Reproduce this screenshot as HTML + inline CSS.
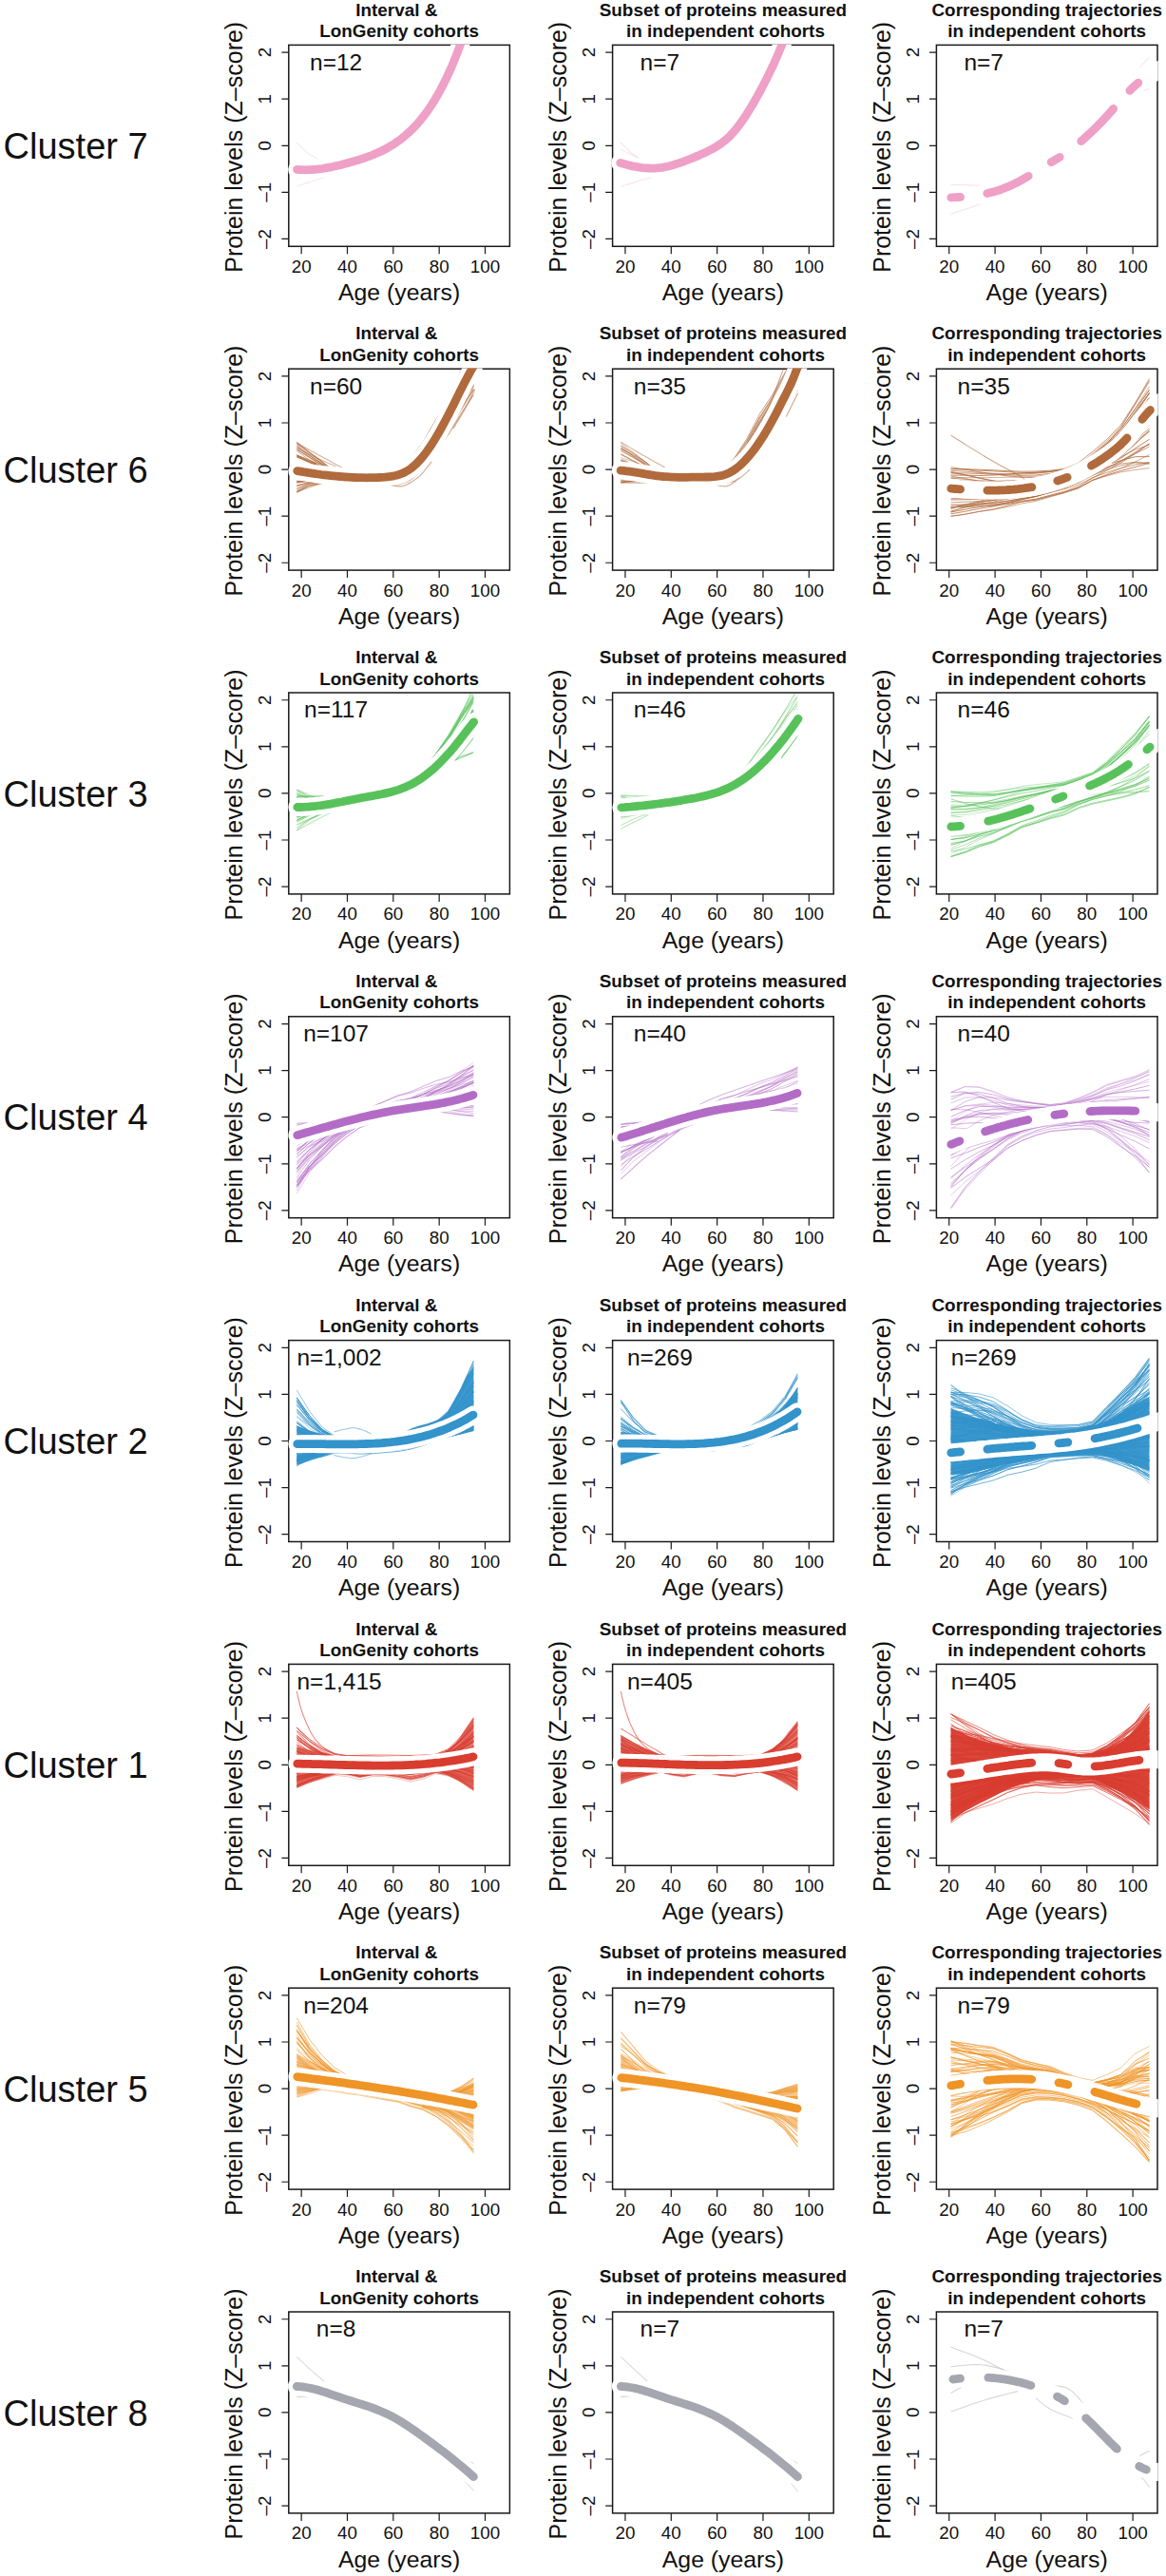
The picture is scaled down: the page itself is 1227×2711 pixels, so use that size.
<!DOCTYPE html><html><head><meta charset="utf-8"><style>html,body{margin:0;padding:0;background:#fff;}svg{display:block;} text{font-family:"Liberation Sans",sans-serif;fill:#111}.a{font-size:18.8px;text-anchor:middle}.b{font-size:24.8px;text-anchor:middle}.c{font-size:18.9px;font-weight:bold;text-anchor:middle}.n{font-size:24.5px;text-anchor:middle}.k{stroke:#1a1a1a;stroke-width:1.2;fill:none}.x{fill:none;stroke:#1a1a1a;stroke-width:1.5}.l{fill:none;stroke-linejoin:round}.m{fill:none;stroke-linecap:round;stroke-linejoin:round}</style></head><body>
<svg width="1227" height="2711" viewBox="0 0 1227 2711">
<rect width="1227" height="2711" fill="#fff"/>
<defs>
<clipPath id="k00"><rect x="303.10" y="46.70" width="234.00" height="213.30"/></clipPath>
<clipPath id="k01"><rect x="643.90" y="46.70" width="234.00" height="213.30"/></clipPath>
<clipPath id="k02"><rect x="984.70" y="46.70" width="234.00" height="213.30"/></clipPath>
<clipPath id="k10"><rect x="303.10" y="387.50" width="234.00" height="213.30"/></clipPath>
<clipPath id="k11"><rect x="643.90" y="387.50" width="234.00" height="213.30"/></clipPath>
<clipPath id="k12"><rect x="984.70" y="387.50" width="234.00" height="213.30"/></clipPath>
<clipPath id="k20"><rect x="303.10" y="728.30" width="234.00" height="213.30"/></clipPath>
<clipPath id="k21"><rect x="643.90" y="728.30" width="234.00" height="213.30"/></clipPath>
<clipPath id="k22"><rect x="984.70" y="728.30" width="234.00" height="213.30"/></clipPath>
<clipPath id="k30"><rect x="303.10" y="1069.10" width="234.00" height="213.30"/></clipPath>
<clipPath id="k31"><rect x="643.90" y="1069.10" width="234.00" height="213.30"/></clipPath>
<clipPath id="k32"><rect x="984.70" y="1069.10" width="234.00" height="213.30"/></clipPath>
<clipPath id="k40"><rect x="303.10" y="1409.90" width="234.00" height="213.30"/></clipPath>
<clipPath id="k41"><rect x="643.90" y="1409.90" width="234.00" height="213.30"/></clipPath>
<clipPath id="k42"><rect x="984.70" y="1409.90" width="234.00" height="213.30"/></clipPath>
<clipPath id="k50"><rect x="303.10" y="1750.70" width="234.00" height="213.30"/></clipPath>
<clipPath id="k51"><rect x="643.90" y="1750.70" width="234.00" height="213.30"/></clipPath>
<clipPath id="k52"><rect x="984.70" y="1750.70" width="234.00" height="213.30"/></clipPath>
<clipPath id="k60"><rect x="303.10" y="2091.50" width="234.00" height="213.30"/></clipPath>
<clipPath id="k61"><rect x="643.90" y="2091.50" width="234.00" height="213.30"/></clipPath>
<clipPath id="k62"><rect x="984.70" y="2091.50" width="234.00" height="213.30"/></clipPath>
<clipPath id="k70"><rect x="303.10" y="2432.30" width="234.00" height="213.30"/></clipPath>
<clipPath id="k71"><rect x="643.90" y="2432.30" width="234.00" height="213.30"/></clipPath>
<clipPath id="k72"><rect x="984.70" y="2432.30" width="234.00" height="213.30"/></clipPath>
</defs>
<text x="3.6" y="166.9" font-size="38">Cluster 7</text>
<text class="c" x="417.3" y="16.5">Interval &amp;</text>
<text class="c" x="420.1" y="38.9">LonGenity cohorts</text>
<rect class="x" x="303.80" y="47.40" width="232.60" height="211.90"/>
<text class="a" transform="translate(285.3 251.46) rotate(-90)">–2</text>
<text class="a" transform="translate(285.3 202.38) rotate(-90)">–1</text>
<text class="a" transform="translate(285.3 153.30) rotate(-90)">0</text>
<text class="a" transform="translate(285.3 104.22) rotate(-90)">1</text>
<text class="a" transform="translate(285.3 55.14) rotate(-90)">2</text>
<text class="a" x="317.15" y="286.7">20</text>
<text class="a" x="365.49" y="286.7">40</text>
<text class="a" x="413.83" y="286.7">60</text>
<text class="a" x="462.17" y="286.7">80</text>
<text class="a" x="510.51" y="286.7">100</text>
<path class="k" d="M296.4 251.46h7.4M296.4 202.38h7.4M296.4 153.30h7.4M296.4 104.22h7.4M296.4 55.14h7.4M317.15 259.3v8M365.49 259.3v8M413.83 259.3v8M462.17 259.3v8M510.51 259.3v8"/>
<text class="b" x="420.1" y="315.9">Age (years)</text>
<text class="b" style="font-size:25px" transform="translate(255.4 154.8) rotate(-90)">Protein levels (Z–score)</text>
<g clip-path="url(#k00)">
<g class="l" stroke="#EFA0C6">
<path stroke-width="1.2" stroke-opacity="0.25" d="M312.3 150.0l1.1 1.2 1.5 1.6 1.8 1.9 2 2 2 1.9 1.9 1.7 2.1 1.5 2.4 1.4 2.4 1.3 2.2 1.2 1.9 1.1 1.4 .7"/>
<path stroke-width="1.2" stroke-opacity="0.25" d="M312.3 196.3l1.6-.5 2.1-.8 2.5-.9 2.8-1 2.8-1 2.7-.9 2.8-.9 3.1-1 3.2-1 3-.9 2.5-.8 1.8-.6"/>
<path stroke-width="1.5" stroke-opacity="0.20" d="M312.3 188.1l7.3-1"/>
</g>
<path class="m" stroke="#fff" stroke-width="19.0" d="M312.6 178.4l2.8 .2 2.9 .1 2.9 .1 3.4-.1 2.9-.1 2.8-.2 2.9-.2 2.9-.4 2.8-.3 3.5-.6 2.8-.5 2.9-.5 2.9-.6 2.8-.7 2.9-.6 2.9-.8 3.4-.9 2.9-.7 2.9-.8 2.8-.9 2.9-.8 2.9-.9 3.4-1.1 2.9-.9 2.8-1 2.9-1.1 2.9-1.1 2.8-1.2 2.9-1.2 3.4-1.6 2.9-1.5 2.9-1.5 2.8-1.7 2.9-1.7 2.9-1.9 2.9-2 3.4-2.5 2.9-2.3 2.8-2.4 2.9-2.6 2.9-2.8 2.8-2.9 3.5-3.8 2.8-3.3 2.9-3.6 2.9-3.8 2.8-4 2.9-4.3 2.9-4.6 3.4-5.8 2.9-5.2 2.8-5.4 2.9-5.8 2.9-6.1 2.9-6.4 3.4-8.2 2.9-7.2 2.8-7.6 2.9-8"/>
<path class="m" stroke="#EFA0C6" stroke-width="8.8" d="M312.6 178.4l2.8 .2 2.9 .1 2.9 .1 3.4-.1 2.9-.1 2.8-.2 2.9-.2 2.9-.4 2.8-.3 3.5-.6 2.8-.5 2.9-.5 2.9-.6 2.8-.7 2.9-.6 2.9-.8 3.4-.9 2.9-.7 2.9-.8 2.8-.9 2.9-.8 2.9-.9 3.4-1.1 2.9-.9 2.8-1 2.9-1.1 2.9-1.1 2.8-1.2 2.9-1.2 3.4-1.6 2.9-1.5 2.9-1.5 2.8-1.7 2.9-1.7 2.9-1.9 2.9-2 3.4-2.5 2.9-2.3 2.8-2.4 2.9-2.6 2.9-2.8 2.8-2.9 3.5-3.8 2.8-3.3 2.9-3.6 2.9-3.8 2.8-4 2.9-4.3 2.9-4.6 3.4-5.8 2.9-5.2 2.8-5.4 2.9-5.8 2.9-6.1 2.9-6.4 3.4-8.2 2.9-7.2 2.8-7.6 2.9-8"/>
</g>
<text class="n" x="353.6" y="73.7">n=12</text>
<text class="c" x="760.9" y="16.5">Subset of proteins measured</text>
<text class="c" x="763.5" y="38.9">in independent cohorts</text>
<rect class="x" x="644.60" y="47.40" width="232.60" height="211.90"/>
<text class="a" transform="translate(626.1 251.46) rotate(-90)">–2</text>
<text class="a" transform="translate(626.1 202.38) rotate(-90)">–1</text>
<text class="a" transform="translate(626.1 153.30) rotate(-90)">0</text>
<text class="a" transform="translate(626.1 104.22) rotate(-90)">1</text>
<text class="a" transform="translate(626.1 55.14) rotate(-90)">2</text>
<text class="a" x="657.95" y="286.7">20</text>
<text class="a" x="706.29" y="286.7">40</text>
<text class="a" x="754.63" y="286.7">60</text>
<text class="a" x="802.97" y="286.7">80</text>
<text class="a" x="851.31" y="286.7">100</text>
<path class="k" d="M637.2 251.46h7.4M637.2 202.38h7.4M637.2 153.30h7.4M637.2 104.22h7.4M637.2 55.14h7.4M657.95 259.3v8M706.29 259.3v8M754.63 259.3v8M802.97 259.3v8M851.31 259.3v8"/>
<text class="b" x="760.9" y="315.9">Age (years)</text>
<text class="b" style="font-size:25px" transform="translate(596.2 154.8) rotate(-90)">Protein levels (Z–score)</text>
<g clip-path="url(#k01)">
<g class="l" stroke="#EFA0C6">
<path stroke-width="1.2" stroke-opacity="0.30" d="M653.3 150.0l1.2 1.2 1.5 1.6 1.9 1.9 1.9 2 2 1.9 1.8 1.7 1.9 1.5 2 1.4 1.9 1.3 1.9 1.2 1.5 1.1 1.1 .7"/>
<path stroke-width="1.2" stroke-opacity="0.25" d="M653.3 157.2l18.6 9.3"/>
<path stroke-width="1.2" stroke-opacity="0.30" d="M653.3 196.3l1.8-.5 2.5-.8 3-.9 3.1-1 3.2-1 2.9-.9 3-.9 3.1-1 3.2-1 2.9-.9 2.5-.8 1.8-.6"/>
</g>
<path class="m" stroke="#fff" stroke-width="19.0" d="M652.7 171.5l3 .8 2.9 .8 3 .8 2.9 .7 2.9 .6 3 .5 2.9 .5 3 .4 2.9 .3 2.9 .1 3 .1 2.9 0 3-.2 2.9-.3 2.4-.3 3-.5 2.9-.6 3-.7 2.9-.8 2.9-.9 3-.9 2.9-1 3-1.1 2.9-1.1 2.9-1.2 3-1.2 2.9-1.2 3-1.2 2.9-1.3 2.9-1.3 3-1.4 2.9-1.5 3-1.5 2.9-1.7 2.9-1.8 3-1.9 2.9-2.1 3-2.4 2.9-2.6 2.9-3.1 3-3.3 2.9-3.6 3-3.9 2.9-4.1 2.5-3.6 2.9-4.6 2.9-4.7 3-5 2.9-5.1 3-5.4 2.9-5.4 2.9-5.7 3-5.7 2.9-6 3-6.2 2.9-6.5 2.9-6.9 3-7.2 2.9-7.7"/>
<path class="m" stroke="#EFA0C6" stroke-width="8.8" d="M652.7 171.5l3 .8 2.9 .8 3 .8 2.9 .7 2.9 .6 3 .5 2.9 .5 3 .4 2.9 .3 2.9 .1 3 .1 2.9 0 3-.2 2.9-.3 2.4-.3 3-.5 2.9-.6 3-.7 2.9-.8 2.9-.9 3-.9 2.9-1 3-1.1 2.9-1.1 2.9-1.2 3-1.2 2.9-1.2 3-1.2 2.9-1.3 2.9-1.3 3-1.4 2.9-1.5 3-1.5 2.9-1.7 2.9-1.8 3-1.9 2.9-2.1 3-2.4 2.9-2.6 2.9-3.1 3-3.3 2.9-3.6 3-3.9 2.9-4.1 2.5-3.6 2.9-4.6 2.9-4.7 3-5 2.9-5.1 3-5.4 2.9-5.4 2.9-5.7 3-5.7 2.9-6 3-6.2 2.9-6.5 2.9-6.9 3-7.2 2.9-7.7"/>
</g>
<text class="n" x="694.4" y="73.7">n=7</text>
<text class="c" x="1101.7" y="16.5">Corresponding trajectories</text>
<text class="c" x="1101.7" y="38.9">in independent cohorts</text>
<rect class="x" x="985.40" y="47.40" width="232.60" height="211.90"/>
<text class="a" transform="translate(966.9 251.46) rotate(-90)">–2</text>
<text class="a" transform="translate(966.9 202.38) rotate(-90)">–1</text>
<text class="a" transform="translate(966.9 153.30) rotate(-90)">0</text>
<text class="a" transform="translate(966.9 104.22) rotate(-90)">1</text>
<text class="a" transform="translate(966.9 55.14) rotate(-90)">2</text>
<text class="a" x="998.75" y="286.7">20</text>
<text class="a" x="1047.09" y="286.7">40</text>
<text class="a" x="1095.43" y="286.7">60</text>
<text class="a" x="1143.77" y="286.7">80</text>
<text class="a" x="1192.11" y="286.7">100</text>
<path class="k" d="M978.0 251.46h7.4M978.0 202.38h7.4M978.0 153.30h7.4M978.0 104.22h7.4M978.0 55.14h7.4M998.75 259.3v8M1047.09 259.3v8M1095.43 259.3v8M1143.77 259.3v8M1192.11 259.3v8"/>
<text class="b" x="1101.7" y="315.9">Age (years)</text>
<text class="b" style="font-size:25px" transform="translate(937.0 154.8) rotate(-90)">Protein levels (Z–score)</text>
<g clip-path="url(#k02)">
<g class="l" stroke="#EFA0C6">
<path stroke-width="1.2" stroke-opacity="0.30" d="M1000.6 194.3l1.6 0 2.3 .1 2.7 0 3 .1 3 .1 2.8 .1 2.9 .1 3.1 .1 3.2 .1 3 .1 2.5 .1 1.8 .1"/>
<path stroke-width="1.2" stroke-opacity="0.30" d="M1000.6 225.1l2.1-.6 3-.9 3.5-1.1 3.7-1.2 3.8-1.2 3.4-1.1 3.4-1.3 3.5-1.3 3.6-1.4 3.3-1.3 2.7-1.2 2-.7"/>
<path stroke-width="1.2" stroke-opacity="0.25" d="M1199.2 70.8l10.3-10.3"/>
<path stroke-width="1.2" stroke-opacity="0.25" d="M1203.3 95.5l6.2-2.1"/>
</g>
<path class="m" stroke="#fff" stroke-width="19.0" d="M1001.6 207.8l3.4-.1 4.6-.3 3.5-.2 3.4-.3 3.4-.3 4.6-.5 3.5-.5 3.4-.6 3.4-.6 4.6-1 3.5-.9 3.4-.9 3.5-1 4.5-1.6 3.5-1.3 3.4-1.4 3.5-1.6 4.6-2.2 3.4-1.8 3.4-1.9 3.5-2 4.6-2.7 3.4-2.1 3.5-2.1 3.4-2.1 4.6-2.8 3.4-2.1 3.5-2.1 3.4-2 4.6-2.7 3.4-2.2 3.5-2.3 3.4-2.4 4.6-3.4 3.5-2.7 3.4-2.9 3.4-2.9 4.6-4.1 3.5-3.2 3.4-3.3 3.4-3.4 4.6-4.7 3.5-3.6 3.4-3.8 3.5-3.8 4.5-5.2 3.5-4 3.4-3.9 3.5-3.9 4.6-4.8 3.4-3.3 3.4-3.1 3.5-2.9 4.6-3.4 3.4-2.3 3.5-2.1 3.4-1.9 4.6-2.2 3.4-1.5"/>
<path class="m" stroke="#EFA0C6" stroke-width="8.8" d="M1000.8 207.8l.8 0 1.1 0 1.2-.1 1.1 0 1.2-.1 1.1 0 1.2-.1 1.1-.1 1 0M1038.8 203.5l1.8-.4 2.3-.6 2.3-.6 2.3-.6 2.3-.7 2.3-.8 2.2-.8 2.3-.9 2.3-.9 3.5-1.4 2.3-1.1 2.3-1.1 2.3-1.1 2.3-1.2 2.2-1.2 2.3-1.3 2.3-1.3 2.3-1.3 1.5-.9M1106.2 170.7l.9-.5 1.2-.7 1.1-.7 1.2-.7 1.1-.7 1.2-.6 1.1-.7 1.1-.7 .1-.1M1137.7 148.6l1.5-1.3 1.2-1 2.3-2.1 2.3-2.1 1.1-1 2.3-2.2 1.2-1.1 2.3-2.2 2.2-2.3 1.2-1.2 2.3-2.3 2.3-2.4 1.1-1.2 2.3-2.5 1.2-1.2 2.3-2.5 2.3-2.6 1.1-1.3 1.4-1.6M1188.9 95.3l.8-.8 1.2-1.2 1.1-1 1.1-1.1 1.2-1 1.1-1 1.2-1 1.1-.9 .1-.1"/>
</g>
<text class="n" x="1035.2" y="73.7">n=7</text>
<text x="3.6" y="507.8" font-size="38">Cluster 6</text>
<text class="c" x="417.3" y="357.3">Interval &amp;</text>
<text class="c" x="420.1" y="379.7">LonGenity cohorts</text>
<rect class="x" x="303.80" y="388.20" width="232.60" height="211.90"/>
<text class="a" transform="translate(285.3 592.26) rotate(-90)">–2</text>
<text class="a" transform="translate(285.3 543.18) rotate(-90)">–1</text>
<text class="a" transform="translate(285.3 494.10) rotate(-90)">0</text>
<text class="a" transform="translate(285.3 445.02) rotate(-90)">1</text>
<text class="a" transform="translate(285.3 395.94) rotate(-90)">2</text>
<text class="a" x="317.15" y="627.5">20</text>
<text class="a" x="365.49" y="627.5">40</text>
<text class="a" x="413.83" y="627.5">60</text>
<text class="a" x="462.17" y="627.5">80</text>
<text class="a" x="510.51" y="627.5">100</text>
<path class="k" d="M296.4 592.26h7.4M296.4 543.18h7.4M296.4 494.10h7.4M296.4 445.02h7.4M296.4 395.94h7.4M317.15 600.1v8M365.49 600.1v8M413.83 600.1v8M462.17 600.1v8M510.51 600.1v8"/>
<text class="b" x="420.1" y="656.7">Age (years)</text>
<text class="b" style="font-size:25px" transform="translate(255.4 495.6) rotate(-90)">Protein levels (Z–score)</text>
<g clip-path="url(#k10)">
<g class="l" stroke="#B06A3C">
<path stroke-width="1.0" stroke-opacity="0.64" d="M312.3 511.1l13.3-3.4 13.3-1.5 13.3-.9 13.3 .5 13.3 .1 13.3 0 13.3-.4 13.3 .2 13.3-5.7 13.3-13 13.2-19.7 13.3-22.7 13.3-26.7 13.3-25.2"/>
<path stroke-width="1.0" stroke-opacity="0.53" d="M312.3 507.5l13.3-1.5 13.3-.6 13.3-.5 13.3 .7 13.3 .5 13.3 .4 13.3 .4 13.3 1.8 13.3-3.9 13.3-11.4 13.2-18.5 13.3-17.2 13.3-22 13.3-19.9"/>
<path stroke-width="1.0" stroke-opacity="0.61" d="M312.3 478.8l13.3 5.4 13.3 6 13.3 7.7 13.3 .7 13.3 .8 13.3 .7 13.3-.2 13.3-4.8 13.3-12.2 13.3-17.8 13.2-22.9 13.3-20.3 13.3-23.5 13.3-22.2"/>
<path stroke-width="1.0" stroke-opacity="0.55" d="M312.3 489.8l13.3 2.1 13.3 2.8 13.3 4.4 13.3 .9 13.3 .6 13.3 .4 13.3-.5 13.3-4.5 13.3-11.5 13.3-17.6 13.2-22.9 13.3-21 13.3-23.9 13.3-22.7"/>
<path stroke-width="1.0" stroke-opacity="0.40" d="M312.3 496.7l13.3 2 13.3 1.5 13.3 1.2 13.3 1.4 13.3 .6 13.3 .1 13.3-.8 13.3-1.3 13.3-6.3 13.3-12.8 13.2-18.8 13.3-22.8 13.3-25.2 13.3-23.2"/>
<path stroke-width="1.0" stroke-opacity="0.66" d="M312.3 466.6l13.3 10.4 13.3 9.7 13.3 10.4 13.3 1.4 13.3 1.4 13.3 1 13.3-.4 13.3-4.4 13.3-10.8 13.3-16.2 13.2-21.2 13.3-21.2 13.3-24.3 13.3-23.2"/>
<path stroke-width="1.0" stroke-opacity="0.68" d="M312.3 494.8l13.3 .7 13.3 1.2 13.3 2.7 13.3 1 13.3 .7 13.3 .5 13.3-.5 13.3-4.2 13.3-11.2 13.3-17.3 13.2-22.5 13.3-21.4 13.3-24.2 13.3-22.8"/>
<path stroke-width="1.0" stroke-opacity="0.69" d="M312.3 480.8l13.3 5.8 13.3 5.3 13.3 6.4 13.3 1.2 13.3 1 13.3 .7 13.3-.4 13.3-4.6 13.3-12 13.3-18.2 13.2-23.9 13.3-21.3 13.3-24.1 13.3-22.9"/>
<path stroke-width="1.0" stroke-opacity="0.68" d="M312.3 508.2l13.3-2.5 13.3-1.1 13.3-.6 13.3 .5 13.3 .3 13.3 0 13.3-.5 13.3-.7 13.3-6.4 13.3-13.5 13.2-19.9 13.3-24.5 13.3-27.5 13.3-26.1"/>
<path stroke-width="1.0" stroke-opacity="0.41" d="M312.3 502.9l13.3-.3 13.3 .1 13.3 .3 13.3 .9 13.3 .5 13.3 0 13.3-.5 13.3-.6 13.3-5.9 13.3-12.8 13.2-19.2 13.3-22.6 13.3-25.7 13.3-23.7"/>
<path stroke-width="1.0" stroke-opacity="0.43" d="M312.3 488.2l13.3 3.4 13.3 3.4 13.3 4.4 13.3 1.1 13.3 .7 13.3 .4 13.3-.6 13.3-4.4 13.3-11.5 13.3-18.1 13.2-24 13.3-21.8 13.3-24.4 13.3-23"/>
<path stroke-width="1.0" stroke-opacity="0.66" d="M312.3 511.9l13.3-3.9 13.3-1.8 13.3-1 13.3 .3 13.3 .2 13.3 0 13.3-.3 13.3 .1 13.3-5.4 13.3-12.7 13.2-19.2 13.3-21.5 13.3-25.2 13.3-23.5"/>
<path stroke-width="1.0" stroke-opacity="0.39" d="M312.3 473.5l13.3 8.4 13.3 7.8 13.3 8.4 13.3 1.2 13.3 1 13.3 .7 13.3-.3 13.3-3.3 13.3-8.7 13.3-14 13.2-18.9 13.3-22.1 13.3-25.1 13.3-23.6"/>
<path stroke-width="1.0" stroke-opacity="0.53" d="M312.3 496.6l13.3 2.8 13.3 1.7 13.3 1.2 13.3 1.5 13.3 .8 13.3 .4 13.3-.1 13.3 .5 13.3-4.7 13.3-11.7 13.2-18.4 13.3-18.6 13.3-22.4 13.3-20.1"/>
<path stroke-width="1.0" stroke-opacity="0.39" d="M312.3 502.2l13.3-.1 13.3 .3 13.3 .4 13.3 1.1 13.3 .6 13.3 .2 13.3-.4 13.3-.4 13.3-5.6 13.3-12.6 13.2-19 13.3-21.7 13.3-24.8 13.3-22.7"/>
<path stroke-width="1.0" stroke-opacity="0.66" d="M312.3 472.8l13.3 8.4 13.3 7.9 13.3 8.6 13.3 1.1 13.3 1 13.3 .9 13.3-.2 13.3-4 13.3-10.4 13.3-16.1 13.2-21.3 13.3-21.6 13.3-24.5 13.3-23"/>
<path stroke-width="1.0" stroke-opacity="0.44" d="M312.3 497.3l13.3 2.4 13.3 1.5 13.3 1 13.3 1.3 13.3 .7 13.3 .3 13.3-.2 13.3 0 13.3-5.2 13.3-12.2 13.2-18.8 13.3-20.5 13.3-24.1 13.3-22"/>
<path stroke-width="1.0" stroke-opacity="0.50" d="M312.3 465.4l13.3 10.1 13.3 9.9 13.3 11.4 13.3 1 13.3 1.3 13.3 1.1 13.3-.2 13.3-5.1 13.3-12.1 13.3-17.4 13.2-22 13.3-20.1 13.3-23.4 13.3-22.4"/>
<path stroke-width="1.0" stroke-opacity="0.68" d="M312.3 502.8l13.3 .3 13.3 .4 13.3 .3 13.3 1.1 13.3 .7 13.3 .4 13.3 0 13.3 .6 13.3-4.9 13.3-12.2 13.2-19 13.3-19.6 13.3-23.8 13.3-22"/>
<path stroke-width="1.0" stroke-opacity="0.55" d="M312.3 518.3l13.3-7.4 13.3-3.5 13.3-2 13.3 .1 13.3 .2 13.3-.2 13.3-.7 13.3-1.1 13.3-6.8 13.3-13.9 13.2-20 13.3-24.7 13.3-27.6 13.3-25.7"/>
<path stroke-width="1.0" stroke-opacity="0.39" d="M312.3 490.9l13.3 2.5 13.3 2.6 13.3 3.7 13.3 1.2 13.3 .7 13.3 .3 13.3-.8 13.3-3.3 13.3-8.9 13.3-14.7 13.2-20.1 13.3-22.5 13.3-25.2 13.3-23.6"/>
<path stroke-width="1.0" stroke-opacity="0.56" d="M312.3 465.5l13.3 10.4 13.3 10 13.3 10.9 13.3 1.3 13.3 1.5 13.3 1.1 13.3-.1 13.3-4.2 13.3-10.4 13.3-15.4 13.2-20.1 13.3-21.1 13.3-24.3 13.3-22.9"/>
<path stroke-width="1.0" stroke-opacity="0.46" d="M312.3 466.9l13.3 9.4 13.3 9.5 13.3 10.9 13.3 1.1 13.3 1.2 13.3 1.1 13.3-.1 13.3-5.1 13.3-12.2 13.3-17.6 13.2-22.4 13.3-20 13.3-23.4 13.3-22.4"/>
<path stroke-width="1.0" stroke-opacity="0.54" d="M312.3 474.5l13.3 9.6 13.3 7.9 13.3 6.9 13.3 1.7 13.3 1.3 13.3 .6 13.3-.6 13.3-.8 13.3-5.1 13.3-11.4 13.2-17.6 13.3-19.4 13.3-21.8 13.3-19.2"/>
<path stroke-width="1.0" stroke-opacity="0.36" d="M312.3 469.1l13.3 12 13.3 9.8 13.3 8.2 13.3 1.8 13.3 1.1 13.3 .4 13.3-.2 13.3 0 13.3-4.1 13.3-10.7 13.2-17.2 13.3-17.6 13.3-20.8 13.3-18"/>
<path stroke-width="1.0" stroke-opacity="0.38" d="M312.3 467.8l13.3 11 13.3 9.6 13.3 9.4 13.3 1.4 13.3 1.3 13.3 .8 13.3-.3 13.3-3.1 13.3-8.4 13.3-14.1 13.2-19.3 13.3-22.9 13.3-25.5 13.3-23.9"/>
<path stroke-width="1.0" stroke-opacity="0.42" d="M312.3 507.2l13.3-1.2 13.3-.5 13.3-.3 13.3 .8 13.3 .5 13.3 .3 13.3 .1 13.3 1.4 13.3-4.5 13.3-12.1 13.2-19.1 13.3-19.1 13.3-24 13.3-22.3"/>
<path stroke-width="1.0" stroke-opacity="0.37" d="M312.3 516.0l13.3-4.8 13.3-2.3 13.3-1.5 13.3 .3 13.3 .3 13.3 .3 13.3 .2 13.3 2 13.3-4.3 13.3-12.3 13.2-19.5 13.3-18.6 13.3-24 13.3-22.7"/>
<path stroke-width="1.0" stroke-opacity="0.54" d="M312.3 486.5l13.3 5.1 13.3 4.1 13.3 3.9 13.3 1.4 13.3 .9 13.3 .4 13.3-.7 13.3-2.8 13.3-8.5 13.3-14.9 13.2-21 13.3-23.6 13.3-25.9 13.3-24.1"/>
<path stroke-width="1.0" stroke-opacity="0.47" d="M312.3 505.1l13.3-2.9 13.3-.8 13.3 0 13.3 .7 13.3 .1 13.3-.1 13.3-.9 13.3-3.5 13.3-10.4 13.3-17.1 13.2-23 13.3-22.5 13.3-24.9 13.3-23.2"/>
<path stroke-width="1.0" stroke-opacity="0.53" d="M312.3 507.8l13.3-3.3 13.3-1.1 13.3-.3 13.3 .7 13.3 .2 13.3-.3 13.3-1.1 13.3-1.7 13.3-6.7 13.3-13.3 13.2-19.4 13.3-24.6 13.3-26.8 13.3-24.6"/>
<path stroke-width="1.0" stroke-opacity="0.44" d="M312.3 479.6l13.3 7.4 13.3 6.4 13.3 5.8 13.3 1.6 13.3 1.1 13.3 .6 13.3-.4 13.3-.7 13.3-5 13.3-11.1 13.2-17.4 13.3-18.5 13.3-20.9 13.3-17.7"/>
<path stroke-width="1.0" stroke-opacity="0.63" d="M312.3 469.0l13.3 10.2 13.3 9.2 13.3 9.3 13.3 1.4 13.3 1.2 13.3 .9 13.3-.3 13.3-3.5 13.3-8.9 13.3-14.5 13.2-19.7 13.3-22.4 13.3-25.1 13.3-23.7"/>
<path stroke-width="1.0" stroke-opacity="0.44" d="M312.3 501.9l13.3 .8 13.3 .7 13.3 .4 13.3 1.1 13.3 .8 13.3 .4 13.3 .3 13.3 1.3 13.3-4 13.3-11.4 13.2-18.3 13.3-17.2 13.3-21.6 13.3-19.5"/>
<path stroke-width="1.0" stroke-opacity="0.46" d="M312.3 514.4l13.3-5.1 13.3-2.4 13.3-1.3 13.3 .4 13.3 .2 13.3-.1 13.3-.5 13.3-.4 13.3-6.2 13.3-13.6 13.2-20 13.3-23.8 13.3-27.5 13.3-26.3"/>
<path stroke-width="1.0" stroke-opacity="0.68" d="M312.3 470.5l13.3 8.8 13.3 8.4 13.3 9.7 13.3 1.1 13.3 1.2 13.3 .9 13.3-.2 13.3-4.9 13.3-12 13.3-17.8 13.2-22.9 13.3-20.7 13.3-23.8 13.3-22.5"/>
<path stroke-width="1.0" stroke-opacity="0.66" d="M312.3 489.8l13.3 3.3 13.3 3 13.3 3.7 13.3 1.3 13.3 .7 13.3 .2 13.3-.9 13.3-3.7 13.3-10.1 13.3-16.5 13.2-22.4 13.3-22.4 13.3-25.1 13.3-23.5"/>
<path stroke-width="1.0" stroke-opacity="0.67" d="M312.3 500.0l13.3 .7 13.3 .7 13.3 .8 13.3 1.2 13.3 .7 13.3 .2 13.3-.3 13.3-.3 13.3-5.3 13.3-12 13.2-18.5 13.3-20.2 13.3-23.2 13.3-20.8"/>
<path stroke-width="1.0" stroke-opacity="0.50" d="M312.3 501.0l13.3-.2 13.3 .4 13.3 .7 13.3 .9 13.3 .3 13.3-.2 13.3-.9 13.3-1.7 13.3-6.5 13.3-12.9 13.2-18.9 13.3-23.8 13.3-25.8 13.3-23.5"/>
<path stroke-width="1.0" stroke-opacity="0.50" d="M312.3 510.8l13.3-3.3 13.3-1.5 13.3-.9 13.3 .4 13.3 .2 13.3 .1 13.3-.4 13.3 0 13.3-5.9 13.3-13.2 13.2-20 13.3-23.2 13.3-26.9 13.3-25.5"/>
<path stroke-width="1.0" stroke-opacity="0.60" d="M312.3 478.8l13.3 7.3 13.3 6.4 13.3 6.5 13.3 1.2 13.3 .8 13.3 .4 13.3-.6 13.3-3.3 13.3-9 13.3-15.1 13.2-20.6 13.3-22.8 13.3-25.4 13.3-23.8"/>
<path stroke-width="1.0" stroke-opacity="0.54" d="M312.3 506.6l13.3-2 13.3-.7 13.3-.3 13.3 .7 13.3 .4 13.3-.1 13.3-.6 13.3-1 13.3-6.4 13.3-13.5 13.2-19.7 13.3-24.2 13.3-27.2 13.3-25.7"/>
<path stroke-width="1.0" stroke-opacity="0.56" d="M312.3 481.0l13.3 4.9 13.3 5.3 13.3 6.8 13.3 .9 13.3 .9 13.3 .8 13.3-.3 13.3-4.8 13.3-12.1 13.3-18 13.2-23.2 13.3-20.7 13.3-23.7 13.3-22.4"/>
<path stroke-width="1.0" stroke-opacity="0.57" d="M312.3 480.5l13.3 5.4 13.3 5.5 13.3 6.9 13.3 1 13.3 1 13.3 .7 13.3-.3 13.3-4.2 13.3-10.5 13.3-16 13.2-21 13.3-21.3 13.3-24.2 13.3-22.9"/>
<path stroke-width="1.0" stroke-opacity="0.68" d="M312.3 514.3l13.3-5.3 13.3-2.3 13.3-1.3 13.3 .4 13.3 .1 13.3-.1 13.3-.7 13.3-.7 13.3-6.5 13.3-13.6 13.2-20 13.3-23.9 13.3-27.3 13.3-25.9"/>
<path stroke-width="1.0" stroke-opacity="0.49" d="M312.3 499.6l13.3 1.3 13.3 1 13.3 .8 13.3 1.1 13.3 .6 13.3 .1 13.3-.3 13.3-.1 13.3-5.1 13.3-12 13.2-18.4 13.3-19.6 13.3-22.9 13.3-20.7"/>
<path stroke-width="1.0" stroke-opacity="0.55" d="M312.3 518.2l13.3-6.9 13.3-3.3 13.3-2 13.3 0 13.3-.1 13.3-.2 13.3-.6 13.3-.6 13.3-6.6 13.3-14 13.2-20.4 13.3-25.4 13.3-28.5 13.3-25.7"/>
<path stroke-width="1.0" stroke-opacity="0.63" d="M312.3 494.4l13.3 1.4 13.3 1.6 13.3 2.7 13.3 .9 13.3 .4 13.3 .2 13.3-.8 13.3-4 13.3-10.8 13.3-17.3 13.2-23 13.3-22 13.3-24.5 13.3-23"/>
<path stroke-width="1.0" stroke-opacity="0.57" d="M312.3 472.6l13.3 8.4 13.3 8 13.3 8.8 13.3 1 13.3 1 13.3 .8 13.3-.3 13.3-4.6 13.3-11.5 13.3-17.5 13.2-22.9 13.3-21.2 13.3-24.1 13.3-22.9"/>
<path stroke-width="1.0" stroke-opacity="0.43" d="M312.3 503.9l13.3-.2 13.3 .1 13.3 .1 13.3 1.2 13.3 .7 13.3 .3 13.3 0 13.3 .5 13.3-4.9 13.3-12.3 13.2-19.1 13.3-19.7 13.3-23.8 13.3-21.9"/>
<path stroke-width="1.0" stroke-opacity="0.36" d="M312.3 503.8l13.3-1 13.3-.1 13.3 .2 13.3 .9 13.3 .4 13.3 0 13.3-.6 13.3-1.1 13.3-6.3 13.3-13 13.2-19.3 13.3-23.2 13.3-25.9 13.3-24"/>
<path stroke-width="1.0" stroke-opacity="0.39" d="M312.3 497.5l13.3 1.1 13.3 1.1 13.3 1.1 13.3 1 13.3 .4 13.3 0 13.3-.9 13.3-3 13.3-9.3 13.3-16.1 13.2-22.4 13.3-23.3 13.3-25.6 13.3-23.8"/>
<path stroke-width="1.0" stroke-opacity="0.49" d="M312.3 492.1l13.3 2 13.3 2.2 13.3 3.3 13.3 1.1 13.3 .6 13.3 .3 13.3-.7 13.3-4.1 13.3-10.9 13.3-17.2 13.2-23 13.3-21.9 13.3-24.6 13.3-23.1"/>
<path stroke-width="1.0" stroke-opacity="0.49" d="M312.3 517.0l13.3-6.2 13.3-2.9 13.3-1.7 13.3 .3 13.3 .3 13.3 .1 13.3 0 13.3 1.1 13.3-4.7 13.3-12.1 13.2-18.9 13.3-18.8 13.3-22.9 13.3-20.8"/>
<path stroke-width="1.0" stroke-opacity="0.59" d="M312.3 517.0l13.3-8.1 13.3-3.5 13.3-1.7 13.3-.1 13.3-.4 13.3-.7 13.3-1.2 13.3-3.5 13.3-10.7 13.3-18.2 13.2-24.7 13.3-22.9 13.3-25 13.3-23.3"/>
<path stroke-width="1.1" stroke-opacity="0.50" d="M312.3 466.3l2.8 1.5 3.7 2 4.5 2.4 4.8 2.6 4.7 2.6 4.2 2.3 4.2 2.2 4.4 2.4 4.3 2.4 4 2.2 3.4 1.8 2.4 1.3"/>
<path stroke-width="1.1" stroke-opacity="0.50" d="M312.3 471.4l2.3 1.2 3.1 1.6 3.7 1.8 3.9 2 4 2 3.6 1.7 3.7 1.8 4 1.7 3.9 1.8 3.7 1.6 3.1 1.4 2.2 1"/>
<path stroke-width="1.6" stroke-opacity="0.70" d="M312.3 479.7l1.2 .4 1.5 .6 1.9 .8 1.9 .8 2 .8 1.8 .7 1.9 .7 2 .8 1.9 .8 1.9 .7 1.5 .7 1.1 .4"/>
<path stroke-width="1.4" stroke-opacity="0.60" d="M312.3 506.4l1.4 .1 1.8 0 2.1 .1 2.4 .1 2.4 .1 2.3 .1 2.4 .1 2.8 .1 2.8 .1 2.6 .1 2.2 .1 1.6 .1"/>
<path stroke-width="1.1" stroke-opacity="0.50" d="M312.3 517.8l1.6-.6 2.2-.8 2.6-.9 2.7-1 2.8-1 2.6-.9 2.5-.9 2.8-1 2.8-1 2.5-.9 2.2-.8 1.6-.5"/>
<path stroke-width="1.1" stroke-opacity="0.60" d="M458.5 452.9l1.6-3.6 2.2-5 2.6-5.9 2.8-6.4 2.7-6.3 2.5-5.7 2.3-5.6 2.4-6 2.4-5.9 2.1-5.5 1.8-4.5 1.3-3.4"/>
<path stroke-width="1.1" stroke-opacity="0.60" d="M477.0 450.9l1.4-2.3 1.9-3.1 2.2-3.6 2.4-4 2.4-3.9 2.1-3.7 1.9-3.7 2-3.9 2-4 1.8-3.7 1.5-3.1 1.1-2.2"/>
<path stroke-width="1.1" stroke-opacity="0.60" d="M407.0 509.5l1.8 .4 2.5 .6 2.9 .6 3.2 .6 3.2 .2 2.9-.3 2.8-.8 2.8-1.2 2.8-1.5 2.7-1.7 2.7-2 2.7-2.1 2.7-2.5 2.8-3 2.7-3.3 2.5-3.1 2.1-2.7 1.6-1.8"/>
</g>
<path class="m" stroke="#fff" stroke-width="19.0" d="M312.8 495.6l3.4 .6 2.7 .5 3.5 .5 2.7 .4 3.5 .6 3.4 .5 2.7 .3 3.5 .5 2.7 .3 3.5 .4 3.4 .4 2.8 .3 3.4 .3 3.4 .3 2.8 .2 3.4 .3 2.8 .2 3.4 .2 3.4 .1 2.8 .1 3.4 .1 2.8 0 3.4 .1 3.4-.1 2.8 0 3.4-.1 2.8-.1 3.4-.2 3.4-.2 2.8-.3 3.4-.4 3.5-.6 2.7-.6 3.4-1 2.8-1 3.4-1.7 3.5-2 2.7-2 3.4-2.8 2.8-2.7 3.4-3.7 3.5-4.1 2.7-3.6 3.4-4.9 2.8-4.2 3.4-5.5 3.5-5.9 2.7-4.9 3.4-6.3 3.5-6.6 2.7-5.4 3.5-6.9 2.7-5.6 3.5-7 3.4-6.8 2.7-5.3 3.5-6.4 2.7-4.9 3.5-5.9"/>
<path class="m" stroke="#B06A3C" stroke-width="8.8" d="M312.8 495.6l3.4 .6 2.7 .5 3.5 .5 2.7 .4 3.5 .6 3.4 .5 2.7 .3 3.5 .5 2.7 .3 3.5 .4 3.4 .4 2.8 .3 3.4 .3 3.4 .3 2.8 .2 3.4 .3 2.8 .2 3.4 .2 3.4 .1 2.8 .1 3.4 .1 2.8 0 3.4 .1 3.4-.1 2.8 0 3.4-.1 2.8-.1 3.4-.2 3.4-.2 2.8-.3 3.4-.4 3.5-.6 2.7-.6 3.4-1 2.8-1 3.4-1.7 3.5-2 2.7-2 3.4-2.8 2.8-2.7 3.4-3.7 3.5-4.1 2.7-3.6 3.4-4.9 2.8-4.2 3.4-5.5 3.5-5.9 2.7-4.9 3.4-6.3 3.5-6.6 2.7-5.4 3.5-6.9 2.7-5.6 3.5-7 3.4-6.8 2.7-5.3 3.5-6.4 2.7-4.9 3.5-5.9"/>
</g>
<text class="n" x="353.6" y="414.5">n=60</text>
<text class="c" x="760.9" y="357.3">Subset of proteins measured</text>
<text class="c" x="763.5" y="379.7">in independent cohorts</text>
<rect class="x" x="644.60" y="388.20" width="232.60" height="211.90"/>
<text class="a" transform="translate(626.1 592.26) rotate(-90)">–2</text>
<text class="a" transform="translate(626.1 543.18) rotate(-90)">–1</text>
<text class="a" transform="translate(626.1 494.10) rotate(-90)">0</text>
<text class="a" transform="translate(626.1 445.02) rotate(-90)">1</text>
<text class="a" transform="translate(626.1 395.94) rotate(-90)">2</text>
<text class="a" x="657.95" y="627.5">20</text>
<text class="a" x="706.29" y="627.5">40</text>
<text class="a" x="754.63" y="627.5">60</text>
<text class="a" x="802.97" y="627.5">80</text>
<text class="a" x="851.31" y="627.5">100</text>
<path class="k" d="M637.2 592.26h7.4M637.2 543.18h7.4M637.2 494.10h7.4M637.2 445.02h7.4M637.2 395.94h7.4M657.95 600.1v8M706.29 600.1v8M754.63 600.1v8M802.97 600.1v8M851.31 600.1v8"/>
<text class="b" x="760.9" y="656.7">Age (years)</text>
<text class="b" style="font-size:25px" transform="translate(596.2 495.6) rotate(-90)">Protein levels (Z–score)</text>
<g clip-path="url(#k11)">
<g class="l" stroke="#B06A3C">
<path stroke-width="1.0" stroke-opacity="0.45" d="M653.3 484.2l13.3 5.1 13.3 5.1 13.3 5.7 13.3 1 13.3 .5 13.3 0 13.3-.4 13.3-2.1 13.3-7.6 13.3-14.2 13.2-18.4 13.3-22.1 13.3-24.8 13.3-28"/>
<path stroke-width="1.0" stroke-opacity="0.64" d="M653.3 471.4l13.3 8.4 13.3 8.9 13.3 10.4 13.3 .6 13.3 .4 13.3 .3 13.3-.3 13.3-3.4 13.3-10.9 13.3-17.5 13.2-22.1 13.3-20.9 13.3-24.3 13.3-24.1"/>
<path stroke-width="1.0" stroke-opacity="0.65" d="M653.3 507.9l13.3-1.4 13.3-.8 13.3-.6 13.3 .6 13.3 .6 13.3 .2 13.3 0 13.3 1 13.3-3.4 13.3-11.9 13.2-18.2 13.3-19 13.3-23.4 13.3-23.5"/>
<path stroke-width="1.0" stroke-opacity="0.51" d="M653.3 466.5l13.3 10 13.3 10.3 13.3 11.8 13.3 .5 13.3 .6 13.3 .5 13.3-.1 13.3-3.6 13.3-11.4 13.3-18.1 13.2-23 13.3-20.9 13.3-24.4 13.3-23.4"/>
<path stroke-width="1.0" stroke-opacity="0.66" d="M653.3 493.5l13.3 2.8 13.3 2.5 13.3 2.2 13.3 1.2 13.3 .4 13.3-.4 13.3-.6 13.3-1.4 13.3-6.2 13.3-13.1 13.2-17.6 13.3-23.3 13.3-25.8 13.3-29.4"/>
<path stroke-width="1.0" stroke-opacity="0.47" d="M653.3 494.0l13.3 2.9 13.3 2.3 13.3 1.9 13.3 1.2 13.3 .5 13.3-.3 13.3-.5 13.3-1.2 13.3-5.8 13.3-12.7 13.2-17.1 13.3-23.3 13.3-26 13.3-30.1"/>
<path stroke-width="1.0" stroke-opacity="0.42" d="M653.3 485.2l13.3 3.3 13.3 4.6 13.3 6.7 13.3 .6 13.3 .4 13.3 0 13.3-.4 13.3-3.5 13.3-11.5 13.3-18.5 13.2-23.7 13.3-21.2 13.3-24.6 13.3-23"/>
<path stroke-width="1.0" stroke-opacity="0.51" d="M653.3 495.7l13.3 1.9 13.3 2 13.3 1.8 13.3 1.3 13.3 .7 13.3 0 13.3-.1 13.3-.1 13.3-4.4 13.3-11.6 13.2-17 13.3-19.6 13.3-22.8 13.3-23.2"/>
<path stroke-width="1.0" stroke-opacity="0.69" d="M653.3 490.9l13.3 2.4 13.3 3 13.3 4 13.3 1 13.3 .4 13.3-.2 13.3-.6 13.3-2.9 13.3-10 13.3-17.8 13.2-23.5 13.3-23 13.3-26.3 13.3-24.2"/>
<path stroke-width="1.0" stroke-opacity="0.37" d="M653.3 487.8l13.3 2.4 13.3 3.8 13.3 5.9 13.3 .6 13.3 .4 13.3 0 13.3-.5 13.3-3.6 13.3-11.9 13.3-19.3 13.2-25 13.3-21.8 13.3-25.2 13.3-22.2"/>
<path stroke-width="1.0" stroke-opacity="0.69" d="M653.3 507.5l13.3-1.5 13.3-.9 13.3-.7 13.3 .5 13.3 .6 13.3 .1 13.3-.1 13.3 .3 13.3-4.6 13.3-12.8 13.2-18.3 13.3-21.4 13.3-25 13.3-27.7"/>
<path stroke-width="1.0" stroke-opacity="0.39" d="M653.3 473.8l13.3 7.9 13.3 8.2 13.3 9.4 13.3 .8 13.3 .6 13.3 .2 13.3-.4 13.3-2.7 13.3-9.1 13.3-15.2 13.2-19.3 13.3-20.9 13.3-23.9 13.3-26.6"/>
<path stroke-width="1.0" stroke-opacity="0.64" d="M653.3 504.4l13.3-.5 13.3 0 13.3 .1 13.3 .7 13.3 .6 13.3 .2 13.3 .1 13.3 .8 13.3-3.5 13.3-11.7 13.2-17.9 13.3-18.7 13.3-22.6 13.3-22.3"/>
<path stroke-width="1.0" stroke-opacity="0.50" d="M653.3 504.9l13.3-.8 13.3-.3 13.3-.1 13.3 .6 13.3 .4 13.3 0 13.3-.1 13.3 0 13.3-4.7 13.3-12.4 13.2-17.7 13.3-20.9 13.3-24.2 13.3-26.2"/>
<path stroke-width="1.0" stroke-opacity="0.36" d="M653.3 469.3l13.3 11.4 13.3 9.9 13.3 8.9 13.3 1.3 13.3 1 13.3 .2 13.3-.3 13.3-.5 13.3-4.4 13.3-11.3 13.2-16.4 13.3-19.8 13.3-22.8 13.3-23.9"/>
<path stroke-width="1.0" stroke-opacity="0.63" d="M653.3 472.1l13.3 6.6 13.3 8.2 13.3 11.5 13.3 .4 13.3 .6 13.3 .6 13.3-.1 13.3-4.5 13.3-13.7 13.3-20.6 13.2-25.7 13.3-19.9 13.3-23.5 13.3-20.5"/>
<path stroke-width="1.0" stroke-opacity="0.45" d="M653.3 502.1l13.3-.1 13.3 .2 13.3 .3 13.3 .6 13.3 .4 13.3-.1 13.3-.4 13.3-1 13.3-6 13.3-13.3 13.2-17.6 13.3-23.7 13.3-26.1 13.3-29.9"/>
<path stroke-width="1.0" stroke-opacity="0.51" d="M653.3 474.7l13.3 6.8 13.3 7.7 13.3 9.7 13.3 .6 13.3 .6 13.3 .4 13.3-.2 13.3-3.7 13.3-11.7 13.3-18.5 13.2-23.5 13.3-20.9 13.3-24.2 13.3-23"/>
<path stroke-width="1.0" stroke-opacity="0.37" d="M653.3 491.6l13.3 2 13.3 2.7 13.3 3.8 13.3 .9 13.3 .4 13.3-.1 13.3-.4 13.3-2.8 13.3-10.2 13.3-18 13.2-23.8 13.3-23 13.3-26.3 13.3-23.9"/>
<path stroke-width="1.0" stroke-opacity="0.53" d="M653.3 484.9l13.3 4.4 13.3 4.9 13.3 5.7 13.3 .9 13.3 .5 13.3 0 13.3-.4 13.3-2.7 13.3-9.4 13.3-16.6 13.2-21.6 13.3-22.3 13.3-25.3 13.3-25.4"/>
<path stroke-width="1.0" stroke-opacity="0.36" d="M653.3 485.8l13.3 3.9 13.3 4.6 13.3 5.7 13.3 .9 13.3 .6 13.3-.1 13.3-.4 13.3-2.2 13.3-8 13.3-14.2 13.2-18 13.3-21.4 13.3-24 13.3-27.9"/>
<path stroke-width="1.0" stroke-opacity="0.37" d="M653.3 472.9l13.3 8.3 13.3 8.4 13.3 9.5 13.3 1 13.3 .8 13.3 .3 13.3-.4 13.3-3.1 13.3-9.8 13.3-16.4 13.2-20.7 13.3-21.3 13.3-24.6 13.3-25.6"/>
<path stroke-width="1.0" stroke-opacity="0.43" d="M653.3 481.6l13.3 4.2 13.3 5.6 13.3 7.9 13.3 .6 13.3 .5 13.3 .2 13.3-.4 13.3-3.9 13.3-12.5 13.3-19.8 13.2-25.2 13.3-21.3 13.3-24.7 13.3-21.6"/>
<path stroke-width="1.0" stroke-opacity="0.58" d="M653.3 507.6l13.3-1.4 13.3-.9 13.3-.7 13.3 .4 13.3 .5 13.3 .2 13.3 0 13.3 .6 13.3-4 13.3-12.4 13.2-18.2 13.3-20.2 13.3-23.9 13.3-25.3"/>
<path stroke-width="1.0" stroke-opacity="0.58" d="M653.3 469.4l13.3 8 13.3 9.2 13.3 11.7 13.3 .5 13.3 .7 13.3 .7 13.3-.1 13.3-4.2 13.3-13 13.3-19.8 13.2-24.3 13.3-20 13.3-23.5 13.3-21.7"/>
<path stroke-width="1.0" stroke-opacity="0.70" d="M653.3 505.8l13.3-.2 13.3-.1 13.3-.4 13.3 .7 13.3 .6 13.3 .5 13.3 .4 13.3 1.6 13.3-2.8 13.3-11.8 13.2-18.7 13.3-18.5 13.3-23.4 13.3-23.3"/>
<path stroke-width="1.0" stroke-opacity="0.39" d="M653.3 507.5l13.3-.7 13.3-.7 13.3-.8 13.3 .7 13.3 .8 13.3 .6 13.3 .5 13.3 1.6 13.3-3.1 13.3-12.3 13.2-19 13.3-18.8 13.3-23.6 13.3-24"/>
<path stroke-width="1.0" stroke-opacity="0.38" d="M653.3 492.8l13.3 2.5 13.3 2.6 13.3 2.7 13.3 1.1 13.3 .5 13.3-.2 13.3-.5 13.3-1.5 13.3-6.7 13.3-13.5 13.2-17.8 13.3-22.8 13.3-25.4 13.3-28.9"/>
<path stroke-width="1.0" stroke-opacity="0.38" d="M653.3 468.7l13.3 8.2 13.3 9.6 13.3 12.2 13.3 .5 13.3 .6 13.3 .4 13.3-.4 13.3-4.3 13.3-12.7 13.3-19.1 13.2-23.5 13.3-19.7 13.3-23.4 13.3-22.2"/>
<path stroke-width="1.0" stroke-opacity="0.61" d="M653.3 478.4l13.3 6.9 13.3 6.8 13.3 7.4 13.3 1.1 13.3 .7 13.3 .1 13.3-.3 13.3-2.7 13.3-9.4 13.3-16.4 13.2-21.4 13.3-22.3 13.3-25.4 13.3-25.7"/>
<path stroke-width="1.0" stroke-opacity="0.43" d="M653.3 489.0l13.3 3.4 13.3 3.5 13.3 4.1 13.3 1 13.3 .6 13.3 0 13.3-.4 13.3-2.6 13.3-9.6 13.3-17.3 13.2-23.1 13.3-23.3 13.3-26.4 13.3-24.7"/>
<path stroke-width="1.0" stroke-opacity="0.39" d="M653.3 500.6l13.3 1.1 13.3 1 13.3 .6 13.3 1 13.3 .7 13.3 .3 13.3 .3 13.3 1.2 13.3-3.2 13.3-11.4 13.2-17.9 13.3-18.4 13.3-22.8 13.3-22.4"/>
<path stroke-width="1.0" stroke-opacity="0.51" d="M653.3 471.9l13.3 7.9 13.3 8.5 13.3 10.5 13.3 .6 13.3 .7 13.3 .5 13.3-.2 13.3-3.7 13.3-11.5 13.3-18.2 13.2-22.9 13.3-20.7 13.3-24.1 13.3-23.4"/>
<path stroke-width="1.0" stroke-opacity="0.63" d="M653.3 477.6l13.3 7.3 13.3 7.2 13.3 7.6 13.3 .9 13.3 .7 13.3 .1 13.3-.4 13.3-2.2 13.3-8.1 13.3-14.7 13.2-19 13.3-22 13.3-24.9 13.3-27.5"/>
<path stroke-width="1.0" stroke-opacity="0.41" d="M653.3 501.1l13.3 .5 13.3 .8 13.3 .7 13.3 .9 13.3 .4 13.3-.2 13.3-.4 13.3-.4 13.3-5 13.3-12.7 13.2-17.7 13.3-22.3 13.3-25.7 13.3-29.9"/>
<path stroke-width="1.1" stroke-opacity="0.50" d="M653.3 465.3l2.5 1.4 3.4 2 4 2.4 4.3 2.6 4.4 2.6 4.1 2.4 4.2 2.3 4.5 2.6 4.5 2.6 4.3 2.4 3.6 2 2.6 1.4"/>
<path stroke-width="1.5" stroke-opacity="0.50" d="M653.3 483.8l7.3 2.1"/>
<path stroke-width="1.3" stroke-opacity="0.50" d="M653.3 506.4l1.6 .1 2.2 .1 2.6 .1 2.7 .1 2.8 .2 2.6 .1 2.5 0 2.8 .1 2.8 .1 2.5 .1 2.2 0 1.6 .1"/>
<path stroke-width="1.1" stroke-opacity="0.40" d="M653.3 508.5l2 0 2.8 0 3.2 0 3.6 0 3.6 0 3.4 0 3.5 0 3.9 0 4 0 3.7 0 3.2 0 2.3 0"/>
<path stroke-width="1.1" stroke-opacity="0.60" d="M750.1 509.5l1.6 .4 2.2 .5 2.6 .6 2.8 .5 2.8 .3 2.4-.2 2.2-.6 2.1-1 2-1.2 2-1.4 2-1.5 2-1.5 2.3-1.7 2.3-1.9 2.4-2 2.2-1.9 1.9-1.7 1.3-1.1"/>
<path stroke-width="1.1" stroke-opacity="0.60" d="M793.3 463.2l1.8-4 2.6-5.6 2.9-6.6 3.2-7.1 3.2-7.1 2.8-6.6 2.7-6.6 2.8-7.2 2.7-7.1 2.5-6.6 2.1-5.6 1.6-4"/>
<path stroke-width="1.1" stroke-opacity="0.60" d="M827.3 438.5l12.3-24.7"/>
</g>
<path class="m" stroke="#fff" stroke-width="19.0" d="M653.1 495.1l3.2 .3 3.1 .4 3.2 .4 3.1 .5 3.2 .5 3.1 .5 3.1 .5 4 .7 3.1 .5 3.2 .5 3.1 .5 3.1 .4 3.2 .4 3.1 .3 3.2 .2 3.1 .2 3.1 .2 3.2 .1 3.1 .1 3.2 0 3.1 0 3.2 0 3.9-.1 3.1 0 3.2-.1 3.1 0 3.2 0 3.1-.1 3.1 0 3.2-.2 3.1-.2 3.2-.4 3.1-.5 3.2-.8 3.1-1.1 3.1-1.4 4-2.3 3.1-2.2 3.2-2.5 3.1-2.9 3.1-3.2 3.2-3.5 3.1-3.8 3.2-4 3.1-4.4 3.1-4.6 3.2-4.9 3.1-5.1 3.2-5.5 3.1-5.7 3.2-5.9 3.9-7.7 3.1-6.2 3.2-6.1 3.1-6.3 3.2-6.6 3.1-7.3 3.1-8.2 3.2-6.7"/>
<path class="m" stroke="#B06A3C" stroke-width="8.8" d="M653.1 495.1l3.2 .3 3.1 .4 3.2 .4 3.1 .5 3.2 .5 3.1 .5 3.1 .5 4 .7 3.1 .5 3.2 .5 3.1 .5 3.1 .4 3.2 .4 3.1 .3 3.2 .2 3.1 .2 3.1 .2 3.2 .1 3.1 .1 3.2 0 3.1 0 3.2 0 3.9-.1 3.1 0 3.2-.1 3.1 0 3.2 0 3.1-.1 3.1 0 3.2-.2 3.1-.2 3.2-.4 3.1-.5 3.2-.8 3.1-1.1 3.1-1.4 4-2.3 3.1-2.2 3.2-2.5 3.1-2.9 3.1-3.2 3.2-3.5 3.1-3.8 3.2-4 3.1-4.4 3.1-4.6 3.2-4.9 3.1-5.1 3.2-5.5 3.1-5.7 3.2-5.9 3.9-7.7 3.1-6.2 3.2-6.1 3.1-6.3 3.2-6.6 3.1-7.3 3.1-8.2 3.2-6.7"/>
</g>
<text class="n" x="694.4" y="414.5">n=35</text>
<text class="c" x="1101.7" y="357.3">Corresponding trajectories</text>
<text class="c" x="1101.7" y="379.7">in independent cohorts</text>
<rect class="x" x="985.40" y="388.20" width="232.60" height="211.90"/>
<text class="a" transform="translate(966.9 592.26) rotate(-90)">–2</text>
<text class="a" transform="translate(966.9 543.18) rotate(-90)">–1</text>
<text class="a" transform="translate(966.9 494.10) rotate(-90)">0</text>
<text class="a" transform="translate(966.9 445.02) rotate(-90)">1</text>
<text class="a" transform="translate(966.9 395.94) rotate(-90)">2</text>
<text class="a" x="998.75" y="627.5">20</text>
<text class="a" x="1047.09" y="627.5">40</text>
<text class="a" x="1095.43" y="627.5">60</text>
<text class="a" x="1143.77" y="627.5">80</text>
<text class="a" x="1192.11" y="627.5">100</text>
<path class="k" d="M978.0 592.26h7.4M978.0 543.18h7.4M978.0 494.10h7.4M978.0 445.02h7.4M978.0 395.94h7.4M998.75 600.1v8M1047.09 600.1v8M1095.43 600.1v8M1143.77 600.1v8M1192.11 600.1v8"/>
<text class="b" x="1101.7" y="656.7">Age (years)</text>
<text class="b" style="font-size:25px" transform="translate(937.0 495.6) rotate(-90)">Protein levels (Z–score)</text>
<g clip-path="url(#k12)">
<g class="l" stroke="#B06A3C">
<path stroke-width="1.0" stroke-opacity="0.65" d="M1000.6 505.7l14.9 .2 14.9 .8 14.9 0 14.9-.6 15-.8 14.9-1.4 14.9-2.5 14.9-3.3 15-6.1 14.9-9 14.9-10.9 14.9-11.5 15-17.8 14.9-17"/>
<path stroke-width="1.0" stroke-opacity="0.81" d="M1000.6 526.0l14.9-.3 14.9-.3 14.9-.8 14.9-1.8 15-2.1 14.9-2.1 14.9-3.9 14.9-4 15-5.4 14.9-7.8 14.9-7.9 14.9-7.5 15-10.2 14.9-9.6"/>
<path stroke-width="1.0" stroke-opacity="0.82" d="M1000.6 500.1l14.9 0 14.9 .4 14.9-.5 14.9-1 15-1 14.9-.9 14.9-1 14.9-1.7 15-5.3 14.9-10.6 14.9-12.5 14.9-14.6 15-21 14.9-20.3"/>
<path stroke-width="1.0" stroke-opacity="0.77" d="M1000.6 540.8l14.9-2.5 14.9-2.9 14.9-2.4 14.9-3.3 15-3.9 14.9-3.2 14.9-4.7 14.9-4.5 15-6 14.9-8.8 14.9-9.5 14.9-10.4 15-15.2 14.9-16.7"/>
<path stroke-width="1.0" stroke-opacity="0.64" d="M1000.6 529.0l14.9-.8 14.9-.7 14.9-.9 14.9-1.8 15-2.3 14.9-2.1 14.9-3.9 14.9-4 15-5.4 14.9-7.8 14.9-7.2 14.9-6.7 15-8 14.9-7.2"/>
<path stroke-width="1.0" stroke-opacity="0.58" d="M1000.6 517.1l14.9-1.1 14.9 0 14.9-1.7 14.9-3 15-3 14.9-3.1 14.9-3.5 14.9-3.5 15-6.1 14.9-10 14.9-12.7 14.9-14.8 15-22 14.9-21.9"/>
<path stroke-width="1.0" stroke-opacity="0.84" d="M1000.6 534.6l14.9-3.4 14.9-2.8 14.9-2.1 14.9-2.7 15-2.9 14.9-3.2 14.9-4.9 14.9-5.2 15-6.9 14.9-8.5 14.9-10.6 14.9-10.8 15-17.5 14.9-17.7"/>
<path stroke-width="1.0" stroke-opacity="0.61" d="M1000.6 501.1l14.9 2.4 14.9 3 14.9 2.4 14.9 1.7 15 1.2 14.9 0 14.9-2.2 14.9-2.9 15-4.9 14.9-6.8 14.9-7.7 14.9-6.5 15-7.7 14.9-4.9"/>
<path stroke-width="1.0" stroke-opacity="0.56" d="M1000.6 531.6l14.9 .2 14.9-.5 14.9-.6 14.9-1.6 15-2.1 14.9-1.7 14.9-3.6 14.9-3.7 15-4.6 14.9-7.8 14.9-4.8 14.9-4 15-2.3 14.9-2"/>
<path stroke-width="1.0" stroke-opacity="0.67" d="M1000.6 524.7l14.9-.4 14.9-.1 14.9-.5 14.9-1.5 15-1.8 14.9-1.8 14.9-3.3 14.9-3.4 15-4.7 14.9-7 14.9-5.9 14.9-4.4 15-3 14.9 0"/>
<path stroke-width="1.0" stroke-opacity="0.54" d="M1000.6 502.8l14.9-.2 14.9 .2 14.9-.3 14.9-.3 15-.2 14.9-.8 14.9-1.6 14.9-2.6 15-5.7 14.9-9.5 14.9-11.3 14.9-12.6 15-19.1 14.9-18.3"/>
<path stroke-width="1.0" stroke-opacity="0.83" d="M1000.6 539.0l14.9-2.8 14.9-2.7 14.9-2 14.9-2.8 15-3.3 14.9-3 14.9-4.6 14.9-4.4 15-5.4 14.9-7.9 14.9-7.4 14.9-7.4 15-9.3 14.9-8.9"/>
<path stroke-width="1.0" stroke-opacity="0.56" d="M1000.6 535.9l14.9-4.8 14.9-3.7 14.9-3.2 14.9-4 15-4.3 14.9-4.6 14.9-5.9 14.9-5.4 15-7.4 14.9-11.3 14.9-14.2 14.9-17.2 15-25.2 14.9-26.5"/>
<path stroke-width="1.0" stroke-opacity="0.51" d="M1000.6 513.1l14.9-.9 14.9-.7 14.9-2 14.9-2.1 15-1.7 14.9-2 14.9-3 14.9-4.1 15-7.3 14.9-11.9 14.9-13.2 14.9-15.3 15-23 14.9-24.2"/>
<path stroke-width="1.0" stroke-opacity="0.73" d="M1000.6 503.2l14.9 1.1 14.9 1.5 14.9 .5 14.9-.2 15-.5 14.9-1.3 14.9-2.5 14.9-3.2 15-6.2 14.9-9.9 14.9-12.2 14.9-14 15-21.3 14.9-21.7"/>
<path stroke-width="1.0" stroke-opacity="0.52" d="M1000.6 509.8l14.9 .6 14.9 1.4 14.9 .5 14.9-.1 15-.5 14.9-1.4 14.9-3.2 14.9-4.1 15-6.7 14.9-8.7 14.9-11.5 14.9-11.5 15-17.9 14.9-17.5"/>
<path stroke-width="1.0" stroke-opacity="0.77" d="M1000.6 520.8l14.9-.9 14.9-.2 14.9-1 14.9-2.2 15-2.5 14.9-3.2 14.9-4.4 14.9-4.7 15-6.9 14.9-9.8 14.9-12.7 14.9-14.3 15-21.8 14.9-22.4"/>
<path stroke-width="1.0" stroke-opacity="0.75" d="M1000.6 543.4l14.9-2.2 14.9-2.9 14.9-2.5 14.9-3.7 15-4.1 14.9-2.7 14.9-4.1 14.9-3.8 15-5.3 14.9-9 14.9-8.1 14.9-8 15-9.6 14.9-10.6"/>
<path stroke-width="1.0" stroke-opacity="0.60" d="M1000.6 496.2l14.9 3.3 14.9 3.6 14.9 3.1 14.9 2.4 15 1.9 14.9 .6 14.9-1.6 14.9-2.2 15-4 14.9-6.1 14.9-5.6 14.9-3.6 15-1.7 14.9 2.2"/>
<path stroke-width="1.0" stroke-opacity="0.80" d="M1000.6 533.8l14.9-1.1 14.9-1.7 14.9-1.5 14.9-2.2 15-2.6 14.9-2.4 14.9-4.2 14.9-4.6 15-6.1 14.9-8.8 14.9-8.9 14.9-9.1 15-13.2 14.9-14.7"/>
<path stroke-width="1.0" stroke-opacity="0.52" d="M1000.6 538.4l14.9-4.9 14.9-4.3 14.9-3.3 14.9-3.5 15-3.5 14.9-3.5 14.9-5.1 14.9-5.5 15-7.6 14.9-9.2 14.9-12.5 14.9-13.1 15-20 14.9-20.1"/>
<path stroke-width="1.0" stroke-opacity="0.69" d="M1000.6 495.3l14.9 .9 14.9 1.2 14.9 .8 14.9 .6 15 .2 14.9-.8 14.9-1.7 14.9-3 15-6.4 14.9-11.8 14.9-12.9 14.9-15.3 15-22.9 14.9-23.9"/>
<path stroke-width="1.0" stroke-opacity="0.56" d="M1000.6 543.1l14.9-1.9 14.9-2.8 14.9-2 14.9-2.9 15-3.5 14.9-2.6 14.9-4.5 14.9-4.1 15-5.1 14.9-8.4 14.9-6.2 14.9-6.3 15-6.7 14.9-7.7"/>
<path stroke-width="1.0" stroke-opacity="0.57" d="M1000.6 514.2l14.9 1.9 14.9 1.9 14.9 .7 14.9-.2 15-.5 14.9-1.2 14.9-3.4 14.9-4.1 15-6.2 14.9-8.2 14.9-8.8 14.9-8.1 15-11.7 14.9-11.9"/>
<path stroke-width="1.0" stroke-opacity="0.69" d="M1000.6 491.7l14.9 2.3 14.9 2.6 14.9 2.3 14.9 1.9 15 1.5 14.9 .4 14.9-1.2 14.9-2.4 15-5.4 14.9-8.1 14.9-10.5 14.9-10.9 15-17.4 14.9-16.5"/>
<path stroke-width="1.0" stroke-opacity="0.80" d="M1000.6 533.6l14.9 0 14.9-.8 14.9-.7 14.9-1.7 15-2.4 14.9-1.8 14.9-3.9 14.9-3.9 15-4.9 14.9-8.2 14.9-5.2 14.9-4.7 15-3.9 14.9-4.4"/>
<path stroke-width="1.0" stroke-opacity="0.56" d="M1000.6 514.1l14.9 1.7 14.9 2.4 14.9 .8 14.9-.7 15-1.4 14.9-2 14.9-3.7 14.9-4.2 15-5.9 14.9-7.7 14.9-9 14.9-8.3 15-11.8 14.9-10.6"/>
<path stroke-width="1.0" stroke-opacity="0.77" d="M1000.6 493.6l14.9 0 14.9 .6 14.9 .6 14.9 .8 15 .6 14.9-.2 14.9-.8 14.9-1.7 15-5.1 14.9-9.6 14.9-10.8 14.9-12.7 15-18.9 14.9-17.8"/>
<path stroke-width="1.0" stroke-opacity="0.65" d="M1000.6 531.5l14.9-.7 14.9-.9 14.9-.9 14.9-1.9 15-2.5 14.9-2.2 14.9-3.8 14.9-3.8 15-4.7 14.9-7.5 14.9-5.4 14.9-4.5 15-3.7 14.9-2.3"/>
<path stroke-width="1.0" stroke-opacity="0.73" d="M1000.6 498.0l14.9-.1 14.9 .6 14.9 .6 14.9 .8 15 .5 14.9-.4 14.9-1.6 14.9-3 15-6.2 14.9-10.1 14.9-11.2 14.9-12.1 15-18.6 14.9-18.3"/>
<path stroke-width="1.0" stroke-opacity="0.51" d="M1000.6 510.7l14.9-.4 14.9 .1 14.9-1.1 14.9-1.7 15-1.7 14.9-2.2 14.9-3 14.9-3.6 15-6.5 14.9-10.8 14.9-12.8 14.9-15 15-22.3 14.9-22.8"/>
<path stroke-width="1.0" stroke-opacity="0.66" d="M1000.6 537.9l14.9-3.7 14.9-3.5 14.9-2.6 14.9-3 15-2.9 14.9-2.7 14.9-4.3 14.9-4.5 15-6.1 14.9-8.4 14.9-9.4 14.9-9.5 15-13.6 14.9-12.9"/>
<path stroke-width="1.0" stroke-opacity="0.74" d="M1000.6 493.5l14.9 .7 14.9 1 14.9 .6 14.9 .9 15 .7 14.9 0 14.9-.8 14.9-2 15-5.6 14.9-10.1 14.9-11.6 14.9-13.4 15-20.1 14.9-19.9"/>
<path stroke-width="1.0" stroke-opacity="0.83" d="M1000.6 497.2l14.9 2.7 14.9 3.2 14.9 2.8 14.9 2.2 15 1.6 14.9 .4 14.9-1.7 14.9-2.5 15-4.3 14.9-6.1 14.9-6.4 14.9-4.6 15-3.8 14.9-.1"/>
<path stroke-width="1.1" stroke-opacity="0.60" d="M1000.6 458.1l4.1 2.6 5.7 3.6 6.7 4.3 7.4 4.5 7.3 4.5 6.8 4.1 6.9 4 7.5 4.2 7.6 4.1 7 3.8 5.9 3.2 4.2 2.4"/>
</g>
<path class="m" stroke="#fff" stroke-width="19.0" d="M1001.6 514.2l4.2 .3 3.2 .3 4.2 .3 3.2 .2 4.2 .2 3.2 .2 4.3 .1 3.1 .1 4.3 .2 3.1 0 4.3 0 3.2 0 4.2-.1 3.2-.1 4.2-.2 3.2-.2 4.2-.3 3.2-.2 4.2-.5 4.3-.5 3.1-.4 4.3-.7 3.1-.5 4.3-.8 3.2-.7 4.2-1 3.2-.8 4.2-1.1 3.2-1 4.2-1.3 3.2-1.1 4.2-1.5 3.2-1.3 4.2-1.7 3.2-1.4 4.3-2 3.1-1.6 4.3-2.2 3.1-1.8 4.3-2.4 4.2-2.6 3.2-2.1 4.2-2.8 3.2-2.3 4.2-3.1 3.2-2.5 4.3-3.6 3.1-3 4.3-4.3 3.1-3.6 4.3-5.2 3.2-4 4.2-5.4 3.2-4 4.2-5 3.2-3.4 4.2-4 3.2-2.4 4.2-2.2"/>
<path class="m" stroke="#B06A3C" stroke-width="8.8" d="M1000.8 514.2l.8 0 1 .1 1.1 .1 1.1 .1 1 0 1.1 .1 1 .1 1.1 .1 1.1 .1 .5 0M1038.9 516.1l1.9 0 3.1 0 2.2 0 2.1 0 3.1-.1 2.2-.1 3.1-.1 2.2-.1 2.1-.2 3.2-.2 2.1-.1 2.1-.2 3.2-.3 2.1-.3 3.2-.4 2.1-.3 2.1-.3 3.2-.5 1.6-.2M1112.8 506.0l1-.3 1.1-.4 1-.3 1.1-.4 1.1-.4 1-.4 1.1-.4 1-.3 1.1-.5 .8-.3M1148.5 490.1l1.3-.8 2.1-1.2 2.2-1.3 2.1-1.4 2.1-1.4 2.1-1.4 2.1-1.4 2.1-1.5 2.2-1.5 1-.8 2.1-1.6 2.2-1.7 2.1-1.7 2.1-1.8 2.1-1.9 2.1-2 2.1-2.1 2.2-2.2 1.2-1.4M1201.9 441.3l.9-1.1 1-1.3 1.1-1.3 1-1.2 1.1-1.2 1.1-1.2 1-1.1 1.1-1.1 .2-.3"/>
</g>
<text class="n" x="1035.2" y="414.5">n=35</text>
<text x="3.6" y="848.6" font-size="38">Cluster 3</text>
<text class="c" x="417.3" y="698.1">Interval &amp;</text>
<text class="c" x="420.1" y="720.5">LonGenity cohorts</text>
<rect class="x" x="303.80" y="729.00" width="232.60" height="211.90"/>
<text class="a" transform="translate(285.3 933.06) rotate(-90)">–2</text>
<text class="a" transform="translate(285.3 883.98) rotate(-90)">–1</text>
<text class="a" transform="translate(285.3 834.90) rotate(-90)">0</text>
<text class="a" transform="translate(285.3 785.82) rotate(-90)">1</text>
<text class="a" transform="translate(285.3 736.74) rotate(-90)">2</text>
<text class="a" x="317.15" y="968.3">20</text>
<text class="a" x="365.49" y="968.3">40</text>
<text class="a" x="413.83" y="968.3">60</text>
<text class="a" x="462.17" y="968.3">80</text>
<text class="a" x="510.51" y="968.3">100</text>
<path class="k" d="M296.4 933.06h7.4M296.4 883.98h7.4M296.4 834.90h7.4M296.4 785.82h7.4M296.4 736.74h7.4M317.15 940.9v8M365.49 940.9v8M413.83 940.9v8M462.17 940.9v8M510.51 940.9v8"/>
<text class="b" x="420.1" y="997.5">Age (years)</text>
<text class="b" style="font-size:25px" transform="translate(255.4 836.5) rotate(-90)">Protein levels (Z–score)</text>
<g clip-path="url(#k20)">
<g class="l" stroke="#58C25A">
<path stroke-width="1.0" stroke-opacity="0.41" d="M312.3 847.4l13.3 0 13.3-.7 13.3-1.4 13.3-2.5 13.3-2.8 13.3-3 13.3-3 13.3-4 13.3-5.4 13.3-10.1 13.2-12.9 13.3-15.9 13.3-20.4 13.3-17.6"/>
<path stroke-width="1.0" stroke-opacity="0.48" d="M312.3 842.0l13.3 3 13.3 .9 13.3-.6 13.3-2.6 13.3-2.8 13.3-3 13.3-2.8 13.3-3.9 13.3-5.4 13.3-8.8 13.2-11 13.3-13.3 13.3-18 13.3-14.2"/>
<path stroke-width="1.0" stroke-opacity="0.43" d="M312.3 837.9l13.3 4.5 13.3 2 13.3 .7 13.3-2.6 13.3-3.2 13.3-3.2 13.3-2.6 13.3-4.3 13.3-5.1 13.3-11.5 13.2-13.7 13.3-15.8 13.3-19.3 13.3-15.8"/>
<path stroke-width="1.0" stroke-opacity="0.61" d="M312.3 871.2l13.3-9.2 13.3-6.4 13.3-6.1 13.3-2.8 13.3-3.1 13.3-3 13.3-2.6 13.3-4.9 13.3-6 13.3-8 13.2-10.7 13.3-11.5 13.3-15.7 13.3-13.8"/>
<path stroke-width="1.0" stroke-opacity="0.34" d="M312.3 844.5l13.3 1.6 13.3 .1 13.3-.9 13.3-2.4 13.3-2.9 13.3-3.1 13.3-3 13.3-4.3 13.3-5.4 13.3-11.4 13.2-15 13.3-18.3 13.3-22.7 13.3-21.1"/>
<path stroke-width="1.0" stroke-opacity="0.57" d="M312.3 873.6l13.3-10.6 13.3-7 13.3-6.3 13.3-2.8 13.3-3.3 13.3-3.3 13.3-2.9 13.3-4.8 13.3-5.8 13.3-7.9 13.2-10.4 13.3-12 13.3-16.4 13.3-13.8"/>
<path stroke-width="1.0" stroke-opacity="0.61" d="M312.3 862.3l13.3-4.7 13.3-4.1 13.3-4.6 13.3-2.1 13.3-2.7 13.3-2.9 13.3-2.7 13.3-5.1 13.3-5.8 13.3-7.5 13.2-10.3 13.3-10 13.3-12.5 13.3-11.2"/>
<path stroke-width="1.0" stroke-opacity="0.39" d="M312.3 842.8l13.3 2.6 13.3 .5 13.3-.8 13.3-2.7 13.3-2.8 13.3-2.8 13.3-2.6 13.3-3.8 13.3-5.3 13.3-9.4 13.2-11.7 13.3-14.3 13.3-18.6 13.3-15"/>
<path stroke-width="1.0" stroke-opacity="0.58" d="M312.3 839.6l13.3 3.7 13.3 1.4 13.3 .4 13.3-2.6 13.3-3.3 13.3-3.3 13.3-2.6 13.3-4.4 13.3-5 13.3-12.2 13.2-15.4 13.3-18.2 13.3-22 13.3-19.7"/>
<path stroke-width="1.0" stroke-opacity="0.45" d="M312.3 854.6l13.3-1.6 13.3-2.1 13.3-3.5 13.3-2.3 13.3-2.6 13.3-2.7 13.3-2.4 13.3-4.4 13.3-5.5 13.3-7.7 13.2-10.5 13.3-10.6 13.3-13 13.3-10.9"/>
<path stroke-width="1.0" stroke-opacity="0.50" d="M312.3 840.0l13.3 3.8 13.3 1.4 13.3 0 13.3-2.5 13.3-3 13.3-3 13.3-2.8 13.3-4.1 13.3-5.2 13.3-10.6 13.2-13.3 13.3-16.1 13.3-20.2 13.3-17.4"/>
<path stroke-width="1.0" stroke-opacity="0.47" d="M312.3 836.0l13.3 5.2 13.3 2.6 13.3 1.5 13.3-2.8 13.3-3.7 13.3-3.6 13.3-2.6 13.3-4.6 13.3-4.7 13.3-13.4 13.2-16.4 13.3-18.6 13.3-21.5 13.3-18.9"/>
<path stroke-width="1.0" stroke-opacity="0.60" d="M312.3 855.3l13.3-2 13.3-2.4 13.3-3.5 13.3-2.2 13.3-2.6 13.3-2.7 13.3-2.6 13.3-4.5 13.3-5.6 13.3-7.7 13.2-10.4 13.3-10.8 13.3-13.8 13.3-11.8"/>
<path stroke-width="1.0" stroke-opacity="0.54" d="M312.3 843.2l13.3 1.6 13.3 .5 13.3-.2 13.3-2.5 13.3-3.3 13.3-3.3 13.3-2.7 13.3-4.5 13.3-5 13.3-12.8 13.2-16.3 13.3-19 13.3-22.5 13.3-20.2"/>
<path stroke-width="1.0" stroke-opacity="0.42" d="M312.3 832.7l13.3 7.7 13.3 3.5 13.3 1.5 13.3-2.7 13.3-3.3 13.3-3.2 13.3-2.7 13.3-3.9 13.3-5 13.3-9.4 13.2-11.4 13.3-13.5 13.3-17.7 13.3-13.7"/>
<path stroke-width="1.0" stroke-opacity="0.62" d="M312.3 852.4l13.3-.5 13.3-1.5 13.3-3 13.3-1.9 13.3-2.3 13.3-2.5 13.3-2.2 13.3-4.8 13.3-5.4 13.3-7.4 13.2-10.3 13.3-7.9 13.3-6.7 13.3-4.3"/>
<path stroke-width="1.0" stroke-opacity="0.61" d="M312.3 835.0l13.3 6.1 13.3 2.8 13.3 1.4 13.3-2.7 13.3-3.6 13.3-3.5 13.3-2.6 13.3-4.5 13.3-4.9 13.3-13.3 13.2-16.7 13.3-19.8 13.3-23.2 13.3-21.4"/>
<path stroke-width="1.0" stroke-opacity="0.31" d="M312.3 840.7l13.3 2.8 13.3 1.3 13.3 .6 13.3-2.6 13.3-3.4 13.3-3.6 13.3-2.8 13.3-4.4 13.3-4.9 13.3-12.2 13.2-15.4 13.3-17.9 13.3-21.4 13.3-18.5"/>
<path stroke-width="1.0" stroke-opacity="0.55" d="M312.3 863.8l13.3-6.6 13.3-4.6 13.3-4.7 13.3-2.6 13.3-2.9 13.3-2.9 13.3-2.8 13.3-4.4 13.3-5.7 13.3-7.7 13.2-10.3 13.3-11.4 13.3-14.4 13.3-11.1"/>
<path stroke-width="1.0" stroke-opacity="0.40" d="M312.3 840.1l13.3 3.7 13.3 1.4 13.3 .1 13.3-2.6 13.3-3.3 13.3-3.3 13.3-2.8 13.3-4.3 13.3-5.1 13.3-12.1 13.2-15.7 13.3-19.1 13.3-23.2 13.3-21.6"/>
<path stroke-width="1.0" stroke-opacity="0.34" d="M312.3 863.7l13.3-6.6 13.3-4.7 13.3-4.6 13.3-2.5 13.3-2.9 13.3-3 13.3-3 13.3-4.3 13.3-5.8 13.3-7.8 13.2-10.3 13.3-11.9 13.3-15.6 13.3-12.3"/>
<path stroke-width="1.0" stroke-opacity="0.57" d="M312.3 865.2l13.3-6.8 13.3-4.9 13.3-5 13.3-2.7 13.3-3 13.3-3.1 13.3-2.8 13.3-4.5 13.3-5.7 13.3-7.8 13.2-10.3 13.3-11.9 13.3-16.2 13.3-13.6"/>
<path stroke-width="1.0" stroke-opacity="0.33" d="M312.3 859.4l13.3-2.9 13.3-3.1 13.3-4.4 13.3-2.1 13.3-2.7 13.3-2.7 13.3-2 13.3-5 13.3-5.4 13.3-7.5 13.2-10.5 13.3-7.6 13.3-6.5 13.3-4.8"/>
<path stroke-width="1.0" stroke-opacity="0.48" d="M312.3 850.8l13.3-1.5 13.3-1.8 13.3-2.4 13.3-2.4 13.3-2.5 13.3-2.9 13.3-3 13.3-4 13.3-5.6 13.3-10.3 13.2-14 13.3-17.6 13.3-22.5 13.3-20.8"/>
<path stroke-width="1.0" stroke-opacity="0.34" d="M312.3 854.0l13.3-1.6 13.3-2.2 13.3-3.4 13.3-2.3 13.3-2.4 13.3-2.5 13.3-2.4 13.3-4.2 13.3-5.6 13.3-7.7 13.2-10.5 13.3-10.7 13.3-13.1 13.3-10.5"/>
<path stroke-width="1.0" stroke-opacity="0.60" d="M312.3 863.5l13.3-7.6 13.3-4.9 13.3-4.5 13.3-3.2 13.3-3 13.3-3 13.3-3.1 13.3-4.1 13.3-5.6 13.3-11.2 13.2-15.2 13.3-19 13.3-23.4 13.3-21.7"/>
<path stroke-width="1.0" stroke-opacity="0.37" d="M312.3 846.6l13.3 .5 13.3-.5 13.3-1.4 13.3-2.6 13.3-2.7 13.3-3 13.3-2.9 13.3-3.9 13.3-5.4 13.3-10 13.2-13 13.3-15.9 13.3-20.5 13.3-17.7"/>
<path stroke-width="1.0" stroke-opacity="0.61" d="M312.3 831.6l13.3 7.6 13.3 3.8 13.3 2.3 13.3-2.7 13.3-3.7 13.3-3.6 13.3-2.5 13.3-4.6 13.3-4.8 13.3-13.1 13.2-16 13.3-18.2 13.3-21.3 13.3-18.6"/>
<path stroke-width="1.0" stroke-opacity="0.44" d="M312.3 834.8l13.3 6.1 13.3 2.9 13.3 1.6 13.3-2.8 13.3-3.6 13.3-3.5 13.3-2.7 13.3-4.6 13.3-4.8 13.3-13.2 13.2-16.5 13.3-19 13.3-22.4 13.3-20.3"/>
<path stroke-width="1.0" stroke-opacity="0.35" d="M312.3 846.9l13.3 .5 13.3-.6 13.3-1.6 13.3-2.7 13.3-2.8 13.3-2.8 13.3-2.8 13.3-3.7 13.3-5.4 13.3-9.7 13.2-12.7 13.3-15.8 13.3-20.2 13.3-17.3"/>
<path stroke-width="1.2" stroke-opacity="0.50" d="M312.3 831.0l2 .9 2.8 1.2 3.2 1.5 3.6 1.6 3.6 1.5 3.4 1.5 3.5 1.5 3.9 1.6 4 1.5 3.7 1.5 3.2 1.2 2.3 .9"/>
<path stroke-width="1.8" stroke-opacity="0.70" d="M312.3 838.2l28.9 0"/>
<path stroke-width="1.8" stroke-opacity="0.70" d="M312.3 859.8l2-.5 2.8-.6 3.2-.7 3.6-.8 3.6-.8 3.4-.7 3.5-.8 3.9-.8 4-.7 3.7-.8 3.2-.6 2.3-.4"/>
<path stroke-width="1.2" stroke-opacity="0.50" d="M312.3 868.0l2-.9 2.8-1.2 3.2-1.5 3.6-1.6 3.6-1.6 3.4-1.4 3.5-1.4 3.9-1.4 4-1.3 3.7-1.3 3.2-1 2.3-.8"/>
<path stroke-width="1.1" stroke-opacity="0.40" d="M312.3 874.2l2-1.1 2.8-1.6 3.2-1.8 3.6-2 3.6-2 3.4-1.8 3.5-1.8 3.9-2 4-2 3.7-1.8 3.2-1.6 2.3-1.1"/>
<path stroke-width="1.2" stroke-opacity="0.60" d="M448.2 806.3l3-3.8 4.2-5.1 4.9-6 5.2-6.7 5-6.8 4.5-6.6 4-7 4-7.8 3.9-8 3.5-7.5 3-6.3 2.1-4.6"/>
<path stroke-width="1.2" stroke-opacity="0.60" d="M456.4 804.2l2.5-3.3 3.6-4.5 4.1-5.4 4.4-5.9 4.3-6 3.8-5.8 3.5-6 3.6-6.6 3.6-6.8 3.1-6.3 2.7-5.4 2-3.9"/>
<path stroke-width="1.5" stroke-opacity="0.70" d="M464.7 800.1l2.3-3.2 3.3-4.4 3.9-5.3 4-5.5 3.9-5.5 3.1-4.9 2.7-4.7 2.5-4.8 2.3-4.7 2-4.3 1.7-3.6 1.2-2.6"/>
<path stroke-width="1.5" stroke-opacity="0.60" d="M479.1 800.1l1.1-1.4 1.6-1.9 1.9-2.2 2-2.4 2-2.4 1.7-2.1 1.6-1.9 1.6-2 1.5-2 1.4-1.8 1.2-1.4 .9-1.1"/>
<path stroke-width="1.1" stroke-opacity="0.50" d="M479.1 800.1l1.1-.4 1.6-.7 1.9-.7 2-.8 2-.8 1.7-.7 1.6-.8 1.6-.7 1.5-.8 1.4-.8 1.2-.6 .9-.4"/>
</g>
<path class="m" stroke="#fff" stroke-width="19.0" d="M312.8 849.5l3.1 0 3.2-.1 3.2-.2 3.1-.2 3.2-.3 3.2-.3 3.1-.4 3.2-.4 3.2-.5 3.1-.5 3.2-.5 3.2-.6 3.1-.6 3.2-.6 3.2-.6 3.2-.7 3.1-.6 3.2-.7 3.2-.6 3.1-.6 3.2-.6 3.2-.6 3.1-.6 3.2-.6 3.2-.5 3.1-.6 3.2-.6 3.2-.6 3.1-.7 2.2-.5 3.1-.7 3.2-.9 3.2-.9 3.1-1 3.2-1.2 3.2-1.2 3.1-1.4 3.2-1.5 3.2-1.7 3.1-1.8 3.2-2 3.2-2.2 3.1-2.3 3.2-2.5 3.2-2.6 3.1-2.8 3.2-3 3.2-3.1 3.1-3.3 3.2-3.4 3.2-3.5 3.2-3.7 3.1-3.9 3.2-4 3.2-4.1 3.1-4.1 3.2-4.1 3.2-4 3.1-3.9"/>
<path class="m" stroke="#58C25A" stroke-width="8.8" d="M312.8 849.5l3.1 0 3.2-.1 3.2-.2 3.1-.2 3.2-.3 3.2-.3 3.1-.4 3.2-.4 3.2-.5 3.1-.5 3.2-.5 3.2-.6 3.1-.6 3.2-.6 3.2-.6 3.2-.7 3.1-.6 3.2-.7 3.2-.6 3.1-.6 3.2-.6 3.2-.6 3.1-.6 3.2-.6 3.2-.5 3.1-.6 3.2-.6 3.2-.6 3.1-.7 2.2-.5 3.1-.7 3.2-.9 3.2-.9 3.1-1 3.2-1.2 3.2-1.2 3.1-1.4 3.2-1.5 3.2-1.7 3.1-1.8 3.2-2 3.2-2.2 3.1-2.3 3.2-2.5 3.2-2.6 3.1-2.8 3.2-3 3.2-3.1 3.1-3.3 3.2-3.4 3.2-3.5 3.2-3.7 3.1-3.9 3.2-4 3.2-4.1 3.1-4.1 3.2-4.1 3.2-4 3.1-3.9"/>
</g>
<text class="n" x="353.6" y="755.3">n=117</text>
<text class="c" x="760.9" y="698.1">Subset of proteins measured</text>
<text class="c" x="763.5" y="720.5">in independent cohorts</text>
<rect class="x" x="644.60" y="729.00" width="232.60" height="211.90"/>
<text class="a" transform="translate(626.1 933.06) rotate(-90)">–2</text>
<text class="a" transform="translate(626.1 883.98) rotate(-90)">–1</text>
<text class="a" transform="translate(626.1 834.90) rotate(-90)">0</text>
<text class="a" transform="translate(626.1 785.82) rotate(-90)">1</text>
<text class="a" transform="translate(626.1 736.74) rotate(-90)">2</text>
<text class="a" x="657.95" y="968.3">20</text>
<text class="a" x="706.29" y="968.3">40</text>
<text class="a" x="754.63" y="968.3">60</text>
<text class="a" x="802.97" y="968.3">80</text>
<text class="a" x="851.31" y="968.3">100</text>
<path class="k" d="M637.2 933.06h7.4M637.2 883.98h7.4M637.2 834.90h7.4M637.2 785.82h7.4M637.2 736.74h7.4M657.95 940.9v8M706.29 940.9v8M754.63 940.9v8M802.97 940.9v8M851.31 940.9v8"/>
<text class="b" x="760.9" y="997.5">Age (years)</text>
<text class="b" style="font-size:25px" transform="translate(596.2 836.5) rotate(-90)">Protein levels (Z–score)</text>
<g clip-path="url(#k21)">
<g class="l" stroke="#58C25A">
<path stroke-width="1.0" stroke-opacity="0.39" d="M653.3 843.0l13.3 1.7 13.3 1 13.3 .4 13.3-2.4 13.3-2.9 13.3-2.8 13.3-2.8 13.3-5.3 13.3-7 13.3-8.4 13.2-13.8 13.3-15.1 13.3-18 13.3-16.4"/>
<path stroke-width="1.0" stroke-opacity="0.42" d="M653.3 859.1l13.3-2.6 13.3-2.5 13.3-3.4 13.3-2.1 13.3-3 13.3-3 13.3-2.4 13.3-4.8 13.3-5.1 13.3-8.5 13.2-12.2 13.3-7.9 13.3-9.6 13.3-18.1"/>
<path stroke-width="1.0" stroke-opacity="0.34" d="M653.3 858.3l13.3-3.1 13.3-2.6 13.3-3.3 13.3-2.5 13.3-3.1 13.3-2.8 13.3-2.6 13.3-4.2 13.3-5.5 13.3-8.6 13.2-12.1 13.3-11.7 13.3-14.1 13.3-17.3"/>
<path stroke-width="1.0" stroke-opacity="0.45" d="M653.3 843.2l13.3 2 13.3 1 13.3-.2 13.3-2.4 13.3-2.5 13.3-2.2 13.3-2.5 13.3-3.5 13.3-5.4 13.3-8.2 13.2-11.5 13.3-9.8 13.3-10 13.3-15.5"/>
<path stroke-width="1.0" stroke-opacity="0.44" d="M653.3 848.4l13.3-.2 13.3-.6 13.3-1.5 13.3-2.3 13.3-2.6 13.3-2.8 13.3-2.9 13.3-5.4 13.3-7.6 13.3-9.3 13.2-16.7 13.3-17.8 13.3-21.4 13.3-19.3"/>
<path stroke-width="1.0" stroke-opacity="0.35" d="M653.3 850.0l13.3-.6 13.3-1 13.3-2.1 13.3-2.2 13.3-2.4 13.3-2.5 13.3-2.9 13.3-3.9 13.3-5.9 13.3-8.3 13.2-11.3 13.3-14 13.3-16.4 13.3-16.4"/>
<path stroke-width="1.0" stroke-opacity="0.32" d="M653.3 861.7l13.3-4 13.3-3.1 13.3-3.7 13.3-2.3 13.3-3 13.3-3 13.3-2.5 13.3-4.9 13.3-5.2 13.3-8.6 13.2-12.2 13.3-7.9 13.3-9.2 13.3-17.6"/>
<path stroke-width="1.0" stroke-opacity="0.43" d="M653.3 851.8l13.3-.9 13.3-1.4 13.3-2.4 13.3-2.1 13.3-2.4 13.3-2.4 13.3-2.6 13.3-4.1 13.3-5.6 13.3-8.5 13.2-11.6 13.3-11.1 13.3-12.8 13.3-16.5"/>
<path stroke-width="1.0" stroke-opacity="0.43" d="M653.3 868.7l13.3-6.8 13.3-4.9 13.3-4.9 13.3-2.7 13.3-3.6 13.3-3.4 13.3-2.9 13.3-4.9 13.3-5.7 13.3-8.9 13.2-12 13.3-12.3 13.3-16.2 13.3-18.5"/>
<path stroke-width="1.0" stroke-opacity="0.49" d="M653.3 853.6l13.3-2.1 13.3-1.9 13.3-2.5 13.3-2.2 13.3-2.5 13.3-2.6 13.3-3 13.3-4.1 13.3-5.9 13.3-8.4 13.2-11.3 13.3-12.9 13.3-15.2 13.3-16.4"/>
<path stroke-width="1.0" stroke-opacity="0.42" d="M653.3 858.7l13.3-4.4 13.3-3 13.3-3.2 13.3-2.5 13.3-3 13.3-2.9 13.3-3.2 13.3-4.3 13.3-6.1 13.3-8.4 13.2-11.2 13.3-14.4 13.3-17.1 13.3-16.3"/>
<path stroke-width="1.0" stroke-opacity="0.49" d="M653.3 846.2l13.3 .1 13.3 .1 13.3-.2 13.3-2.3 13.3-3 13.3-2.9 13.3-2.9 13.3-6.2 13.3-8 13.3-8.9 13.2-16.6 13.3-16.4 13.3-19.3 13.3-16.8"/>
<path stroke-width="1.0" stroke-opacity="0.33" d="M653.3 847.9l13.3-.3 13.3-.6 13.3-1.1 13.3-2.2 13.3-2.6 13.3-2.6 13.3-2.8 13.3-4.8 13.3-6.7 13.3-8.5 13.2-13.2 13.3-14.9 13.3-17.5 13.3-15.8"/>
<path stroke-width="1.0" stroke-opacity="0.52" d="M653.3 840.1l13.3 2.3 13.3 2 13.3 2 13.3-2.3 13.3-3.3 13.3-3.2 13.3-2.9 13.3-7.2 13.3-8.6 13.3-8.9 13.2-17.8 13.3-16.3 13.3-19.1 13.3-16.4"/>
<path stroke-width="1.0" stroke-opacity="0.32" d="M653.3 847.9l13.3 .3 13.3-.4 13.3-1.6 13.3-2.3 13.3-2.5 13.3-2.6 13.3-2.9 13.3-4.1 13.3-6 13.3-8.4 13.2-11.4 13.3-14.7 13.3-17.6 13.3-16.6"/>
<path stroke-width="1.0" stroke-opacity="0.53" d="M653.3 850.6l13.3 .3 13.3-.7 13.3-2.1 13.3-1.8 13.3-2.5 13.3-2.6 13.3-2.5 13.3-4.4 13.3-5.4 13.3-8.5 13.2-11.9 13.3-9.5 13.3-11.2 13.3-17.4"/>
<path stroke-width="1.0" stroke-opacity="0.63" d="M653.3 838.7l13.3 3.2 13.3 2.6 13.3 2 13.3-2.5 13.3-3.3 13.3-3.1 13.3-2.7 13.3-5.6 13.3-6.7 13.3-7.8 13.2-12.6 13.3-13.8 13.3-16.2 13.3-14.5"/>
<path stroke-width="1.0" stroke-opacity="0.41" d="M653.3 837.7l13.3 2.8 13.3 2.8 13.3 3.1 13.3-2.5 13.3-3.6 13.3-3.4 13.3-2.8 13.3-8.3 13.3-9.6 13.3-9.3 13.2-20.6 13.3-17.4 13.3-20.1 13.3-16.7"/>
<path stroke-width="1.0" stroke-opacity="0.55" d="M653.3 843.9l13.3 .9 13.3 .7 13.3 .5 13.3-2.3 13.3-2.9 13.3-2.9 13.3-2.7 13.3-6.2 13.3-7.8 13.3-8.8 13.2-15.9 13.3-15.8 13.3-18.3 13.3-16"/>
<path stroke-width="1.0" stroke-opacity="0.38" d="M653.3 846.7l13.3 .4 13.3-.2 13.3-.8 13.3-2.4 13.3-2.7 13.3-2.7 13.3-2.8 13.3-5.3 13.3-7.3 13.3-9 13.2-15.2 13.3-16.2 13.3-19.1 13.3-17.1"/>
<path stroke-width="1.4" stroke-opacity="0.50" d="M653.3 837.1l1.8 .1 2.5 .1 3 .1 3.1 .2 3.2 .1 2.9 .1 3 .1 3.1 0 3.2 .1 2.9 .1 2.5 0 1.8 .1"/>
<path stroke-width="1.4" stroke-opacity="0.50" d="M653.3 859.8l2-.3 2.8-.3 3.2-.5 3.6-.4 3.6-.5 3.4-.5 3.5-.4 3.9-.6 4-.5 3.7-.5 3.2-.4 2.3-.3"/>
<path stroke-width="1.1" stroke-opacity="0.40" d="M653.3 872.1l1.6-.7 2.2-1.1 2.6-1.3 2.7-1.4 2.8-1.4 2.6-1.3 2.5-1.2 2.8-1.4 2.8-1.4 2.5-1.3 2.2-1.1 1.6-.8"/>
<path stroke-width="1.1" stroke-opacity="0.50" d="M781.0 812.4l3.1-4.2 4.4-5.7 5.2-6.9 5.6-7.5 5.5-7.5 5-7.3 4.9-7.4 5.1-8.3 5.2-8.3 4.7-7.8 4-6.6 2.8-4.8"/>
<path stroke-width="1.1" stroke-opacity="0.50" d="M789.2 808.3l3-4 4.1-5.6 4.9-6.6 5.2-7.1 5-7.1 4.6-6.6 4.2-6.6 4.4-7.1 4.4-7.2 3.9-6.6 3.3-5.5 2.4-4.1"/>
<path stroke-width="1.5" stroke-opacity="0.60" d="M822.1 798.0l16.5-22.6"/>
</g>
<path class="m" stroke="#fff" stroke-width="19.0" d="M653.8 849.8l3.1-.2 3.2-.3 3.2-.2 3.2-.3 3.1-.3 3.2-.3 3.2-.3 3.2-.4 3.1-.3 3.2-.4 3.2-.4 3.2-.4 3.1-.4 3.2-.4 3.2-.5 3.2-.4 3.1-.5 3.2-.5 3.2-.5 3.2-.5 3.1-.6 3.2-.5 3.2-.6 3.2-.5 3.1-.6 3.2-.7 3.2-.7 3.2-.7 3.1-.8 2.2-.6 3.1-.9 3.2-1 3.2-1.1 3.2-1.3 3.1-1.3 3.2-1.4 3.2-1.6 3.2-1.7 3.1-1.9 3.2-2 3.2-2.2 3.2-2.3 3.1-2.4 3.2-2.6 3.2-2.8 3.2-2.9 3.1-3.1 3.2-3.2 3.2-3.3 3.2-3.5 3.1-3.6 3.2-3.8 3.2-3.8 3.2-4.1 3.1-4.1 3.2-4.3 3.2-4.4 3.2-4.5 3.1-4.6"/>
<path class="m" stroke="#58C25A" stroke-width="8.8" d="M653.8 849.8l3.1-.2 3.2-.3 3.2-.2 3.2-.3 3.1-.3 3.2-.3 3.2-.3 3.2-.4 3.1-.3 3.2-.4 3.2-.4 3.2-.4 3.1-.4 3.2-.4 3.2-.5 3.2-.4 3.1-.5 3.2-.5 3.2-.5 3.2-.5 3.1-.6 3.2-.5 3.2-.6 3.2-.5 3.1-.6 3.2-.7 3.2-.7 3.2-.7 3.1-.8 2.2-.6 3.1-.9 3.2-1 3.2-1.1 3.2-1.3 3.1-1.3 3.2-1.4 3.2-1.6 3.2-1.7 3.1-1.9 3.2-2 3.2-2.2 3.2-2.3 3.1-2.4 3.2-2.6 3.2-2.8 3.2-2.9 3.1-3.1 3.2-3.2 3.2-3.3 3.2-3.5 3.1-3.6 3.2-3.8 3.2-3.8 3.2-4.1 3.1-4.1 3.2-4.3 3.2-4.4 3.2-4.5 3.1-4.6"/>
</g>
<text class="n" x="694.4" y="755.3">n=46</text>
<text class="c" x="1101.7" y="698.1">Corresponding trajectories</text>
<text class="c" x="1101.7" y="720.5">in independent cohorts</text>
<rect class="x" x="985.40" y="729.00" width="232.60" height="211.90"/>
<text class="a" transform="translate(966.9 933.06) rotate(-90)">–2</text>
<text class="a" transform="translate(966.9 883.98) rotate(-90)">–1</text>
<text class="a" transform="translate(966.9 834.90) rotate(-90)">0</text>
<text class="a" transform="translate(966.9 785.82) rotate(-90)">1</text>
<text class="a" transform="translate(966.9 736.74) rotate(-90)">2</text>
<text class="a" x="998.75" y="968.3">20</text>
<text class="a" x="1047.09" y="968.3">40</text>
<text class="a" x="1095.43" y="968.3">60</text>
<text class="a" x="1143.77" y="968.3">80</text>
<text class="a" x="1192.11" y="968.3">100</text>
<path class="k" d="M978.0 933.06h7.4M978.0 883.98h7.4M978.0 834.90h7.4M978.0 785.82h7.4M978.0 736.74h7.4M998.75 940.9v8M1047.09 940.9v8M1095.43 940.9v8M1143.77 940.9v8M1192.11 940.9v8"/>
<text class="b" x="1101.7" y="997.5">Age (years)</text>
<text class="b" style="font-size:25px" transform="translate(937.0 836.5) rotate(-90)">Protein levels (Z–score)</text>
<g clip-path="url(#k22)">
<g class="l" stroke="#58C25A">
<path stroke-width="1.0" stroke-opacity="0.37" d="M1000.6 874.3l14.9-.5 14.9-3.6 14.9-4.2 14.9-4.7 15-4.6 14.9-4.4 14.9-5.6 14.9-3.9 15-5.4 14.9-6.1 14.9-6.2 14.9-6.1 15-6.4 14.9-9.3"/>
<path stroke-width="1.0" stroke-opacity="0.61" d="M1000.6 878.9l14.9-.4 14.9-3.4 14.9-3.2 14.9-4.4 15-5 14.9-3.5 14.9-4.2 14.9-3 15-5.6 14.9-4.8 14.9-3.8 14.9-3.3 15-3.3 14.9-4.3"/>
<path stroke-width="1.0" stroke-opacity="0.38" d="M1000.6 863.4l14.9 2.9 14.9-.1 14.9-1.8 14.9-2.7 15-3.5 14.9-3.6 14.9-4.4 14.9-2.5 15-4.5 14.9-3.7 14.9-2.5 14.9-1.7 15-1.4 14.9-1.8"/>
<path stroke-width="1.0" stroke-opacity="0.54" d="M1000.6 873.1l14.9 1.5 14.9-1.9 14.9-2.8 14.9-4.4 15-5.2 14.9-4.1 14.9-4.7 14.9-2.9 15-5 14.9-4.7 14.9-4.2 14.9-4.4 15-4.7 14.9-6.6"/>
<path stroke-width="1.0" stroke-opacity="0.45" d="M1000.6 889.2l14.9-4.2 14.9-6.2 14.9-5.9 14.9-7.5 15-7.5 14.9-7.1 14.9-8.8 14.9-6.5 15-6.6 14.9-7.3 14.9-9.9 14.9-12.7 15-15.2 14.9-20.5"/>
<path stroke-width="1.0" stroke-opacity="0.41" d="M1000.6 847.4l14.9-.3 14.9-1.4 14.9-1.7 14.9-3 15-3.2 14.9-2.7 14.9-3.4 14.9-2.8 15-5 14.9-5.8 14.9-10.3 14.9-12.5 15-13.3 14.9-16.8"/>
<path stroke-width="1.0" stroke-opacity="0.56" d="M1000.6 870.2l14.9 .4 14.9-2.9 14.9-3.6 14.9-4.1 15-4.5 14.9-4.7 14.9-6 14.9-3.9 15-4.9 14.9-5.9 14.9-6.8 14.9-8.2 15-9.5 14.9-13.7"/>
<path stroke-width="1.0" stroke-opacity="0.57" d="M1000.6 901.5l14.9-4.4 14.9-6 14.9-4.3 14.9-7.5 15-8.6 14.9-4.8 14.9-5 14.9-4 15-7 14.9-4.7 14.9-3.1 14.9-3.2 15-4.2 14.9-6.2"/>
<path stroke-width="1.0" stroke-opacity="0.39" d="M1000.6 868.1l14.9 .1 14.9-2.8 14.9-3.7 14.9-4.1 15-4.3 14.9-5.1 14.9-6.6 14.9-4.4 15-5.2 14.9-6.6 14.9-8.1 14.9-9.5 15-10.7 14.9-15.1"/>
<path stroke-width="1.0" stroke-opacity="0.61" d="M1000.6 851.1l14.9 .3 14.9-1.3 14.9-1.8 14.9-3.5 15-3.8 14.9-3.7 14.9-4.4 14.9-3.5 15-5.2 14.9-6 14.9-10.3 14.9-12.8 15-14.1 14.9-18.1"/>
<path stroke-width="1.0" stroke-opacity="0.43" d="M1000.6 833.3l14.9 .2 14.9-.1 14.9-.4 14.9-2 15-2 14.9-.8 14.9-1 14.9-1.7 15-4.8 14.9-5.7 14.9-11.4 14.9-13.8 15-13.9 14.9-17.1"/>
<path stroke-width="1.0" stroke-opacity="0.35" d="M1000.6 857.7l14.9-.2 14.9-2.4 14.9-3 14.9-4.4 15-4.8 14.9-4.6 14.9-5.3 14.9-3.9 15-5.4 14.9-6 14.9-10.2 14.9-12.8 15-14.4 14.9-18.7"/>
<path stroke-width="1.0" stroke-opacity="0.43" d="M1000.6 861.7l14.9 1.3 14.9-1.3 14.9-2.3 14.9-3.1 15-3.5 14.9-4.5 14.9-6.5 14.9-4.3 15-5 14.9-6.3 14.9-7.4 14.9-8.8 15-10.1 14.9-14.8"/>
<path stroke-width="1.0" stroke-opacity="0.64" d="M1000.6 887.7l14.9-2.7 14.9-4.7 14.9-3.8 14.9-5.6 15-6.3 14.9-4.4 14.9-5.3 14.9-3.9 15-6.3 14.9-5.6 14.9-5.3 14.9-6 15-6.8 14.9-9.8"/>
<path stroke-width="1.0" stroke-opacity="0.45" d="M1000.6 894.4l14.9-5.3 14.9-6.8 14.9-5.5 14.9-7.1 15-7.3 14.9-5.7 14.9-6.8 14.9-5.2 15-6.6 14.9-6.8 14.9-7.3 14.9-8.5 15-9.7 14.9-14.1"/>
<path stroke-width="1.0" stroke-opacity="0.43" d="M1000.6 860.1l14.9-.2 14.9-2.7 14.9-3.6 14.9-4.7 15-4.7 14.9-4.5 14.9-5.1 14.9-3.5 15-5.3 14.9-6.2 14.9-10.8 14.9-14 15-15.6 14.9-19.6"/>
<path stroke-width="1.0" stroke-opacity="0.47" d="M1000.6 834.7l14.9 1.2 14.9 .7 14.9 .1 14.9-2.5 15-3.1 14.9-2.3 14.9-2.5 14.9-2.4 15-5 14.9-5.2 14.9-11.1 14.9-14.2 15-15.4 14.9-19.2"/>
<path stroke-width="1.0" stroke-opacity="0.51" d="M1000.6 901.8l14.9-4.5 14.9-6.4 14.9-5 14.9-8.1 15-8.9 14.9-5 14.9-5.5 14.9-4.5 15-7.5 14.9-6.2 14.9-6 14.9-6.9 15-8.6 14.9-12.9"/>
<path stroke-width="1.0" stroke-opacity="0.52" d="M1000.6 873.5l14.9 1.5 14.9-2.1 14.9-3.2 14.9-4.9 15-5.5 14.9-4.1 14.9-4.4 14.9-2.3 15-4.5 14.9-4.3 14.9-4.2 14.9-4.4 15-4.4 14.9-5.6"/>
<path stroke-width="1.0" stroke-opacity="0.45" d="M1000.6 870.0l14.9-.3 14.9-3.5 14.9-4.3 14.9-4.9 15-5 14.9-5.8 14.9-6.9 14.9-4.6 15-5.5 14.9-6.5 14.9-9.2 14.9-11.9 15-13.8 14.9-18.6"/>
<path stroke-width="1.0" stroke-opacity="0.55" d="M1000.6 883.7l14.9-2.9 14.9-4.9 14.9-4.3 14.9-5.7 15-6.1 14.9-5.4 14.9-6.5 14.9-4.5 15-5.6 14.9-5.5 14.9-5.5 14.9-6.1 15-6.8 14.9-9.7"/>
<path stroke-width="1.0" stroke-opacity="0.55" d="M1000.6 895.9l14.9-2.3 14.9-4.6 14.9-3.4 14.9-6.6 15-8.2 14.9-4.4 14.9-4.7 14.9-3.8 15-7.1 14.9-4.7 14.9-3.1 14.9-3.2 15-4.4 14.9-7"/>
<path stroke-width="1.0" stroke-opacity="0.63" d="M1000.6 849.0l14.9-.4 14.9-1.5 14.9-1.8 14.9-3.2 15-3.3 14.9-2.9 14.9-3.5 14.9-2.6 15-4.5 14.9-5.3 14.9-8.9 14.9-10.5 15-11 14.9-14.6"/>
<path stroke-width="1.0" stroke-opacity="0.48" d="M1000.6 889.5l14.9-4.4 14.9-6.1 14.9-5.3 14.9-7 15-7.1 14.9-6.3 14.9-7.8 14.9-5.6 15-6.4 14.9-7.1 14.9-8.2 14.9-9.6 15-11.4 14.9-16.2"/>
<path stroke-width="1.0" stroke-opacity="0.45" d="M1000.6 855.3l14.9-.9 14.9-2.9 14.9-3.4 14.9-4.4 15-4.2 14.9-3.5 14.9-3.7 14.9-2.4 15-4.1 14.9-5 14.9-8.9 14.9-11.4 15-12.2 14.9-15.7"/>
<path stroke-width="1.0" stroke-opacity="0.62" d="M1000.6 837.3l14.9 .7 14.9 .1 14.9-.5 14.9-2.6 15-3 14.9-2.1 14.9-2.3 14.9-2.1 15-4.6 14.9-5.2 14.9-10.6 14.9-13.3 15-14.3 14.9-17.9"/>
<path stroke-width="1.0" stroke-opacity="0.36" d="M1000.6 878.5l14.9-1.1 14.9-3.7 14.9-3.4 14.9-4.3 15-4.9 14.9-4.6 14.9-6.1 14.9-4.6 15-6.3 14.9-5.8 14.9-5.2 14.9-5.4 15-6.5 14.9-10"/>
<path stroke-width="1.0" stroke-opacity="0.49" d="M1000.6 883.2l14.9-1.5 14.9-3.7 14.9-3.2 14.9-5 15-5.9 14.9-4.6 14.9-5.4 14.9-4 15-6.1 14.9-5.2 14.9-4.3 14.9-4.3 15-4.5 14.9-6.3"/>
<path stroke-width="1.0" stroke-opacity="0.38" d="M1000.6 858.0l14.9 2.9 14.9 .3 14.9-.9 14.9-2.1 15-3.1 14.9-4.2 14.9-5.1 14.9-2.5 15-3.8 14.9-3.1 14.9-1.7 14.9-.8 15-.3 14.9-.5"/>
<path stroke-width="1.0" stroke-opacity="0.38" d="M1000.6 838.1l14.9-1.4 14.9-1.5 14.9-1.3 14.9-3.1 15-3.3 14.9-1.8 14.9-1.4 14.9-1.7 15-4.9 14.9-5.1 14.9-11.7 14.9-14.7 15-15 14.9-18"/>
<path stroke-width="1.0" stroke-opacity="0.38" d="M1000.6 898.5l14.9-6.8 14.9-7.9 14.9-6.3 14.9-7.7 15-7.6 14.9-6 14.9-7.3 14.9-5.8 15-7.1 14.9-8 14.9-9.5 14.9-11.2 15-13 14.9-17.6"/>
<path stroke-width="1.0" stroke-opacity="0.56" d="M1000.6 901.0l14.9-4.7 14.9-6.7 14.9-4.7 14.9-7 15-7.9 14.9-4.5 14.9-5.6 14.9-5 15-7.9 14.9-5.8 14.9-4.1 14.9-4.4 15-6 14.9-9.7"/>
<path stroke-width="1.0" stroke-opacity="0.37" d="M1000.6 892.8l14.9-7.1 14.9-8 14.9-6.6 14.9-7.2 15-6.9 14.9-7.3 14.9-9.4 14.9-6.5 15-7.1 14.9-7.3 14.9-10.7 14.9-13.8 15-16.1 14.9-21"/>
<path stroke-width="1.0" stroke-opacity="0.35" d="M1000.6 863.8l14.9-.8 14.9-3.4 14.9-4.3 14.9-4.9 15-4.8 14.9-4.6 14.9-5.3 14.9-3.9 15-5.8 14.9-6.7 14.9-10.6 14.9-12.9 15-14.3 14.9-18.7"/>
<path stroke-width="1.0" stroke-opacity="0.57" d="M1000.6 870.3l14.9-.2 14.9-2.8 14.9-3.2 14.9-3.7 15-4.3 14.9-5.3 14.9-6.7 14.9-4.4 15-5 14.9-5.5 14.9-5.9 14.9-6.9 15-7.8 14.9-11.3"/>
<path stroke-width="1.0" stroke-opacity="0.60" d="M1000.6 843.5l14.9 .9 14.9 .4 14.9 0 14.9-2.2 15-3.3 14.9-3.3 14.9-4.2 14.9-2.8 15-3.9 14.9-4.4 14.9-7.9 14.9-10.4 15-11.5 14.9-15.2"/>
<path stroke-width="1.0" stroke-opacity="0.51" d="M1000.6 855.1l14.9-.2 14.9-2.3 14.9-2.6 14.9-3.5 15-3.5 14.9-3.7 14.9-4.7 14.9-3.9 15-5.8 14.9-6.5 14.9-10.2 14.9-12.5 15-13.9 14.9-18.4"/>
<path stroke-width="1.0" stroke-opacity="0.57" d="M1000.6 850.2l14.9-1.8 14.9-3.3 14.9-3.1 14.9-3.7 15-3.4 14.9-2.4 14.9-3.1 14.9-3.2 15-5.9 14.9-5.9 14.9-10.5 14.9-12.7 15-13.6 14.9-17.7"/>
<path stroke-width="1.0" stroke-opacity="0.56" d="M1000.6 832.5l14.9 1.6 14.9 1.1 14.9 .5 14.9-1.8 15-2.3 14.9-1.4 14.9-2 14.9-2.2 15-4.8 14.9-5.4 14.9-10.5 14.9-13.2 15-14.1 14.9-17.9"/>
<path stroke-width="1.0" stroke-opacity="0.42" d="M1000.6 883.6l14.9-1.6 14.9-4.2 14.9-3.3 14.9-4.6 15-5.4 14.9-4 14.9-5.3 14.9-4.3 15-6.8 14.9-5.4 14.9-3.9 14.9-3.3 15-3.9 14.9-6.7"/>
<path stroke-width="1.0" stroke-opacity="0.42" d="M1000.6 850.1l14.9-1.8 14.9-3 14.9-3.3 14.9-4.5 15-4.7 14.9-3.5 14.9-3.1 14.9-2.5 15-4.9 14.9-5 14.9-11.1 14.9-14.4 15-15.5 14.9-19.1"/>
<path stroke-width="1.0" stroke-opacity="0.57" d="M1000.6 840.9l14.9 4.6 14.9 3.4 14.9 2.3 14.9 0 15-1.4 14.9-2.9 14.9-5.3 14.9-3 15-3.4 14.9-3.6 14.9-3.6 14.9-4.3 15-4.9 14.9-7.1"/>
<path stroke-width="1.0" stroke-opacity="0.47" d="M1000.6 880.5l14.9-1.2 14.9-3.6 14.9-3.6 14.9-5.2 15-6 14.9-5.3 14.9-6.6 14.9-5 15-6.3 14.9-6.5 14.9-6.9 14.9-8.3 15-10.3 14.9-15.4"/>
<path stroke-width="1.0" stroke-opacity="0.63" d="M1000.6 833.7l14.9 1.4 14.9 .9 14.9 .4 14.9-2.3 15-2.9 14.9-2 14.9-2.3 14.9-2.3 15-5.1 14.9-5.4 14.9-11.4 14.9-14.3 15-15.3 14.9-19"/>
<path stroke-width="1.0" stroke-opacity="0.51" d="M1000.6 871.2l14.9-.4 14.9-3.2 14.9-4 14.9-4.8 15-5.1 14.9-5.9 14.9-7 14.9-4.3 15-4.8 14.9-6.2 14.9-8.1 14.9-10.2 15-11.4 14.9-15.7"/>
<path stroke-width="1.0" stroke-opacity="0.48" d="M1000.6 852.1l14.9-.1 14.9-2.2 14.9-3.1 14.9-4.3 15-3.9 14.9-2.8 14.9-3.3 14.9-2.9 15-5.6 14.9-6.5 14.9-10.8 14.9-12.7 15-13.4 14.9-17.6"/>
</g>
<path class="m" stroke="#fff" stroke-width="19.0" d="M1001.6 870.0l3.9-.2 3.9-.4 3-.3 3.9-.5 4-.6 3.9-.6 3.9-.7 3-.6 3.9-.8 3.9-.9 4-.9 3.9-1 3-.8 3.9-1.1 3.9-1.1 4-1.2 3.9-1.2 2.9-1 4-1.3 3.9-1.3 3.9-1.3 4-1.4 2.9-1.1 4-1.4 3.9-1.4 3.9-1.5 4-1.4 2.9-1.1 3.9-1.5 4-1.5 3.9-1.5 3-1.1 3.9-1.5 3.9-1.5 4-1.5 3.9-1.5 2.9-1.2 4-1.6 3.9-1.7 3.9-1.7 4-1.8 2.9-1.4 3.9-1.9 4-2.1 3.9-2.1 3.9-2.3 3-1.8 3.9-2.5 4-2.6 3.9-2.8 3.9-3 3-2.3 3.9-3.1 3.9-3.3 4-3.4 3.9-3.4 3-2.6 3.9-3.4 3.9-3.5"/>
<path class="m" stroke="#58C25A" stroke-width="8.8" d="M1000.8 870.0l.8 0 1 0 .9-.1 1-.1 1 0 1-.1 1-.1 1-.1 .9-.1 1-.1 .2 0M1039.8 864.2l1.1-.2 3-.8 1.9-.5 3-.7 1.9-.6 3-.8 2-.6 1.9-.5 3-.9 1.9-.6 3-.9 2-.7 1.9-.6 3-1 1.9-.6 3-1 2-.7 2.9-1 1.7-.6M1110.7 841.0l0 0 1-.4 1-.3 1-.4 1-.4 .9-.3 1-.4 1-.4 1-.4 .3-.1M1146.6 827.0l1.5-.6 1.9-.9 3-1.3 2-.9 1.9-.9 2-1 2-.9 2.9-1.5 2-1.1 1.9-1 2-1.1 3-1.7 1.9-1.2 2-1.2 2-1.2 1.9-1.3 3-1.9 1.9-1.4 2-1.4M1206.9 788.9l.2-.2 1-.8 .9-.9 1-.8 .1-.1"/>
</g>
<text class="n" x="1035.2" y="755.3">n=46</text>
<text x="3.6" y="1189.4" font-size="38">Cluster 4</text>
<text class="c" x="417.3" y="1038.9">Interval &amp;</text>
<text class="c" x="420.1" y="1061.3">LonGenity cohorts</text>
<rect class="x" x="303.80" y="1069.80" width="232.60" height="211.90"/>
<text class="a" transform="translate(285.3 1273.86) rotate(-90)">–2</text>
<text class="a" transform="translate(285.3 1224.78) rotate(-90)">–1</text>
<text class="a" transform="translate(285.3 1175.70) rotate(-90)">0</text>
<text class="a" transform="translate(285.3 1126.62) rotate(-90)">1</text>
<text class="a" transform="translate(285.3 1077.54) rotate(-90)">2</text>
<text class="a" x="317.15" y="1309.1">20</text>
<text class="a" x="365.49" y="1309.1">40</text>
<text class="a" x="413.83" y="1309.1">60</text>
<text class="a" x="462.17" y="1309.1">80</text>
<text class="a" x="510.51" y="1309.1">100</text>
<path class="k" d="M296.4 1273.86h7.4M296.4 1224.78h7.4M296.4 1175.70h7.4M296.4 1126.62h7.4M296.4 1077.54h7.4M317.15 1281.7v8M365.49 1281.7v8M413.83 1281.7v8M462.17 1281.7v8M510.51 1281.7v8"/>
<text class="b" x="420.1" y="1338.3">Age (years)</text>
<text class="b" style="font-size:25px" transform="translate(255.4 1177.3) rotate(-90)">Protein levels (Z–score)</text>
<g clip-path="url(#k30)">
<g class="l" stroke="#B36CC6">
<path stroke-width="1.0" stroke-opacity="0.56" d="M312.3 1222.2l13.3-12.4 13.3-10 13.3-9.1 13.3-7.1 13.3-6.1 13.3-4.2 13.3-3.4 13.3-3.6 13.3-3.5 13.3-4.7 13.2-5.9 13.3-6.1 13.3-8.3 13.3-8.3"/>
<path stroke-width="1.0" stroke-opacity="0.39" d="M312.3 1223.8l13.3-13.9 13.3-10.6 13.3-9 13.3-6.9 13.3-5.9 13.3-4.1 13.3-3.2 13.3-2.8 13.3-2.6 13.3-3 13.2-3.5 13.3-3.7 13.3-4.5 13.3-4.3"/>
<path stroke-width="1.0" stroke-opacity="0.53" d="M312.3 1218.2l13.3-12.3 13.3-9.3 13.3-8.1 13.3-6.4 13.3-5.5 13.3-4.1 13.3-3.5 13.3-3.3 13.3-2.9 13.3-3.8 13.2-4.5 13.3-4.8 13.3-6.3 13.3-6.1"/>
<path stroke-width="1.0" stroke-opacity="0.35" d="M312.3 1190.3l13.3-2.5 13.3-2.6 13.3-2.9 13.3-3.5 13.3-4 13.3-4.5 13.3-3.4 13.3-3.1 13.3-2.2 13.3-3.1 13.2-3.9 13.3-4 13.3-5.4 13.3-5.3"/>
<path stroke-width="1.0" stroke-opacity="0.42" d="M312.3 1247.6l13.3-18.4 13.3-14.4 13.3-14.1 13.3-10.7 13.3-8.1 13.3-4.6 13.3-4.3 13.3-2.5 13.3-1.9 13.3-2.2 13.2-2.6 13.3-2.4 13.3-2.8 13.3-3.9"/>
<path stroke-width="1.0" stroke-opacity="0.31" d="M312.3 1226.2l13.3-15.7 13.3-11.7 13.3-9.8 13.3-7.4 13.3-5.9 13.3-4.6 13.3-4.3 13.3-4.5 13.3-4.3 13.3-6.3 13.2-7.5 13.3-7.1 13.3-9.9 13.3-9"/>
<path stroke-width="1.0" stroke-opacity="0.59" d="M312.3 1244.9l13.3-19.5 13.3-14.7 13.3-13.1 13.3-9.6 13.3-7.4 13.3-4.7 13.3-4 13.3-2.6 13.3-1.9 13.3-2.2 13.2-2.6 13.3-3 13.3-3.6 13.3-4.1"/>
<path stroke-width="1.0" stroke-opacity="0.47" d="M312.3 1247.3l13.3-19.3 13.3-15 13.3-13.9 13.3-10.5 13.3-8 13.3-5 13.3-4.2 13.3-2.8 13.3-2 13.3-3 13.2-4.8 13.3-5.6 13.3-7 13.3-7.4"/>
<path stroke-width="1.0" stroke-opacity="0.33" d="M312.3 1242.6l13.3-14.5 13.3-12.1 13.3-13.1 13.3-10.7 13.3-8.5 13.3-4.9 13.3-4.9 13.3-2.3 13.3-1.2 13.3-1.4 13.2-1.9 13.3-1 13.3-.9 13.3-2"/>
<path stroke-width="1.0" stroke-opacity="0.58" d="M312.3 1249.6l13.3-19 13.3-14.8 13.3-14.2 13.3-10.8 13.3-8.4 13.3-5 13.3-4.7 13.3-2.7 13.3-2 13.3-2.2 13.2-2.8 13.3-3.2 13.3-4.8 13.3-6.1"/>
<path stroke-width="1.0" stroke-opacity="0.32" d="M312.3 1225.7l13.3-10.2 13.3-8.9 13.3-9.7 13.3-8.3 13.3-7.1 13.3-4.4 13.3-4.3 13.3-2.4 13.3-1.4 13.3-1.8 13.2-2.2 13.3-1.9 13.3-2.5 13.3-3.5"/>
<path stroke-width="1.0" stroke-opacity="0.38" d="M312.3 1217.1l13.3-10.1 13.3-8.2 13.3-7.7 13.3-6.5 13.3-5.8 13.3-3.9 13.3-3.4 13.3-2.3 13.3-1.5 13.3-1.8 13.2-2.1 13.3-1.9 13.3-1.9 13.3-2.1"/>
<path stroke-width="1.0" stroke-opacity="0.42" d="M312.3 1201.3l13.3-3.8 13.3-4.1 13.3-4.8 13.3-5.1 13.3-5.1 13.3-3.6 13.3-3.3 13.3-2.1 13.3-1.3 13.3-1.6 13.2-2 13.3-1.8 13.3-1.8 13.3-2.3"/>
<path stroke-width="1.0" stroke-opacity="0.51" d="M312.3 1203.3l13.3-3.7 13.3-4.2 13.3-5.2 13.3-5.5 13.3-5.5 13.3-3.7 13.3-3.6 13.3-2 13.3-1.1 13.3-1.2 13.2-1.4 13.3-.5 13.3 0 13.3-.4"/>
<path stroke-width="1.0" stroke-opacity="0.35" d="M312.3 1256.2l13.3-22.1 13.3-17 13.3-15.6 13.3-11.4 13.3-8.4 13.3-5.1 13.3-4.5 13.3-3 13.3-2.5 13.3-4.4 13.2-6 13.3-6.6 13.3-8.4 13.3-8.8"/>
<path stroke-width="1.0" stroke-opacity="0.48" d="M312.3 1214.3l13.3-11.5 13.3-8.7 13.3-7.1 13.3-5.7 13.3-4.9 13.3-3.8 13.3-3.4 13.3-3.5 13.3-3 13.3-3.8 13.2-4.5 13.3-4.4 13.3-5.6 13.3-5.3"/>
<path stroke-width="1.0" stroke-opacity="0.59" d="M312.3 1230.3l13.3-17.8 13.3-13 13.3-10.4 13.3-7.4 13.3-5.5 13.3-4.4 13.3-4.4 13.3-4.9 13.3-4.6 13.3-6.3 13.2-7 13.3-6.5 13.3-9 13.3-8.2"/>
<path stroke-width="1.0" stroke-opacity="0.37" d="M312.3 1246.6l13.3-14 13.3-11.9 13.3-13.6 13.3-11.3 13.3-9.1 13.3-5 13.3-5.8 13.3-2.6 13.3-1.1 13.3-1.3 13.2-1 13.3 1.4 13.3 2.4 13.3 1.2"/>
<path stroke-width="1.0" stroke-opacity="0.55" d="M312.3 1233.0l13.3-14.7 13.3-11.8 13.3-11.2 13.3-8.8 13.3-7.2 13.3-4.7 13.3-3.9 13.3-2.6 13.3-3.2 13.3-4.6 13.2-5.9 13.3-6.5 13.3-8.9 13.3-9.1"/>
<path stroke-width="1.0" stroke-opacity="0.38" d="M312.3 1253.0l13.3-24.1 13.3-17.6 13.3-14.9 13.3-10.5 13.3-7.6 13.3-5 13.3-4 13.3-4.3 13.3-4.2 13.3-5.5 13.2-6.5 13.3-6.3 13.3-8.6 13.3-8.1"/>
<path stroke-width="1.0" stroke-opacity="0.41" d="M312.3 1193.5l13.3-3.8 13.3-3.5 13.3-3.4 13.3-3.6 13.3-4 13.3-4.5 13.3-3.6 13.3-3.6 13.3-2.7 13.3-3.7 13.2-4.1 13.3-3.7 13.3-5.1 13.3-4.6"/>
<path stroke-width="1.0" stroke-opacity="0.44" d="M312.3 1229.6l13.3-13.5 13.3-10.7 13.3-10.3 13.3-8.2 13.3-6.6 13.3-4.3 13.3-3.8 13.3-2.5 13.3-1.7 13.3-2.1 13.2-2.7 13.3-3 13.3-3.9 13.3-4.7"/>
<path stroke-width="1.0" stroke-opacity="0.54" d="M312.3 1186.9l13.3-2.7 13.3-2.4 13.3-2.8 13.3-3.7 13.3-3.6 13.3-7.3 13.3-5.7 13.3-5.9 13.3-3.8 13.3-5.8 13.2-5.6 13.3-3.9 13.3-6.3 13.3-4.7"/>
<path stroke-width="1.0" stroke-opacity="0.41" d="M312.3 1210.7l13.3-4.6 13.3-5 13.3-6.6 13.3-6.6 13.3-6.3 13.3-3.9 13.3-4.2 13.3-2.2 13.3-1.1 13.3-1.2 13.2-1.4 13.3 .3 13.3 1.1 13.3 .5"/>
<path stroke-width="1.0" stroke-opacity="0.40" d="M312.3 1235.6l13.3-16.9 13.3-13 13.3-11.6 13.3-8.7 13.3-6.9 13.3-4.7 13.3-3.8 13.3-4.1 13.3-4.2 13.3-5.5 13.2-6.8 13.3-7 13.3-9.7 13.3-9.7"/>
<path stroke-width="1.0" stroke-opacity="0.51" d="M312.3 1231.1l13.3-15.8 13.3-11.9 13.3-10.5 13.3-7.9 13.3-6.3 13.3-4.2 13.3-3.4 13.3-2.4 13.3-1.8 13.3-2 13.2-2.6 13.3-3 13.3-3.7 13.3-3.7"/>
<path stroke-width="1.0" stroke-opacity="0.59" d="M312.3 1243.5l13.3-12.5 13.3-11 13.3-13.1 13.3-11.2 13.3-9.1 13.3-5 13.3-5.7 13.3-2.6 13.3-1 13.3-1.2 13.2-1.1 13.3 1.1 13.3 2 13.3 .6"/>
<path stroke-width="1.0" stroke-opacity="0.44" d="M312.3 1199.7l13.3-5.9 13.3-4.9 13.3-4.4 13.3-4.1 13.3-4.3 13.3-3.3 13.3-2.7 13.3-2.2 13.3-1.7 13.3-1.8 13.2-2.3 13.3-2.6 13.3-3 13.3-3.1"/>
<path stroke-width="1.0" stroke-opacity="0.39" d="M312.3 1211.0l13.3-10.5 13.3-8.1 13.3-6.7 13.3-5.4 13.3-4.6 13.3-3.8 13.3-3.4 13.3-3.2 13.3-2.8 13.3-3.5 13.2-4.2 13.3-4.2 13.3-5.5 13.3-5.2"/>
<path stroke-width="1.0" stroke-opacity="0.44" d="M312.3 1243.7l13.3-19.1 13.3-14.4 13.3-12.9 13.3-9.5 13.3-7.3 13.3-4.6 13.3-3.9 13.3-2.5 13.3-1.9 13.3-2.1 13.2-2.7 13.3-3.1 13.3-3.7 13.3-4.3"/>
<path stroke-width="1.0" stroke-opacity="0.45" d="M312.3 1248.3l13.3-19.9 13.3-15.1 13.3-14 13.3-10.5 13.3-8.1 13.3-5.1 13.3-4.2 13.3-2.5 13.3-1.8 13.3-2.2 13.2-4.4 13.3-5.2 13.3-6.5 13.3-6.6"/>
<path stroke-width="1.0" stroke-opacity="0.43" d="M312.3 1182.9l13.3-.8 13.3-1.1 13.3-2 13.3-3.1 13.3-3.2 13.3-6 13.3-4.4 13.3-4 13.3-2.5 13.3-3.7 13.2-3.6 13.3-2.8 13.3-4.3 13.3-3.6"/>
<path stroke-width="1.0" stroke-opacity="0.56" d="M312.3 1192.4l13.3-2.2 13.3-2.6 13.3-1.5 13.3-3.2 13.3-4.3 13.3-3.2 13.3-3.2 13.3-2 13.3-1 13.3-1.2 13.2-1.4 13.3 0 13.3 .6 13.3 0"/>
<path stroke-width="1.0" stroke-opacity="0.57" d="M312.3 1202.8l13.3-9.6 13.3-6.2 13.3-4 13.3-4.1 13.3-4.2 13.3-5 13.3-4.4 13.3-4.6 13.3-3.9 13.3-5.4 13.2-5.9 13.3-5.2 13.3-7.4 13.3-6.6"/>
<path stroke-width="1.0" stroke-opacity="0.53" d="M312.3 1194.5l13.3-3.6 13.3-3.7 13.3-3.5 13.3-3.5 13.3-3.9 13.3-3.2 13.3-2.5 13.3-2.2 13.3-1.7 13.3-2 13.2-2.5 13.3-2.5 13.3-2.9 13.3-3.3"/>
<path stroke-width="1.0" stroke-opacity="0.35" d="M312.3 1206.0l13.3-7.6 13.3-6.2 13.3-5.7 13.3-5 13.3-4.7 13.3-3.7 13.3-2.8 13.3-2.3 13.3-2 13.3-2.4 13.2-3 13.3-3.3 13.3-3.9 13.3-4.1"/>
<path stroke-width="1.0" stroke-opacity="0.50" d="M312.3 1212.1l13.3-13.2 13.3-9.7 13.3-6 13.3-4.2 13.3-4.4 13.3-5.2 13.3-4.7 13.3-5 13.3-4.2 13.3-6 13.2-6.5 13.3-5.7 13.3-8.3 13.3-7.3"/>
<path stroke-width="1.0" stroke-opacity="0.35" d="M312.3 1249.2l13.3-21.4 13.3-16.3 13.3-14.6 13.3-10.4 13.3-7.5 13.3-4.7 13.3-3.6 13.3-4 13.3-4.6 13.3-6.2 13.2-7.4 13.3-7.1 13.3-9.7 13.3-9.7"/>
<path stroke-width="1.0" stroke-opacity="0.50" d="M312.3 1209.1l13.3-8.4 13.3-6.9 13.3-6.3 13.3-5.6 13.3-5.4 13.3-4 13.3-3 13.3-2.7 13.3-2.5 13.3-3.3 13.2-4.5 13.3-4.8 13.3-6.2 13.3-6"/>
<path stroke-width="1.0" stroke-opacity="0.33" d="M312.3 1246.9l13.3-18.4 13.3-14 13.3-13.5 13.3-10.4 13.3-8.2 13.3-4.9 13.3-4.7 13.3-2.4 13.3-1.3 13.3-1.5 13.2-1.7 13.3-.9 13.3-.6 13.3-1"/>
<path stroke-width="1.0" stroke-opacity="0.56" d="M312.3 1184.7l13.3-1.1 13.3-1.5 13.3-2.3 13.3-3.3 13.3-3.5 13.3-5.7 13.3-4.3 13.3-4.2 13.3-2.8 13.3-4.2 13.2-4.4 13.3-3.9 13.3-6.1 13.3-5.6"/>
<path stroke-width="1.0" stroke-opacity="0.51" d="M312.3 1191.2l13.3-1.9 13.3-2.5 13.3-2.7 13.3-2.3 13.3-3.7 13.3-3 13.3-3.1 13.3-1.9 13.3-1.1 13.3-1.1 13.2-1 13.3 .7 13.3 2.1 13.3 2"/>
<path stroke-width="1.0" stroke-opacity="0.50" d="M312.3 1183.9l13.3-1.9 13.3-1.7 13.3-2.3 13.3-3.2 13.3-3.2 13.3-7.1 13.3-5.5 13.3-5.5 13.3-3.3 13.3-4.8 13.2-4.1 13.3-2.5 13.3-4.4 13.3-3.2"/>
<path stroke-width="1.0" stroke-opacity="0.50" d="M312.3 1241.3l13.3-14 13.3-11.6 13.3-12.5 13.3-10.4 13.3-8.6 13.3-5.1 13.3-5.1 13.3-2.4 13.3-1.1 13.3-1.4 13.2-1.8 13.3-.7 13.3-.6 13.3-1.5"/>
<path stroke-width="1.0" stroke-opacity="0.35" d="M312.3 1208.8l13.3-5.4 13.3-5.1 13.3-6.1 13.3-5.9 13.3-5.7 13.3-3.6 13.3-3.9 13.3-2.1 13.3-.9 13.3-1.1 13.2-.9 13.3 1.1 13.3 2.8 13.3 2.9"/>
<path stroke-width="1.0" stroke-opacity="0.34" d="M312.3 1228.5l13.3-13 13.3-10.4 13.3-9.8 13.3-7.9 13.3-6.6 13.3-4.2 13.3-4.1 13.3-2.6 13.3-1.6 13.3-1.7 13.2-1.8 13.3-1.1 13.3-1 13.3-1.4"/>
<path stroke-width="1.0" stroke-opacity="0.51" d="M312.3 1239.1l13.3-18.1 13.3-13.9 13.3-12.4 13.3-9.3 13.3-7.1 13.3-4.7 13.3-3.7 13.3-4.1 13.3-4.2 13.3-5.8 13.2-7.1 13.3-7.2 13.3-10 13.3-9.8"/>
<path stroke-width="1.0" stroke-opacity="0.32" d="M312.3 1192.4l13.3-2.6 13.3-2.9 13.3-3.1 13.3-3.3 13.3-3.9 13.3-3.3 13.3-2.7 13.3-2.1 13.3-1.4 13.3-1.7 13.2-2.2 13.3-2.5 13.3-3.1 13.3-3.8"/>
<path stroke-width="1.0" stroke-opacity="0.33" d="M312.3 1224.5l13.3-15 13.3-11.3 13.3-9.4 13.3-6.9 13.3-5.7 13.3-4.2 13.3-3.9 13.3-4 13.3-3.6 13.3-4.8 13.2-5.7 13.3-5.5 13.3-7.5 13.3-7"/>
<path stroke-width="1.0" stroke-opacity="0.51" d="M312.3 1215.2l13.3-12.7 13.3-9.4 13.3-7.3 13.3-5.5 13.3-4.3 13.3-4.2 13.3-3.9 13.3-4.1 13.3-3.6 13.3-4.6 13.2-5.1 13.3-4.6 13.3-6.2 13.3-5.8"/>
<path stroke-width="1.0" stroke-opacity="0.38" d="M312.3 1181.9l13.3-.4 13.3-.8 13.3-2 13.3-3.2 13.3-3.3 13.3-6.1 13.3-4 13.3-3.5 13.3-1.6 13.3-2.2 13.2-2 13.3-1.5 13.3-2.3 13.3-1.8"/>
<path stroke-width="1.0" stroke-opacity="0.40" d="M312.3 1249.5l13.3-17.3 13.3-14 13.3-14.3 13.3-11.3 13.3-8.8 13.3-5.1 13.3-5.1 13.3-2.6 13.3-1.7 13.3-1.9 13.2-2.4 13.3-2.3 13.3-3.2 13.3-4.6"/>
<path stroke-width="1.0" stroke-opacity="0.33" d="M312.3 1233.4l13.3-16.8 13.3-12.6 13.3-10.9 13.3-8.2 13.3-6.4 13.3-4.3 13.3-3.5 13.3-2.4 13.3-1.9 13.3-2.7 13.2-3.4 13.3-3.7 13.3-4.2 13.3-4.3"/>
<path stroke-width="1.0" stroke-opacity="0.56" d="M312.3 1210.8l13.3-10.7 13.3-8.3 13.3-6.7 13.3-4.9 13.3-4.5 13.3-4.6 13.3-4.1 13.3-4.3 13.3-3.7 13.3-5 13.2-5.7 13.3-5.2 13.3-7.4 13.3-6.9"/>
<path stroke-width="1.0" stroke-opacity="0.40" d="M312.3 1229.8l13.3-16 13.3-12.2 13.3-10.3 13.3-7.5 13.3-6 13.3-4.2 13.3-3.5 13.3-3.5 13.3-3.3 13.3-4 13.2-4.7 13.3-4.6 13.3-6.3 13.3-6.1"/>
</g>
<path class="m" stroke="#fff" stroke-width="19.0" d="M312.8 1194.7l3.3-1 3.3-.9 3.3-1 3.3-.9 1.6-.5 3.4-1 3.3-.9 3.3-1 3.3-.9 3.3-.9 3.3-1 3.3-.9 3.3-.9 3.3-.9 1.7-.5 3.3-.9 3.3-.9 3.3-.8 3.3-.9 3.3-.8 3.3-.9 3.3-.8 3.3-.7 3.3-.8 1.7-.4 3.3-.7 3.3-.7 3.3-.7 3.3-.7 3.3-.6 3.3-.7 3.4-.6 3.3-.5 3.3-.6 1.6-.2 3.3-.5 3.3-.5 3.4-.5 3.3-.5 3.3-.5 3.3-.5 3.3-.4 3.3-.5 3.3-.5 1.7-.3 3.3-.5 3.3-.6 3.3-.6 3.3-.6 3.3-.7 3.3-.7 3.3-.7 3.3-.8 3.3-.8 1.7-.5 3.3-.9 3.3-1 3.3-1 3.3-1.1"/>
<path class="m" stroke="#B36CC6" stroke-width="8.8" d="M312.8 1194.7l3.3-1 3.3-.9 3.3-1 3.3-.9 1.6-.5 3.4-1 3.3-.9 3.3-1 3.3-.9 3.3-.9 3.3-1 3.3-.9 3.3-.9 3.3-.9 1.7-.5 3.3-.9 3.3-.9 3.3-.8 3.3-.9 3.3-.8 3.3-.9 3.3-.8 3.3-.7 3.3-.8 1.7-.4 3.3-.7 3.3-.7 3.3-.7 3.3-.7 3.3-.6 3.3-.7 3.4-.6 3.3-.5 3.3-.6 1.6-.2 3.3-.5 3.3-.5 3.4-.5 3.3-.5 3.3-.5 3.3-.5 3.3-.4 3.3-.5 3.3-.5 1.7-.3 3.3-.5 3.3-.6 3.3-.6 3.3-.6 3.3-.7 3.3-.7 3.3-.7 3.3-.8 3.3-.8 1.7-.5 3.3-.9 3.3-1 3.3-1 3.3-1.1"/>
</g>
<text class="n" x="353.6" y="1096.1">n=107</text>
<text class="c" x="760.9" y="1038.9">Subset of proteins measured</text>
<text class="c" x="763.5" y="1061.3">in independent cohorts</text>
<rect class="x" x="644.60" y="1069.80" width="232.60" height="211.90"/>
<text class="a" transform="translate(626.1 1273.86) rotate(-90)">–2</text>
<text class="a" transform="translate(626.1 1224.78) rotate(-90)">–1</text>
<text class="a" transform="translate(626.1 1175.70) rotate(-90)">0</text>
<text class="a" transform="translate(626.1 1126.62) rotate(-90)">1</text>
<text class="a" transform="translate(626.1 1077.54) rotate(-90)">2</text>
<text class="a" x="657.95" y="1309.1">20</text>
<text class="a" x="706.29" y="1309.1">40</text>
<text class="a" x="754.63" y="1309.1">60</text>
<text class="a" x="802.97" y="1309.1">80</text>
<text class="a" x="851.31" y="1309.1">100</text>
<path class="k" d="M637.2 1273.86h7.4M637.2 1224.78h7.4M637.2 1175.70h7.4M637.2 1126.62h7.4M637.2 1077.54h7.4M657.95 1281.7v8M706.29 1281.7v8M754.63 1281.7v8M802.97 1281.7v8M851.31 1281.7v8"/>
<text class="b" x="760.9" y="1338.3">Age (years)</text>
<text class="b" style="font-size:25px" transform="translate(596.2 1177.3) rotate(-90)">Protein levels (Z–score)</text>
<g clip-path="url(#k31)">
<g class="l" stroke="#B36CC6">
<path stroke-width="1.0" stroke-opacity="0.55" d="M653.3 1221.2l13.3-7.9 13.3-6.7 13.3-7.4 13.3-7 13.3-6.2 13.3-5.2 13.3-5.8 13.3-2.8 13.3-1.3 13.3-1.4 13.2-1.1 13.3-.2 13.3-.1 13.3-.3"/>
<path stroke-width="1.0" stroke-opacity="0.35" d="M653.3 1231.5l13.3-14.4 13.3-10.9 13.3-10 13.3-8.4 13.3-7.3 13.3-5.9 13.3-4.8 13.3-3.9 13.3-3.9 13.3-5.6 13.2-7 13.3-7 13.3-9.7 13.3-9.5"/>
<path stroke-width="1.0" stroke-opacity="0.31" d="M653.3 1227.7l13.3-14.7 13.3-10.8 13.3-9.5 13.3-7.8 13.3-6.9 13.3-5.3 13.3-4.3 13.3-3.7 13.3-3.4 13.3-4.7 13.2-5.7 13.3-5.5 13.3-7.7 13.3-7.2"/>
<path stroke-width="1.0" stroke-opacity="0.36" d="M653.3 1195.5l13.3-4.1 13.3-4 13.3-3.8 13.3-4.1 13.3-4.2 13.3-5.7 13.3-3.7 13.3-3.5 13.3-2.7 13.3-3.9 13.2-4.3 13.3-3.8 13.3-5.4 13.3-5"/>
<path stroke-width="1.0" stroke-opacity="0.47" d="M653.3 1217.7l13.3-10.8 13.3-8.3 13.3-7.4 13.3-6.4 13.3-5.9 13.3-4.6 13.3-4 13.3-2.6 13.3-1.8 13.3-2 13.2-2.5 13.3-2.7 13.3-3.5 13.3-3.8"/>
<path stroke-width="1.0" stroke-opacity="0.44" d="M653.3 1232.0l13.3-13.9 13.3-10.6 13.3-9.9 13.3-8.3 13.3-7.1 13.3-5.6 13.3-5.1 13.3-3 13.3-2.1 13.3-2.3 13.2-2.9 13.3-4.5 13.3-5.8 13.3-6.4"/>
<path stroke-width="1.0" stroke-opacity="0.41" d="M653.3 1203.9l13.3-6.8 13.3-5.9 13.3-5.4 13.3-4.9 13.3-4.8 13.3-4.9 13.3-3.9 13.3-3.5 13.3-3 13.3-4.5 13.2-5.5 13.3-5.3 13.3-7.5 13.3-7.1"/>
<path stroke-width="1.0" stroke-opacity="0.43" d="M653.3 1204.9l13.3-9.6 13.3-6.6 13.3-4.4 13.3-4.4 13.3-4.4 13.3-6.3 13.3-4.4 13.3-4.7 13.3-3.9 13.3-5.9 13.2-6.2 13.3-5 13.3-7.3 13.3-6.2"/>
<path stroke-width="1.0" stroke-opacity="0.39" d="M653.3 1186.4l13.3-1.4 13.3-1.7 13.3-2.6 13.3-3.5 13.3-3.5 13.3-7.1 13.3-3.7 13.3-3.9 13.3-3.1 13.3-5.3 13.2-5.7 13.3-4.5 13.3-6.7 13.3-5.8"/>
<path stroke-width="1.0" stroke-opacity="0.47" d="M653.3 1200.7l13.3-3.7 13.3-3.8 13.3-4.2 13.3-4.5 13.3-4.7 13.3-3.9 13.3-4 13.3-2.2 13.3-1.1 13.3-1.2 13.2-1.2 13.3-.4 13.3-.1 13.3 .3"/>
<path stroke-width="1.0" stroke-opacity="0.34" d="M653.3 1212.9l13.3-11.5 13.3-8.6 13.3-7 13.3-5 13.3-5.1 13.3-6.1 13.3-4.6 13.3-4.5 13.3-3.7 13.3-5.8 13.2-6.5 13.3-5.8 13.3-8.5 13.3-7.2"/>
<path stroke-width="1.0" stroke-opacity="0.32" d="M653.3 1217.3l13.3-11.8 13.3-8.9 13.3-7.8 13.3-6.8 13.3-5.9 13.3-4.9 13.3-4.1 13.3-3.9 13.3-3.4 13.3-5.1 13.2-6.1 13.3-5.6 13.3-7.8 13.3-7"/>
<path stroke-width="1.0" stroke-opacity="0.58" d="M653.3 1213.1l13.3-7.2 13.3-6.2 13.3-6.5 13.3-6.1 13.3-5.6 13.3-4.6 13.3-4.5 13.3-2.6 13.3-1.6 13.3-1.8 13.2-2.1 13.3-1.8 13.3-2.4 13.3-2.8"/>
<path stroke-width="1.0" stroke-opacity="0.35" d="M653.3 1193.1l13.3-2.6 13.3-3 13.3-3.3 13.3-3.8 13.3-4.3 13.3-4.2 13.3-3.1 13.3-2.3 13.3-1.6 13.3-1.8 13.2-2.5 13.3-2.9 13.3-4 13.3-4.6"/>
<path stroke-width="1.0" stroke-opacity="0.40" d="M653.3 1186.4l13.3-2 13.3-1.8 13.3-2.3 13.3-3.1 13.3-3.1 13.3-8.1 13.3-4.4 13.3-4.9 13.3-3.9 13.3-6.1 13.2-6.1 13.3-4.5 13.3-7.1 13.3-5.9"/>
<path stroke-width="1.0" stroke-opacity="0.52" d="M653.3 1213.4l13.3-7.1 13.3-6.1 13.3-6.4 13.3-6 13.3-5.6 13.3-4.7 13.3-4.8 13.3-2.7 13.3-1.6 13.3-1.8 13.2-1.9 13.3-1.7 13.3-2 13.3-2.6"/>
<path stroke-width="1.0" stroke-opacity="0.46" d="M653.3 1218.0l13.3-9.5 13.3-7.8 13.3-7.6 13.3-6.9 13.3-6.4 13.3-5.2 13.3-4.5 13.3-2.9 13.3-2.2 13.3-3.3 13.2-4.4 13.3-5.1 13.3-6.9 13.3-7.3"/>
<path stroke-width="1.0" stroke-opacity="0.35" d="M653.3 1194.3l13.3-3.7 13.3-3.7 13.3-3.8 13.3-4.1 13.3-4.2 13.3-6 13.3-3.9 13.3-3.8 13.3-3.1 13.3-4.8 13.2-5.3 13.3-4.7 13.3-7.2 13.3-6.6"/>
<path stroke-width="1.0" stroke-opacity="0.57" d="M653.3 1185.9l13.3-1.5 13.3-1.8 13.3-2.3 13.3-3.2 13.3-3.2 13.3-7 13.3-3.4 13.3-3.2 13.3-1.9 13.3-2.7 13.2-2.3 13.3-1.6 13.3-2.6 13.3-2.3"/>
<path stroke-width="1.0" stroke-opacity="0.38" d="M653.3 1235.3l13.3-13.2 13.3-10.1 13.3-10.2 13.3-8.7 13.3-7.2 13.3-5.8 13.3-5.9 13.3-3 13.3-1.5 13.3-1.8 13.2-1.9 13.3-1.7 13.3-2.1 13.3-2.7"/>
<path stroke-width="1.0" stroke-opacity="0.40" d="M653.3 1221.4l13.3-12.8 13.3-9.8 13.3-8.6 13.3-7.1 13.3-6.4 13.3-4.9 13.3-4.3 13.3-4 13.3-3.6 13.3-5.3 13.2-6.1 13.3-5.8 13.3-8.2 13.3-7.6"/>
<path stroke-width="1.0" stroke-opacity="0.58" d="M653.3 1225.8l13.3-8.8 13.3-7.5 13.3-8.3 13.3-7.6 13.3-6.4 13.3-5.3 13.3-6.1 13.3-2.9 13.3-1.4 13.3-1.8 13.2-1.5 13.3-.6 13.3-.6 13.3-1"/>
<path stroke-width="1.1" stroke-opacity="0.60" d="M653.3 1240.9l3.1-2.8 4.3-3.8 5-4.6 5.5-5 5.6-4.9 5.4-4.6 5.6-4.6 6.3-4.9 6.3-5 6-4.6 5.1-3.8 3.6-2.8"/>
<path stroke-width="1.1" stroke-opacity="0.60" d="M653.3 1219.3l2.7-1.6 3.8-2.2 4.4-2.6 4.7-2.8 4.7-2.7 4.4-2.5 4.5-2.3 4.7-2.4 4.7-2.4 4.4-2.1 3.8-1.8 2.6-1.3"/>
<path stroke-width="1.1" stroke-opacity="0.60" d="M653.3 1212.1l2.7-1 3.8-1.4 4.4-1.7 4.7-1.8 4.7-1.8 4.4-1.6 4.5-1.5 4.7-1.6 4.7-1.5 4.4-1.5 3.8-1.2 2.6-.9"/>
<path stroke-width="1.1" stroke-opacity="0.50" d="M653.3 1207.0l2-.4 2.8-.4 3.2-.6 3.6-.6 3.6-.6 3.4-.5 3.5-.6 3.9-.6 4-.6 3.7-.5 3.2-.5 2.3-.3"/>
<path stroke-width="1.6" stroke-opacity="0.70" d="M653.3 1183.3l1.1-.1 1.5-.2 1.8-.2 2-.2 2-.2 1.9-.1 2.1-.2 2.4-.2 2.4-.2 2.2-.2 1.9-.2 1.4-.1"/>
<path stroke-width="1.1" stroke-opacity="0.50" d="M735.7 1162.7l2-.9 2.6-1.3 3.1-1.5 3.7-1.7 4.3-1.9 4.9-2 5.6-2.1 6.5-2.3 7.1-2.4 7.4-2.6 7.4-2.5 7.1-2.5 7.5-2.5 8.1-2.8 8.1-2.8 7.6-2.5 6.3-2.2 4.6-1.6"/>
<path stroke-width="1.1" stroke-opacity="0.50" d="M756.3 1157.6l4.4-1.4 6.2-1.8 7.3-2.2 7.9-2.4 7.9-2.4 7.4-2.2 7.5-2.2 8.1-2.4 8.1-2.3 7.6-2.2 6.3-1.9 4.6-1.3"/>
<path stroke-width="1.1" stroke-opacity="0.40" d="M785.1 1153.4l3.4-.6 4.9-.9 5.6-1.1 6.1-1.2 5.8-1.2 5.1-1.1 4.6-1.3 4.7-1.3 4.4-1.4 4.1-1.3 3.3-1.1 2.5-.8"/>
<path stroke-width="1.1" stroke-opacity="0.50" d="M805.7 1167.9l1.7 .1 2.5 .1 2.9 .2 3.2 .2 3.1 .2 3 .2 3.1 .2 3.3 .2 3.4 .2 3.2 .1 2.6 .2 1.9 .1"/>
<path stroke-width="1.3" stroke-opacity="0.50" d="M816.0 1163.7l23.6-2"/>
</g>
<path class="m" stroke="#fff" stroke-width="19.0" d="M653.8 1197.1l3.3-.9 3.3-1 3.3-1.1 3.3-1 1.6-.5 3.4-1 3.3-1.1 3.3-1.1 3.3-1 3.3-1.1 3.3-1 3.3-1.1 3.3-1 3.3-1.1 1.7-.5 3.3-1.1 3.3-1 3.3-1 3.3-1 3.3-1 3.3-.9 3.3-1 3.3-.9 3.3-.9 1.7-.4 3.3-.9 3.3-.8 3.3-.8 3.3-.8 3.3-.7 3.3-.7 3.4-.6 3.3-.6 3.3-.6 1.6-.3 3.3-.5 3.3-.5 3.4-.5 3.3-.5 3.3-.5 3.3-.5 3.3-.4 3.3-.5 3.3-.6 1.7-.2 3.3-.6 3.3-.5 3.3-.6 3.3-.7 3.3-.7 3.3-.7 3.3-.8 3.3-.9 3.3-.9 1.7-.5 3.3-1 3.3-1.1 3.3-1.2 3.3-1.3"/>
<path class="m" stroke="#B36CC6" stroke-width="8.8" d="M653.8 1197.1l3.3-.9 3.3-1 3.3-1.1 3.3-1 1.6-.5 3.4-1 3.3-1.1 3.3-1.1 3.3-1 3.3-1.1 3.3-1 3.3-1.1 3.3-1 3.3-1.1 1.7-.5 3.3-1.1 3.3-1 3.3-1 3.3-1 3.3-1 3.3-.9 3.3-1 3.3-.9 3.3-.9 1.7-.4 3.3-.9 3.3-.8 3.3-.8 3.3-.8 3.3-.7 3.3-.7 3.4-.6 3.3-.6 3.3-.6 1.6-.3 3.3-.5 3.3-.5 3.4-.5 3.3-.5 3.3-.5 3.3-.5 3.3-.4 3.3-.5 3.3-.6 1.7-.2 3.3-.6 3.3-.5 3.3-.6 3.3-.7 3.3-.7 3.3-.7 3.3-.8 3.3-.9 3.3-.9 1.7-.5 3.3-1 3.3-1.1 3.3-1.2 3.3-1.3"/>
</g>
<text class="n" x="694.4" y="1096.1">n=40</text>
<text class="c" x="1101.7" y="1038.9">Corresponding trajectories</text>
<text class="c" x="1101.7" y="1061.3">in independent cohorts</text>
<rect class="x" x="985.40" y="1069.80" width="232.60" height="211.90"/>
<text class="a" transform="translate(966.9 1273.86) rotate(-90)">–2</text>
<text class="a" transform="translate(966.9 1224.78) rotate(-90)">–1</text>
<text class="a" transform="translate(966.9 1175.70) rotate(-90)">0</text>
<text class="a" transform="translate(966.9 1126.62) rotate(-90)">1</text>
<text class="a" transform="translate(966.9 1077.54) rotate(-90)">2</text>
<text class="a" x="998.75" y="1309.1">20</text>
<text class="a" x="1047.09" y="1309.1">40</text>
<text class="a" x="1095.43" y="1309.1">60</text>
<text class="a" x="1143.77" y="1309.1">80</text>
<text class="a" x="1192.11" y="1309.1">100</text>
<path class="k" d="M978.0 1273.86h7.4M978.0 1224.78h7.4M978.0 1175.70h7.4M978.0 1126.62h7.4M978.0 1077.54h7.4M998.75 1281.7v8M1047.09 1281.7v8M1095.43 1281.7v8M1143.77 1281.7v8M1192.11 1281.7v8"/>
<text class="b" x="1101.7" y="1338.3">Age (years)</text>
<text class="b" style="font-size:25px" transform="translate(937.0 1177.3) rotate(-90)">Protein levels (Z–score)</text>
<g clip-path="url(#k32)">
<g class="l" stroke="#B36CC6">
<path stroke-width="1.0" stroke-opacity="0.41" d="M1000.6 1227.3l14.9-15.6 14.9-13.3 14.9-9.8 14.9-6.7 15-5.2 14.9-3.4 14.9-2 14.9-2.3 15-4.5 14.9-5.6 14.9-6.8 14.9-5.3 15-5.2 14.9-6.1"/>
<path stroke-width="1.0" stroke-opacity="0.41" d="M1000.6 1199.1l14.9-10 14.9-9.5 14.9-6 14.9-3.3 15-2.7 14.9-1.6 14.9-.5 14.9-2.1 15-4.2 14.9-5.4 14.9-7.6 14.9-5.6 15-6.2 14.9-7.9"/>
<path stroke-width="1.0" stroke-opacity="0.52" d="M1000.6 1230.1l14.9-9.5 14.9-8.4 14.9-7.2 14.9-8.1 15-6.4 14.9-5.4 14.9-4.2 14.9-2.3 15-2.4 14.9-1.2 14.9 2.2 14.9 2.7 15 1.4 14.9 .8"/>
<path stroke-width="1.0" stroke-opacity="0.47" d="M1000.6 1168.6l14.9-9.2 14.9-4.6 14.9 .1 14.9 2.9 15 1.9 14.9 1.6 14.9 1.5 14.9-2.2 15-4.6 14.9-5.9 14.9-7.8 14.9-4.5 15-4.2 14.9-5.5"/>
<path stroke-width="1.0" stroke-opacity="0.56" d="M1000.6 1215.9l14.9-9.6 14.9-9.2 14.9-6.9 14.9-5.5 15-4.9 14.9-3.8 14.9-2.5 14.9-1.2 15-1.9 14.9-1 14.9 1 14.9 2 15 2.8 14.9 4.6"/>
<path stroke-width="1.0" stroke-opacity="0.55" d="M1000.6 1178.5l14.9-2.6 14.9-.7 14.9 1.4 14.9 1.5 15-.5 14.9-1.5 14.9-1.5 14.9-.7 15-1.4 14.9-.3 14.9 3.3 14.9 5.3 15 6.1 14.9 8.3"/>
<path stroke-width="1.0" stroke-opacity="0.54" d="M1000.6 1154.3l14.9-4.1 14.9 1.1 14.9 4.5 14.9 5.4 15 3 14.9 1.9 14.9 1.4 14.9-.6 15-2.3 14.9-2.3 14.9-1.5 14.9 .5 15 1.3 14.9 2.2"/>
<path stroke-width="1.0" stroke-opacity="0.57" d="M1000.6 1183.8l14.9-1.6 14.9-.7 14.9 .8 14.9 .5 15-1.3 14.9-1.4 14.9-.9 14.9 .5 15-.2 14.9 1.4 14.9 7.5 14.9 12.1 15 14.4 14.9 19.3"/>
<path stroke-width="1.0" stroke-opacity="0.40" d="M1000.6 1161.0l14.9-5.9 14.9-.4 14.9 3.6 14.9 4.6 15 2 14.9 .8 14.9 .4 14.9-1.6 15-2.7 14.9-2.3 14.9-.9 14.9 1.5 15 2 14.9 2.6"/>
<path stroke-width="1.0" stroke-opacity="0.45" d="M1000.6 1210.9l14.9-2.4 14.9-4.3 14.9-4.1 14.9-5.4 15-4.4 14.9-3.4 14.9-2.2 14.9-.1 15-.3 14.9 1.4 14.9 8.2 14.9 11.9 15 12.5 14.9 15.6"/>
<path stroke-width="1.0" stroke-opacity="0.43" d="M1000.6 1240.2l14.9-13.5 14.9-11.6 14.9-9.7 14.9-9.2 15-6 14.9-4.3 14.9-3 14.9-1.3 15-2.2 14.9-1.6 14.9 2.3 14.9 4 15 4.3 14.9 6"/>
<path stroke-width="1.0" stroke-opacity="0.36" d="M1000.6 1180.8l14.9-4.6 14.9-3.5 14.9-.8 14.9 1 15 .4 14.9 .1 14.9-.6 14.9-1.8 15-3.6 14.9-3 14.9-.8 14.9 .9 15 1.1 14.9 .9"/>
<path stroke-width="1.0" stroke-opacity="0.34" d="M1000.6 1168.6l14.9-4.9 14.9-1.8 14.9 1.3 14.9 2.6 15 1.3 14.9 1 14.9 1 14.9-.3 15-2.1 14.9-2.5 14.9-2.1 14.9-1 15-.4 14.9 .5"/>
<path stroke-width="1.0" stroke-opacity="0.58" d="M1000.6 1218.8l14.9-5.2 14.9-6.1 14.9-5.4 14.9-6.6 15-5.3 14.9-4.3 14.9-3.2 14.9-1.5 15-2.1 14.9-.9 14.9 3.5 14.9 5.2 15 4.5 14.9 5.1"/>
<path stroke-width="1.0" stroke-opacity="0.34" d="M1000.6 1149.4l14.9-5.9 14.9 .8 14.9 5.2 14.9 6 15 3.2 14.9 2 14.9 1.7 14.9-1 15-2.3 14.9-2.4 14.9-2.4 14.9 0 15 .3 14.9 1.1"/>
<path stroke-width="1.0" stroke-opacity="0.49" d="M1000.6 1180.4l14.9-5.2 14.9-3.3 14.9-.7 14.9 0 15-1.1 14.9-1.1 14.9-.4 14.9-1.1 15-2.5 14.9-2.7 14.9-2.7 14.9-1.8 15-1.7 14.9-1.7"/>
<path stroke-width="1.0" stroke-opacity="0.57" d="M1000.6 1175.4l14.9-6.8 14.9-3.9 14.9-.6 14.9 1.1 15 0 14.9 .1 14.9 .4 14.9-1.4 15-3.3 14.9-4.1 14.9-4.9 14.9-3 15-3 14.9-3.7"/>
<path stroke-width="1.0" stroke-opacity="0.39" d="M1000.6 1186.8l14.9 .8 14.9 1.2 14.9 1.6 14.9-.9 15-2.9 14.9-3.4 14.9-2.4 14.9 0 15 .5 14.9 2.1 14.9 7.6 14.9 10 15 10.5 14.9 14.1"/>
<path stroke-width="1.0" stroke-opacity="0.43" d="M1000.6 1272.3l14.9-20.7 14.9-16.1 14.9-14.8 14.9-14.8 15-8.6 14.9-5.6 14.9-3.6 14.9-1.5 15-2.3 14.9-1.7 14.9 3.1 14.9 5 15 5.1 14.9 6.8"/>
<path stroke-width="1.0" stroke-opacity="0.39" d="M1000.6 1211.2l14.9-7.9 14.9-8.1 14.9-5.7 14.9-4.2 15-3.7 14.9-3 14.9-2.3 14.9-1.5 15-2.9 14.9-2.5 14.9-.6 14.9 .5 15 1.2 14.9 2.2"/>
<path stroke-width="1.0" stroke-opacity="0.31" d="M1000.6 1188.4l14.9-9.8 14.9-7.8 14.9-3.7 14.9-.9 15-.8 14.9-.2 14.9 .4 14.9-1.6 15-3.8 14.9-4.8 14.9-6 14.9-3.8 15-3.4 14.9-4"/>
<path stroke-width="1.0" stroke-opacity="0.53" d="M1000.6 1215.9l14.9-7.7 14.9-7.4 14.9-5.4 14.9-4.9 15-4.2 14.9-3.8 14.9-3.3 14.9-2.3 15-3.2 14.9-2.2 14.9 1.1 14.9 2.5 15 2.6 14.9 2.9"/>
<path stroke-width="1.0" stroke-opacity="0.32" d="M1000.6 1180.2l14.9-10.3 14.9-7.4 14.9-2.4 14.9 1.5 15 1.2 14.9 1.2 14.9 .6 14.9-3 15-5.7 14.9-6.7 14.9-8 14.9-4.2 15-4.6 14.9-6.7"/>
<path stroke-width="1.0" stroke-opacity="0.35" d="M1000.6 1257.9l14.9-14.1 14.9-11.4 14.9-11 14.9-12.8 15-8.1 14.9-5.9 14.9-4.2 14.9-1.5 15-1.6 14.9 0 14.9 6.8 14.9 9.4 15 8.7 14.9 10.2"/>
<path stroke-width="1.0" stroke-opacity="0.50" d="M1000.6 1247.9l14.9-16.1 14.9-13.4 14.9-11.6 14.9-11 15-7.4 14.9-5.3 14.9-3.7 14.9-1.9 15-2.8 14.9-2.4 14.9-1 14.9-2 15-2.4 14.9-2.5"/>
<path stroke-width="1.0" stroke-opacity="0.53" d="M1000.6 1208.1l14.9-6.5 14.9-7.1 14.9-4.9 14.9-4.2 15-4 14.9-3.3 14.9-2.3 14.9-1.1 15-1.8 14.9-.9 14.9 2 14.9 3.8 15 4.7 14.9 6.9"/>
<path stroke-width="1.0" stroke-opacity="0.50" d="M1000.6 1182.8l14.9-8.6 14.9-5.5 14.9-1.1 14.9 .5 15-.8 14.9-1.4 14.9-1.1 14.9-3 15-4.3 14.9-4.7 14.9-5.9 14.9-4.1 15-5.3 14.9-7.2"/>
<path stroke-width="1.0" stroke-opacity="0.53" d="M1000.6 1239.1l14.9-10.6 14.9-9.6 14.9-9.2 14.9-10.3 15-7.2 14.9-5.2 14.9-3.4 14.9-.9 15-1 14.9 .4 14.9 5.5 14.9 7.1 15 6.4 14.9 8"/>
<path stroke-width="1.0" stroke-opacity="0.41" d="M1000.6 1167.3l14.9 .5 14.9 2.5 14.9 3.5 14.9 3.1 15 1 14.9 .3 14.9 .3 14.9 .8 15-.5 14.9 .4 14.9 6 14.9 10.7 15 13.2 14.9 17.4"/>
<path stroke-width="1.0" stroke-opacity="0.53" d="M1000.6 1157.1l14.9-6.6 14.9-1.2 14.9 2.8 14.9 4.6 15 2.8 14.9 2.1 14.9 1.9 14.9-1 15-3 14.9-3.8 14.9-4.3 14.9-1.7 15-1.3 14.9-1.2"/>
<path stroke-width="1.0" stroke-opacity="0.59" d="M1000.6 1271.0l14.9-21.4 14.9-16.3 14.9-14.4 14.9-14.2 15-8.8 14.9-5.9 14.9-4.2 14.9-2.1 15-2.6 14.9-1.7 14.9 3.2 14.9 5.2 15 5.2 14.9 6.7"/>
<path stroke-width="1.0" stroke-opacity="0.40" d="M1000.6 1212.8l14.9-6.2 14.9-6.9 14.9-4.9 14.9-4 15-3.1 14.9-2.6 14.9-2.5 14.9-1.5 15-1.7 14.9 .5 14.9 7.5 14.9 11.9 15 12.9 14.9 16.4"/>
<path stroke-width="1.0" stroke-opacity="0.58" d="M1000.6 1149.6l14.9-.5 14.9 4.4 14.9 6.7 14.9 6.1 15 2.9 14.9 1.1 14.9 .4 14.9-.4 15-1.6 14.9-.7 14.9 1.3 14.9 2.7 15 3.7 14.9 5.4"/>
<path stroke-width="1.0" stroke-opacity="0.56" d="M1000.6 1249.6l14.9-18.2 14.9-14.5 14.9-11.8 14.9-10.7 15-7.4 14.9-5.6 14.9-3.9 14.9-2.3 15-3.2 14.9-2.6 14.9-1 14.9-.8 15-.6 14.9-.1"/>
<path stroke-width="1.0" stroke-opacity="0.32" d="M1000.6 1149.7l14.9-6 14.9 .2 14.9 4.5 14.9 6.2 15 3.9 14.9 2.9 14.9 2.2 14.9-1.5 15-4.2 14.9-5.6 14.9-7.3 14.9-4.5 15-4.1 14.9-5.1"/>
<path stroke-width="1.0" stroke-opacity="0.35" d="M1000.6 1181.7l14.9-5.2 14.9-3.7 14.9-.7 14.9 1.1 15 .6 14.9 .3 14.9-.2 14.9-1 15-2.5 14.9-1.4 14.9 2.2 14.9 5.7 15 7.8 14.9 10.7"/>
<path stroke-width="1.0" stroke-opacity="0.57" d="M1000.6 1250.4l14.9-11.3 14.9-9.6 14.9-9.5 14.9-11.8 15-7.7 14.9-5.7 14.9-4.1 14.9-1.3 15-1.3 14.9 .4 14.9 7.7 14.9 10.7 15 9.8 14.9 11.5"/>
<path stroke-width="1.0" stroke-opacity="0.59" d="M1000.6 1245.6l14.9-13.8 14.9-11.9 14.9-10.8 14.9-10.9 15-7.6 14.9-5.5 14.9-3.9 14.9-2 15-2.6 14.9-1.9 14.9 .5 14.9-.2 15-1.8 14.9-3.1"/>
<path stroke-width="1.0" stroke-opacity="0.44" d="M1000.6 1168.5l14.9-4.4 14.9-1 14.9 2 14.9 2.5 15 .5 14.9-.1 14.9-.2 14.9-1.6 15-3 14.9-3.1 14.9-2.6 14.9-.9 15-.8 14.9-1.2"/>
<path stroke-width="1.0" stroke-opacity="0.57" d="M1000.6 1196.4l14.9-3 14.9-3.3 14.9-1.8 14.9-2.5 15-3.5 14.9-3.5 14.9-2.6 14.9-1.1 15-1.5 14.9-.3 14.9 3.3 14.9 4.6 15 4.8 14.9 6.1"/>
<path stroke-width="1.0" stroke-opacity="0.54" d="M1000.6 1196.9l14.9-4.9 14.9-4.6 14.9-2.6 14.9-2.7 15-4 14.9-3.9 14.9-2.6 14.9-1.2 15-1.7 14.9-1.2 14.9-.7 14.9-1.3 15-1.6 14.9-1.1"/>
<path stroke-width="1.0" stroke-opacity="0.56" d="M1000.6 1204.5l14.9-3.1 14.9-4.9 14.9-3.7 14.9-3.9 15-3.9 14.9-3.5 14.9-2.7 14.9-1.2 15-1.8 14.9-.8 14.9 2.5 14.9 3.6 15 3.4 14.9 4.2"/>
</g>
<path class="m" stroke="#fff" stroke-width="19.0" d="M1001.6 1204.3l3.4-1.5 4.6-1.9 3.5-1.4 3.4-1.4 3.4-1.3 4.6-1.7 3.5-1.3 3.4-1.2 3.4-1.2 4.6-1.5 3.5-1.1 3.4-1.1 3.5-1 4.5-1.4 3.5-.9 3.4-1 3.5-.9 4.6-1.1 3.4-.9 3.4-.8 3.5-.7 4.6-1 3.4-.7 3.5-.7 3.4-.7 4.6-.8 3.4-.6 3.5-.5 3.4-.5 4.6-.7 3.4-.4 3.5-.5 3.4-.4 4.6-.4 3.5-.4 3.4-.3 3.4-.3 4.6-.3 3.5-.2 3.4-.2 3.4-.2 4.6-.2 3.5-.1 3.4 0 3.5-.1 4.5 0 3.5 0 3.4 0 3.5 0 4.6 .1 3.4 .2 3.4 .1 3.5 .1 4.6 .3 3.4 .2 3.5 .2 3.4 .3 4.6 .4 3.4 .3"/>
<path class="m" stroke="#B36CC6" stroke-width="8.8" d="M1000.8 1204.3l.8 0 1.1-.5 1.2-.5 1.1-.5 1.2-.5 1.1-.5 1.2-.4 1.1-.5 .3-.1M1036.6 1190.8l1.7-.5 2.3-.8 2.3-.7 2.3-.7 3.4-1.1 2.3-.7 2.3-.6 2.3-.7 2.3-.6 2.3-.7 2.3-.6 2.3-.6 2.3-.6 2.3-.5 3.4-.9 2.3-.5 2.3-.5 2.3-.5 2.1-.5M1109.9 1173.4l.7-.1 1.1-.2 1.2-.1 1.1-.2 1.1-.1 1.2-.2 1.1-.1 1.2-.2 1.1-.1M1147.0 1169.6l1.4-.1 3.5-.2 2.2-.1 2.3-.1 2.3-.1 3.5-.1 2.3 0 2.3-.1 2.3 0 3.4 0 2.3 0 2.3 0 2.3 0 3.4 0 2.3 .1 2.3 0 2.3 .1 3.4 .1 1.7 .1"/>
</g>
<text class="n" x="1035.2" y="1096.1">n=40</text>
<text x="3.6" y="1530.2" font-size="38">Cluster 2</text>
<text class="c" x="417.3" y="1379.7">Interval &amp;</text>
<text class="c" x="420.1" y="1402.1">LonGenity cohorts</text>
<rect class="x" x="303.80" y="1410.60" width="232.60" height="211.90"/>
<text class="a" transform="translate(285.3 1614.66) rotate(-90)">–2</text>
<text class="a" transform="translate(285.3 1565.58) rotate(-90)">–1</text>
<text class="a" transform="translate(285.3 1516.50) rotate(-90)">0</text>
<text class="a" transform="translate(285.3 1467.42) rotate(-90)">1</text>
<text class="a" transform="translate(285.3 1418.34) rotate(-90)">2</text>
<text class="a" x="317.15" y="1649.9">20</text>
<text class="a" x="365.49" y="1649.9">40</text>
<text class="a" x="413.83" y="1649.9">60</text>
<text class="a" x="462.17" y="1649.9">80</text>
<text class="a" x="510.51" y="1649.9">100</text>
<path class="k" d="M296.4 1614.66h7.4M296.4 1565.58h7.4M296.4 1516.50h7.4M296.4 1467.42h7.4M296.4 1418.34h7.4M317.15 1622.5v8M365.49 1622.5v8M413.83 1622.5v8M462.17 1622.5v8M510.51 1622.5v8"/>
<text class="b" x="420.1" y="1679.1">Age (years)</text>
<text class="b" style="font-size:25px" transform="translate(255.4 1518.1) rotate(-90)">Protein levels (Z–score)</text>
<g clip-path="url(#k40)">
<g class="l" stroke="#3393CB">
<path stroke="none" fill="#3393CB" fill-opacity="0.95" d="M312.3 1500.6l1.6 .6 2.2 .8 2.6 .9 2.7 1 2.8 1 2.6 .9 2.4 .8 2.6 .7 2.6 .8 2.5 .7 2.3 .6 2 .5 1.6 .3 1.4 .3 1.3 .2 1 .1 .8 0 .7 .1 0 8.8-3 .1-3 0-2.9 0-3 0-3 0-2.9 0-3 0-3 0-2.9 0-3 0-3 0-3 0z"/>
<path stroke="none" fill="#3393CB" fill-opacity="0.95" d="M418.6 1510.9l1.8-1 2.6-1.4 3-1.6 3.3-1.7 3.3-1.6 3-1.3 3-1.1 3-.9 3-.8 2.9-.7 2.8-.8 2.6-.9 2.5-.9 2.3-.9 2.2-.9 2-1 2-1 1.8-1.2 1.7-1.3 1.5-1.4 1.4-1.4 1.3-1.6 1.3-1.8 1.4-2 1.5-2.3 1.4-2.6 1.5-2.8 1.4-2.8 1.5-2.9 1.4-2.9 1.4-2.9 1.5-3 1.4-3.1 1.4-3 1.4-2.7 1.3-2.4 1.4-2 1.3-1.8 1.4-1.5 1.2-1.4 1-1.1 .7-.8 0 49.6-6.6 3.7-6.7 3.6-6.6 2.9-6.7 2.6-6.7 2.5-6.6 2.4-6.7 2.4-6.6 2.2-6.7 2-6.6 2-6.7 1.3-6.6 .6z"/>
<path stroke="none" fill="#3393CB" fill-opacity="0.95" d="M312.3 1542.0l2-.7 2.6-.9 3.2-1.1 3.5-1.2 3.7-1.3 3.6-1.2 3.9-1.3 4.6-1.4 4.7-1.5 4.4-1.4 3.8-1.2 2.7-.8 0-8.3-3.6 0-3.5 0-3.6 .1-3.5 0-3.6 0-3.5 0-3.6 0-3.5 0-3.6 0-3.5 0-3.6 0-3.6 0z"/>
<path stroke="none" fill="#3393CB" fill-opacity="0.95" d="M464.7 1514.0l1.7-.4 2.5-.7 2.9-.7 3.2-.8 3.1-.8 3-.7 3.1-.7 3.3-.8 3.3-.8 3.1-.8 2.6-.6 1.9-.4 0-16.5-2.8 1.4-2.8 1.7-2.8 1.6-2.8 1.5-2.8 1.4-2.9 1.3-2.8 1.2-2.8 1.1-2.8 1.1-2.8 1.1-2.8 1-2.8 1z"/>
<path stroke-width="1.0" stroke-opacity="0.86" d="M312.3 1524.7l13.3-1.1 13.3-1 13.3-1.2 13.3-.4 13.3-.2 13.3-.6 13.3-.7 13.3-1.1 13.3-2.2 13.3-4.4 13.2-5.1 13.3-6 13.3-8.4 13.3-11.8"/>
<path stroke-width="1.0" stroke-opacity="0.48" d="M312.3 1536.4l13.3-3.4 13.3-2.6 13.3-3.2 13.3 .1 13.3 .6 13.3-.5 13.3-1 13.3-1.1 13.3-2.5 13.3-3.8 13.2-4.8 13.3-4.4 13.3-4.6 13.3-5.9"/>
<path stroke-width="1.0" stroke-opacity="0.74" d="M312.3 1537.5l13.3-4.2 13.3-3.1 13.3-3.6 13.3-.3 13.3 .1 13.3-.7 13.3-1.2 13.3-1.2 13.3-2.5 13.3-4.1 13.2-5.1 13.3-5 13.3-5.5 13.3-7.2"/>
<path stroke-width="1.0" stroke-opacity="0.72" d="M312.3 1534.6l13.3-2.9 13.3-2.4 13.3-3 13.3-.2 13.3 .4 13.3-.4 13.3-.8 13.3-1 13.3-2.2 13.3-3.8 13.2-4.9 13.3-4.8 13.3-5.2 13.3-6.7"/>
<path stroke-width="1.0" stroke-opacity="0.68" d="M312.3 1504.6l13.3 4.8 13.3 4.4 13.3 2.8 13.3-.1 13.3-.4 13.3-.5 13.3-.7 13.3-.9 13.3-3.2 13.3-4.1 13.2-4.7 13.3-8.1 13.3-13.3 13.3-15.2"/>
<path stroke-width="1.0" stroke-opacity="0.56" d="M312.3 1535.8l13.3-3.3 13.3-2.5 13.3-3.1 13.3 .1 13.3 .6 13.3-.3 13.3-.8 13.3-.9 13.3-2 13.3-3.4 13.2-4.2 13.3-3.8 13.3-3.8 13.3-4.5"/>
<path stroke-width="1.0" stroke-opacity="0.68" d="M312.3 1496.7l13.3 9.6 13.3 6.8 13.3 3.5 13.3 .3 13.3-.1 13.3-.1 13.3-.4 13.3-.6 13.3-2.4 13.3-3.8 13.2-4.5 13.3-6.1 13.3-8.5 13.3-10.4"/>
<path stroke-width="1.0" stroke-opacity="0.70" d="M312.3 1525.0l13.3-2.6 13.3-1.6 13.3-1.1 13.3-.9 13.3-.9 13.3-1 13.3-1.1 13.3-1.2 13.3-3.5 13.3-4.4 13.2-5.1 13.3-8.9 13.3-15.5 13.3-18"/>
<path stroke-width="1.0" stroke-opacity="0.60" d="M312.3 1501.9l13.3 9.6 13.3 5.5 13.3 2.2 13.3 .7 13.3 .7 13.3 .7 13.3 .2 13.3 0 13.3-1.2 13.3-2.9 13.2-3.7 13.3-3.5 13.3-3.3 13.3-4.1"/>
<path stroke-width="1.0" stroke-opacity="0.74" d="M312.3 1478.7l13.3 15.6 13.3 12.1 13.3 6.7 13.3 .6 13.3-.1 13.3-.2 13.3-.5 13.3-.7 13.3-3.8 13.3-4 13.2-4.7 13.3-9.3 13.3-16.6 13.3-18.9"/>
<path stroke-width="1.0" stroke-opacity="0.51" d="M312.3 1524.2l13.3-2.6 13.3-1.7 13.3-1 13.3-.9 13.3-1.1 13.3-1 13.3-1.2 13.3-1.4 13.3-4.1 13.3-4.8 13.2-5.4 13.3-11.1 13.3-20.8 13.3-24.3"/>
<path stroke-width="1.0" stroke-opacity="0.52" d="M312.3 1534.1l13.3-4.1 13.3-2.9 13.3-2.9 13.3-.8 13.3-.6 13.3-1.1 13.3-1.5 13.3-1.7 13.3-2.8 13.3-4.9 13.2-5.5 13.3-7.5 13.3-12.5 13.3-17.2"/>
<path stroke-width="1.0" stroke-opacity="0.77" d="M312.3 1536.2l13.3-4 13.3-3 13.3-3.4 13.3-.5 13.3 0 13.3-.8 13.3-1.2 13.3-1.4 13.3-2.5 13.3-4.4 13.2-5.1 13.3-5.3 13.3-5.9 13.3-7.7"/>
<path stroke-width="1.0" stroke-opacity="0.69" d="M312.3 1522.2l13.3 .3 13.3 .1 13.3-.5 13.3 .1 13.3 .2 13.3-.2 13.3-.5 13.3-.8 13.3-1.9 13.3-3.7 13.2-4.5 13.3-4.7 13.3-5.2 13.3-6.9"/>
<path stroke-width="1.0" stroke-opacity="0.78" d="M312.3 1538.4l13.3-6.4 13.3-4.5 13.3-3.9 13.3-1.5 13.3-1.4 13.3-1.8 13.3-1.6 13.3-1.8 13.3-4.1 13.3-5.3 13.2-6.1 13.3-11.5 13.3-22.3 13.3-27.7"/>
<path stroke-width="1.0" stroke-opacity="0.81" d="M312.3 1474.0l13.3 17.8 13.3 13.5 13.3 7.3 13.3 1 13.3 .6 13.3 .4 13.3 0 13.3-.4 13.3-2.5 13.3-3.1 13.2-3.6 13.3-4.2 13.3-3.8 13.3-5.8"/>
<path stroke-width="1.0" stroke-opacity="0.50" d="M312.3 1522.2l13.3-.6 13.3-.4 13.3-.4 13.3-.3 13.3-.3 13.3-.5 13.3-.7 13.3-.9 13.3-2 13.3-3.9 13.2-4.5 13.3-5 13.3-5.6 13.3-7.3"/>
<path stroke-width="1.0" stroke-opacity="0.87" d="M312.3 1532.2l13.3-1.4 13.3-1.5 13.3-2.6 13.3 .2 13.3 .8 13.3-.2 13.3-.8 13.3-.7 13.3-2 13.3-3.3 13.2-4.4 13.3-4.1 13.3-4.4 13.3-5.6"/>
<path stroke-width="1.0" stroke-opacity="0.90" d="M312.3 1533.9l13.3-3.1 13.3-2.3 13.3-2.8 13.3-.3 13.3 .4 13.3-.4 13.3-.6 13.3-.6 13.3-1.7 13.3-2.9 13.2-3.9 13.3-3.4 13.3-3.4 13.3-4"/>
<path stroke-width="1.0" stroke-opacity="0.74" d="M312.3 1539.9l13.3-3.8 13.3-3 13.3-3.9 13.3 .1 13.3 .8 13.3-.4 13.3-1.1 13.3-1.1 13.3-2.4 13.3-3.7 13.2-4.8 13.3-4.4 13.3-4.6 13.3-5.7"/>
<path stroke-width="1.0" stroke-opacity="0.60" d="M312.3 1527.8l13.3-2.4 13.3-1.7 13.3-1.6 13.3-.4 13.3-.4 13.3-.8 13.3-.9 13.3-1.2 13.3-2.4 13.3-4.2 13.2-4.8 13.3-5.3 13.3-6.2 13.3-8.3"/>
<path stroke-width="1.0" stroke-opacity="0.75" d="M312.3 1471.2l13.3 21 13.3 14.5 13.3 7.2 13.3 .7 13.3 .2 13.3 .1 13.3 0 13.3-.1 13.3-1.8 13.3-3 13.2-3.8 13.3-4.7 13.3-5.1 13.3-6.6"/>
<path stroke-width="1.0" stroke-opacity="0.63" d="M312.3 1519.6l13.3 .4 13.3 0 13.3-.2 13.3-.3 13.3-.3 13.3-.3 13.3-.6 13.3-1.1 13.3-2.5 13.3-4.4 13.2-5.1 13.3-6.8 13.3-10.4 13.3-14.1"/>
<path stroke-width="1.0" stroke-opacity="0.66" d="M312.3 1516.4l13.3-1.2 13.3 1 13.3 1.2 13.3-.6 13.3-.9 13.3-1 13.3-1 13.3-1 13.3-3.7 13.3-4.1 13.2-4.9 13.3-9.8 13.3-17.4 13.3-19.6"/>
<path stroke-width="1.0" stroke-opacity="0.48" d="M312.3 1473.1l13.3 21.9 13.3 14 13.3 6.6 13.3 1.4 13.3 1.1 13.3 1 13.3 .9 13.3 .5 13.3-.8 13.3-2.3 13.2-3.2 13.3-2.7 13.3-2.5 13.3-3"/>
<path stroke-width="1.0" stroke-opacity="0.88" d="M312.3 1486.6l13.3 13.5 13.3 10.1 13.3 5.2 13.3 .4 13.3-.1 13.3-.1 13.3-.2 13.3-.2 13.3-1.8 13.3-3.1 13.2-3.9 13.3-4.8 13.3-4.8 13.3-6.5"/>
<path stroke-width="1.0" stroke-opacity="0.71" d="M312.3 1514.0l13.3 1.4 13.3 1.7 13.3 1 13.3-.6 13.3-.8 13.3-1 13.3-1.2 13.3-1.3 13.3-4 13.3-4.7 13.2-5.4 13.3-11.1 13.3-21.8 13.3-27"/>
<path stroke-width="1.0" stroke-opacity="0.56" d="M312.3 1513.1l13.3 4.8 13.3 2.1 13.3 .4 13.3 .3 13.3 .7 13.3 .6 13.3 .3 13.3 .3 13.3-1.1 13.3-2.7 13.2-3.8 13.3-3.4 13.3-3.1 13.3-3.5"/>
<path stroke-width="1.0" stroke-opacity="0.74" d="M312.3 1515.7l13.3 .4 13.3 1.2 13.3 1 13.3-.2 13.3-.3 13.3-.5 13.3-.6 13.3-.9 13.3-2.8 13.3-4.1 13.2-4.8 13.3-6.9 13.3-9.9 13.3-11.5"/>
<path stroke-width="1.0" stroke-opacity="0.79" d="M312.3 1484.7l13.3 13.8 13.3 10.5 13.3 5.6 13.3 .5 13.3 .1 13.3 .1 13.3-.1 13.3-.4 13.3-2.2 13.3-3.3 13.2-4 13.3-4.9 13.3-4.9 13.3-5.7"/>
<path stroke-width="1.0" stroke-opacity="0.83" d="M312.3 1497.1l13.3 9.4 13.3 6.8 13.3 3.5 13.3 .2 13.3-.2 13.3-.2 13.3-.3 13.3-.5 13.3-2 13.3-3.5 13.2-4.1 13.3-5.1 13.3-5.8 13.3-6.7"/>
<path stroke-width="1.0" stroke-opacity="0.62" d="M312.3 1523.3l13.3-.7 13.3-.5 13.3-.7 13.3-.1 13.3-.1 13.3-.4 13.3-.7 13.3-1 13.3-2 13.3-3.9 13.2-4.6 13.3-4.9 13.3-5.4 13.3-7.2"/>
<path stroke-width="1.0" stroke-opacity="0.82" d="M312.3 1504.9l13.3 5.8 13.3 4.5 13.3 2.4 13.3 .1 13.3 0 13.3 0 13.3-.3 13.3-.5 13.3-1.7 13.3-3.5 13.2-4 13.3-4.2 13.3-4.6 13.3-5.9"/>
<path stroke-width="1.0" stroke-opacity="0.69" d="M312.3 1526.6l13.3-2.1 13.3-1.5 13.3-1.4 13.3-.3 13.3 0 13.3-.3 13.3-.6 13.3-1 13.3-2.1 13.3-3.7 13.2-4.3 13.3-4.2 13.3-4.5 13.3-5.9"/>
<path stroke-width="1.0" stroke-opacity="0.46" d="M312.3 1491.1l13.3 9 13.3 8.3 13.3 5.3 13.3 .1 13.3-.4 13.3-.5 13.3-1 13.3-1.1 13.3-4.8 13.3-4.5 13.2-5.1 13.3-11.7 13.3-22.2 13.3-25.1"/>
<path stroke-width="1.0" stroke-opacity="0.79" d="M312.3 1482.8l13.3 13.6 13.3 10.7 13.3 6 13.3 .5 13.3 .2 13.3 .2 13.3 .1 13.3-.3 13.3-2.8 13.3-3.6 13.2-4.3 13.3-6.4 13.3-7.9 13.3-7.1"/>
<path stroke-width="1.0" stroke-opacity="0.47" d="M312.3 1502.4l13.3 3.6 13.3 5 13.3 3.5 13.3-.3 13.3-.8 13.3-.7 13.3-.9 13.3-1 13.3-4.6 13.3-4.3 13.2-5 13.3-11.5 13.3-21.5 13.3-23.4"/>
<path stroke-width="1.0" stroke-opacity="0.50" d="M312.3 1542.5l13.3-6.6 13.3-4.7 13.3-4.6 13.3-1.1 13.3-.8 13.3-1.5 13.3-1.8 13.3-2 13.3-3.1 13.3-5.1 13.2-5.9 13.3-7.9 13.3-13.7 13.3-18.9"/>
<path stroke-width="1.0" stroke-opacity="0.86" d="M312.3 1530.0l13.3-1.9 13.3-1.4 13.3-1.9 13.3 .1 13.3 .4 13.3-.2 13.3-.6 13.3-.7 13.3-1.9 13.3-3.3 13.2-4.3 13.3-4 13.3-4.1 13.3-5.1"/>
<path stroke-width="1.0" stroke-opacity="0.53" d="M312.3 1524.0l13.3-.1 13.3-.3 13.3-.9 13.3 .2 13.3 .3 13.3-.1 13.3-.5 13.3-.7 13.3-1.8 13.3-3.6 13.2-4.4 13.3-4.4 13.3-4.8 13.3-6.1"/>
<path stroke-width="1.0" stroke-opacity="0.51" d="M312.3 1542.6l13.3-7.2 13.3-5 13.3-4.7 13.3-1.2 13.3-.9 13.3-1.5 13.3-1.7 13.3-1.8 13.3-2.8 13.3-4.8 13.2-5.5 13.3-7.4 13.3-11.9 13.3-15.5"/>
<path stroke-width="1.0" stroke-opacity="0.61" d="M312.3 1520.6l13.3 .9 13.3 .3 13.3-.4 13.3 .2 13.3 .6 13.3 .3 13.3-.2 13.3-.6 13.3-2.1 13.3-3.9 13.2-4.7 13.3-4.6 13.3-4.9 13.3-6.4"/>
<path stroke-width="1.0" stroke-opacity="0.66" d="M312.3 1524.8l13.3-1.1 13.3-.9 13.3-1.2 13.3 0 13.3 .2 13.3-.1 13.3-.6 13.3-.9 13.3-2.2 13.3-4.2 13.2-4.9 13.3-4.9 13.3-5.3 13.3-6.9"/>
<path stroke-width="1.0" stroke-opacity="0.51" d="M312.3 1536.8l13.3-4.1 13.3-3 13.3-3.2 13.3 .1 13.3 .6 13.3-.5 13.3-1.1 13.3-1.3 13.3-2.5 13.3-3.7 13.2-4.5 13.3-4 13.3-4.2 13.3-5.6"/>
<path stroke-width="1.0" stroke-opacity="0.65" d="M312.3 1516.5l13.3 3.7 13.3 1 13.3 .1 13.3 .3 13.3 .4 13.3 .2 13.3-.3 13.3-.4 13.3-1.6 13.3-3.2 13.2-4 13.3-4 13.3-4.4 13.3-5.6"/>
<path stroke-width="1.0" stroke-opacity="0.62" d="M312.3 1526.1l13.3-3.2 13.3-2 13.3-1.3 13.3-1.2 13.3-1.2 13.3-1.3 13.3-1.5 13.3-1.7 13.3-4.6 13.3-5 13.2-5.7 13.3-12.3 13.3-23.9 13.3-28.3"/>
<path stroke-width="1.0" stroke-opacity="0.66" d="M312.3 1506.0l13.3 6 13.3 4.2 13.3 2.1 13.3 .2 13.3-.3 13.3-.4 13.3-.7 13.3-.9 13.3-2.1 13.3-3.7 13.2-4.4 13.3-5.9 13.3-8.2 13.3-10.6"/>
<path stroke-width="1.0" stroke-opacity="0.83" d="M312.3 1474.7l13.3 17.5 13.3 13.4 13.3 7.3 13.3 .7 13.3 .2 13.3 .3 13.3 .2 13.3 .1 13.3-1.9 13.3-2.8 13.2-3.5 13.3-3.8 13.3-4 13.3-4.9"/>
<path stroke-width="1.0" stroke-opacity="0.60" d="M312.3 1470.6l13.3 18.9 13.3 14.6 13.3 7.9 13.3 .6 13.3 .1 13.3 .1 13.3-.1 13.3-.3 13.3-2.9 13.3-3.3 13.2-4 13.3-6.9 13.3-9.7 13.3-9.5"/>
<path stroke-width="1.0" stroke-opacity="0.54" d="M312.3 1462.9l13.3 22.1 13.3 16.9 13.3 9.2 13.3 .7 13.3 0 13.3 .1 13.3-.1 13.3-.2 13.3-3 13.3-3.2 13.2-3.7 13.3-6.6 13.3-9.3 13.3-8.6"/>
<path stroke-width="1.0" stroke-opacity="0.80" d="M312.3 1514.3l13.3 .8 13.3 1.4 13.3 1.1 13.3-.2 13.3-.2 13.3-.3 13.3-.4 13.3-.7 13.3-2.4 13.3-3.8 13.2-4.5 13.3-6.2 13.3-8.3 13.3-9.1"/>
<path stroke-width="1.0" stroke-opacity="0.86" d="M312.3 1535.4l13.3-4.5 13.3-3.1 13.3-2.8 13.3-.6 13.3-.5 13.3-1 13.3-1.4 13.3-1.3 13.3-2.1 13.3-3.8 13.2-4.5 13.3-4.7 13.3-5.3 13.3-6.7"/>
<path stroke-width="1.0" stroke-opacity="0.72" d="M312.3 1519.1l13.3-.8 13.3 .2 13.3 .6 13.3-.4 13.3-.6 13.3-1 13.3-1.1 13.3-1.2 13.3-3.1 13.3-4.1 13.2-4.8 13.3-8.2 13.3-14.3 13.3-17.4"/>
<path stroke-width="1.0" stroke-opacity="0.88" d="M312.3 1471.2l13.3 18.6 13.3 14.5 13.3 8 13.3 .6 13.3-.2 13.3-.3 13.3-.4 13.3-.4 13.3-3.3 13.3-3.4 13.2-4 13.3-8.3 13.3-13.6 13.3-14.4"/>
<path stroke-width="1.0" stroke-opacity="0.49" d="M312.3 1506.1l13.3 6.8 13.3 4.2 13.3 1.7 13.3 0 13.3-.3 13.3-.3 13.3-.3 13.3-.6 13.3-1.7 13.3-3.7 13.2-4.5 13.3-5.3 13.3-6.4 13.3-9.1"/>
<path stroke-width="1.0" stroke-opacity="0.58" d="M312.3 1521.8l13.3-1.4 13.3-.9 13.3-.4 13.3-.5 13.3-.7 13.3-.8 13.3-.9 13.3-1 13.3-3 13.3-4.2 13.2-4.8 13.3-7.4 13.3-11.8 13.3-13.5"/>
<path stroke-width="1.0" stroke-opacity="0.67" d="M312.3 1515.3l13.3 1.2 13.3 1.4 13.3 1 13.3-.3 13.3-.5 13.3-.5 13.3-.8 13.3-1 13.3-2.6 13.3-4.1 13.2-4.6 13.3-6.2 13.3-8.6 13.3-10.4"/>
<path stroke-width="1.0" stroke-opacity="0.89" d="M312.3 1537.8l13.3-4.3 13.3-3.1 13.3-3.5 13.3-.4 13.3 .2 13.3-.7 13.3-1.1 13.3-1.1 13.3-2.2 13.3-3.7 13.2-4.5 13.3-4.4 13.3-4.6 13.3-5.8"/>
<path stroke-width="1.0" stroke-opacity="0.84" d="M312.3 1520.2l13.3 .4 13.3 .4 13.3 .3 13.3 .6 13.3 .5 13.3 .1 13.3-.4 13.3-.3 13.3-1.2 13.3-2.4 13.2-3.3 13.3-3.2 13.3-3.1 13.3-3.6"/>
<path stroke-width="1.0" stroke-opacity="0.63" d="M312.3 1478.6l13.3 15.6 13.3 12.1 13.3 6.5 13.3 .3 13.3 0 13.3 .1 13.3 0 13.3-.1 13.3-2.7 13.3-3.4 13.2-4.2 13.3-7 13.3-9.7 13.3-9.4"/>
<path stroke-width="1.0" stroke-opacity="0.83" d="M312.3 1529.6l13.3-3.2 13.3-2.4 13.3-2.1 13.3-1.1 13.3-1.2 13.3-1.3 13.3-1.5 13.3-1.7 13.3-4 13.3-5.2 13.2-6 13.3-11.7 13.3-23 13.3-29.6"/>
<path stroke-width="1.0" stroke-opacity="0.47" d="M312.3 1520.7l13.3-.1 13.3 .1 13.3-.1 13.3 .2 13.3 .2 13.3-.1 13.3-.2 13.3-.4 13.3-1.4 13.3-2.9 13.2-3.7 13.3-3.5 13.3-3.6 13.3-4.3"/>
<path stroke-width="1.0" stroke-opacity="0.55" d="M312.3 1483.3l13.3 14.7 13.3 10.6 13.3 5.5 13.3 .3 13.3-.1 13.3-.1 13.3-.3 13.3-.5 13.3-3.2 13.3-4.1 13.2-4.9 13.3-9.3 13.3-16.2 13.3-19.1"/>
<path stroke-width="1.0" stroke-opacity="0.73" d="M312.3 1500.4l13.3 7.3 13.3 5.8 13.3 3.1 13.3-.1 13.3-.4 13.3-.3 13.3-.6 13.3-.7 13.3-3 13.3-4 13.2-5 13.3-8.1 13.3-13.4 13.3-16"/>
<path stroke-width="1.0" stroke-opacity="0.72" d="M312.3 1520.0l13.3-1.8 13.3-.3 13.3 .4 13.3-.6 13.3-.9 13.3-.8 13.3-1 13.3-1.1 13.3-3.5 13.3-4.4 13.2-5 13.3-9.4 13.3-16.8 13.3-19.5"/>
<path stroke-width="1.0" stroke-opacity="0.89" d="M312.3 1537.6l13.3-4.2 13.3-3.2 13.3-3.6 13.3-.2 13.3 .3 13.3-.6 13.3-1 13.3-1 13.3-2.2 13.3-3.7 13.2-4.7 13.3-4.5 13.3-4.6 13.3-5.8"/>
<path stroke-width="1.0" stroke-opacity="0.71" d="M312.3 1476.6l13.3 15.4 13.3 12.7 13.3 7.3 13.3 .4 13.3-.2 13.3-.3 13.3-.4 13.3-.5 13.3-3.8 13.3-3.7 13.2-4.3 13.3-9.2 13.3-15.7 13.3-16.3"/>
<path stroke-width="1.0" stroke-opacity="0.46" d="M312.3 1518.0l13.3 0 13.3 .6 13.3 .6 13.3-.3 13.3-.5 13.3-.7 13.3-.9 13.3-1.1 13.3-2.9 13.3-4.2 13.2-4.9 13.3-6.9 13.3-10.4 13.3-12.6"/>
<path stroke-width="1.0" stroke-opacity="0.80" d="M312.3 1514.6l13.3-.9 13.3 1.4 13.3 1.7 13.3-.8 13.3-1 13.3-1 13.3-1.2 13.3-1.2 13.3-4.2 13.3-4.3 13.2-5 13.3-10.7 13.3-19.8 13.3-22.2"/>
<path stroke-width="1.0" stroke-opacity="0.82" d="M312.3 1528.3l13.3-2.2 13.3-1.5 13.3-1.7 13.3-.4 13.3-.3 13.3-.7 13.3-1 13.3-1.1 13.3-2.3 13.3-4.1 13.2-4.9 13.3-5.2 13.3-5.9 13.3-7.7"/>
<path stroke-width="1.0" stroke-opacity="0.71" d="M312.3 1529.9l13.3-3.4 13.3-2.3 13.3-2 13.3-.7 13.3-.6 13.3-.9 13.3-1 13.3-1.2 13.3-2.3 13.3-4.2 13.2-4.8 13.3-5.7 13.3-7.2 13.3-9.1"/>
<path stroke-width="1.0" stroke-opacity="0.82" d="M312.3 1536.6l13.3-4.6 13.3-3.3 13.3-3.4 13.3-.7 13.3-.4 13.3-1 13.3-1.3 13.3-1.5 13.3-2.6 13.3-4.4 13.2-5.2 13.3-5.4 13.3-6.1 13.3-9.7"/>
<path stroke-width="1.0" stroke-opacity="0.48" d="M312.3 1495.1l13.3 11 13.3 7.4 13.3 3.7 13.3 .9 13.3 .6 13.3 .3 13.3 0 13.3-.4 13.3-1.5 13.3-3.2 13.2-3.7 13.3-3.5 13.3-3.6 13.3-4.8"/>
<path stroke-width="1.0" stroke-opacity="0.63" d="M312.3 1524.2l13.3-.7 13.3-.5 13.3-.7 13.3 0 13.3-.1 13.3-.5 13.3-.6 13.3-.7 13.3-1.6 13.3-3.2 13.2-4.1 13.3-4.3 13.3-4.7 13.3-5.8"/>
<path stroke-width="1.0" stroke-opacity="0.74" d="M312.3 1509.9l13.3 5.8 13.3 3.2 13.3 1.2 13.3 .4 13.3 .5 13.3 .2 13.3 .1 13.3-.2 13.3-1.2 13.3-2.7 13.2-3.5 13.3-3.3 13.3-3.3 13.3-4"/>
<path stroke-width="1.0" stroke-opacity="0.84" d="M312.3 1537.7l13.3-4.4 13.3-3.2 13.3-3.5 13.3-.6 13.3-.1 13.3-.9 13.3-1.3 13.3-1.2 13.3-2.3 13.3-3.7 13.2-4.6 13.3-4.2 13.3-4.6 13.3-5.9"/>
<path stroke-width="1.0" stroke-opacity="0.81" d="M312.3 1528.5l13.3-3.5 13.3-2.5 13.3-1.9 13.3-1.1 13.3-1.2 13.3-1.2 13.3-1.4 13.3-1.7 13.3-4.4 13.3-5.3 13.2-5.9 13.3-12.2 13.3-24.1 13.3-29.8"/>
<path stroke-width="1.0" stroke-opacity="0.48" d="M312.3 1490.1l13.3 12.8 13.3 8.7 13.3 4.2 13.3 .3 13.3 0 13.3 .1 13.3 0 13.3-.4 13.3-2.2 13.3-3.7 13.2-4.7 13.3-6.3 13.3-8.5 13.3-10.4"/>
<path stroke-width="1.0" stroke-opacity="0.71" d="M312.3 1511.4l13.3 2 13.3 2.3 13.3 1.7 13.3 .1 13.3-.2 13.3-.3 13.3-.6 13.3-1.1 13.3-3 13.3-4.2 13.2-4.7 13.3-6.7 13.3-9.8 13.3-11.2"/>
<path stroke-width="1.0" stroke-opacity="0.82" d="M312.3 1497.6l13.3 10 13.3 6.7 13.3 3.1 13.3 .2 13.3 0 13.3-.2 13.3-.3 13.3-.6 13.3-2 13.3-3.8 13.2-4.6 13.3-5.9 13.3-7.9 13.3-10.4"/>
<path stroke-width="1.1" stroke-opacity="0.50" d="M351.5 1506.8l1.1-.3 1.5-.4 1.9-.4 1.9-.5 2-.5 1.8-.4 1.8-.3 1.7-.4 1.7-.4 1.7-.3 1.7-.2 1.7 0 1.8 .1 1.7 .4 1.8 .4 1.8 .5 1.6 .5 1.6 .6 1.6 .5 1.6 .7 1.6 .8 1.4 .7 1.2 .5 .9 .5"/>
<path stroke-width="1.1" stroke-opacity="0.50" d="M351.5 1531.5l1.1 .2 1.5 .4 1.9 .4 1.9 .4 2 .4 1.8 .3 1.8 .2 1.7 .3 1.7 .2 1.7 .2 1.7 .1 1.7 0 1.8-.2 1.7-.2 1.8-.4 1.8-.4 1.6-.4 1.6-.5 1.6-.5 1.6-.5 1.6-.6 1.4-.6 1.2-.5 .9-.4"/>
</g>
<path class="m" stroke="#fff" stroke-width="19.0" d="M312.8 1519.7l3.3 0 3.3-.1 3.3 0 3.3 0 1.6 0 3.4 0 3.3 .1 3.3 0 3.3 0 3.3 .1 3.3 0 3.3 0 3.3 0 3.3 .1 1.7 0 3.3 0 3.3 0 3.3 0 3.3-.1 3.3 0 3.3-.1 3.3 0 3.3-.2 3.3-.1 1.7-.1 3.3-.1 3.3-.2 3.3-.2 3.3-.3 3.3-.3 3.3-.3 3.4-.4 3.3-.4 3.3-.5 1.6-.2 3.3-.5 3.3-.6 3.4-.6 3.3-.7 3.3-.7 3.3-.8 3.3-.8 3.3-.9 3.3-.9 1.7-.5 3.3-1.1 3.3-1.1 3.3-1.2 3.3-1.2 3.3-1.3 3.3-1.4 3.3-1.5 3.3-1.5 3.3-1.6 1.7-.9 3.3-1.7 3.3-1.8 3.3-2 3.3-2"/>
<path class="m" stroke="#3393CB" stroke-width="8.8" d="M312.8 1519.7l3.3 0 3.3-.1 3.3 0 3.3 0 1.6 0 3.4 0 3.3 .1 3.3 0 3.3 0 3.3 .1 3.3 0 3.3 0 3.3 0 3.3 .1 1.7 0 3.3 0 3.3 0 3.3 0 3.3-.1 3.3 0 3.3-.1 3.3 0 3.3-.2 3.3-.1 1.7-.1 3.3-.1 3.3-.2 3.3-.2 3.3-.3 3.3-.3 3.3-.3 3.4-.4 3.3-.4 3.3-.5 1.6-.2 3.3-.5 3.3-.6 3.4-.6 3.3-.7 3.3-.7 3.3-.8 3.3-.8 3.3-.9 3.3-.9 1.7-.5 3.3-1.1 3.3-1.1 3.3-1.2 3.3-1.2 3.3-1.3 3.3-1.4 3.3-1.5 3.3-1.5 3.3-1.6 1.7-.9 3.3-1.7 3.3-1.8 3.3-2 3.3-2"/>
</g>
<text class="n" x="357.1" y="1436.9">n=1,002</text>
<text class="c" x="760.9" y="1379.7">Subset of proteins measured</text>
<text class="c" x="763.5" y="1402.1">in independent cohorts</text>
<rect class="x" x="644.60" y="1410.60" width="232.60" height="211.90"/>
<text class="a" transform="translate(626.1 1614.66) rotate(-90)">–2</text>
<text class="a" transform="translate(626.1 1565.58) rotate(-90)">–1</text>
<text class="a" transform="translate(626.1 1516.50) rotate(-90)">0</text>
<text class="a" transform="translate(626.1 1467.42) rotate(-90)">1</text>
<text class="a" transform="translate(626.1 1418.34) rotate(-90)">2</text>
<text class="a" x="657.95" y="1649.9">20</text>
<text class="a" x="706.29" y="1649.9">40</text>
<text class="a" x="754.63" y="1649.9">60</text>
<text class="a" x="802.97" y="1649.9">80</text>
<text class="a" x="851.31" y="1649.9">100</text>
<path class="k" d="M637.2 1614.66h7.4M637.2 1565.58h7.4M637.2 1516.50h7.4M637.2 1467.42h7.4M637.2 1418.34h7.4M657.95 1622.5v8M706.29 1622.5v8M754.63 1622.5v8M802.97 1622.5v8M851.31 1622.5v8"/>
<text class="b" x="760.9" y="1679.1">Age (years)</text>
<text class="b" style="font-size:25px" transform="translate(596.2 1518.1) rotate(-90)">Protein levels (Z–score)</text>
<g clip-path="url(#k41)">
<g class="l" stroke="#3393CB">
<path stroke="none" fill="#3393CB" fill-opacity="0.95" d="M653.3 1506.8l1.6 .2 2.2 .3 2.6 .4 2.7 .4 2.8 .4 2.6 .4 2.5 .3 2.8 .4 2.8 .4 2.5 .4 2.2 .3 1.6 .2 0 8.7-2.4 0-2.4-.1-2.4 0-2.4 0-2.4-.1-2.4 0-2.4 0-2.4-.1-2.4 0-2.4-.1-2.4 0-2.5-.1z"/>
<path stroke="none" fill="#3393CB" fill-opacity="0.95" d="M760.4 1510.9l2.7-.9 3.8-1.2 4.5-1.5 4.8-1.6 4.7-1.5 4.2-1.5 3.7-1.4 3.7-1.3 3.5-1.3 3.4-1.4 3.2-1.4 3.1-1.5 2.7-1.5 2.6-1.6 2.4-1.6 2.3-1.7 2.2-1.9 2.2-1.9 2.2-2.3 2.2-2.4 2.2-2.5 2.1-2.6 1.9-2.4 1.7-2.3 1.6-2 1.4-2.1 1.3-1.9 1.1-1.7 .9-1.5 .7-1 0 26.3-6.6 4.4-6.6 4.2-6.5 3.4-6.6 2.8-6.6 2.8-6.6 2.8-6.6 2.8-6.6 2.4-6.6 2.1-6.5 1.9-6.6 1.4-6.6 .6z"/>
<path stroke="none" fill="#3393CB" fill-opacity="0.95" d="M653.3 1541.8l1.9-.7 2.5-.8 3-1.1 3.4-1.1 3.8-1.3 4-1.2 4.8-1.3 5.7-1.6 6.1-1.6 5.8-1.5 4.9-1.3 3.5-.9 0-8-4.1 .1-4.1 0-4.1 0-4.1 .1-4.1 0-4.2-.1-4.1 0-4.1-.1-4.1 0-4.1-.1-4.1-.1-4.2-.1z"/>
<path stroke="none" fill="#3393CB" fill-opacity="0.95" d="M805.7 1514.0l1.7-.6 2.5-.8 2.9-.9 3.2-1 3.1-1 3-.8 3.1-.8 3.3-.8 3.3-.8 3.1-.7 2.6-.6 1.9-.5 0-18.9-2.8 1.7-2.8 2-2.8 2-2.8 1.8-2.8 1.6-2.9 1.5-2.8 1.3-2.8 1.3-2.8 1.2-2.8 1.2-2.8 1.1-2.8 1.2z"/>
<path stroke-width="1.0" stroke-opacity="0.68" d="M653.3 1502.8l13.3 8.1 13.3 4.8 13.3 1.8 13.3 .5 13.3 .4 13.3 .2 13.3-.4 13.3-.9 13.3-2 13.3-4 13.2-5.1 13.3-5.3 13.3-6.1 13.3-9"/>
<path stroke-width="1.0" stroke-opacity="0.77" d="M653.3 1540.4l13.3-5.2 13.3-3.6 13.3-4.1 13.3-2.2 13.3-.1 13.3 .1 13.3-.3 13.3-1.8 13.3-2.6 13.3-3.6 13.2-6.1 13.3-5.3 13.3-5.6 13.3-7.2"/>
<path stroke-width="1.0" stroke-opacity="0.82" d="M653.3 1540.5l13.3-5.7 13.3-3.9 13.3-4 13.3-2.2 13.3-.7 13.3-.8 13.3-1.4 13.3-2.3 13.3-3.1 13.3-5.2 13.2-6.9 13.3-8.9 13.3-13.3 13.3-21.4"/>
<path stroke-width="1.0" stroke-opacity="0.61" d="M653.3 1491.0l13.3 11 13.3 8.3 13.3 3.6 13.3 .7 13.3 .2 13.3 .2 13.3-.2 13.3-.7 13.3-2.6 13.3-3.8 13.2-5.6 13.3-5.9 13.3-6.7 13.3-8.4"/>
<path stroke-width="1.0" stroke-opacity="0.79" d="M653.3 1528.1l13.3-.6 13.3-.5 13.3-1.6 13.3-.8 13.3 .7 13.3 .8 13.3 .4 13.3-1.3 13.3-1.9 13.3-1.9 13.2-5.6 13.3-4.1 13.3-4.3 13.3-4"/>
<path stroke-width="1.0" stroke-opacity="0.82" d="M653.3 1513.1l13.3 2.7 13.3 2 13.3 .8 13.3 .2 13.3 .1 13.3 0 13.3-.2 13.3-.5 13.3-1.6 13.3-3.3 13.2-4.7 13.3-4.5 13.3-4.6 13.3-5.6"/>
<path stroke-width="1.0" stroke-opacity="0.68" d="M653.3 1521.5l13.3-2 13.3-1.3 13.3-.3 13.3-.7 13.3-.9 13.3-1 13.3-1.1 13.3-1.4 13.3-3.5 13.3-4.6 13.2-7.7 13.3-10.1 13.3-15.6 13.3-22.5"/>
<path stroke-width="1.0" stroke-opacity="0.55" d="M653.3 1473.4l13.3 18.4 13.3 13.6 13.3 5.7 13.3 .6 13.3-.2 13.3-.2 13.3-.1 13.3-.5 13.3-2.8 13.3-3.3 13.2-6.6 13.3-8.2 13.3-11.8 13.3-15.6"/>
<path stroke-width="1.0" stroke-opacity="0.54" d="M653.3 1539.3l13.3-4.8 13.3-3.2 13.3-3.8 13.3-1.9 13.3 0 13.3-.1 13.3-.5 13.3-1.9 13.3-2.6 13.3-3.3 13.2-6 13.3-5.6 13.3-6.2 13.3-8.1"/>
<path stroke-width="1.0" stroke-opacity="0.62" d="M653.3 1493.1l13.3 11.8 13.3 7.9 13.3 3.2 13.3 .6 13.3 0 13.3-.2 13.3-.3 13.3-.7 13.3-2.1 13.3-3.6 13.2-5.3 13.3-5.9 13.3-7.2 13.3-10.1"/>
<path stroke-width="1.0" stroke-opacity="0.70" d="M653.3 1498.1l13.3 8.2 13.3 6.4 13.3 2.8 13.3 .3 13.3-.1 13.3-.3 13.3-.4 13.3-.9 13.3-2.6 13.3-3.9 13.2-6.2 13.3-7.3 13.3-9.4 13.3-12.8"/>
<path stroke-width="1.0" stroke-opacity="0.84" d="M653.3 1537.6l13.3-3.5 13.3-2.4 13.3-3.3 13.3-1.8 13.3 .4 13.3 .5 13.3 .1 13.3-1.9 13.3-2.3 13.3-2 13.2-5.7 13.3-4.2 13.3-4.4 13.3-4.6"/>
<path stroke-width="1.0" stroke-opacity="0.77" d="M653.3 1538.1l13.3-3.9 13.3-2.6 13.3-3.3 13.3-1.7 13.3 .3 13.3 .3 13.3-.2 13.3-2 13.3-2.5 13.3-2.6 13.2-5.9 13.3-4.6 13.3-4.9 13.3-5.3"/>
<path stroke-width="1.0" stroke-opacity="0.51" d="M653.3 1519.1l13.3 1.5 13.3 .9 13.3 .2 13.3 .3 13.3 .9 13.3 .7 13.3 .3 13.3-1 13.3-1.8 13.3-2 13.2-4.8 13.3-3.4 13.3-3.7 13.3-3.4"/>
<path stroke-width="1.0" stroke-opacity="0.78" d="M653.3 1520.2l13.3-.7 13.3-.2 13.3 0 13.3-.1 13.3-.3 13.3-.6 13.3-.7 13.3-1 13.3-2 13.3-3.7 13.2-4.8 13.3-5.1 13.3-5.8 13.3-7.8"/>
<path stroke-width="1.0" stroke-opacity="0.59" d="M653.3 1527.2l13.3-.5 13.3-.5 13.3-1.5 13.3-.8 13.3 .4 13.3 .5 13.3 .1 13.3-1.4 13.3-2.1 13.3-2.3 13.2-5.5 13.3-4.5 13.3-4.8 13.3-5.5"/>
<path stroke-width="1.0" stroke-opacity="0.81" d="M653.3 1513.3l13.3 2.9 13.3 1.8 13.3 .5 13.3-.2 13.3-.3 13.3-.3 13.3-.5 13.3-.9 13.3-2.4 13.3-4.2 13.2-6.3 13.3-7.6 13.3-10.3 13.3-15.3"/>
<path stroke-width="1.0" stroke-opacity="0.76" d="M653.3 1531.3l13.3-2.2 13.3-1.6 13.3-2.2 13.3-1.1 13.3 .4 13.3 .4 13.3 0 13.3-1.5 13.3-2.3 13.3-2.8 13.2-5.7 13.3-4.6 13.3-5 13.3-5.7"/>
<path stroke-width="1.0" stroke-opacity="0.54" d="M653.3 1515.1l13.3 2.3 13.3 1.4 13.3 .4 13.3 0 13.3-.1 13.3-.2 13.3-.5 13.3-.9 13.3-1.9 13.3-4 13.2-5.3 13.3-5.6 13.3-6.4 13.3-9"/>
<path stroke-width="1.0" stroke-opacity="0.69" d="M653.3 1500.1l13.3 7.2 13.3 5.7 13.3 2.4 13.3 .3 13.3-.1 13.3-.1 13.3-.4 13.3-.8 13.3-2.7 13.3-3.9 13.2-6.5 13.3-7.9 13.3-10.6 13.3-14.6"/>
<path stroke-width="1.0" stroke-opacity="0.71" d="M653.3 1492.5l13.3 10.1 13.3 7.9 13.3 3.4 13.3 .3 13.3-.3 13.3-.4 13.3-.4 13.3-1.1 13.3-3.3 13.3-4.2 13.2-7.6 13.3-9.8 13.3-15 13.3-21.5"/>
<path stroke-width="1.0" stroke-opacity="0.79" d="M653.3 1474.8l13.3 20.9 13.3 13.4 13.3 5.2 13.3 1.2 13.3 .6 13.3 .6 13.3 .4 13.3 0 13.3-.8 13.3-2.5 13.2-4.1 13.3-3.7 13.3-3.8 13.3-4.2"/>
<path stroke-width="1.0" stroke-opacity="0.79" d="M653.3 1514.8l13.3 1.3 13.3 1.4 13.3 .6 13.3-.2 13.3-.4 13.3-.4 13.3-.6 13.3-.8 13.3-2.2 13.3-3.8 13.2-5.6 13.3-6.4 13.3-7.7 13.3-10.4"/>
<path stroke-width="1.0" stroke-opacity="0.85" d="M653.3 1525.8l13.3-1.1 13.3-.9 13.3-1.3 13.3-.7 13.3 .1 13.3-.1 13.3-.3 13.3-1.2 13.3-2.1 13.3-3.5 13.2-5.5 13.3-5.5 13.3-6 13.3-8.2"/>
<path stroke-width="1.0" stroke-opacity="0.73" d="M653.3 1496.3l13.3 9.2 13.3 6.8 13.3 3 13.3 .6 13.3 .1 13.3 0 13.3-.2 13.3-.8 13.3-2.2 13.3-3.7 13.2-5.1 13.3-5.4 13.3-5.8 13.3-7.1"/>
<path stroke-width="1.0" stroke-opacity="0.59" d="M653.3 1505.3l13.3 6.7 13.3 4.2 13.3 1.5 13.3 .4 13.3 .1 13.3 0 13.3-.2 13.3-.8 13.3-1.9 13.3-4 13.2-5.2 13.3-5.7 13.3-6.3 13.3-8.9"/>
<path stroke-width="1.0" stroke-opacity="0.84" d="M653.3 1493.5l13.3 9.6 13.3 7.8 13.3 3.3 13.3 .1 13.3-.4 13.3-.5 13.3-.6 13.3-.9 13.3-2.9 13.3-3.7 13.2-6.5 13.3-7.7 13.3-10.8 13.3-14.4"/>
<path stroke-width="1.0" stroke-opacity="0.56" d="M653.3 1511.9l13.3 3.5 13.3 2.4 13.3 .8 13.3 .1 13.3-.1 13.3-.1 13.3-.5 13.3-.8 13.3-1.9 13.3-4 13.2-5.1 13.3-5.6 13.3-6.2 13.3-8.7"/>
<path stroke-width="1.0" stroke-opacity="0.58" d="M653.3 1498.5l13.3 9.4 13.3 6.2 13.3 2.4 13.3 .4 13.3 0 13.3 0 13.3-.3 13.3-.6 13.3-2.1 13.3-3.9 13.2-5.6 13.3-6.3 13.3-7.6 13.3-10.9"/>
<path stroke-width="1.0" stroke-opacity="0.66" d="M653.3 1519.1l13.3 1.7 13.3 1 13.3 .3 13.3 0 13.3 .6 13.3 .6 13.3 .2 13.3-1 13.3-1.7 13.3-2.1 13.2-5.1 13.3-3.9 13.3-4.2 13.3-4.4"/>
<path stroke-width="1.0" stroke-opacity="0.87" d="M653.3 1518.6l13.3 .5 13.3 .3 13.3-.1 13.3-.1 13.3-.1 13.3-.2 13.3-.4 13.3-.8 13.3-1.9 13.3-4.1 13.2-5.3 13.3-5.8 13.3-6.6 13.3-9.1"/>
<path stroke-width="1.0" stroke-opacity="0.51" d="M653.3 1514.4l13.3 3.2 13.3 1.7 13.3 .4 13.3-.2 13.3-.4 13.3-.3 13.3-.4 13.3-.7 13.3-1.7 13.3-4.2 13.2-5.7 13.3-6.7 13.3-8 13.3-12"/>
<path stroke-width="1.0" stroke-opacity="0.68" d="M653.3 1525.8l13.3-1.5 13.3-.9 13.3-1.2 13.3-.7 13.3-.3 13.3-.2 13.3-.5 13.3-1 13.3-1.9 13.3-3.2 13.2-5.1 13.3-5.1 13.3-5.4 13.3-6.8"/>
<path stroke-width="1.0" stroke-opacity="0.70" d="M653.3 1519.8l13.3 .5 13.3 .3 13.3-.3 13.3-.1 13.3 .2 13.3 .2 13.3-.1 13.3-.9 13.3-2 13.3-3.5 13.2-5.3 13.3-5 13.3-5.4 13.3-7"/>
<path stroke-width="1.0" stroke-opacity="0.78" d="M653.3 1509.6l13.3 7.2 13.3 3 13.3 1.1 13.3 .5 13.3 1 13.3 .9 13.3 .7 13.3-.7 13.3-1.6 13.3-1.9 13.2-5 13.3-3.7 13.3-3.8 13.3-3.3"/>
<path stroke-width="1.0" stroke-opacity="0.61" d="M653.3 1514.0l13.3 4.1 13.3 1.7 13.3 .5 13.3 .3 13.3 .5 13.3 .5 13.3 .3 13.3-.7 13.3-1.6 13.3-2.6 13.2-5 13.3-4.2 13.3-4.4 13.3-4.8"/>
<path stroke-width="1.0" stroke-opacity="0.77" d="M653.3 1517.2l13.3-.4 13.3 .8 13.3 .5 13.3-.5 13.3-.7 13.3-.8 13.3-.9 13.3-1.1 13.3-2.8 13.3-4 13.2-6.3 13.3-7.8 13.3-10.9 13.3-15.5"/>
<path stroke-width="1.0" stroke-opacity="0.75" d="M653.3 1539.2l13.3-4.4 13.3-3 13.3-3.8 13.3-1.9 13.3 0 13.3 0 13.3-.5 13.3-2.1 13.3-2.8 13.3-3.5 13.2-6.3 13.3-5.9 13.3-6.7 13.3-9"/>
<path stroke-width="1.0" stroke-opacity="0.50" d="M653.3 1498.3l13.3 7.8 13.3 6.5 13.3 2.9 13.3 .3 13.3-.4 13.3-.6 13.3-.7 13.3-1 13.3-2.5 13.3-3.5 13.2-6 13.3-7.5 13.3-10.3 13.3-13.9"/>
<path stroke-width="1.0" stroke-opacity="0.47" d="M653.3 1500.4l13.3 6.8 13.3 5.7 13.3 2.6 13.3 .2 13.3-.4 13.3-.5 13.3-.4 13.3-.8 13.3-2.4 13.3-3.5 13.2-5.8 13.3-6.6 13.3-8.3 13.3-10.5"/>
<path stroke-width="1.0" stroke-opacity="0.65" d="M653.3 1541.8l13.3-7.6 13.3-5 13.3-4.5 13.3-2.6 13.3-1.4 13.3-1.7 13.3-1.8 13.3-1.9 13.3-3.6 13.3-5 13.2-8 13.3-10.6 13.3-17 13.3-25.8"/>
<path stroke-width="1.0" stroke-opacity="0.45" d="M653.3 1538.7l13.3-5.7 13.3-3.8 13.3-3.7 13.3-1.9 13.3-.2 13.3-.3 13.3-.8 13.3-1.7 13.3-2.7 13.3-4.2 13.2-6.1 13.3-6.1 13.3-6.5 13.3-9"/>
<path stroke-width="1.0" stroke-opacity="0.81" d="M653.3 1534.1l13.3-4.2 13.3-2.7 13.3-2.8 13.3-1.5 13.3-.1 13.3-.2 13.3-.4 13.3-1.4 13.3-2.3 13.3-3.6 13.2-5.6 13.3-5.4 13.3-5.7 13.3-7.2"/>
<path stroke-width="1.0" stroke-opacity="0.52" d="M653.3 1520.2l13.3 .5 13.3 .3 13.3-.2 13.3 0 13.3 .4 13.3 .4 13.3 .1 13.3-.8 13.3-1.8 13.3-2.9 13.2-5.2 13.3-4.6 13.3-4.9 13.3-5.5"/>
<path stroke-width="1.0" stroke-opacity="0.68" d="M653.3 1535.1l13.3-3.9 13.3-2.5 13.3-2.9 13.3-1.6 13.3 .1 13.3 .2 13.3-.1 13.3-1.4 13.3-2.1 13.3-2.7 13.2-5.5 13.3-4.5 13.3-4.8 13.3-5"/>
<path stroke-width="1.0" stroke-opacity="0.61" d="M653.3 1504.7l13.3 7.8 13.3 4.4 13.3 1.6 13.3 .5 13.3 .3 13.3 .4 13.3 .1 13.3-.5 13.3-1.6 13.3-2.9 13.2-4.9 13.3-4.6 13.3-4.9 13.3-5.9"/>
<path stroke-width="1.0" stroke-opacity="0.51" d="M653.3 1500.6l13.3 7.8 13.3 5.5 13.3 2.1 13.3 .1 13.3-.2 13.3-.2 13.3-.3 13.3-.7 13.3-2.3 13.3-3.9 13.2-6.2 13.3-7.5 13.3-9.9 13.3-13.9"/>
<path stroke-width="1.0" stroke-opacity="0.71" d="M653.3 1539.8l13.3-4.7 13.3-3.3 13.3-4 13.3-2.3 13.3-.3 13.3-.1 13.3-.6 13.3-1.8 13.3-2.6 13.3-3.7 13.2-6.4 13.3-6.4 13.3-7.2 13.3-9.8"/>
<path stroke-width="1.0" stroke-opacity="0.60" d="M653.3 1515.2l13.3 1.6 13.3 1.2 13.3 .3 13.3-.1 13.3-.2 13.3-.3 13.3-.6 13.3-1.1 13.3-2.7 13.3-4.3 13.2-6.1 13.3-7.3 13.3-9.9 13.3-14.7"/>
<path stroke-width="1.0" stroke-opacity="0.47" d="M653.3 1529.8l13.3-2.5 13.3-1.7 13.3-1.9 13.3-1.2 13.3-.5 13.3-.6 13.3-.9 13.3-1.6 13.3-2.3 13.3-4.1 13.2-5.8 13.3-6.6 13.3-8.5 13.3-13.2"/>
<path stroke-width="1.0" stroke-opacity="0.81" d="M653.3 1526.7l13.3-.5 13.3-.3 13.3-1 13.3-.5 13.3 .6 13.3 .5 13.3 .1 13.3-1.4 13.3-1.8 13.3-1.8 13.2-5.1 13.3-4 13.3-4.4 13.3-4"/>
<path stroke-width="1.0" stroke-opacity="0.65" d="M653.3 1513.4l13.3 2.4 13.3 1.8 13.3 .7 13.3 .1 13.3 .1 13.3 .1 13.3-.1 13.3-.5 13.3-1.6 13.3-3.3 13.2-4.9 13.3-4.6 13.3-4.8 13.3-5.7"/>
<path stroke-width="1.0" stroke-opacity="0.46" d="M653.3 1517.7l13.3 .3 13.3 .5 13.3 .2 13.3-.3 13.3-.6 13.3-.7 13.3-1.1 13.3-1.5 13.3-3.3 13.3-4.7 13.2-7.6 13.3-9.9 13.3-15.5 13.3-23.7"/>
<path stroke-width="1.0" stroke-opacity="0.88" d="M653.3 1533.4l13.3-3.5 13.3-2.2 13.3-2.6 13.3-1.4 13.3-.2 13.3-.2 13.3-.8 13.3-1.7 13.3-2.5 13.3-3.8 13.2-5.8 13.3-5.8 13.3-6.6 13.3-9"/>
<path stroke-width="1.0" stroke-opacity="0.68" d="M653.3 1533.8l13.3-3.5 13.3-2.2 13.3-2.6 13.3-1.6 13.3-.2 13.3-.2 13.3-.4 13.3-1.4 13.3-2.1 13.3-3.2 13.2-5.8 13.3-5.4 13.3-5.6 13.3-7"/>
<path stroke-width="1.0" stroke-opacity="0.53" d="M653.3 1497.5l13.3 10 13.3 6.5 13.3 2.5 13.3 .6 13.3 .3 13.3 .2 13.3-.1 13.3-.4 13.3-1.6 13.3-3.5 13.2-4.7 13.3-4.8 13.3-5 13.3-6.7"/>
<path stroke-width="1.0" stroke-opacity="0.50" d="M653.3 1526.3l13.3-1.7 13.3-.9 13.3-1.2 13.3-.6 13.3 0 13.3-.1 13.3-.4 13.3-1.3 13.3-2 13.3-3.2 13.2-5.1 13.3-4.7 13.3-5.1 13.3-6.3"/>
<path stroke-width="1.0" stroke-opacity="0.77" d="M653.3 1523.9l13.3-1.3 13.3-.8 13.3-.8 13.3-.6 13.3-.4 13.3-.6 13.3-.9 13.3-1.4 13.3-2.6 13.3-4.7 13.2-6.6 13.3-8.1 13.3-11.3 13.3-17.1"/>
<path stroke-width="1.0" stroke-opacity="0.75" d="M653.3 1522.6l13.3-.1 13.3-.1 13.3-.4 13.3-.2 13.3 .3 13.3 .2 13.3-.3 13.3-1.1 13.3-2 13.3-2.7 13.2-5 13.3-4.5 13.3-5 13.3-5.9"/>
<path stroke-width="1.0" stroke-opacity="0.54" d="M653.3 1512.2l13.3 1.8 13.3 2.1 13.3 .8 13.3-.1 13.3-.4 13.3-.3 13.3-.4 13.3-.8 13.3-2.3 13.3-3.8 13.2-5.9 13.3-6.9 13.3-9 13.3-12.2"/>
<path stroke-width="1.0" stroke-opacity="0.70" d="M653.3 1519.9l13.3 1.8 13.3 1.3 13.3 .3 13.3-.1 13.3 .5 13.3 .5 13.3 .5 13.3-.7 13.3-1.4 13.3-1.5 13.2-5.3 13.3-4.1 13.3-4.1 13.3-3.4"/>
<path stroke-width="1.0" stroke-opacity="0.48" d="M653.3 1527.6l13.3-1.2 13.3-.9 13.3-1.5 13.3-.8 13.3 .4 13.3 .4 13.3 .1 13.3-1.3 13.3-2.1 13.3-2.9 13.2-5.6 13.3-4.8 13.3-5.3 13.3-6.1"/>
<path stroke-width="1.0" stroke-opacity="0.75" d="M653.3 1473.5l13.3 18.9 13.3 13.5 13.3 5.7 13.3 .9 13.3 0 13.3 0 13.3-.1 13.3-.5 13.3-2.7 13.3-3.5 13.2-6.4 13.3-7.5 13.3-10.4 13.3-13.8"/>
<path stroke-width="1.0" stroke-opacity="0.56" d="M653.3 1527.6l13.3-.8 13.3-.6 13.3-1.5 13.3-.8 13.3 .5 13.3 .4 13.3-.1 13.3-1.4 13.3-2.2 13.3-2.8 13.2-5.7 13.3-4.8 13.3-5.3 13.3-6.4"/>
<path stroke-width="1.0" stroke-opacity="0.60" d="M653.3 1475.8l13.3 18.6 13.3 13.1 13.3 5.4 13.3 .9 13.3 .1 13.3 0 13.3 .1 13.3-.3 13.3-1.7 13.3-3 13.2-4.8 13.3-5.2 13.3-5.2 13.3-7"/>
<path stroke-width="1.0" stroke-opacity="0.81" d="M653.3 1503.5l13.3 6.7 13.3 4.9 13.3 1.9 13.3 .3 13.3-.1 13.3-.1 13.3-.3 13.3-.7 13.3-1.9 13.3-3.7 13.2-5.1 13.3-5.3 13.3-5.6 13.3-8"/>
<path stroke-width="1.0" stroke-opacity="0.89" d="M653.3 1501.4l13.3 7.2 13.3 5.4 13.3 2.1 13.3 .2 13.3-.1 13.3-.1 13.3-.1 13.3-.6 13.3-2 13.3-3.7 13.2-5.4 13.3-5.8 13.3-6.2 13.3-7.8"/>
<path stroke-width="1.0" stroke-opacity="0.72" d="M653.3 1482.6l13.3 13.9 13.3 10.8 13.3 4.5 13.3 .4 13.3-.4 13.3-.4 13.3-.4 13.3-.9 13.3-3.4 13.3-3.8 13.2-7.7 13.3-10 13.3-15.8 13.3-22.3"/>
<path stroke-width="1.0" stroke-opacity="0.52" d="M653.3 1510.9l13.3 4.6 13.3 2.5 13.3 .8 13.3 .1 13.3 0 13.3 0 13.3-.4 13.3-.7 13.3-1.9 13.3-4 13.2-5.4 13.3-5.9 13.3-7.1 13.3-10.4"/>
<path stroke-width="1.0" stroke-opacity="0.49" d="M653.3 1528.1l13.3-2.9 13.3-1.8 13.3-1.7 13.3-1 13.3-.4 13.3-.6 13.3-1 13.3-1.2 13.3-2.4 13.3-4.3 13.2-5.8 13.3-6.6 13.3-8.1 13.3-11.5"/>
</g>
<path class="m" stroke="#fff" stroke-width="19.0" d="M653.8 1519.2l3.3-.1 3.3 0 3.3 0 3.3 0 1.6 0 3.4 .1 3.3 0 3.3 .1 3.3 0 3.3 .1 3.3 .1 3.3 0 3.3 .1 3.3 .1 1.7 0 3.3 0 3.3 .1 3.3 0 3.3 0 3.3 0 3.3 0 3.3-.1 3.3 0 3.3-.1 1.7-.1 3.3-.1 3.3-.2 3.3-.2 3.3-.3 3.3-.3 3.3-.3 3.4-.4 3.3-.4 3.3-.5 1.6-.2 3.3-.6 3.3-.6 3.4-.6 3.3-.7 3.3-.8 3.3-.9 3.3-.9 3.3-1 3.3-1 1.7-.6 3.3-1.2 3.3-1.2 3.3-1.3 3.3-1.5 3.3-1.5 3.3-1.5 3.3-1.7 3.3-1.8 3.3-1.8 1.7-1 3.3-2 3.3-2.1 3.3-2.2 3.3-2.3"/>
<path class="m" stroke="#3393CB" stroke-width="8.8" d="M653.8 1519.2l3.3-.1 3.3 0 3.3 0 3.3 0 1.6 0 3.4 .1 3.3 0 3.3 .1 3.3 0 3.3 .1 3.3 .1 3.3 0 3.3 .1 3.3 .1 1.7 0 3.3 0 3.3 .1 3.3 0 3.3 0 3.3 0 3.3 0 3.3-.1 3.3 0 3.3-.1 1.7-.1 3.3-.1 3.3-.2 3.3-.2 3.3-.3 3.3-.3 3.3-.3 3.4-.4 3.3-.4 3.3-.5 1.6-.2 3.3-.6 3.3-.6 3.4-.6 3.3-.7 3.3-.8 3.3-.9 3.3-.9 3.3-1 3.3-1 1.7-.6 3.3-1.2 3.3-1.2 3.3-1.3 3.3-1.5 3.3-1.5 3.3-1.5 3.3-1.7 3.3-1.8 3.3-1.8 1.7-1 3.3-2 3.3-2.1 3.3-2.2 3.3-2.3"/>
</g>
<text class="n" x="694.4" y="1436.9">n=269</text>
<text class="c" x="1101.7" y="1379.7">Corresponding trajectories</text>
<text class="c" x="1101.7" y="1402.1">in independent cohorts</text>
<rect class="x" x="985.40" y="1410.60" width="232.60" height="211.90"/>
<text class="a" transform="translate(966.9 1614.66) rotate(-90)">–2</text>
<text class="a" transform="translate(966.9 1565.58) rotate(-90)">–1</text>
<text class="a" transform="translate(966.9 1516.50) rotate(-90)">0</text>
<text class="a" transform="translate(966.9 1467.42) rotate(-90)">1</text>
<text class="a" transform="translate(966.9 1418.34) rotate(-90)">2</text>
<text class="a" x="998.75" y="1649.9">20</text>
<text class="a" x="1047.09" y="1649.9">40</text>
<text class="a" x="1095.43" y="1649.9">60</text>
<text class="a" x="1143.77" y="1649.9">80</text>
<text class="a" x="1192.11" y="1649.9">100</text>
<path class="k" d="M978.0 1614.66h7.4M978.0 1565.58h7.4M978.0 1516.50h7.4M978.0 1467.42h7.4M978.0 1418.34h7.4M998.75 1622.5v8M1047.09 1622.5v8M1095.43 1622.5v8M1143.77 1622.5v8M1192.11 1622.5v8"/>
<text class="b" x="1101.7" y="1679.1">Age (years)</text>
<text class="b" style="font-size:25px" transform="translate(937.0 1518.1) rotate(-90)">Protein levels (Z–score)</text>
<g clip-path="url(#k42)">
<g class="l" stroke="#3393CB">
<path stroke="none" fill="#3393CB" fill-opacity="0.95" d="M1000.6 1482.1l2.3 .9 3.3 1.3 3.9 1.5 4.1 1.6 4.2 1.6 3.8 1.3 3.5 1.2 3.4 1.1 3.4 1 3.4 1 3.4 1 3.4 .9 3.5 .9 3.4 1 3.4 .9 3.5 .8 3.4 .8 3.4 .8 3.5 .6 3.4 .6 3.4 .6 3.5 .4 3.4 .5 3.4 .3 3.4 .4 3.5 .2 3.4 .2 3.4 .2 3.5 0 3.4 .1 3.4-.1 3.5 0 3.4-.2 3.4-.2 3.5-.2 3.4-.4 3.4-.3 3.4-.4 3.5-.4 3.4-.5 3.4-.7 3.5-.7 3.4-.9 3.4-1.1 3.5-1.1 3.4-1.2 3.4-1.4 3.4-1.6 3.5-1.7 3.3-2 3.4-2.1 3.4-2.2 3.5-2.2 3.5-2.1 3.9-2.2 4.4-2.4 4.3-2.3 4.1-2.2 3.5-1.9 2.5-1.4 0 29.4-17.4 4.8-17.4 4.5-17.5 4.1-17.4 4.1-17.4 2.3-17.4 .2-17.4 1-17.4 2.3-17.4 1.9-17.4 1.6-17.4 1.7-17.4 .8z"/>
<path stroke="none" fill="#3393CB" fill-opacity="0.95" d="M1000.6 1552.1l2.3-.2 3.3-.2 3.9-.3 4.1-.4 4.2-.4 3.8-.6 3.5-.7 3.4-.8 3.4-.9 3.4-.9 3.4-.9 3.4-.9 3.5-.9 3.4-.9 3.4-.9 3.5-.9 3.4-.8 3.4-.8 3.5-.6 3.4-.5 3.4-.5 3.5-.5 3.4-.5 3.4-.5 3.4-.5 3.5-.6 3.4-.5 3.4-.6 3.5-.4 3.4-.4 3.4-.3 3.5-.2 3.4-.2 3.4-.1 3.5-.1 3.4-.2 3.4-.2 3.4-.2 3.5-.3 3.4-.2 3.4-.1 3.5 0 3.4 .1 3.4 .2 3.5 .3 3.4 .4 3.4 .4 3.4 .7 3.5 .7 3.3 .9 3.4 1.1 3.4 1.1 3.5 1.1 3.5 1.2 3.9 1.4 4.4 1.5 4.3 1.6 4.1 1.6 3.5 1.2 2.5 1 0-48.9-17.4 4.8-17.4 4.5-17.5 4.1-17.4 4.1-17.4 2.3-17.4 .2-17.4 1-17.4 2.3-17.4 1.9-17.4 1.6-17.4 1.7-17.4 .8z"/>
<path stroke-width="1.0" stroke-opacity="0.68" d="M1000.6 1515.2l14.9 2.7 14.9 2.2 14.9 1.9 14.9 1.3 15-.2 14.9 .2 14.9 .5 14.9 1.7 15 .8 14.9 .4 14.9 3.8 14.9 6.2 15 8.4 14.9 12.2"/>
<path stroke-width="1.0" stroke-opacity="0.63" d="M1000.6 1561.0l14.9-6 14.9-4.8 14.9-4.6 14.9-5.7 15-4.3 14.9-4.5 14.9-4.2 14.9-1.5 15-1.7 14.9-2.3 14.9-1.2 14.9-1.9 15-2.6 14.9-2.8"/>
<path stroke-width="1.0" stroke-opacity="0.82" d="M1000.6 1477.0l14.9 4.2 14.9 4.4 14.9 5.2 14.9 7.4 15 6.9 14.9 4.2 14.9 2 14.9 1.2 15 .1 14.9-2.4 14.9-5.4 14.9-4.5 15-3.4 14.9-2.5"/>
<path stroke-width="1.0" stroke-opacity="0.41" d="M1000.6 1503.4l14.9 2.7 14.9 2.3 14.9 2.3 14.9 2.9 15 2.1 14.9 .7 14.9 .6 14.9 .6 15-.8 14.9-2.9 14.9-3.5 14.9-3.3 15-3.3 14.9-3.2"/>
<path stroke-width="1.0" stroke-opacity="0.60" d="M1000.6 1481.6l14.9 .8 14.9 1.7 14.9 3.1 14.9 6.2 15 6.8 14.9 4.5 14.9 1.1 14.9-.4 15-1 14.9-3.8 14.9-12.9 14.9-12.7 15-12.3 14.9-14"/>
<path stroke-width="1.0" stroke-opacity="0.52" d="M1000.6 1560.0l14.9-5.3 14.9-4.7 14.9-4.7 14.9-5.3 15-3.3 14.9-3.6 14.9-3.9 14.9-1.8 15-2.7 14.9-4 14.9-3.6 14.9-4.3 15-5.4 14.9-7"/>
<path stroke-width="1.0" stroke-opacity="0.82" d="M1000.6 1512.3l14.9-2.9 14.9-2.7 14.9-1.4 14.9 1.2 15 2.3 14.9 1.5 14.9-.4 14.9-1.6 15-2.5 14.9-5 14.9-14.1 14.9-15 15-16 14.9-19.9"/>
<path stroke-width="1.0" stroke-opacity="0.74" d="M1000.6 1566.2l14.9-4.8 14.9-4.1 14.9-4.4 14.9-6.1 15-3.8 14.9-4.2 14.9-5.3 14.9-2.1 15-2.5 14.9-2.7 14.9-.9 14.9-1.6 15-3 14.9-4.4"/>
<path stroke-width="1.0" stroke-opacity="0.50" d="M1000.6 1507.9l14.9-1.8 14.9-1.7 14.9-.8 14.9 1.5 15 2.4 14.9 1.5 14.9 .2 14.9-.5 15-1.3 14.9-3.9 14.9-11.6 14.9-12.5 15-12.9 14.9-15.3"/>
<path stroke-width="1.0" stroke-opacity="0.57" d="M1000.6 1496.7l14.9 1.9 14.9 2.1 14.9 2.7 14.9 3.6 15 2.8 14.9 1.1 14.9-.1 14.9 0 15-.7 14.9-2.9 14.9-8.8 14.9-10.1 15-10.7 14.9-12.3"/>
<path stroke-width="1.0" stroke-opacity="0.53" d="M1000.6 1492.7l14.9 .2 14.9 .8 14.9 2 14.9 4.5 15 4.9 14.9 3.3 14.9 1.3 14.9 .7 15-.2 14.9-2.7 14.9-7.4 14.9-6.3 15-4.8 14.9-3.8"/>
<path stroke-width="1.0" stroke-opacity="0.60" d="M1000.6 1539.2l14.9-2.2 14.9-2.3 14.9-2.2 14.9-2.6 15-2.4 14.9-2.4 14.9-1.9 14.9-.7 15-1.6 14.9-2.9 14.9-2.1 14.9-1.9 15-2 14.9-2"/>
<path stroke-width="1.0" stroke-opacity="0.65" d="M1000.6 1490.8l14.9 4.1 14.9 4.1 14.9 4.5 14.9 5.5 15 4.2 14.9 2.2 14.9 1.1 14.9 1.1 15-.2 14.9-1.9 14.9-1 14.9 .4 15 1.7 14.9 3.5"/>
<path stroke-width="1.0" stroke-opacity="0.51" d="M1000.6 1568.5l14.9-7.8 14.9-6.6 14.9-6.4 14.9-7.1 15-5 14.9-5 14.9-4.6 14.9-2.3 15-3.3 14.9-4.9 14.9-5.8 14.9-7.8 15-10.2 14.9-13.2"/>
<path stroke-width="1.0" stroke-opacity="0.40" d="M1000.6 1570.7l14.9-8.2 14.9-7.1 14.9-6.9 14.9-7.7 15-5.6 14.9-5.7 14.9-5 14.9-3.1 15-4.1 14.9-5.7 14.9-9.4 14.9-13 15-16.4 14.9-21.6"/>
<path stroke-width="1.0" stroke-opacity="0.41" d="M1000.6 1547.3l14.9-4.5 14.9-4.3 14.9-4.1 14.9-4.2 15-3.7 14.9-3.8 14.9-2.6 14.9-1.6 15-3.1 14.9-5.2 14.9-9.9 14.9-12.5 15-14.9 14.9-18.9"/>
<path stroke-width="1.0" stroke-opacity="0.41" d="M1000.6 1483.0l14.9 5.2 14.9 5.2 14.9 5.7 14.9 7 15 5.5 14.9 2.7 14.9 .9 14.9 .4 15-.8 14.9-2.5 14.9-2.3 14.9-1.1 15-.7 14.9-.2"/>
<path stroke-width="1.0" stroke-opacity="0.59" d="M1000.6 1491.2l14.9 6.1 14.9 5.5 14.9 5.4 14.9 5.7 15 4 14.9 1.9 14.9 1.8 14.9 1.7 15 .4 14.9-.1 14.9 3.5 14.9 6.6 15 9 14.9 12.3"/>
<path stroke-width="1.0" stroke-opacity="0.62" d="M1000.6 1570.5l14.9-7.2 14.9-6.4 14.9-6.1 14.9-6.7 15-4.2 14.9-4.5 14.9-5.4 14.9-2.9 15-3.5 14.9-4.3 14.9-3.7 14.9-5.2 15-7.7 14.9-10.9"/>
<path stroke-width="1.0" stroke-opacity="0.66" d="M1000.6 1522.2l14.9 2.1 14.9 1.1 14.9 .3 14.9-.4 15-1.3 14.9-1.6 14.9-1.2 14.9-.6 15-1.7 14.9-3.1 14.9-2.9 14.9-3.2 15-4.1 14.9-5.3"/>
<path stroke-width="1.0" stroke-opacity="0.40" d="M1000.6 1564.6l14.9-5.7 14.9-5.1 14.9-5.3 14.9-6.3 15-4.3 14.9-4.4 14.9-4.6 14.9-2.1 15-2.9 14.9-4.4 14.9-4.6 14.9-6.4 15-8.7 14.9-11.9"/>
<path stroke-width="1.0" stroke-opacity="0.84" d="M1000.6 1555.0l14.9-3.9 14.9-3.6 14.9-3.8 14.9-4.8 15-3.4 14.9-3.5 14.9-3.7 14.9-1.3 15-2 14.9-2.5 14.9-.9 14.9-.9 15-1.3 14.9-1.6"/>
<path stroke-width="1.0" stroke-opacity="0.62" d="M1000.6 1556.7l14.9-2.7 14.9-2.7 14.9-3.2 14.9-4.8 15-3 14.9-3.3 14.9-4.4 14.9-1.3 15-1.7 14.9-1.8 14.9 .6 14.9 .3 15-.7 14.9-1.2"/>
<path stroke-width="1.0" stroke-opacity="0.80" d="M1000.6 1555.0l14.9-4.1 14.9-3.5 14.9-3.7 14.9-4.8 15-3.5 14.9-3.7 14.9-3.8 14.9-1.3 15-1.9 14.9-2.6 14.9-1.4 14.9-2 15-2.9 14.9-3.7"/>
<path stroke-width="1.0" stroke-opacity="0.80" d="M1000.6 1559.6l14.9-5 14.9-4.2 14.9-4.1 14.9-5.2 15-3.4 14.9-3.5 14.9-3.9 14.9-1.2 15-1.6 14.9-1.6 14.9 1.3 14.9 2.3 15 2.9 14.9 3.9"/>
<path stroke-width="1.0" stroke-opacity="0.83" d="M1000.6 1475.9l14.9 5.6 14.9 6.1 14.9 6.8 14.9 8.1 15 6.6 14.9 3.7 14.9 2 14.9 1.7 15 .5 14.9-.8 14.9 .7 14.9 2.8 15 5.1 14.9 8.2"/>
<path stroke-width="1.0" stroke-opacity="0.74" d="M1000.6 1477.4l14.9 1.3 14.9 1.9 14.9 3.2 14.9 6.5 15 7.3 14.9 4.9 14.9 1.3 14.9-.5 15-1.1 14.9-4.1 14.9-15.6 14.9-16.4 15-16.9 14.9-20.1"/>
<path stroke-width="1.0" stroke-opacity="0.81" d="M1000.6 1501.0l14.9 .1 14.9 .8 14.9 1.6 14.9 2.9 15 2.8 14.9 1.5 14.9 .9 14.9 .9 15 .1 14.9-2.5 14.9-6.1 14.9-5.4 15-3.9 14.9-2.4"/>
<path stroke-width="1.0" stroke-opacity="0.82" d="M1000.6 1545.5l14.9-1.2 14.9-1.1 14.9-.9 14.9-2.3 15-1.6 14.9-2.5 14.9-3.8 14.9-.6 15-.3 14.9 .3 14.9 4.1 14.9 4.6 15 4.9 14.9 6.7"/>
<path stroke-width="1.0" stroke-opacity="0.57" d="M1000.6 1549.2l14.9-2 14.9-2.1 14.9-2.6 14.9-3.7 15-2.6 14.9-2.8 14.9-3.5 14.9-1 15-1.7 14.9-2.2 14.9-.3 14.9-.2 15-.9 14.9-1.3"/>
<path stroke-width="1.0" stroke-opacity="0.44" d="M1000.6 1490.7l14.9 1.4 14.9 1.3 14.9 2 14.9 4.1 15 4.6 14.9 2.9 14.9 .4 14.9-.7 15-1.6 14.9-4.4 14.9-14.4 14.9-16 15-17.2 14.9-21.3"/>
<path stroke-width="1.0" stroke-opacity="0.62" d="M1000.6 1556.2l14.9-3.1 14.9-3 14.9-3.3 14.9-4.5 15-2.5 14.9-2.7 14.9-3.6 14.9-.5 15-.8 14.9-.6 14.9 2.9 14.9 3.5 15 3.6 14.9 4.8"/>
<path stroke-width="1.0" stroke-opacity="0.69" d="M1000.6 1557.1l14.9-5.3 14.9-4.8 14.9-4.6 14.9-5.3 15-3.9 14.9-3.8 14.9-3.6 14.9-1.5 15-2.2 14.9-3.5 14.9-3 14.9-3.5 15-4.3 14.9-5.2"/>
<path stroke-width="1.0" stroke-opacity="0.56" d="M1000.6 1570.7l14.9-8.4 14.9-6.9 14.9-6.5 14.9-7.2 15-4.9 14.9-4.6 14.9-4.4 14.9-1.7 15-2.2 14.9-3.1 14.9-2.1 14.9-2.5 15-3 14.9-3.2"/>
<path stroke-width="1.0" stroke-opacity="0.66" d="M1000.6 1504.6l14.9-1.8 14.9-1.8 14.9-.7 14.9 1.9 15 3.1 14.9 2.4 14.9 .9 14.9 .1 15-.7 14.9-3.4 14.9-11.3 14.9-11.7 15-11.6 14.9-12.7"/>
<path stroke-width="1.0" stroke-opacity="0.81" d="M1000.6 1551.9l14.9-6.8 14.9-6.3 14.9-5.6 14.9-5.1 15-4.5 14.9-3.9 14.9-2.2 14.9-2.1 15-3.3 14.9-5.9 14.9-13.2 14.9-16 15-18.2 14.9-22.9"/>
<path stroke-width="1.0" stroke-opacity="0.41" d="M1000.6 1561.5l14.9-7.2 14.9-6.2 14.9-6 14.9-6.3 15-5 14.9-4.8 14.9-3.8 14.9-2.3 15-3.3 14.9-5 14.9-7.7 14.9-9.9 15-12 14.9-15.1"/>
<path stroke-width="1.0" stroke-opacity="0.43" d="M1000.6 1519.8l14.9 .2 14.9-.3 14.9-.4 14.9-.4 15-1 14.9-1.4 14.9-1.2 14.9-1 15-1.9 14.9-3.8 14.9-7.9 14.9-9.3 15-11 14.9-13.9"/>
<path stroke-width="1.0" stroke-opacity="0.48" d="M1000.6 1543.4l14.9-2.5 14.9-2.9 14.9-3.1 14.9-3.6 15-2.8 14.9-2.8 14.9-2.4 14.9-.7 15-1.6 14.9-2.9 14.9-2.6 14.9-3.3 15-4.2 14.9-5.3"/>
<path stroke-width="1.0" stroke-opacity="0.62" d="M1000.6 1556.6l14.9-7.2 14.9-6.3 14.9-5.8 14.9-5.7 15-4.6 14.9-4.1 14.9-2.7 14.9-1.5 15-2.6 14.9-4.4 14.9-7 14.9-8.2 15-9.2 14.9-10.9"/>
<path stroke-width="1.0" stroke-opacity="0.80" d="M1000.6 1536.5l14.9-.5 14.9-1 14.9-1.4 14.9-1.9 15-1.3 14.9-1.2 14.9-1.4 14.9 .2 15-.6 14.9-1 14.9 2.3 14.9 4 15 5.2 14.9 7"/>
<path stroke-width="1.0" stroke-opacity="0.78" d="M1000.6 1514.8l14.9 1.3 14.9 .5 14.9 .6 14.9 1.1 15 .4 14.9-.4 14.9-.5 14.9-.8 15-2.1 14.9-4.2 14.9-6.3 14.9-6.7 15-7.7 14.9-9.8"/>
<path stroke-width="1.0" stroke-opacity="0.69" d="M1000.6 1557.5l14.9-3 14.9-2.7 14.9-2.7 14.9-3.9 15-1.8 14.9-2.3 14.9-4.1 14.9-.9 15-1.3 14.9-.9 14.9 3.4 14.9 4.8 15 5.4 14.9 6.8"/>
<path stroke-width="1.0" stroke-opacity="0.45" d="M1000.6 1457.6l14.9 10 14.9 10.5 14.9 10.8 14.9 11.7 15 9 14.9 4.9 14.9 2.8 14.9 2.8 15 1.6 14.9 1 14.9 4.3 14.9 7.8 15 11 14.9 15.5"/>
<path stroke-width="1.0" stroke-opacity="0.40" d="M1000.6 1533.5l14.9-1.1 14.9-1.5 14.9-1.7 14.9-2.4 15-3.1 14.9-3.1 14.9-1.8 14.9-.7 15-1.7 14.9-3.8 14.9-6.6 14.9-8.7 15-10.5 14.9-12.9"/>
<path stroke-width="1.0" stroke-opacity="0.75" d="M1000.6 1487.4l14.9 1.1 14.9 1.8 14.9 3.2 14.9 5.8 15 5.9 14.9 3.9 14.9 1.8 14.9 1.1 15 .1 14.9-2.3 14.9-5.4 14.9-3.8 15-2.1 14.9-.1"/>
<path stroke-width="1.0" stroke-opacity="0.54" d="M1000.6 1553.3l14.9-5.4 14.9-4.9 14.9-4.8 14.9-5.2 15-3.9 14.9-3.5 14.9-2.5 14.9-.8 15-1.7 14.9-3.4 14.9-3.6 14.9-4.1 15-4.4 14.9-4.5"/>
<path stroke-width="1.0" stroke-opacity="0.62" d="M1000.6 1460.7l14.9 6 14.9 6.6 14.9 7.7 14.9 10.3 15 9.8 14.9 6.1 14.9 2.9 14.9 1.6 15 .5 14.9-2.1 14.9-3.8 14.9-1.2 15 1.2 14.9 3.3"/>
<path stroke-width="1.0" stroke-opacity="0.71" d="M1000.6 1457.7l14.9 11.5 14.9 11 14.9 10.7 14.9 11.2 15 8.5 14.9 4.8 14.9 3 14.9 2.7 15 1.1 14.9 .1 14.9 3 14.9 6.1 15 8.8 14.9 12.3"/>
<path stroke-width="1.0" stroke-opacity="0.54" d="M1000.6 1534.7l14.9-3.6 14.9-3.6 14.9-3.7 14.9-3.4 15-2.5 14.9-1.7 14.9-1 14.9-1 15-2 14.9-4.1 14.9-9 14.9-10 15-10.8 14.9-12.6"/>
<path stroke-width="1.0" stroke-opacity="0.59" d="M1000.6 1541.7l14.9-6.5 14.9-5.8 14.9-5 14.9-5.1 15-3.2 14.9-2 14.9-1.9 14.9-2.3 15-3.1 14.9-5.5 14.9-14.7 14.9-16.4 15-17.9 14.9-22.1"/>
<path stroke-width="1.0" stroke-opacity="0.45" d="M1000.6 1513.1l14.9-1.9 14.9-1.7 14.9-.6 14.9 .9 15 1.1 14.9 .2 14.9-1 14.9-1.4 15-1.8 14.9-3.9 14.9-12 14.9-13.9 15-15.5 14.9-19.1"/>
<path stroke-width="1.0" stroke-opacity="0.74" d="M1000.6 1478.7l14.9 4.5 14.9 4.3 14.9 4.9 14.9 6.8 15 6.5 14.9 4.1 14.9 2.1 14.9 1.3 15 0 14.9-2.7 14.9-5.4 14.9-4.4 15-3 14.9-1.7"/>
<path stroke-width="1.0" stroke-opacity="0.68" d="M1000.6 1532.4l14.9-1.7 14.9-1.9 14.9-1.8 14.9-1.7 15-1.7 14.9-1.4 14.9-.6 14.9 .3 15-.8 14.9-1.9 14.9-.4 14.9 .8 15 2 14.9 3.7"/>
<path stroke-width="1.0" stroke-opacity="0.70" d="M1000.6 1537.0l14.9-.9 14.9-1 14.9-1.1 14.9-1.8 15-1.3 14.9-1.6 14.9-1.8 14.9 .2 15-.4 14.9-.4 14.9 3 14.9 4.6 15 5.8 14.9 8.1"/>
<path stroke-width="1.0" stroke-opacity="0.60" d="M1000.6 1547.4l14.9-3.2 14.9-3.1 14.9-3.3 14.9-4.2 15-3.6 14.9-3.5 14.9-2.8 14.9-.9 15-1.6 14.9-3.1 14.9-3.1 14.9-4.1 15-5.2 14.9-6"/>
<path stroke-width="1.0" stroke-opacity="0.45" d="M1000.6 1571.4l14.9-7.1 14.9-5.8 14.9-5.4 14.9-6.6 15-3.9 14.9-3.8 14.9-4.8 14.9-1.3 15-1.6 14.9-1.3 14.9 2.1 14.9 3.1 15 3.6 14.9 4.9"/>
<path stroke-width="1.0" stroke-opacity="0.65" d="M1000.6 1521.8l14.9 1.5 14.9 .9 14.9 .8 14.9-.2 15-.6 14.9-.7 14.9-.2 14.9 .7 15-.2 14.9-.9 14.9 1.7 14.9 3.4 15 4.8 14.9 7.1"/>
<path stroke-width="1.0" stroke-opacity="0.85" d="M1000.6 1513.0l14.9-3.5 14.9-2.8 14.9-1.3 14.9 1.2 15 2.2 14.9 1.3 14.9 0 14.9-.7 15-1.3 14.9-3.5 14.9-9.7 14.9-9.5 15-9 14.9-9.8"/>
<path stroke-width="1.0" stroke-opacity="0.76" d="M1000.6 1524.5l14.9 3.5 14.9 1.4 14.9 1 14.9-.2 15-.9 14.9-1.5 14.9-1.7 14.9 .2 15-.1 14.9-.3 14.9 2 14.9 2.4 15 2.5 14.9 3.7"/>
<path stroke-width="1.0" stroke-opacity="0.74" d="M1000.6 1517.1l14.9 2.4 14.9 2 14.9 1.5 14.9 .6 15-1.1 14.9-.9 14.9 .1 14.9 1.3 15 .4 14.9-.5 14.9 1.4 14.9 2.6 15 4 14.9 6.6"/>
<path stroke-width="1.0" stroke-opacity="0.84" d="M1000.6 1514.5l14.9 .5 14.9 .1 14.9 0 14.9 .3 15-.1 14.9-.7 14.9-.6 14.9-.4 15-1.1 14.9-3.1 14.9-7.1 14.9-8.2 15-9.4 14.9-11.1"/>
<path stroke-width="1.0" stroke-opacity="0.50" d="M1000.6 1531.4l14.9-2.8 14.9-4.1 14.9-4 14.9-3 15-2.1 14.9-1.6 14.9-1.5 14.9-1.5 15-2.3 14.9-4.4 14.9-11.6 14.9-13.2 15-14.8 14.9-18.4"/>
<path stroke-width="1.0" stroke-opacity="0.70" d="M1000.6 1495.2l14.9 .9 14.9 .6 14.9 1.3 14.9 3.3 15 3.8 14.9 2.3 14.9 .3 14.9-.7 15-1.4 14.9-4.2 14.9-13.7 14.9-15.2 15-16.5 14.9-20.4"/>
<path stroke-width="1.0" stroke-opacity="0.55" d="M1000.6 1551.2l14.9-3.6 14.9-3.4 14.9-3.8 14.9-4.7 15-3.6 14.9-3.7 14.9-3.5 14.9-1.4 15-2.3 14.9-3.5 14.9-3 14.9-3.7 15-4.9 14.9-6.2"/>
<path stroke-width="1.0" stroke-opacity="0.65" d="M1000.6 1535.5l14.9-2.7 14.9-3.1 14.9-3.1 14.9-2.8 15-2.8 14.9-2.3 14.9-.8 14.9-.1 15-1.3 14.9-3.1 14.9-4.4 14.9-4.9 15-5.3 14.9-5.6"/>
<path stroke-width="1.0" stroke-opacity="0.43" d="M1000.6 1555.4l14.9-6.6 14.9-5.7 14.9-5.6 14.9-6.2 15-5.5 14.9-5.2 14.9-3.1 14.9-1.8 15-2.9 14.9-5.2 14.9-12.3 14.9-15.8 15-18.5 14.9-23.3"/>
<path stroke-width="1.0" stroke-opacity="0.78" d="M1000.6 1565.3l14.9-6.8 14.9-6.4 14.9-6.7 14.9-7.6 15-5.6 14.9-5.1 14.9-4.2 14.9-2.1 15-3.2 14.9-5.3 14.9-9.6 14.9-13.5 15-16.8 14.9-21.8"/>
<path stroke-width="1.0" stroke-opacity="0.40" d="M1000.6 1511.3l14.9 1.5 14.9 .9 14.9 1 14.9 1.6 15 1 14.9 .2 14.9 .5 14.9 .6 15-.8 14.9-3 14.9-3.3 14.9-3.4 15-3.2 14.9-3"/>
<path stroke-width="1.0" stroke-opacity="0.44" d="M1000.6 1526.1l14.9-1.8 14.9-2.3 14.9-2.2 14.9-1.7 15-1.4 14.9-1.1 14.9-.6 14.9-.5 15-1.6 14.9-4.1 14.9-8.7 14.9-9.9 15-10.7 14.9-12.7"/>
<path stroke-width="1.0" stroke-opacity="0.54" d="M1000.6 1527.0l14.9-2.4 14.9-2.6 14.9-2.2 14.9-1.2 15-.9 14.9-.9 14.9-.5 14.9-.3 15-1.5 14.9-3.5 14.9-5.8 14.9-5.8 15-5.7 14.9-6.2"/>
<path stroke-width="1.0" stroke-opacity="0.72" d="M1000.6 1523.5l14.9 0 14.9-1.1 14.9-1.2 14.9-1 15-1.2 14.9-1.3 14.9-.7 14.9-.6 15-2 14.9-4.2 14.9-7.7 14.9-9.1 15-10.4 14.9-12.9"/>
<path stroke-width="1.0" stroke-opacity="0.65" d="M1000.6 1514.0l14.9 2.8 14.9 1.9 14.9 1.2 14.9 .9 15-.4 14.9-1 14.9-.4 14.9 0 15-1.4 14.9-3.3 14.9-3.6 14.9-4.1 15-5 14.9-6"/>
<path stroke-width="1.0" stroke-opacity="0.52" d="M1000.6 1528.6l14.9-3.7 14.9-4.2 14.9-3.6 14.9-2.1 15-1 14.9-.8 14.9-.9 14.9-1.2 15-2.1 14.9-4.6 14.9-12.1 14.9-13.7 15-15 14.9-18.4"/>
<path stroke-width="1.0" stroke-opacity="0.45" d="M1000.6 1543.6l14.9-1.7 14.9-1.6 14.9-1.6 14.9-2.6 15-1.8 14.9-2.1 14.9-2.7 14.9-.3 15-.6 14.9-.4 14.9 3.1 14.9 4.4 15 5.1 14.9 6.9"/>
<path stroke-width="1.0" stroke-opacity="0.50" d="M1000.6 1509.9l14.9-2.6 14.9-2.1 14.9-.8 14.9 1.5 15 2.5 14.9 1.6 14.9 .3 14.9-.4 15-1.2 14.9-3.6 14.9-9.7 14.9-9.7 15-9.2 14.9-10"/>
<path stroke-width="1.0" stroke-opacity="0.79" d="M1000.6 1474.8l14.9 7.3 14.9 7.5 14.9 7.7 14.9 8.1 15 6.2 14.9 3.2 14.9 2.1 14.9 2.3 15 1.2 14.9 0 14.9 2.2 14.9 4.7 15 7.2 14.9 10.9"/>
<path stroke-width="1.0" stroke-opacity="0.58" d="M1000.6 1467.4l14.9 3.2 14.9 3.8 14.9 5 14.9 8.4 15 8.8 14.9 5.8 14.9 1.8 14.9 .1 15-.6 14.9-3.7 14.9-13.9 14.9-14.2 15-14.2 14.9-16.5"/>
<path stroke-width="1.0" stroke-opacity="0.75" d="M1000.6 1496.0l14.9 2 14.9 2.2 14.9 2.7 14.9 4 15 3.5 14.9 1.9 14.9 .7 14.9 .4 15-.5 14.9-2.6 14.9-5.1 14.9-4.6 15-4 14.9-3.4"/>
<path stroke-width="1.0" stroke-opacity="0.50" d="M1000.6 1487.9l14.9 4 14.9 4.3 14.9 5.2 14.9 6.3 15 4.9 14.9 2.5 14.9 1.3 14.9 1.4 15 .3 14.9-.7 14.9 1.2 14.9 3.3 15 5.5 14.9 8.5"/>
<path stroke-width="1.0" stroke-opacity="0.40" d="M1000.6 1505.6l14.9-2.8 14.9-2.5 14.9-1.4 14.9 1.7 15 3.1 14.9 2.4 14.9 .3 14.9-.7 15-1.5 14.9-4.4 14.9-15.4 14.9-16.7 15-17.5 14.9-20.9"/>
<path stroke-width="1.0" stroke-opacity="0.45" d="M1000.6 1538.2l14.9 0 14.9-.8 14.9-1.4 14.9-2.4 15-1.9 14.9-2 14.9-2.2 14.9-.3 15-1.1 14.9-1.9 14.9-.3 14.9-.3 15-.7 14.9-.7"/>
<path stroke-width="1.0" stroke-opacity="0.48" d="M1000.6 1516.3l14.9-2.2 14.9-2.1 14.9-1.1 14.9 .7 15 1.2 14.9 .7 14.9 .3 14.9 .1 15-1 14.9-3.2 14.9-6.5 14.9-6.2 15-5.5 14.9-5.2"/>
<path stroke-width="1.0" stroke-opacity="0.71" d="M1000.6 1572.2l14.9-9.4 14.9-7.7 14.9-7.2 14.9-7.6 15-5.3 14.9-5.1 14.9-4.5 14.9-2.2 15-3 14.9-4.5 14.9-5.1 14.9-6.5 15-8 14.9-9.6"/>
<path stroke-width="1.0" stroke-opacity="0.71" d="M1000.6 1531.2l14.9-2.3 14.9-3 14.9-3.5 14.9-2.7 15-2.1 14.9-1.6 14.9-1.1 14.9-1.1 15-2.2 14.9-4.4 14.9-10.2 14.9-11.8 15-13.3 14.9-16.3"/>
<path stroke-width="1.0" stroke-opacity="0.46" d="M1000.6 1511.6l14.9-1.1 14.9-1.5 14.9-.9 14.9 .9 15 1.6 14.9 .9 14.9-.1 14.9-.8 15-1.9 14.9-4.5 14.9-12 14.9-13.1 15-14 14.9-17.2"/>
<path stroke-width="1.0" stroke-opacity="0.55" d="M1000.6 1559.8l14.9-3.6 14.9-3.5 14.9-4 14.9-5.5 15-3.7 14.9-4 14.9-4.6 14.9-1.8 15-2.2 14.9-2.7 14.9-1.3 14.9-2 15-3.6 14.9-5.2"/>
<path stroke-width="1.0" stroke-opacity="0.80" d="M1000.6 1476.4l14.9 7.3 14.9 7.3 14.9 7 14.9 7.2 15 5.2 14.9 2.4 14.9 1.3 14.9 1.3 15 .5 14.9-1.5 14.9-1.3 14.9-1 15-.5 14.9 .6"/>
<path stroke-width="1.0" stroke-opacity="0.50" d="M1000.6 1563.0l14.9-4.6 14.9-4.2 14.9-4.5 14.9-5.9 15-3.9 14.9-4.2 14.9-4.8 14.9-2.1 15-2.7 14.9-3.6 14.9-3 14.9-4.3 15-6.3 14.9-8.6"/>
<path stroke-width="1.0" stroke-opacity="0.67" d="M1000.6 1545.8l14.9-1.8 14.9-1.7 14.9-2 14.9-3.2 15-2.1 14.9-2.3 14.9-2.9 14.9-.3 15-.6 14.9-.2 14.9 3.7 14.9 5.4 15 6.7 14.9 8.6"/>
<path stroke-width="1.0" stroke-opacity="0.81" d="M1000.6 1469.9l14.9 8.3 14.9 8.2 14.9 8.2 14.9 8.9 15 6.8 14.9 3.7 14.9 2.1 14.9 2.2 15 .9 14.9-.3 14.9 1.4 14.9 3.4 15 5.2 14.9 7.9"/>
<path stroke-width="1.0" stroke-opacity="0.79" d="M1000.6 1538.6l14.9-.1 14.9-.8 14.9-1.3 14.9-2.3 15-1.8 14.9-2 14.9-2.4 14.9-.6 15-1.3 14.9-2.1 14.9-.3 14.9-.2 15-.8 14.9-1.1"/>
<path stroke-width="1.0" stroke-opacity="0.80" d="M1000.6 1501.0l14.9 .5 14.9 .3 14.9 .7 14.9 2.5 15 2.7 14.9 1.6 14.9-.1 14.9-.9 15-1.8 14.9-4.3 14.9-12.9 14.9-14.2 15-15.4 14.9-19"/>
<path stroke-width="1.0" stroke-opacity="0.67" d="M1000.6 1486.8l14.9-1.8 14.9-.8 14.9 1 14.9 5 15 6.8 14.9 5.2 14.9 1.8 14.9 .4 15-.4 14.9-3.6 14.9-13.3 14.9-12.6 15-11.1 14.9-11.3"/>
<path stroke-width="1.0" stroke-opacity="0.58" d="M1000.6 1562.2l14.9-9.8 14.9-8.3 14.9-7.6 14.9-7 15-5.8 14.9-5 14.9-2.8 14.9-2.3 15-3.3 14.9-5.5 14.9-13.4 14.9-15.9 15-17.9 14.9-22"/>
<path stroke-width="1.0" stroke-opacity="0.56" d="M1000.6 1564.6l14.9-9 14.9-7.4 14.9-6.8 14.9-7 15-5.8 14.9-5.4 14.9-3.7 14.9-1.9 15-2.6 14.9-4.7 14.9-9.2 14.9-11.5 15-13.2 14.9-15.8"/>
<path stroke-width="1.0" stroke-opacity="0.78" d="M1000.6 1529.6l14.9 1.8 14.9 .4 14.9 0 14.9-.7 15-.3 14.9-.4 14.9-1.2 14.9 .3 15-.8 14.9-1.2 14.9 1.8 14.9 3.2 15 4.1 14.9 5.2"/>
<path stroke-width="1.0" stroke-opacity="0.56" d="M1000.6 1560.0l14.9-8.8 14.9-7.8 14.9-7.1 14.9-6.6 15-5.1 14.9-4.4 14.9-2.2 14.9-1.4 15-2.8 14.9-5 14.9-9.9 14.9-11.3 15-12.1 14.9-14.2"/>
<path stroke-width="1.0" stroke-opacity="0.79" d="M1000.6 1538.9l14.9-5.1 14.9-5 14.9-4.4 14.9-3.8 15-2.4 14.9-1.2 14.9-.7 14.9-.9 15-2.3 14.9-4.4 14.9-8.1 14.9-7.8 15-7.5 14.9-8.1"/>
<path stroke-width="1.0" stroke-opacity="0.45" d="M1000.6 1526.6l14.9 0 14.9-.9 14.9-1 14.9-1.2 15-1.8 14.9-1.7 14.9-.7 14.9-.2 15-1.5 14.9-3.4 14.9-3.8 14.9-4.2 15-4.7 14.9-5.4"/>
<path stroke-width="1.0" stroke-opacity="0.42" d="M1000.6 1519.9l14.9 5.1 14.9 2.9 14.9 1.5 14.9 .4 15 .1 14.9-.4 14.9-1.1 14.9 .6 15 0 14.9 .2 14.9 4 14.9 5.5 15 6.5 14.9 8.4"/>
<path stroke-width="1.0" stroke-opacity="0.56" d="M1000.6 1546.3l14.9-3.2 14.9-3.2 14.9-3.2 14.9-3.5 15-2.6 14.9-2.6 14.9-2.4 14.9-.8 15-2 14.9-3.6 14.9-3.4 14.9-4.2 15-5.1 14.9-5.9"/>
<path stroke-width="1.0" stroke-opacity="0.58" d="M1000.6 1526.5l14.9-2.1 14.9-2.5 14.9-2 14.9-1.3 15-1 14.9-1 14.9-.6 14.9-.4 15-1.5 14.9-3.6 14.9-6.4 14.9-6.7 15-7 14.9-7.8"/>
<path stroke-width="1.0" stroke-opacity="0.64" d="M1000.6 1474.8l14.9-1.1 14.9 .6 14.9 3 14.9 7.5 15 8.9 14.9 5.9 14.9 1.3 14.9-.6 15-.8 14.9-3.6 14.9-15.5 14.9-15.3 15-14.8 14.9-16.7"/>
<path stroke-width="1.0" stroke-opacity="0.71" d="M1000.6 1569.8l14.9-4.5 14.9-3.7 14.9-3.7 14.9-5.6 15-3.1 14.9-4.1 14.9-6.5 14.9-2.4 15-2.1 14.9-1.1 14.9 2.6 14.9 2.1 15 .6 14.9-.3"/>
<path stroke-width="1.0" stroke-opacity="0.55" d="M1000.6 1465.6l14.9-.2 14.9 1.5 14.9 3.9 14.9 8.8 15 10.3 14.9 7.2 14.9 2.2 14.9 .2 15-.2 14.9-3.1 14.9-15 14.9-14 15-12.6 14.9-13.4"/>
<path stroke-width="1.0" stroke-opacity="0.59" d="M1000.6 1489.6l14.9 4.2 14.9 3.8 14.9 3.8 14.9 4.7 15 3.9 14.9 2 14.9 .7 14.9 .3 15-.9 14.9-3.1 14.9-7.3 14.9-7.7 15-8.2 14.9-9.8"/>
<path stroke-width="1.0" stroke-opacity="0.58" d="M1000.6 1569.0l14.9-8.1 14.9-6.8 14.9-6.4 14.9-7.1 15-4.9 14.9-4.8 14.9-4.5 14.9-2 15-2.7 14.9-3.9 14.9-3.8 14.9-4.7 15-5.8 14.9-7.3"/>
<path stroke-width="1.0" stroke-opacity="0.52" d="M1000.6 1496.5l14.9 1.1 14.9 1.1 14.9 1.8 14.9 3.4 15 3.6 14.9 2 14.9-.1 14.9-1.1 15-2 14.9-4.8 14.9-13.6 14.9-14.9 15-16.1 14.9-19.9"/>
<path stroke-width="1.0" stroke-opacity="0.50" d="M1000.6 1514.1l14.9 3.5 14.9 2.2 14.9 1.6 14.9 .9 15-.6 14.9-.9 14.9-.2 14.9 .2 15-1.1 14.9-2.8 14.9-2.9 14.9-3.5 15-4.1 14.9-5"/>
<path stroke-width="1.0" stroke-opacity="0.80" d="M1000.6 1546.5l14.9-4.7 14.9-4.1 14.9-3.7 14.9-3.9 15-3.3 14.9-3 14.9-2 14.9-.6 15-1.4 14.9-3 14.9-2.5 14.9-2.5 15-2.3 14.9-1.6"/>
<path stroke-width="1.0" stroke-opacity="0.61" d="M1000.6 1525.6l14.9-2.9 14.9-2.7 14.9-2 14.9-.7 15-.4 14.9-.6 14.9-.2 14.9-.1 15-1.1 14.9-3.1 14.9-4.3 14.9-3.5 15-2.7 14.9-1.7"/>
<path stroke-width="1.0" stroke-opacity="0.45" d="M1000.6 1574.3l14.9-9.3 14.9-7.7 14.9-7.1 14.9-7.5 15-4.8 14.9-4.7 14.9-4.6 14.9-2.1 15-2.8 14.9-4.1 14.9-3.6 14.9-4.2 15-4.9 14.9-5.7"/>
<path stroke-width="1.0" stroke-opacity="0.68" d="M1000.6 1523.6l14.9-4.6 14.9-4.3 14.9-2.9 14.9-.5 15 .8 14.9 .7 14.9 .2 14.9-.2 15-1.3 14.9-3.7 14.9-8.6 14.9-8.4 15-7.6 14.9-7.5"/>
<path stroke-width="1.0" stroke-opacity="0.54" d="M1000.6 1515.8l14.9-5.9 14.9-5.3 14.9-3.3 14.9 .2 15 2.4 14.9 2.1 14.9 .2 14.9-.8 15-1.3 14.9-4.1 14.9-14.7 14.9-15.5 15-15.6 14.9-17.9"/>
<path stroke-width="1.0" stroke-opacity="0.68" d="M1000.6 1572.8l14.9-10.6 14.9-9.1 14.9-8.9 14.9-8.8 15-6.6 14.9-5.8 14.9-3.8 14.9-2 15-3.1 14.9-5.3 14.9-11.9 14.9-15.2 15-17.7 14.9-21.8"/>
<path stroke-width="1.0" stroke-opacity="0.65" d="M1000.6 1462.9l14.9 4.9 14.9 5.7 14.9 6.9 14.9 9.6 15 9.1 14.9 5.7 14.9 2.1 14.9 .9 15 .2 14.9-2.3 14.9-6.9 14.9-5 15-3.5 14.9-2.3"/>
<path stroke-width="1.0" stroke-opacity="0.71" d="M1000.6 1464.9l14.9 4.1 14.9 4.9 14.9 6.6 14.9 9.9 15 9.7 14.9 6.3 14.9 2.4 14.9 1 15 0 14.9-2 14.9-4.7 14.9-1.9 15 .3 14.9 2.2"/>
<path stroke-width="1.0" stroke-opacity="0.75" d="M1000.6 1526.4l14.9-.4 14.9-1 14.9-.8 14.9-.9 15-1.6 14.9-1.7 14.9-.8 14.9-.4 15-1.6 14.9-3.4 14.9-3.2 14.9-3.1 15-3 14.9-3.2"/>
<path stroke-width="1.0" stroke-opacity="0.42" d="M1000.6 1490.8l14.9 2.1 14.9 2.2 14.9 2.8 14.9 4.7 15 4.7 14.9 2.9 14.9 1.2 14.9 .2 15-.9 14.9-3.3 14.9-7.8 14.9-7.1 15-6.7 14.9-7.2"/>
<path stroke-width="1.0" stroke-opacity="0.56" d="M1000.6 1543.6l14.9-2.6 14.9-2.7 14.9-3 14.9-3.6 15-3.3 14.9-3.4 14.9-2.7 14.9-1.3 15-2.3 14.9-4.3 14.9-5.3 14.9-7.4 15-9.4 14.9-12.1"/>
<path stroke-width="1.0" stroke-opacity="0.61" d="M1000.6 1499.1l14.9-3.4 14.9-2.1 14.9-.2 14.9 3 15 4.5 14.9 3.1 14.9 .4 14.9-.5 15-.8 14.9-3.5 14.9-13.8 14.9-14.4 15-14.1 14.9-15.6"/>
<path stroke-width="1.0" stroke-opacity="0.77" d="M1000.6 1467.1l14.9 .7 14.9 2.4 14.9 4.9 14.9 9.4 15 10.1 14.9 6.5 14.9 1.8 14.9 0 15-.3 14.9-2.7 14.9-11.2 14.9-9.7 15-8.3 14.9-8"/>
<path stroke-width="1.0" stroke-opacity="0.84" d="M1000.6 1550.7l14.9-2.8 14.9-2.6 14.9-2.8 14.9-3.7 15-2.5 14.9-2.6 14.9-3.2 14.9-.7 15-1.3 14.9-1.4 14.9 1.4 14.9 2.3 15 2.6 14.9 3.5"/>
<path stroke-width="1.0" stroke-opacity="0.79" d="M1000.6 1465.1l14.9 5.3 14.9 6 14.9 7.2 14.9 9.6 15 8.8 14.9 5.4 14.9 2.4 14.9 1.5 15 .6 14.9-1.7 14.9-3.6 14.9-1.4 15 .5 14.9 2.3"/>
<path stroke-width="1.0" stroke-opacity="0.79" d="M1000.6 1490.1l14.9 3.3 14.9 2.9 14.9 3 14.9 4.4 15 4 14.9 2.4 14.9 .8 14.9 .3 15-.7 14.9-3.3 14.9-9 14.9-9.9 15-10.4 14.9-12.3"/>
<path stroke-width="1.0" stroke-opacity="0.47" d="M1000.6 1537.7l14.9-4.3 14.9-4.5 14.9-4.3 14.9-4.6 15-3.3 14.9-2.1 14.9-1.5 14.9-1.7 15-2.6 14.9-5 14.9-13.3 14.9-15.6 15-17.6 14.9-21.9"/>
<path stroke-width="1.0" stroke-opacity="0.54" d="M1000.6 1478.1l14.9 2.2 14.9 2.3 14.9 3.4 14.9 6.6 15 7.3 14.9 4.9 14.9 1.4 14.9-.3 15-1.5 14.9-4.7 14.9-15.4 14.9-16.2 15-16.7 14.9-20.1"/>
<path stroke-width="1.0" stroke-opacity="0.64" d="M1000.6 1476.8l14.9-1 14.9 .4 14.9 2.7 14.9 7 15 8.4 14.9 5.8 14.9 1.5 14.9-.2 15-.7 14.9-3.5 14.9-15.1 14.9-14.8 15-13.9 14.9-15.5"/>
<path stroke-width="1.0" stroke-opacity="0.79" d="M1000.6 1524.7l14.9-.5 14.9-1.4 14.9-1.7 14.9-1.5 15-1.6 14.9-1.4 14.9-.8 14.9-.7 15-1.7 14.9-3.9 14.9-8 14.9-9.6 15-11 14.9-13.8"/>
<path stroke-width="1.0" stroke-opacity="0.43" d="M1000.6 1499.4l14.9-.3 14.9 .2 14.9 1.6 14.9 3.8 15 4 14.9 2.5 14.9 .6 14.9-.1 15-1.3 14.9-3.6 14.9-8.5 14.9-7.8 15-7 14.9-6.9"/>
<path stroke-width="1.0" stroke-opacity="0.66" d="M1000.6 1479.1l14.9 4.8 14.9 5.1 14.9 5.8 14.9 7.5 15 6.4 14.9 3.6 14.9 1.5 14.9 .8 15-.6 14.9-2.8 14.9-4.2 14.9-2.6 15-1.3 14.9-.6"/>
<path stroke-width="1.0" stroke-opacity="0.74" d="M1000.6 1498.6l14.9-1.9 14.9-1.1 14.9 .4 14.9 3.5 15 4.5 14.9 3.1 14.9 .9 14.9 0 15-.8 14.9-3.3 14.9-10.5 14.9-10.1 15-9.3 14.9-9.6"/>
<path stroke-width="1.0" stroke-opacity="0.45" d="M1000.6 1530.4l14.9-1.5 14.9-1.8 14.9-1.3 14.9-1.1 15-1.4 14.9-1.4 14.9-.7 14.9-.1 15-1 14.9-2.1 14.9-.5 14.9 .8 15 1.7 14.9 3"/>
<path stroke-width="1.0" stroke-opacity="0.76" d="M1000.6 1503.3l14.9 1.9 14.9 1.6 14.9 1.9 14.9 2.7 15 2.2 14.9 1 14.9 .6 14.9 .5 15-.8 14.9-2.8 14.9-4.4 14.9-3.8 15-3.2 14.9-2.8"/>
<path stroke-width="1.0" stroke-opacity="0.70" d="M1000.6 1470.3l14.9 11.5 14.9 10.3 14.9 9.1 14.9 8.6 15 6.2 14.9 3.2 14.9 2.7 14.9 2.1 15 .2 14.9-.6 14.9 3 14.9 6 15 7.7 14.9 9.6"/>
<path stroke-width="1.0" stroke-opacity="0.44" d="M1000.6 1494.6l14.9 .3 14.9 .8 14.9 2.2 14.9 4.5 15 4.6 14.9 2.7 14.9 .7 14.9-.2 15-1 14.9-3.3 14.9-8.2 14.9-7.5 15-6.8 14.9-7.2"/>
<path stroke-width="1.0" stroke-opacity="0.65" d="M1000.6 1467.3l14.9 5.9 14.9 6 14.9 6.9 14.9 9 15 8.2 14.9 4.7 14.9 1.6 14.9 .4 15-.6 14.9-2.7 14.9-7.3 14.9-6.7 15-6.5 14.9-7"/>
<path stroke-width="1.0" stroke-opacity="0.81" d="M1000.6 1556.1l14.9-5.7 14.9-5 14.9-4.9 14.9-5.4 15-4.1 14.9-3.8 14.9-3.3 14.9-1.3 15-2 14.9-3.3 14.9-2.7 14.9-3 15-3.5 14.9-4.1"/>
<path stroke-width="1.0" stroke-opacity="0.73" d="M1000.6 1469.2l14.9 10.4 14.9 10.4 14.9 9.9 14.9 9.3 15 5.8 14.9 2.5 14.9 2 14.9 2.6 15 1.7 14.9 .8 14.9 3.8 14.9 6.1 15 8.4 14.9 11.9"/>
<path stroke-width="1.0" stroke-opacity="0.52" d="M1000.6 1563.5l14.9-7.2 14.9-6 14.9-5.7 14.9-6.2 15-4.3 14.9-4 14.9-3.6 14.9-1.3 15-2 14.9-3 14.9-2.2 14.9-2.4 15-2.6 14.9-2.3"/>
<path stroke-width="1.0" stroke-opacity="0.69" d="M1000.6 1525.2l14.9-1.2 14.9-1.2 14.9-.7 14.9-.2 15-1 14.9-1.5 14.9-1.2 14.9-.9 15-1.7 14.9-3.1 14.9-3.4 14.9-3.3 15-3.9 14.9-4.5"/>
<path stroke-width="1.0" stroke-opacity="0.55" d="M1000.6 1495.6l14.9 1.9 14.9 1.9 14.9 2.6 14.9 4.2 15 3.8 14.9 2 14.9 .3 14.9-.7 15-1.7 14.9-4 14.9-9.3 14.9-9.6 15-10.1 14.9-12.4"/>
<path stroke-width="1.0" stroke-opacity="0.54" d="M1000.6 1466.8l14.9 7.3 14.9 7.7 14.9 8.4 14.9 9.8 15 8.2 14.9 4.7 14.9 2.6 14.9 2 15 .6 14.9-.9 14.9 1 14.9 3.4 15 6 14.9 9.2"/>
<path stroke-width="1.0" stroke-opacity="0.69" d="M1000.6 1469.3l14.9 5.5 14.9 5.9 14.9 7.1 14.9 9.2 15 8.2 14.9 5 14.9 2.1 14.9 1.2 15-.1 14.9-2.2 14.9-3 14.9-.6 15 1.1 14.9 2.9"/>
<path stroke-width="1.0" stroke-opacity="0.48" d="M1000.6 1524.8l14.9 4.3 14.9 1.5 14.9 .8 14.9-.1 15 .1 14.9-.1 14.9-1 14.9 1.1 15 .3 14.9 .3 14.9 4.3 14.9 5.7 15 6.9 14.9 9"/>
<path stroke-width="1.0" stroke-opacity="0.77" d="M1000.6 1510.7l14.9 5.5 14.9 4.2 14.9 2.9 14.9 .8 15-1.1 14.9-.9 14.9-.2 14.9 .9 15-.3 14.9-1.9 14.9-1.5 14.9-1.7 15-1.6 14.9-1.5"/>
<path stroke-width="1.0" stroke-opacity="0.75" d="M1000.6 1549.5l14.9-1.7 14.9-2 14.9-2.5 14.9-4.1 15-3.1 14.9-3.4 14.9-3.9 14.9-1.4 15-2.1 14.9-2.6 14.9-1.1 14.9-1.5 15-2.9 14.9-4.2"/>
<path stroke-width="1.0" stroke-opacity="0.47" d="M1000.6 1509.3l14.9 2.1 14.9 1.7 14.9 1.9 14.9 2.1 15 1.2 14.9 .1 14.9 .5 14.9 .9 15-.3 14.9-1.7 14.9-.6 14.9 .5 15 1.6 14.9 3.3"/>
<path stroke-width="1.0" stroke-opacity="0.54" d="M1000.6 1502.5l14.9 2.4 14.9 2.2 14.9 2.4 14.9 3.1 15 2.3 14.9 .9 14.9 .5 14.9 .4 15-.7 14.9-2.8 14.9-3.1 14.9-2.5 15-2 14.9-1.5"/>
</g>
<path class="m" stroke="#fff" stroke-width="19.0" d="M1001.6 1528.8l3.4-.4 4.6-.4 3.5-.4 3.4-.3 3.4-.4 4.6-.4 3.5-.3 3.4-.4 3.4-.3 4.6-.4 3.5-.4 3.4-.3 3.5-.3 4.5-.4 3.5-.3 3.4-.2 3.5-.3 4.6-.4 3.4-.2 3.4-.3 3.5-.2 4.6-.4 3.4-.2 3.5-.3 3.4-.3 4.6-.3 3.4-.3 3.5-.3 3.4-.3 4.6-.5 3.4-.3 3.5-.4 3.4-.4 4.6-.5 3.5-.4 3.4-.5 3.4-.5 4.6-.7 3.5-.6 3.4-.6 3.4-.6 4.6-.9 3.5-.7 3.4-.8 3.5-.7 4.5-1.1 3.5-.8 3.4-.9 3.5-.9 4.6-1.2 3.4-1 3.4-1 3.5-1 4.6-1.4 3.4-1 3.5-1.1 3.4-1.1 4.6-1.5 3.4-1.1"/>
<path class="m" stroke="#3393CB" stroke-width="8.8" d="M1000.8 1528.8l.8 0 1.1-.1 1.2-.2 1.1-.1 1.2-.1 1.1-.1 1.2-.1 1.1-.1 1-.1M1038.9 1525.1l1.7-.1 2.3-.3 3.4-.3 2.3-.2 2.3-.2 2.3-.2 2.3-.2 3.4-.3 2.3-.1 2.3-.2 2.3-.2 3.5-.3 2.3-.1 2.2-.2 2.3-.2 2.3-.2 3.5-.2 2.3-.2 1.5-.1M1114.0 1518.9l1.1-.1 1.2-.1 1.1-.1 1.2-.1 1.1-.1 1.2-.2 1.1-.1 1.2-.1 .6-.1M1152.1 1513.8l2-.4 2.3-.4 2.3-.5 2.3-.5 3.5-.7 2.3-.5 2.3-.5 2.3-.6 2.2-.5 2.3-.6 2.3-.5 2.3-.6 2.3-.6 2.3-.6 3.5-.9 2.3-.7 2.2-.6 2.3-.7 1.6-.4"/>
</g>
<text class="n" x="1035.2" y="1436.9">n=269</text>
<text x="3.6" y="1871.0" font-size="38">Cluster 1</text>
<text class="c" x="417.3" y="1720.5">Interval &amp;</text>
<text class="c" x="420.1" y="1742.9">LonGenity cohorts</text>
<rect class="x" x="303.80" y="1751.40" width="232.60" height="211.90"/>
<text class="a" transform="translate(285.3 1955.46) rotate(-90)">–2</text>
<text class="a" transform="translate(285.3 1906.38) rotate(-90)">–1</text>
<text class="a" transform="translate(285.3 1857.30) rotate(-90)">0</text>
<text class="a" transform="translate(285.3 1808.22) rotate(-90)">1</text>
<text class="a" transform="translate(285.3 1759.14) rotate(-90)">2</text>
<text class="a" x="317.15" y="1990.7">20</text>
<text class="a" x="365.49" y="1990.7">40</text>
<text class="a" x="413.83" y="1990.7">60</text>
<text class="a" x="462.17" y="1990.7">80</text>
<text class="a" x="510.51" y="1990.7">100</text>
<path class="k" d="M296.4 1955.46h7.4M296.4 1906.38h7.4M296.4 1857.30h7.4M296.4 1808.22h7.4M296.4 1759.14h7.4M317.15 1963.3v8M365.49 1963.3v8M413.83 1963.3v8M462.17 1963.3v8M510.51 1963.3v8"/>
<text class="b" x="420.1" y="2019.9">Age (years)</text>
<text class="b" style="font-size:25px" transform="translate(255.4 1858.9) rotate(-90)">Protein levels (Z–score)</text>
<g clip-path="url(#k50)">
<g class="l" stroke="#D93D30">
<path stroke="none" fill="#D93D30" fill-opacity="0.70" d="M312.3 1838.6l2 .4 2.8 .6 3.2 .8 3.6 .8 3.6 .7 3.4 .8 3.5 .7 3.9 .8 4 .8 3.7 .7 3.2 .7 2.3 .4 0 10.5-3.3-.1-3.3 0-3.2-.1-3.3-.1-3.2-.1-3.3-.1-3.3-.1-3.2-.1-3.3-.2-3.2-.1-3.3-.1-3.3-.1z"/>
<path stroke="none" fill="#D93D30" fill-opacity="0.70" d="M464.7 1846.4l1.6-1.3 2.3-1.7 2.6-2.1 2.8-2.2 2.7-2.4 2.4-2.3 1.9-2.2 1.9-2.4 1.7-2.5 1.6-2.4 1.6-2.5 1.6-2.4 1.7-2.4 1.7-2.6 1.7-2.5 1.6-2.4 1.4-2 .9-1.4 0 42.2-2.8 .4-2.8 .5-2.8 .5-2.8 .5-2.8 .5-2.9 .6-2.8 .4-2.8 .5-2.8 .5-2.8 .5-2.8 .5-2.8 .4z"/>
<path stroke="none" fill="#D93D30" fill-opacity="0.70" d="M312.3 1881.8l2-.8 2.5-1 3.1-1.3 3.5-1.4 3.7-1.4 3.8-1.3 4.3-1.4 5-1.6 5.2-1.6 5-1.5 4.2-1.2 3-.9 0-9-3.7 0-3.8-.1-3.8-.1-3.8-.1-3.7-.1-3.8-.1-3.8-.1-3.8-.2-3.7-.1-3.8-.2-3.8-.1-3.8-.1z"/>
<path stroke="none" fill="#D93D30" fill-opacity="0.70" d="M462.6 1864.3l2 1 2.9 1.3 3.3 1.6 3.6 1.8 3.5 1.8 3.2 1.8 3.2 1.9 3.3 2.1 3.3 2.2 3.1 2.1 2.6 1.7 1.8 1.3 0-36-3 .4-2.9 .6-3 .5-3 .6-3 .5-3 .5-3 .5-3 .5-2.9 .5-3 .6-3 .5-3 .5z"/>
<path stroke-width="1.0" stroke-opacity="0.53" d="M312.3 1862.8l13.3-2.4 13.3-1.5 13.3-1.2 13.3-.7 13.3-.6 13.3-.4 13.3-.3 13.3-.2 13.3-.5 13.3-1.2 13.2-1.6 13.3-3.9 13.3-6.8 13.3-8.9"/>
<path stroke-width="1.0" stroke-opacity="0.47" d="M312.3 1880.2l13.3-6.6 13.3-4.3 13.3-4.1 13.3 .5 13.3 1.5 13.3-2.7 13.3-.9 13.3-.3 13.3-.5 13.3-2.8 13.2-2.9 13.3-2.2 13.3-3 13.3-4.9"/>
<path stroke-width="1.0" stroke-opacity="0.79" d="M312.3 1821.1l13.3 11.4 13.3 8.4 13.3 5.3 13.3 1.7 13.3 0 13.3 .3 13.3 .7 13.3 .6 13.3 .3 13.3-.7 13.2-.9 13.3-4 13.3-7.7 13.3-8.7"/>
<path stroke-width="1.0" stroke-opacity="0.64" d="M312.3 1866.0l13.3-2.6 13.3-1.4 13.3-1.4 13.3 .1 13.3 .2 13.3-1.2 13.3-.6 13.3-.2 13.3-.2 13.3-1.2 13.2-1.4 13.3-1.8 13.3-1.9 13.3-2"/>
<path stroke-width="1.0" stroke-opacity="0.44" d="M312.3 1842.8l13.3 6 13.3 3.9 13.3 2.1 13.3 .9 13.3 .4 13.3 .7 13.3 .8 13.3 1.2 13.3 1.5 13.3 0 13.2-1.2 13.3 .2 13.3 2.3 13.3 5"/>
<path stroke-width="1.0" stroke-opacity="0.33" d="M312.3 1857.0l13.3 1.1 13.3 .9 13.3 .3 13.3 1.4 13.3 1.9 13.3-.4 13.3 .7 13.3 1.6 13.3 2.5 13.3-1.1 13.2-2.7 13.3 2.9 13.3 6.7 13.3 10.4"/>
<path stroke-width="1.0" stroke-opacity="0.78" d="M312.3 1842.0l13.3 7 13.3 4.2 13.3 2.2 13.3 .9 13.3 .8 13.3 .8 13.3 .9 13.3 1.1 13.3 1.1 13.3-.7 13.2-1.8 13.3-.2 13.3 1.7 13.3 3.3"/>
<path stroke-width="1.0" stroke-opacity="0.42" d="M312.3 1857.3l13.3 .3 13.3 .2 13.3 .1 13.3 0 13.3-.2 13.3-.5 13.3-.5 13.3-.4 13.3-.6 13.3-1.2 13.2-1.6 13.3-4.2 13.3-8.2 13.3-12.4"/>
<path stroke-width="1.0" stroke-opacity="0.73" d="M312.3 1828.5l13.3 10 13.3 7.2 13.3 4.3 13.3 1.3 13.3-.1 13.3 0 13.3 .6 13.3 .7 13.3 .5 13.3-.4 13.2-.9 13.3-3.3 13.3-5.3 13.3-5.6"/>
<path stroke-width="1.0" stroke-opacity="0.43" d="M312.3 1879.0l13.3-5.5 13.3-3.3 13.3-3.5 13.3 1.3 13.3 2.6 13.3-3.2 13.3-.2 13.3 1.6 13.3 2.6 13.3-2.5 13.2-4.1 13.3 2.5 13.3 5.8 13.3 8.6"/>
<path stroke-width="1.0" stroke-opacity="0.84" d="M312.3 1837.3l13.3 7.8 13.3 4.9 13.3 2.8 13.3 1.1 13.3 .4 13.3 .3 13.3 .2 13.3-.1 13.3-.4 13.3-1.1 13.2-1.4 13.3-3.5 13.3-7 13.3-10.2"/>
<path stroke-width="1.0" stroke-opacity="0.43" d="M312.3 1881.3l13.3-6.5 13.3-4.3 13.3-4.6 13.3 .4 13.3 2 13.3-2.7 13.3-.1 13.3 .8 13.3 .9 13.3-3 13.2-3.8 13.3 0 13.3 1.7 13.3 2.3"/>
<path stroke-width="1.0" stroke-opacity="0.57" d="M312.3 1826.8l13.3 9.9 13.3 7.3 13.3 4.8 13.3 1.6 13.3-.3 13.3-.1 13.3 .2 13.3 .2 13.3 .2 13.3-.5 13.2-.7 13.3-4.1 13.3-8.3 13.3-10.3"/>
<path stroke-width="1.0" stroke-opacity="0.61" d="M312.3 1879.4l13.3-6.6 13.3-4.4 13.3-4 13.3 .2 13.3 .8 13.3-2.8 13.3-1.5 13.3-1.3 13.3-1.9 13.3-2.4 13.2-2.2 13.3-4.5 13.3-9.6 13.3-16"/>
<path stroke-width="1.0" stroke-opacity="0.44" d="M312.3 1863.8l13.3 0 13.3 0 13.3-.9 13.3 1.7 13.3 2.8 13.3-1.6 13.3 .3 13.3 1.6 13.3 2.3 13.3-2.4 13.2-4 13.3 2.1 13.3 4.7 13.3 6.3"/>
<path stroke-width="1.0" stroke-opacity="0.62" d="M312.3 1852.5l13.3 .7 13.3 1.4 13.3 1.1 13.3 .1 13.3-.6 13.3-.6 13.3-.4 13.3 0 13.3 .1 13.3-.3 13.2-.7 13.3-3 13.3-5.2 13.3-6.1"/>
<path stroke-width="1.0" stroke-opacity="0.75" d="M312.3 1818.4l13.3 11.8 13.3 9.1 13.3 6.2 13.3 2.1 13.3-.3 13.3-.3 13.3 .1 13.3 .2 13.3 .2 13.3-.5 13.2-.6 13.3-4.7 13.3-10.6 13.3-13.2"/>
<path stroke-width="1.0" stroke-opacity="0.84" d="M312.3 1847.3l13.3 3.8 13.3 2.5 13.3 1.5 13.3 .7 13.3 .1 13.3 0 13.3 .1 13.3 .1 13.3-.1 13.3-.8 13.2-1.2 13.3-3 13.3-4.9 13.3-6.4"/>
<path stroke-width="1.0" stroke-opacity="0.58" d="M312.3 1854.9l13.3 2.8 13.3 1.6 13.3 .7 13.3 1.5 13.3 2.1 13.3-.6 13.3 .5 13.3 1.6 13.3 2.2 13.3-1.7 13.2-3.2 13.3 1.9 13.3 4.7 13.3 6.8"/>
<path stroke-width="1.0" stroke-opacity="0.40" d="M312.3 1861.1l13.3-1.5 13.3-1 13.3-1 13.3 .1 13.3 .3 13.3 .2 13.3 0 13.3-.4 13.3-.7 13.3-1.2 13.2-1 13.3-1.7 13.3-1.9 13.3-1.8"/>
<path stroke-width="1.0" stroke-opacity="0.81" d="M312.3 1858.0l13.3-.3 13.3 0 13.3-.1 13.3 0 13.3 0 13.3-.3 13.3-.2 13.3-.2 13.3-.5 13.3-1 13.2-1.5 13.3-3.1 13.3-5.3 13.3-7.2"/>
<path stroke-width="1.0" stroke-opacity="0.31" d="M312.3 1879.0l13.3-5.6 13.3-3.8 13.3-4.2 13.3 .3 13.3 1.8 13.3-2.5 13.3-.1 13.3 .8 13.3 .6 13.3-3 13.2-3.8 13.3-.9 13.3 0 13.3-.1"/>
<path stroke-width="1.0" stroke-opacity="0.56" d="M312.3 1873.2l13.3-4.7 13.3-2.8 13.3-2.6 13.3 0 13.3 .3 13.3-2.2 13.3-.9 13.3-.2 13.3-.2 13.3-1.6 13.2-1.7 13.3-1.8 13.3-2 13.3-2.4"/>
<path stroke-width="1.0" stroke-opacity="0.84" d="M312.3 1864.1l13.3-2.5 13.3-1.6 13.3-1.2 13.3-.2 13.3-.2 13.3-.7 13.3-.6 13.3-.5 13.3-.7 13.3-1.3 13.2-1.8 13.3-4.2 13.3-8.3 13.3-12.1"/>
<path stroke-width="1.0" stroke-opacity="0.47" d="M312.3 1855.5l13.3 .2 13.3 .3 13.3 .1 13.3 0 13.3 .1 13.3 .1 13.3 .2 13.3-.1 13.3-.5 13.3-1.2 13.2-1.6 13.3-3 13.3-4.9 13.3-6.3"/>
<path stroke-width="1.0" stroke-opacity="0.62" d="M312.3 1872.7l13.3-4 13.3-2.5 13.3-2.4 13.3 .9 13.3 1.8 13.3-2.1 13.3-.4 13.3 .4 13.3 .6 13.3-2.5 13.2-3.2 13.3-.4 13.3 .7 13.3 1.2"/>
<path stroke-width="1.0" stroke-opacity="0.85" d="M312.3 1870.7l13.3-2.1 13.3-1.6 13.3-2.2 13.3 1.6 13.3 3.2 13.3-2.2 13.3 .2 13.3 1.8 13.3 2.4 13.3-2.9 13.2-4.6 13.3 2.3 13.3 5.3 13.3 6.9"/>
<path stroke-width="1.0" stroke-opacity="0.70" d="M312.3 1851.2l13.3-.7 13.3 .9 13.3 1.3 13.3 .3 13.3-.9 13.3-1.1 13.3-.8 13.3-.7 13.3-.7 13.3-1.2 13.2-1.3 13.3-5.7 13.3-13.2 13.3-18.2"/>
<path stroke-width="1.0" stroke-opacity="0.62" d="M312.3 1858.3l13.3-.6 13.3-.1 13.3 0 13.3 .1 13.3-.1 13.3-.1 13.3-.1 13.3-.1 13.3-.3 13.3-.7 13.2-1.1 13.3-2.2 13.3-2.2 13.3-1.9"/>
<path stroke-width="1.0" stroke-opacity="0.75" d="M312.3 1869.8l13.3-3.2 13.3-1.9 13.3-2.2 13.3 .8 13.3 1.7 13.3-1.6 13.3 0 13.3 1.1 13.3 1.6 13.3-1.8 13.2-3 13.3 .8 13.3 2.9 13.3 4.8"/>
<path stroke-width="1.0" stroke-opacity="0.80" d="M312.3 1873.4l13.3-3.8 13.3-2.4 13.3-2.7 13.3 .9 13.3 1.8 13.3-2.4 13.3-.2 13.3 1 13.3 1.6 13.3-2.2 13.2-3.3 13.3 .8 13.3 2.6 13.3 3.9"/>
<path stroke-width="1.0" stroke-opacity="0.54" d="M312.3 1848.7l13.3 5.1 13.3 3 13.3 1.4 13.3 1.1 13.3 1.2 13.3-.2 13.3 .5 13.3 1.5 13.3 2.1 13.3-.8 13.2-2.4 13.3 .8 13.3 3.1 13.3 5.3"/>
<path stroke-width="1.0" stroke-opacity="0.67" d="M312.3 1828.8l13.3 11.7 13.3 7.7 13.3 4.5 13.3 1.9 13.3 1 13.3 .9 13.3 1 13.3 1.2 13.3 1.6 13.3 .2 13.2-1.2 13.3 1.4 13.3 4.4 13.3 7.7"/>
<path stroke-width="1.0" stroke-opacity="0.73" d="M312.3 1868.9l13.3-1.3 13.3-.9 13.3-1.9 13.3 1.7 13.3 3.1 13.3-2.3 13.3 .2 13.3 2 13.3 2.9 13.3-2.6 13.2-4.5 13.3 2.6 13.3 5.7 13.3 7.8"/>
<path stroke-width="1.0" stroke-opacity="0.47" d="M312.3 1871.2l13.3-4.3 13.3-2.5 13.3-2.3 13.3 .2 13.3 .5 13.3-1.7 13.3-.6 13.3-.2 13.3-.2 13.3-1.7 13.2-1.9 13.3-1.8 13.3-1.9 13.3-2.2"/>
<path stroke-width="1.0" stroke-opacity="0.67" d="M312.3 1844.6l13.3 3.1 13.3 2.7 13.3 1.9 13.3 .7 13.3-.2 13.3-.2 13.3 0 13.3 0 13.3-.2 13.3-1.1 13.2-1.4 13.3-4.5 13.3-9.1 13.3-11.9"/>
<path stroke-width="1.0" stroke-opacity="0.49" d="M312.3 1871.1l13.3-5 13.3-3 13.3-2.6 13.3-.5 13.3-.5 13.3-1.4 13.3-.9 13.3-.9 13.3-1.1 13.3-1.7 13.2-2 13.3-4.8 13.3-9.9 13.3-14.6"/>
<path stroke-width="1.0" stroke-opacity="0.47" d="M312.3 1843.3l13.3 7.2 13.3 4.2 13.3 1.8 13.3 .6 13.3 .7 13.3 .6 13.3 1 13.3 1.3 13.3 1.3 13.3-1 13.2-2.3 13.3-.8 13.3 .7 13.3 1.7"/>
<path stroke-width="1.0" stroke-opacity="0.48" d="M312.3 1875.1l13.3-4.3 13.3-2.8 13.3-3.2 13.3 .8 13.3 1.7 13.3-2.7 13.3-.7 13.3 .2 13.3 0 13.3-2.8 13.2-3.3 13.3-2.3 13.3-3.1 13.3-5.2"/>
<path stroke-width="1.0" stroke-opacity="0.72" d="M312.3 1830.7l13.3 8.9 13.3 6.5 13.3 4 13.3 1.5 13.3 .2 13.3 .3 13.3 .7 13.3 .7 13.3 .7 13.3 0 13.2-.3 13.3-2 13.3-2.3 13.3-.8"/>
<path stroke-width="1.0" stroke-opacity="0.84" d="M312.3 1843.1l13.3 4 13.3 3.2 13.3 2.2 13.3 .7 13.3-.5 13.3-.6 13.3-.4 13.3-.4 13.3-.5 13.3-1.1 13.2-1.5 13.3-5.5 13.3-12.4 13.3-17.9"/>
<path stroke-width="1.0" stroke-opacity="0.83" d="M312.3 1826.0l13.3 11.4 13.3 8 13.3 4.9 13.3 1.7 13.3-.1 13.3-.1 13.3 .2 13.3 .1 13.3 .1 13.3-.6 13.2-.9 13.3-3.3 13.3-6.3 13.3-7.9"/>
<path stroke-width="1.0" stroke-opacity="0.31" d="M312.3 1869.4l13.3-2.1 13.3-1.3 13.3-1.9 13.3 1.7 13.3 2.9 13.3-2.2 13.3 0 13.3 1.3 13.3 1.9 13.3-2.6 13.2-4 13.3 2 13.3 4.4 13.3 5.8"/>
<path stroke-width="1.0" stroke-opacity="0.61" d="M312.3 1859.5l13.3-.7 13.3-.2 13.3-.2 13.3-.1 13.3-.4 13.3-.6 13.3-.4 13.3-.2 13.3-.1 13.3-.7 13.2-1.3 13.3-3.2 13.3-4.9 13.3-6.2"/>
<path stroke-width="1.0" stroke-opacity="0.58" d="M312.3 1852.0l13.3 .6 13.3 1.2 13.3 1.1 13.3 .2 13.3-.5 13.3-.7 13.3-.5 13.3-.5 13.3-.6 13.3-1.2 13.2-1.3 13.3-4.5 13.3-9.4 13.3-13.1"/>
<path stroke-width="1.0" stroke-opacity="0.84" d="M312.3 1866.2l13.3-2.4 13.3-1.4 13.3-1.6 13.3 .2 13.3 .5 13.3-1.4 13.3-.5 13.3-.3 13.3-.5 13.3-1.6 13.2-1.7 13.3-2.8 13.3-4 13.3-6"/>
<path stroke-width="1.0" stroke-opacity="0.50" d="M312.3 1847.1l13.3 1.1 13.3 1.9 13.3 1.7 13.3 .3 13.3-.7 13.3-.7 13.3-.4 13.3-.2 13.3-.2 13.3-.9 13.2-1.1 13.3-5.3 13.3-11.6 13.3-15.3"/>
<path stroke-width="1.0" stroke-opacity="0.49" d="M312.3 1856.1l13.3 1.9 13.3 1.2 13.3 .4 13.3 1.2 13.3 1.8 13.3-.5 13.3 .5 13.3 1.3 13.3 1.8 13.3-1.5 13.2-2.9 13.3 1.1 13.3 3.2 13.3 4.9"/>
<path stroke-width="1.0" stroke-opacity="0.75" d="M312.3 1858.3l13.3 1 13.3 .7 13.3 0 13.3 1.1 13.3 1.9 13.3-.6 13.3 .5 13.3 1.5 13.3 1.9 13.3-1.5 13.2-3 13.3 1.5 13.3 4 13.3 6.2"/>
<path stroke-width="1.0" stroke-opacity="0.58" d="M312.3 1836.5l13.3 6.2 13.3 4.9 13.3 3.4 13.3 1.4 13.3 0 13.3-.1 13.3 0 13.3 .2 13.3 0 13.3-.3 13.2-.6 13.3-2.9 13.3-5.1 13.3-5.5"/>
<path stroke-width="1.0" stroke-opacity="0.61" d="M312.3 1831.5l13.3 8.2 13.3 6.4 13.3 4.2 13.3 1.3 13.3-.4 13.3-.6 13.3-.2 13.3-.1 13.3 0 13.3-.4 13.2-.7 13.3-3.9 13.3-8.6 13.3-11.1"/>
<path stroke-width="1.0" stroke-opacity="0.33" d="M312.3 1877.1l13.3-6.3 13.3-4 13.3-3.6 13.3-.3 13.3-.2 13.3-2.4 13.3-1.4 13.3-1.4 13.3-1.4 13.3-2 13.2-2.3 13.3-5.2 13.3-10.8 13.3-17"/>
<path stroke-width="1.0" stroke-opacity="0.59" d="M312.3 1848.8l13.3 3.2 13.3 2.1 13.3 1.3 13.3 .4 13.3 0 13.3-.2 13.3-.2 13.3-.3 13.3-.5 13.3-1.1 13.2-1.6 13.3-4.2 13.3-8.3 13.3-12.2"/>
<path stroke-width="1.0" stroke-opacity="0.50" d="M312.3 1840.5l13.3 6.6 13.3 4.4 13.3 2.6 13.3 1 13.3 .1 13.3 0 13.3 .1 13.3 .2 13.3 .1 13.3-.5 13.2-.8 13.3-2.1 13.3-2.7 13.3-2.8"/>
<path stroke-width="1.0" stroke-opacity="0.75" d="M312.3 1839.7l13.3 5.7 13.3 4.1 13.3 2.9 13.3 1.4 13.3 .2 13.3-.2 13.3-.2 13.3-.4 13.3-.2 13.3-.6 13.2-.6 13.3-3.3 13.3-6.9 13.3-8.9"/>
<path stroke-width="1.0" stroke-opacity="0.54" d="M312.3 1867.4l13.3-.6 13.3-.4 13.3-1.5 13.3 2 13.3 3.3 13.3-2.2 13.3 .3 13.3 2.1 13.3 2.9 13.3-3 13.2-4.8 13.3 2.9 13.3 6.5 13.3 8.8"/>
<path stroke-width="1.0" stroke-opacity="0.77" d="M312.3 1866.0l13.3-2.8 13.3-1.5 13.3-1.4 13.3 .2 13.3 .4 13.3-1.1 13.3-.4 13.3-.2 13.3-.2 13.3-1.2 13.2-1.5 13.3-1.7 13.3-1.8 13.3-1.7"/>
<path stroke-width="1.0" stroke-opacity="0.61" d="M312.3 1847.1l13.3 5.1 13.3 3 13.3 1.4 13.3 .4 13.3 .1 13.3 .3 13.3 .4 13.3 .7 13.3 .4 13.3-.7 13.2-1.5 13.3-2.3 13.3-2.3 13.3-2.3"/>
<path stroke-width="1.0" stroke-opacity="0.67" d="M312.3 1854.6l13.3 1.2 13.3 1 13.3 .6 13.3 .5 13.3 .4 13.3 0 13.3 .1 13.3 .4 13.3 .6 13.3-.5 13.2-1.3 13.3-.7 13.3 .2 13.3 1.5"/>
<path stroke-width="1.0" stroke-opacity="0.55" d="M312.3 1853.4l13.3 2.5 13.3 1.4 13.3 .6 13.3 .8 13.3 1 13.3 0 13.3 .5 13.3 .9 13.3 1.2 13.3-.9 13.2-2 13.3 .2 13.3 2 13.3 3.7"/>
<path stroke-width="1.0" stroke-opacity="0.42" d="M312.3 1874.8l13.3-5 13.3-3 13.3-3 13.3 .2 13.3 .8 13.3-2.4 13.3-.8 13.3-.2 13.3-.2 13.3-2.1 13.2-2.4 13.3-2 13.3-2.4 13.3-3.2"/>
<path stroke-width="1.0" stroke-opacity="0.78" d="M312.3 1858.7l13.3 .4 13.3 .4 13.3 0 13.3 .6 13.3 .7 13.3-.8 13.3-.2 13.3 .4 13.3 .6 13.3-1.1 13.2-1.9 13.3-1.4 13.3-1.4 13.3-1.4"/>
<path stroke-width="1.0" stroke-opacity="0.30" d="M312.3 1879.5l13.3-4.2 13.3-2.9 13.3-4.1 13.3 1.4 13.3 3.3 13.3-3.6 13.3 .2 13.3 2.3 13.3 3.3 13.3-3.1 13.2-5.4 13.3 2.4 13.3 5.4 13.3 7.2"/>
<path stroke-width="1.0" stroke-opacity="0.51" d="M312.3 1864.2l13.3-.6 13.3-.3 13.3-1 13.3 1.3 13.3 2 13.3-1.6 13.3-.2 13.3 1 13.3 1.3 13.3-2.2 13.2-3.1 13.3 .2 13.3 1.3 13.3 1.5"/>
<path stroke-width="1.0" stroke-opacity="0.57" d="M312.3 1875.6l13.3-5.6 13.3-3.6 13.3-3.2 13.3-.2 13.3-.1 13.3-2.5 13.3-1.4 13.3-1.5 13.3-1.6 13.3-2 13.2-2.3 13.3-5.2 13.3-11.4 13.3-18.4"/>
<path stroke-width="1.0" stroke-opacity="0.55" d="M312.3 1821.9l13.3 14.1 13.3 9.1 13.3 5.3 13.3 2 13.3 .8 13.3 .9 13.3 1.2 13.3 1.2 13.3 1.1 13.3 .7 13.2-.3 13.3 .4 13.3 2.4 13.3 5.2"/>
<path stroke-width="1.0" stroke-opacity="0.47" d="M312.3 1855.3l13.3 .3 13.3 .5 13.3 .4 13.3 0 13.3-.3 13.3-.2 13.3-.2 13.3 .1 13.3-.1 13.3-.5 13.2-.8 13.3-2.1 13.3-2.6 13.3-2.5"/>
<path stroke-width="1.0" stroke-opacity="0.80" d="M312.3 1869.9l13.3-2.6 13.3-1.7 13.3-2.3 13.3 .6 13.3 1.5 13.3-2.1 13.3-.2 13.3 .6 13.3 .7 13.3-2.2 13.2-3 13.3-1.4 13.3-1.4 13.3-2.1"/>
<path stroke-width="1.0" stroke-opacity="0.34" d="M312.3 1817.4l13.3 13.8 13.3 9.6 13.3 5.9 13.3 2.1 13.3 .1 13.3 .3 13.3 .8 13.3 .8 13.3 .5 13.3-.4 13.2-.8 13.3-3.8 13.3-7.1 13.3-8"/>
<path stroke-width="1.0" stroke-opacity="0.63" d="M312.3 1872.6l13.3-3 13.3-1.9 13.3-2.6 13.3 1.2 13.3 2.6 13.3-2.4 13.3 0 13.3 1.7 13.3 2.4 13.3-2.6 13.2-4.1 13.3 1.8 13.3 4.5 13.3 6.3"/>
<path stroke-width="1.0" stroke-opacity="0.53" d="M312.3 1835.4l13.3 8.3 13.3 5.4 13.3 3.3 13.3 1.3 13.3 .3 13.3 .2 13.3 .2 13.3 0 13.3-.2 13.3-.9 13.2-1.3 13.3-3.5 13.3-6.6 13.3-9.3"/>
<path stroke-width="1.0" stroke-opacity="0.51" d="M312.3 1829.4l13.3 10.3 13.3 7 13.3 4.2 13.3 1.6 13.3 .6 13.3 .6 13.3 .8 13.3 .7 13.3 .3 13.3-.3 13.2-.5 13.3-1.4 13.3-.6 13.3 .8"/>
<path stroke-width="1.0" stroke-opacity="0.56" d="M312.3 1871.6l13.3-3.5 13.3-2.3 13.3-2.6 13.3 .6 13.3 1.5 13.3-2 13.3-.3 13.3 .5 13.3 .5 13.3-2.3 13.2-2.9 13.3-1.5 13.3-1.7 13.3-2.5"/>
<path stroke-width="1.0" stroke-opacity="0.68" d="M312.3 1851.8l13.3 3.2 13.3 1.8 13.3 .8 13.3 .7 13.3 .9 13.3 .1 13.3 .3 13.3 .7 13.3 .8 13.3-1 13.2-1.8 13.3-.6 13.3 .4 13.3 1.3"/>
<path stroke-width="1.0" stroke-opacity="0.66" d="M312.3 1873.5l13.3-4.4 13.3-2.6 13.3-2.6 13.3 .3 13.3 .8 13.3-2.4 13.3-.3 13.3 .7 13.3 1.1 13.3-1.8 13.2-2.9 13.3-1 13.3 .1 13.3 .9"/>
<path stroke-width="1.0" stroke-opacity="0.38" d="M312.3 1847.8l13.3 2.7 13.3 2.2 13.3 1.6 13.3 .5 13.3-.2 13.3-.2 13.3 0 13.3 0 13.3 0 13.3-.6 13.2-1 13.3-2.9 13.3-4.9 13.3-5.7"/>
<path stroke-width="1.0" stroke-opacity="0.32" d="M312.3 1823.3l13.3 12.6 13.3 8.4 13.3 5.2 13.3 1.9 13.3 .2 13.3 .1 13.3 .3 13.3 .2 13.3 0 13.3-.7 13.2-1 13.3-4 13.3-8.1 13.3-10.9"/>
<path stroke-width="1.0" stroke-opacity="0.79" d="M312.3 1878.2l13.3-5.3 13.3-3.5 13.3-3.9 13.3 .6 13.3 1.6 13.3-3 13.3-.7 13.3 .3 13.3 .3 13.3-2.7 13.2-3.2 13.3-1.6 13.3-2.1 13.3-3.4"/>
<path stroke-width="1.0" stroke-opacity="0.31" d="M312.3 1860.4l13.3-2.2 13.3-1.3 13.3-.8 13.3-.5 13.3-.9 13.3-1.1 13.3-.8 13.3-.8 13.3-.8 13.3-1.5 13.2-1.7 13.3-5.9 13.3-13.2 13.3-19.3"/>
<path stroke-width="1.0" stroke-opacity="0.44" d="M312.3 1863.2l13.3-1.2 13.3-.8 13.3-1.3 13.3 .2 13.3 1.1 13.3-.4 13.3 .6 13.3 1 13.3 1 13.3-1.6 13.2-2.7 13.3 .3 13.3 2.5 13.3 4.4"/>
<path stroke-width="1.0" stroke-opacity="0.67" d="M312.3 1827.0l13.3 10.3 13.3 7.5 13.3 4.9 13.3 1.5 13.3-.5 13.3-.6 13.3-.4 13.3-.1 13.3 0 13.3-.6 13.2-.8 13.3-5 13.3-11.7 13.3-16.4"/>
<path stroke-width="1.0" stroke-opacity="0.54" d="M312.3 1833.4l13.3 9.7 13.3 6.3 13.3 3.7 13.3 1.6 13.3 .6 13.3 .5 13.3 .5 13.3 .4 13.3 0 13.3-.6 13.2-1.1 13.3-2.2 13.3-2.6 13.3-2.6"/>
<path stroke-width="1.0" stroke-opacity="0.49" d="M312.3 1879.6l13.3-5.9 13.3-3.7 13.3-3.9 13.3 .9 13.3 2.2 13.3-2.9 13.3-.2 13.3 1.2 13.3 1.9 13.3-2.6 13.2-3.7 13.3 1.5 13.3 4.1 13.3 6.1"/>
<path stroke-width="1.0" stroke-opacity="0.85" d="M312.3 1864.5l13.3-1.6 13.3-.9 13.3-1 13.3 .7 13.3 1.1 13.3-1.1 13.3-.2 13.3 .4 13.3 .6 13.3-1.7 13.2-2.4 13.3-.6 13.3 .4 13.3 1.4"/>
<path stroke-width="1.0" stroke-opacity="0.50" d="M312.3 1859.5l13.3 .7 13.3 .5 13.3-.3 13.3 1.2 13.3 1.8 13.3-.9 13.3 .2 13.3 1 13.3 1.1 13.3-1.9 13.2-3 13.3-.1 13.3 1 13.3 1.4"/>
<path stroke-width="1.0" stroke-opacity="0.53" d="M312.3 1880.8l13.3-6.3 13.3-4.1 13.3-4.1 13.3 .8 13.3 2.1 13.3-3 13.3-.5 13.3 .8 13.3 1.3 13.3-2.6 13.2-3.7 13.3 .5 13.3 2 13.3 3.1"/>
<path stroke-width="1.0" stroke-opacity="0.37" d="M312.3 1872.1l13.3-3.3 13.3-1.8 13.3-2.5 13.3 .8 13.3 1.8 13.3-2.2 13.3 .3 13.3 1.9 13.3 2.6 13.3-2.1 13.2-3.9 13.3 1.8 13.3 5.3 13.3 8.3"/>
<path stroke-width="1.0" stroke-opacity="0.74" d="M312.3 1865.9l13.3-4.1 13.3-2.5 13.3-1.6 13.3-.7 13.3-.8 13.3-.9 13.3-1 13.3-1.1 13.3-1.1 13.3-1.6 13.2-1.7 13.3-5.2 13.3-11.6 13.3-16.8"/>
<path stroke-width="1.0" stroke-opacity="0.34" d="M312.3 1860.9l13.3-.3 13.3 0 13.3-.3 13.3 1.1 13.3 1.6 13.3-.7 13.3 .4 13.3 1.7 13.3 2.5 13.3-1 13.2-2.8 13.3 2.7 13.3 6.4 13.3 10.3"/>
<path stroke-width="1.0" stroke-opacity="0.63" d="M312.3 1818.1l13.3 14.6 13.3 9.9 13.3 5.9 13.3 2 13.3 0 13.3-.1 13.3 .3 13.3 .3 13.3 .1 13.3-.5 13.2-.8 13.3-3.7 13.3-7.8 13.3-10.2"/>
<path stroke-width="1.1" stroke-opacity="0.60" d="M312.3 1779.9l.5 1.9 .5 2.7 .7 3.1 .8 3.4 .8 3.3 .9 3.1 .9 2.8 .9 2.8 1 2.8 1.1 2.7 1.1 2.7 1.1 2.7 1.3 2.7 1.3 2.7 1.3 2.7 1.4 2.6 1.5 2.4 1.5 2.3 1.5 2.1 1.7 1.8 1.7 1.8 1.7 1.6 1.8 1.5 1.9 1.5 2 1.4 2.4 1.4 2.4 1.2 2.2 1.2 1.9 .9 1.4 .7"/>
</g>
<path class="m" stroke="#fff" stroke-width="19.0" d="M312.8 1856.2l3.8 0 2 .1 3.8 0 3.9 .1 1.9 .1 3.9 .1 1.9 0 3.8 .1 3.9 .2 1.9 0 3.9 .1 3.9 .1 1.9 .1 3.8 .1 2 .1 3.8 .1 3.9 .1 1.9 0 3.9 .1 3.8 .1 2 .1 3.8 0 2 .1 3.8 0 3.9 .1 1.9 0 3.9 0 3.8 0 2 0 3.8 0 1.9 0 3.9-.1 3.9-.1 1.9 0 3.9-.1 3.8-.2 1.9 0 3.9-.2 1.9-.1 3.9-.3 3.8-.2 2-.1 3.8-.3 3.9-.4 1.9-.2 3.9-.4 1.9-.2 3.9-.4 3.8-.5 2-.3 3.8-.5 3.9-.6 1.9-.3 3.9-.7 1.9-.3 3.9-.7 3.8-.8 2-.4 3.8-.9"/>
<path class="m" stroke="#D93D30" stroke-width="8.8" d="M312.8 1856.2l3.8 0 2 .1 3.8 0 3.9 .1 1.9 .1 3.9 .1 1.9 0 3.8 .1 3.9 .2 1.9 0 3.9 .1 3.9 .1 1.9 .1 3.8 .1 2 .1 3.8 .1 3.9 .1 1.9 0 3.9 .1 3.8 .1 2 .1 3.8 0 2 .1 3.8 0 3.9 .1 1.9 0 3.9 0 3.8 0 2 0 3.8 0 1.9 0 3.9-.1 3.9-.1 1.9 0 3.9-.1 3.8-.2 1.9 0 3.9-.2 1.9-.1 3.9-.3 3.8-.2 2-.1 3.8-.3 3.9-.4 1.9-.2 3.9-.4 1.9-.2 3.9-.4 3.8-.5 2-.3 3.8-.5 3.9-.6 1.9-.3 3.9-.7 1.9-.3 3.9-.7 3.8-.8 2-.4 3.8-.9"/>
</g>
<text class="n" x="357.1" y="1777.7">n=1,415</text>
<text class="c" x="760.9" y="1720.5">Subset of proteins measured</text>
<text class="c" x="763.5" y="1742.9">in independent cohorts</text>
<rect class="x" x="644.60" y="1751.40" width="232.60" height="211.90"/>
<text class="a" transform="translate(626.1 1955.46) rotate(-90)">–2</text>
<text class="a" transform="translate(626.1 1906.38) rotate(-90)">–1</text>
<text class="a" transform="translate(626.1 1857.30) rotate(-90)">0</text>
<text class="a" transform="translate(626.1 1808.22) rotate(-90)">1</text>
<text class="a" transform="translate(626.1 1759.14) rotate(-90)">2</text>
<text class="a" x="657.95" y="1990.7">20</text>
<text class="a" x="706.29" y="1990.7">40</text>
<text class="a" x="754.63" y="1990.7">60</text>
<text class="a" x="802.97" y="1990.7">80</text>
<text class="a" x="851.31" y="1990.7">100</text>
<path class="k" d="M637.2 1955.46h7.4M637.2 1906.38h7.4M637.2 1857.30h7.4M637.2 1808.22h7.4M637.2 1759.14h7.4M657.95 1963.3v8M706.29 1963.3v8M754.63 1963.3v8M802.97 1963.3v8M851.31 1963.3v8"/>
<text class="b" x="760.9" y="2019.9">Age (years)</text>
<text class="b" style="font-size:25px" transform="translate(596.2 1858.9) rotate(-90)">Protein levels (Z–score)</text>
<g clip-path="url(#k51)">
<g class="l" stroke="#D93D30">
<path stroke="none" fill="#D93D30" fill-opacity="0.70" d="M653.3 1826.2l2.1 1.2 2.9 1.6 3.4 1.9 3.6 2 3.5 2 3.1 1.6 2.6 1.4 2.5 1.3 2.3 1.2 2.3 1.2 2.3 1.1 2.4 1 2.6 1 2.7 1.1 2.8 .9 2.6 .9 2.1 .7 1.6 .6 0 7.7-4-.1-3.9-.1-3.9-.1-4-.2-3.9-.1-4-.1-3.9-.1-4-.2-3.9-.1-4-.2-3.9-.1-4-.2z"/>
<path stroke="none" fill="#D93D30" fill-opacity="0.70" d="M803.6 1846.4l1.9-1.3 2.6-1.8 3.1-2.1 3.2-2.3 3.1-2.3 2.6-2.2 2.1-2 1.8-2.1 1.7-2.1 1.6-2 1.5-2.1 1.6-2 1.7-2.1 1.7-2.2 1.7-2.1 1.6-2 1.4-1.7 .9-1.2 0 38.1-3 .4-2.9 .6-3 .5-3 .6-3 .5-3 .5-3 .5-3 .5-2.9 .6-3 .5-3 .5-3 .5z"/>
<path stroke="none" fill="#D93D30" fill-opacity="0.70" d="M653.3 1877.7l2-.7 2.8-1 3.2-1.1 3.6-1.2 3.6-1.2 3.4-1 3.5-1 3.9-1 4-1 3.7-.9 3.2-.7 2.3-.5 0-10-3.3-.1-3.3-.1-3.2-.1-3.3-.1-3.2-.1-3.3-.1-3.3-.2-3.2-.1-3.3-.1-3.2-.1-3.3-.2-3.3-.1z"/>
<path stroke="none" fill="#D93D30" fill-opacity="0.70" d="M803.6 1865.3l2 1 2.9 1.4 3.3 1.6 3.6 1.8 3.5 1.8 3.2 1.7 3.2 1.8 3.3 1.9 3.3 2 3.1 1.9 2.6 1.5 1.8 1.2 0-36-3 .4-2.9 .6-3 .5-3 .6-3 .5-3 .5-3 .5-3 .5-2.9 .6-3 .5-3 .5-3 .5z"/>
<path stroke-width="1.0" stroke-opacity="0.54" d="M653.3 1854.4l13.3 .4 13.3 .4 13.3 .3 13.3 0 13.3-.3 13.3-.2 13.3 .1 13.3 .2 13.3-.2 13.3-.8 13.2-1.5 13.3-4.3 13.3-6.6 13.3-8.6"/>
<path stroke-width="1.0" stroke-opacity="0.45" d="M653.3 1836.6l13.3 5.6 13.3 4.6 13.3 3.7 13.3 1.7 13.3-.3 13.3-.1 13.3 .2 13.3 .2 13.3 .1 13.3-.3 13.2-.7 13.3-3.9 13.3-6.2 13.3-7.4"/>
<path stroke-width="1.0" stroke-opacity="0.58" d="M653.3 1852.6l13.3-.3 13.3 .4 13.3 .9 13.3 .6 13.3-.5 13.3-.5 13.3-.3 13.3-.2 13.3-.2 13.3-.7 13.2-.9 13.3-4.4 13.3-7.1 13.3-8.5"/>
<path stroke-width="1.0" stroke-opacity="0.40" d="M653.3 1872.5l13.3-3.7 13.3-2.4 13.3-2.2 13.3 3.1 13.3 1.9 13.3-2.9 13.3-.4 13.3 2.3 13.3 .7 13.3-2.7 13.2-1.4 13.3 4.6 13.3 4.9 13.3 8.9"/>
<path stroke-width="1.0" stroke-opacity="0.56" d="M653.3 1857.8l13.3-.6 13.3-.1 13.3 0 13.3 .3 13.3 0 13.3 0 13.3-.1 13.3-.1 13.3-.3 13.3-.7 13.2-1.1 13.3-2.1 13.3-2.1 13.3-1.8"/>
<path stroke-width="1.0" stroke-opacity="0.42" d="M653.3 1877.2l13.3-5.5 13.3-3.9 13.3-3.4 13.3 2.6 13.3 1.3 13.3-2.9 13.3-.5 13.3 1.2 13.3-.4 13.3-3.1 13.2-2.2 13.3 .3 13.3-.1 13.3 .8"/>
<path stroke-width="1.0" stroke-opacity="0.71" d="M653.3 1856.2l13.3 .9 13.3 .9 13.3 .6 13.3 1.8 13.3 1.6 13.3-.5 13.3 .3 13.3 1.6 13.3 .9 13.3-1.5 13.2-.9 13.3 3.5 13.3 4.3 13.3 8"/>
<path stroke-width="1.0" stroke-opacity="0.62" d="M653.3 1863.1l13.3-.2 13.3-.3 13.3-1 13.3 2.6 13.3 2.1 13.3-1.7 13.3 .5 13.3 2.7 13.3 1.2 13.3-2.5 13.2-1.8 13.3 3.4 13.3 3.5 13.3 6.8"/>
<path stroke-width="1.0" stroke-opacity="0.39" d="M653.3 1831.3l13.3 8.4 13.3 6.5 13.3 4.8 13.3 2.3 13.3 .6 13.3 .8 13.3 1.2 13.3 1.3 13.3 1.8 13.3 .6 13.2 .4 13.3 3.4 13.3 5.3 13.3 10.6"/>
<path stroke-width="1.0" stroke-opacity="0.65" d="M653.3 1839.1l13.3 5 13.3 4.1 13.3 3.2 13.3 1.7 13.3-.1 13.3 0 13.3 .2 13.3 .1 13.3-.1 13.3-.6 13.2-.8 13.3-3.8 13.3-6 13.3-7.5"/>
<path stroke-width="1.0" stroke-opacity="0.41" d="M653.3 1870.7l13.3-4 13.3-2.8 13.3-2.5 13.3 .9 13.3 0 13.3-1.9 13.3-.4 13.3 0 13.3-1 13.3-2.1 13.2-2.2 13.3-3.6 13.3-5.2 13.3-7.8"/>
<path stroke-width="1.0" stroke-opacity="0.82" d="M653.3 1859.3l13.3-.6 13.3-.4 13.3-.3 13.3 1.1 13.3 .8 13.3-.5 13.3 .1 13.3 .7 13.3 .1 13.3-1.2 13.2-1.2 13.3-1 13.3-1.4 13.3-1"/>
<path stroke-width="1.0" stroke-opacity="0.49" d="M653.3 1861.8l13.3-1.5 13.3-1 13.3-.7 13.3 1.2 13.3 .9 13.3-.6 13.3 .1 13.3 .9 13.3 .2 13.3-1.3 13.2-1.1 13.3 .6 13.3 1.1 13.3 3.3"/>
<path stroke-width="1.0" stroke-opacity="0.48" d="M653.3 1855.5l13.3 1.2 13.3 .6 13.3 .2 13.3 1 13.3 1 13.3-.3 13.3 .4 13.3 1 13.3 .4 13.3-1.2 13.2-1.2 13.3-.8 13.3-1.3 13.3-1.2"/>
<path stroke-width="1.0" stroke-opacity="0.71" d="M653.3 1860.7l13.3-.5 13.3-.3 13.3-.4 13.3 1.9 13.3 1.7 13.3-.8 13.3 .6 13.3 2.2 13.3 1.4 13.3-1.6 13.2-.9 13.3 4.4 13.3 5.4 13.3 10.3"/>
<path stroke-width="1.0" stroke-opacity="0.31" d="M653.3 1849.5l13.3 2.7 13.3 2 13.3 1.3 13.3 .7 13.3 .3 13.3 .4 13.3 .4 13.3 .5 13.3 .4 13.3-.4 13.2-.8 13.3-.8 13.3-.7 13.3 .1"/>
<path stroke-width="1.0" stroke-opacity="0.53" d="M653.3 1839.6l13.3 4.7 13.3 4 13.3 3.3 13.3 1.6 13.3 0 13.3 .1 13.3 .4 13.3 .6 13.3 .6 13.3 .1 13.2-.2 13.3-1.4 13.3-.6 13.3 1.3"/>
<path stroke-width="1.0" stroke-opacity="0.77" d="M653.3 1863.4l13.3-1.8 13.3-.9 13.3-.9 13.3 .9 13.3 .2 13.3-1.2 13.3 0 13.3 1 13.3 .3 13.3-1.3 13.2-1.6 13.3-1.2 13.3-.9 13.3 .1"/>
<path stroke-width="1.0" stroke-opacity="0.84" d="M653.3 1852.1l13.3 1 13.3 .8 13.3 .8 13.3 .4 13.3-.3 13.3-.3 13.3-.2 13.3-.2 13.3-.3 13.3-.9 13.2-1.1 13.3-4.5 13.3-7.8 13.3-11"/>
<path stroke-width="1.0" stroke-opacity="0.57" d="M653.3 1854.1l13.3 .3 13.3 .3 13.3 .2 13.3 .3 13.3 .2 13.3 .4 13.3 .3 13.3 0 13.3-.6 13.3-1.1 13.2-1.1 13.3-2.7 13.3-3.9 13.3-4.7"/>
<path stroke-width="1.0" stroke-opacity="0.81" d="M653.3 1853.6l13.3 1.9 13.3 .9 13.3 .3 13.3 .8 13.3 .9 13.3 .2 13.3 .5 13.3 .7 13.3-.1 13.3-1.3 13.2-1.7 13.3-2 13.3-2.5 13.3-2.9"/>
<path stroke-width="1.0" stroke-opacity="0.47" d="M653.3 1857.4l13.3-.2 13.3-.3 13.3-.2 13.3 .4 13.3 .5 13.3 .1 13.3 .4 13.3 .6 13.3 0 13.3-.9 13.2-1.3 13.3-2 13.3-2 13.3-1.5"/>
<path stroke-width="1.0" stroke-opacity="0.71" d="M653.3 1830.9l13.3 9 13.3 6.8 13.3 4.8 13.3 2.5 13.3 .8 13.3 .9 13.3 .9 13.3 .8 13.3 1 13.3 0 13.2-.3 13.3 1.3 13.3 2.1 13.3 4.6"/>
<path stroke-width="1.0" stroke-opacity="0.37" d="M653.3 1858.5l13.3-1.3 13.3-.7 13.3-.3 13.3-.1 13.3-.2 13.3-.4 13.3-.3 13.3-.3 13.3-.6 13.3-.9 13.2-1.3 13.3-4.4 13.3-7.5 13.3-10.2"/>
<path stroke-width="1.0" stroke-opacity="0.38" d="M653.3 1839.7l13.3 4.2 13.3 3.6 13.3 3 13.3 1.5 13.3-.3 13.3-.4 13.3 .1 13.3 0 13.3-.2 13.3-.7 13.2-1 13.3-5.4 13.3-9.5 13.3-12.6"/>
<path stroke-width="1.0" stroke-opacity="0.85" d="M653.3 1834.8l13.3 6.6 13.3 5.2 13.3 3.9 13.3 1.8 13.3-.2 13.3-.1 13.3 .3 13.3 .1 13.3 0 13.3-.5 13.2-.8 13.3-4.4 13.3-7.4 13.3-9.8"/>
<path stroke-width="1.0" stroke-opacity="0.38" d="M653.3 1870.7l13.3-4.6 13.3-3.1 13.3-2.4 13.3 .6 13.3-.6 13.3-2 13.3-1.2 13.3-1.2 13.3-1.4 13.3-1.9 13.2-2.2 13.3-6.4 13.3-12.3 13.3-18.8"/>
<path stroke-width="1.0" stroke-opacity="0.47" d="M653.3 1869.3l13.3-2.7 13.3-1.8 13.3-1.8 13.3 2.6 13.3 1.3 13.3-2.6 13.3-.6 13.3 1.4 13.3 .1 13.3-2.5 13.2-1.9 13.3 0 13.3-.9 13.3-.5"/>
<path stroke-width="1.0" stroke-opacity="0.84" d="M653.3 1855.5l13.3 1.4 13.3 .8 13.3 .2 13.3 1.2 13.3 1 13.3-.3 13.3 .3 13.3 1.2 13.3 .3 13.3-1.3 13.2-1.5 13.3-.8 13.3-1.4 13.3-1"/>
<path stroke-width="1.0" stroke-opacity="0.34" d="M653.3 1869.6l13.3-3.6 13.3-2.4 13.3-2 13.3 1.6 13.3 .5 13.3-1.9 13.3-.3 13.3 .9 13.3 0 13.3-1.8 13.2-1.6 13.3-.6 13.3-.7 13.3 .5"/>
<path stroke-width="1.0" stroke-opacity="0.61" d="M653.3 1848.8l13.3 3.1 13.3 2.1 13.3 1.4 13.3 .9 13.3 1 13.3 .9 13.3 1 13.3 1.4 13.3 .8 13.3-.9 13.2-.9 13.3 1.2 13.3 2 13.3 4.9"/>
<path stroke-width="1.0" stroke-opacity="0.79" d="M653.3 1849.7l13.3 1.8 13.3 1.5 13.3 1.2 13.3 .7 13.3-.1 13.3-.1 13.3 .1 13.3 .1 13.3-.2 13.3-.6 13.2-1.1 13.3-3.7 13.3-5.8 13.3-7.5"/>
<path stroke-width="1.0" stroke-opacity="0.56" d="M653.3 1848.2l13.3 3 13.3 2.1 13.3 1.8 13.3 1.3 13.3 .6 13.3 .2 13.3-.1 13.3-.3 13.3-.2 13.3-.4 13.2-.7 13.3-2.5 13.3-3.6 13.3-5"/>
<path stroke-width="1.0" stroke-opacity="0.84" d="M653.3 1868.4l13.3-5 13.3-3.1 13.3-2.1 13.3-.3 13.3-1 13.3-.9 13.3-.9 13.3-1 13.3-1.3 13.3-1.7 13.2-1.8 13.3-6.3 13.3-11.5 13.3-16.2"/>
<path stroke-width="1.0" stroke-opacity="0.60" d="M653.3 1840.3l13.3 6.1 13.3 4.2 13.3 2.6 13.3 1.1 13.3 .4 13.3 .7 13.3 1.1 13.3 .8 13.3 .3 13.3-.7 13.2-1.3 13.3-2.2 13.3-1.9 13.3-1.8"/>
<path stroke-width="1.0" stroke-opacity="0.34" d="M653.3 1852.0l13.3 0 13.3 .6 13.3 .9 13.3 .6 13.3-.3 13.3-.4 13.3-.1 13.3-.3 13.3-.4 13.3-.8 13.2-1 13.3-4.4 13.3-7.1 13.3-8.9"/>
<path stroke-width="1.0" stroke-opacity="0.66" d="M653.3 1843.6l13.3 4.1 13.3 3.2 13.3 2.5 13.3 1.3 13.3 .1 13.3 .2 13.3 .4 13.3 .3 13.3 .2 13.3-.3 13.2-.7 13.3-2.3 13.3-2.5 13.3-2.4"/>
<path stroke-width="1.0" stroke-opacity="0.34" d="M653.3 1875.0l13.3-5 13.3-3.3 13.3-3 13.3 1.8 13.3 .3 13.3-3.1 13.3-.9 13.3 .4 13.3-.6 13.3-2.1 13.2-1.9 13.3-2.9 13.3-4.1 13.3-5.8"/>
<path stroke-width="1.0" stroke-opacity="0.80" d="M653.3 1847.3l13.3 3.3 13.3 2.5 13.3 1.9 13.3 1.2 13.3 1.3 13.3 1.2 13.3 1.1 13.3 1.9 13.3 1.4 13.3-.8 13.2-.5 13.3 3.7 13.3 5.4 13.3 10.6"/>
<path stroke-width="1.0" stroke-opacity="0.69" d="M653.3 1826.4l13.3 7.9 13.3 6.6 13.3 5.6 13.3 2.5 13.3-.5 13.3-.4 13.3 .3 13.3 .3 13.3 .4 13.3 0 13.2-.1 13.3-4.3 13.3-7.1 13.3-7.7"/>
<path stroke-width="1.0" stroke-opacity="0.32" d="M653.3 1835.0l13.3 5.2 13.3 4.4 13.3 3.8 13.3 1.8 13.3-.4 13.3-.2 13.3 .3 13.3 0 13.3-.2 13.3-.7 13.2-.8 13.3-5.1 13.3-8.7 13.3-10.8"/>
<path stroke-width="1.0" stroke-opacity="0.78" d="M653.3 1840.3l13.3 5.5 13.3 4 13.3 2.8 13.3 1.4 13.3 .5 13.3 .6 13.3 .7 13.3 .6 13.3 .2 13.3-.4 13.2-1 13.3-2.6 13.3-3 13.3-3.4"/>
<path stroke-width="1.0" stroke-opacity="0.45" d="M653.3 1874.6l13.3-4.3 13.3-3.2 13.3-2.9 13.3 3 13.3 1.8 13.3-2.8 13.3-.2 13.3 2.5 13.3 .9 13.3-2.7 13.2-1.7 13.3 3.6 13.3 3.7 13.3 7.3"/>
<path stroke-width="1.0" stroke-opacity="0.81" d="M653.3 1862.1l13.3-1.8 13.3-1 13.3-.7 13.3 .6 13.3 .1 13.3-.9 13.3-.3 13.3-.4 13.3-.6 13.3-1 13.2-1.2 13.3-2.8 13.3-4 13.3-5.2"/>
<path stroke-width="1.0" stroke-opacity="0.32" d="M653.3 1864.8l13.3-1.9 13.3-1.1 13.3-.9 13.3 2 13.3 1.4 13.3-1.5 13.3 0 13.3 1.4 13.3 .6 13.3-1.9 13.2-1.2 13.3 3.1 13.3 3.7 13.3 7.4"/>
<path stroke-width="1.0" stroke-opacity="0.45" d="M653.3 1859.3l13.3 .1 13.3 .1 13.3-.2 13.3 1.9 13.3 1.6 13.3-.7 13.3 .3 13.3 2 13.3 1 13.3-1.7 13.2-1.1 13.3 3 13.3 3.4 13.3 6.8"/>
<path stroke-width="1.0" stroke-opacity="0.45" d="M653.3 1867.1l13.3-2.6 13.3-1.6 13.3-1.4 13.3 2.3 13.3 1.5 13.3-1.8 13.3-.1 13.3 1.7 13.3 .4 13.3-2.1 13.2-1.3 13.3 2.5 13.3 2.8 13.3 5.8"/>
<path stroke-width="1.0" stroke-opacity="0.64" d="M653.3 1874.0l13.3-4.3 13.3-3 13.3-2.5 13.3 2.8 13.3 1.2 13.3-3.3 13.3-1 13.3 .7 13.3-.6 13.3-2.8 13.2-2.1 13.3-1.5 13.3-3.1 13.3-4.3"/>
<path stroke-width="1.0" stroke-opacity="0.60" d="M653.3 1862.1l13.3-1.6 13.3-.9 13.3-.7 13.3 1.2 13.3 .7 13.3-.7 13.3 .1 13.3 .9 13.3 .3 13.3-1.2 13.2-1 13.3 .9 13.3 1.4 13.3 3.7"/>
<path stroke-width="1.0" stroke-opacity="0.42" d="M653.3 1871.4l13.3-4.1 13.3-2.7 13.3-2.2 13.3 2.4 13.3 1.2 13.3-2.4 13.3-.8 13.3 .3 13.3-.8 13.3-2.5 13.2-2 13.3-1.3 13.3-2.1 13.3-2.7"/>
<path stroke-width="1.0" stroke-opacity="0.84" d="M653.3 1842.0l13.3 4.7 13.3 3.6 13.3 2.9 13.3 1.5 13.3 .7 13.3 .8 13.3 .9 13.3 .9 13.3 1.1 13.3-.1 13.2-.3 13.3 1.5 13.3 3 13.3 6.6"/>
<path stroke-width="1.0" stroke-opacity="0.42" d="M653.3 1868.9l13.3-3.3 13.3-2.1 13.3-1.8 13.3 2.5 13.3 1.7 13.3-1.8 13.3-.1 13.3 1.8 13.3 .4 13.3-2.3 13.2-1.6 13.3 2.2 13.3 2.4 13.3 5.4"/>
<path stroke-width="1.0" stroke-opacity="0.68" d="M653.3 1860.4l13.3 .3 13.3 .1 13.3-.4 13.3 2 13.3 1.6 13.3-1.3 13.3 .1 13.3 2 13.3 .9 13.3-1.9 13.2-1.1 13.3 2.6 13.3 2.4 13.3 4.9"/>
<path stroke-width="1.0" stroke-opacity="0.60" d="M653.3 1853.9l13.3 1.6 13.3 1.1 13.3 .8 13.3 1.1 13.3 1.1 13.3-.1 13.3 .4 13.3 1.1 13.3 .6 13.3-1.1 13.2-.9 13.3 1.6 13.3 2.1 13.3 4.8"/>
<path stroke-width="1.0" stroke-opacity="0.49" d="M653.3 1845.8l13.3 2.1 13.3 2.1 13.3 2 13.3 1.1 13.3-.3 13.3-.4 13.3-.2 13.3-.4 13.3-.4 13.3-.9 13.2-.9 13.3-5 13.3-8.9 13.3-11.8"/>
<path stroke-width="1.0" stroke-opacity="0.75" d="M653.3 1830.0l13.3 6.7 13.3 5.7 13.3 4.9 13.3 2.4 13.3-.5 13.3-.5 13.3-.1 13.3-.1 13.3-.1 13.3-.3 13.2-.3 13.3-5.3 13.3-9.6 13.3-12.1"/>
<path stroke-width="1.0" stroke-opacity="0.51" d="M653.3 1859.3l13.3-1.1 13.3-.6 13.3-.3 13.3 .4 13.3 .1 13.3-.2 13.3-.1 13.3-.1 13.3-.2 13.3-.7 13.2-1 13.3-2.1 13.3-2.3 13.3-2.2"/>
<path stroke-width="1.0" stroke-opacity="0.57" d="M653.3 1846.5l13.3 3 13.3 2.6 13.3 2.2 13.3 1.3 13.3 .4 13.3 .4 13.3 .4 13.3 .3 13.3 .3 13.3-.2 13.2-.4 13.3 .2 13.3 1.1 13.3 3.4"/>
<path stroke-width="1.0" stroke-opacity="0.41" d="M653.3 1836.4l13.3 4.3 13.3 4.1 13.3 3.8 13.3 1.8 13.3-.9 13.3-.8 13.3-.1 13.3 0 13.3-.1 13.3-.5 13.2-.6 13.3-5.9 13.3-10.4 13.3-13.3"/>
<path stroke-width="1.0" stroke-opacity="0.60" d="M653.3 1871.5l13.3-3 13.3-2.2 13.3-2.2 13.3 3.1 13.3 2 13.3-2.7 13.3-.1 13.3 2.4 13.3 .7 13.3-3 13.2-2.1 13.3 3.1 13.3 3.1 13.3 6"/>
<path stroke-width="1.0" stroke-opacity="0.41" d="M653.3 1869.1l13.3-3.1 13.3-2.2 13.3-1.9 13.3 2 13.3 .8 13.3-2.2 13.3-.7 13.3 .5 13.3-.6 13.3-2.2 13.2-1.9 13.3-1.7 13.3-2.9 13.3-3.8"/>
<path stroke-width="1.0" stroke-opacity="0.79" d="M653.3 1861.1l13.3-1.1 13.3-.5 13.3-.5 13.3 1.4 13.3 1.1 13.3-.6 13.3 .2 13.3 1.4 13.3 .7 13.3-1.4 13.2-1 13.3 2 13.3 2.8 13.3 6"/>
<path stroke-width="1.0" stroke-opacity="0.69" d="M653.3 1837.4l13.3 4.5 13.3 4 13.3 3.6 13.3 1.6 13.3-.9 13.3-.7 13.3-.3 13.3-.2 13.3-.2 13.3-.7 13.2-.8 13.3-6.1 13.3-11.4 13.3-15.2"/>
<path stroke-width="1.0" stroke-opacity="0.60" d="M653.3 1872.3l13.3-3.6 13.3-2.4 13.3-1.9 13.3 3.6 13.3 2 13.3-3.3 13.3-.8 13.3 1.8 13.3 .5 13.3-2.6 13.2-1.7 13.3 2.4 13.3 1.8 13.3 3.9"/>
<path stroke-width="1.0" stroke-opacity="0.51" d="M653.3 1861.4l13.3-.7 13.3-.4 13.3-.5 13.3 1.7 13.3 1 13.3-1.2 13.3-.3 13.3 .5 13.3-.5 13.3-1.9 13.2-1.8 13.3-1.6 13.3-2.5 13.3-3.3"/>
<path stroke-width="1.0" stroke-opacity="0.39" d="M653.3 1835.9l13.3 7.3 13.3 5.5 13.3 4 13.3 2 13.3 .6 13.3 .7 13.3 .7 13.3 .8 13.3 .8 13.3-.1 13.2-.3 13.3 1 13.3 1.8 13.3 4.3"/>
<path stroke-width="1.0" stroke-opacity="0.36" d="M653.3 1857.6l13.3-.1 13.3-.1 13.3-.2 13.3 .2 13.3 .3 13.3 .2 13.3 .5 13.3 .7 13.3 0 13.3-1.1 13.2-1.3 13.3-1.1 13.3-.6 13.3 .5"/>
<path stroke-width="1.0" stroke-opacity="0.71" d="M653.3 1826.7l13.3 7.8 13.3 6.5 13.3 5.5 13.3 2.4 13.3-.9 13.3-.7 13.3 0 13.3 .1 13.3 .2 13.3-.3 13.2-.5 13.3-6 13.3-10.9 13.3-13.9"/>
<path stroke-width="1.0" stroke-opacity="0.81" d="M653.3 1856.6l13.3-.1 13.3 .1 13.3 .2 13.3 .5 13.3 .5 13.3 .1 13.3 .2 13.3 .4 13.3 .1 13.3-.7 13.2-.9 13.3-.9 13.3-.7 13.3 .5"/>
<path stroke-width="1.0" stroke-opacity="0.75" d="M653.3 1828.7l13.3 8 13.3 6.3 13.3 5 13.3 2.5 13.3 .1 13.3 .3 13.3 1 13.3 .9 13.3 .6 13.3 .2 13.2-.4 13.3-2.7 13.3-3 13.3-1.6"/>
<path stroke-width="1.0" stroke-opacity="0.49" d="M653.3 1832.3l13.3 7.3 13.3 5.6 13.3 4.4 13.3 2 13.3-.2 13.3-.2 13.3 .3 13.3 .2 13.3 .1 13.3-.5 13.2-.7 13.3-4.5 13.3-7.6 13.3-9.9"/>
<path stroke-width="1.0" stroke-opacity="0.32" d="M653.3 1829.6l13.3 7.2 13.3 5.9 13.3 4.9 13.3 2.2 13.3-.6 13.3-.5 13.3 .1 13.3 .1 13.3 .1 13.3-.4 13.2-.5 13.3-5.3 13.3-9.4 13.3-11.9"/>
<path stroke-width="1.0" stroke-opacity="0.41" d="M653.3 1844.1l13.3 2.3 13.3 2.4 13.3 2.6 13.3 1.3 13.3-.5 13.3-.5 13.3-.2 13.3-.3 13.3-.3 13.3-.8 13.2-1 13.3-5.1 13.3-8.8 13.3-11"/>
<path stroke-width="1.0" stroke-opacity="0.55" d="M653.3 1842.9l13.3 3.8 13.3 3 13.3 2.4 13.3 1.1 13.3 0 13.3-.1 13.3 .3 13.3 .1 13.3 0 13.3-.6 13.2-1 13.3-4.5 13.3-7.7 13.3-10.6"/>
<path stroke-width="1.0" stroke-opacity="0.47" d="M653.3 1860.1l13.3-2.5 13.3-1.3 13.3-.7 13.3-.2 13.3-.8 13.3-1 13.3-.8 13.3-.8 13.3-.9 13.3-1.2 13.2-1.4 13.3-6.4 13.3-11.9 13.3-16.7"/>
<path stroke-width="1.0" stroke-opacity="0.57" d="M653.3 1833.7l13.3 5.1 13.3 4.8 13.3 4.3 13.3 2.1 13.3-.9 13.3-.8 13.3-.2 13.3 0 13.3 .1 13.3-.2 13.2-.3 13.3-5.4 13.3-9.5 13.3-11.5"/>
<path stroke-width="1.0" stroke-opacity="0.62" d="M653.3 1855.3l13.3 1.3 13.3 .9 13.3 .7 13.3 1.5 13.3 1.3 13.3-.2 13.3 .3 13.3 1.3 13.3 .5 13.3-1.6 13.2-1.2 13.3 1.5 13.3 1.9 13.3 4.2"/>
<path stroke-width="1.0" stroke-opacity="0.62" d="M653.3 1835.7l13.3 8 13.3 5.5 13.3 3.8 13.3 2.1 13.3 1.2 13.3 1.3 13.3 1.4 13.3 1.6 13.3 1.1 13.3-.8 13.2-.9 13.3 1.7 13.3 2.3 13.3 5.1"/>
<path stroke-width="1.0" stroke-opacity="0.70" d="M653.3 1854.5l13.3-.2 13.3 .2 13.3 .5 13.3 .6 13.3 .1 13.3 0 13.3 0 13.3-.1 13.3-.4 13.3-.8 13.2-1 13.3-3 13.3-4 13.3-4.5"/>
<path stroke-width="1.0" stroke-opacity="0.49" d="M653.3 1859.0l13.3-.9 13.3-.5 13.3-.2 13.3 .5 13.3 .3 13.3-.2 13.3 .1 13.3 .1 13.3-.2 13.3-.9 13.2-1.1 13.3-1.8 13.3-1.8 13.3-1.4"/>
<path stroke-width="1.1" stroke-opacity="0.60" d="M653.3 1779.9l.5 1.9 .5 2.6 .7 3.2 .8 3.3 .8 3.4 .9 3.1 .9 2.9 .9 3 1 3 1.1 2.9 1.1 2.9 1.1 2.8 1.3 2.7 1.3 2.8 1.3 2.7 1.4 2.5 1.5 2.5 1.5 2.2 1.5 2.1 1.7 1.9 1.7 1.8 1.7 1.6 1.8 1.5 1.9 1.4 2 1.4 2.4 1.2 2.4 1.2 2.2 1 1.9 .8 1.4 .6"/>
<path stroke-width="1.1" stroke-opacity="0.60" d="M653.3 1819.0l2.7 1.7 3.8 2.4 4.4 2.7 4.7 3 4.7 3 4.4 2.6 4.5 2.7 4.7 2.8 4.7 2.7 4.4 2.6 3.8 2.1 2.6 1.6"/>
</g>
<path class="m" stroke="#fff" stroke-width="19.0" d="M653.8 1855.1l3.8 .1 2 0 3.8 .1 3.9 .1 1.9 0 3.9 .2 1.9 0 3.8 .1 3.9 .2 1.9 0 3.9 .2 3.9 .1 1.9 .1 3.8 .1 2 .1 3.8 .2 3.9 .1 1.9 .1 3.9 .1 3.8 .1 2 .1 3.8 .1 2 0 3.8 .1 3.9 .1 1.9 .1 3.9 0 3.8 .1 2 0 3.8 0 1.9 0 3.9 0 3.9-.1 1.9 0 3.9-.1 3.8-.1 1.9 0 3.9-.2 1.9-.1 3.9-.2 3.8-.2 2-.1 3.8-.3 3.9-.3 1.9-.2 3.9-.3 1.9-.2 3.9-.5 3.8-.5 2-.2 3.8-.6 3.9-.5 1.9-.4 3.9-.6 1.9-.4 3.9-.7 3.8-.8 2-.4 3.8-.9"/>
<path class="m" stroke="#D93D30" stroke-width="8.8" d="M653.8 1855.1l3.8 .1 2 0 3.8 .1 3.9 .1 1.9 0 3.9 .2 1.9 0 3.8 .1 3.9 .2 1.9 0 3.9 .2 3.9 .1 1.9 .1 3.8 .1 2 .1 3.8 .2 3.9 .1 1.9 .1 3.9 .1 3.8 .1 2 .1 3.8 .1 2 0 3.8 .1 3.9 .1 1.9 .1 3.9 0 3.8 .1 2 0 3.8 0 1.9 0 3.9 0 3.9-.1 1.9 0 3.9-.1 3.8-.1 1.9 0 3.9-.2 1.9-.1 3.9-.2 3.8-.2 2-.1 3.8-.3 3.9-.3 1.9-.2 3.9-.3 1.9-.2 3.9-.5 3.8-.5 2-.2 3.8-.6 3.9-.5 1.9-.4 3.9-.6 1.9-.4 3.9-.7 3.8-.8 2-.4 3.8-.9"/>
</g>
<text class="n" x="694.4" y="1777.7">n=405</text>
<text class="c" x="1101.7" y="1720.5">Corresponding trajectories</text>
<text class="c" x="1101.7" y="1742.9">in independent cohorts</text>
<rect class="x" x="985.40" y="1751.40" width="232.60" height="211.90"/>
<text class="a" transform="translate(966.9 1955.46) rotate(-90)">–2</text>
<text class="a" transform="translate(966.9 1906.38) rotate(-90)">–1</text>
<text class="a" transform="translate(966.9 1857.30) rotate(-90)">0</text>
<text class="a" transform="translate(966.9 1808.22) rotate(-90)">1</text>
<text class="a" transform="translate(966.9 1759.14) rotate(-90)">2</text>
<text class="a" x="998.75" y="1990.7">20</text>
<text class="a" x="1047.09" y="1990.7">40</text>
<text class="a" x="1095.43" y="1990.7">60</text>
<text class="a" x="1143.77" y="1990.7">80</text>
<text class="a" x="1192.11" y="1990.7">100</text>
<path class="k" d="M978.0 1955.46h7.4M978.0 1906.38h7.4M978.0 1857.30h7.4M978.0 1808.22h7.4M978.0 1759.14h7.4M998.75 1963.3v8M1047.09 1963.3v8M1095.43 1963.3v8M1143.77 1963.3v8M1192.11 1963.3v8"/>
<text class="b" x="1101.7" y="2019.9">Age (years)</text>
<text class="b" style="font-size:25px" transform="translate(937.0 1858.9) rotate(-90)">Protein levels (Z–score)</text>
<g clip-path="url(#k52)">
<g class="l" stroke="#D93D30">
<path stroke="none" fill="#D93D30" fill-opacity="0.95" d="M1000.6 1818.0l2.3 1.2 3.3 1.6 3.9 1.9 4.1 2.1 4.2 1.9 3.8 1.6 3.5 1.3 3.4 1.1 3.4 1 3.4 .9 3.4 .9 3.4 .9 3.5 1 3.4 .9 3.4 .9 3.5 .8 3.4 .8 3.4 .8 3.5 .8 3.4 .8 3.4 .7 3.5 .7 3.4 .6 3.4 .5 3.4 .4 3.5 .2 3.4 .2 3.4 .1 3.5 .1 3.4 0 3.5 .1 3.5-.1 3.5 0 3.5-.1 3.4 0 3.2 .1 3 .3 2.9 .5 2.7 .5 2.7 .5 2.6 .3 2.5 0 2.5-.3 2.3-.5 2.2-.7 2.3-.9 2.4-.8 2.8-.9 3-.8 3.4-.6 3.5-.7 3.6-.9 3.5-1.3 3.5-1.9 3.6-2.6 3.6-3.3 3.6-3.7 3.6-3.9 3.3-3.7 2.9-3.4 2.7-3.1 2.5-3.3 2.3-3.1 2-2.8 1.6-2.4 1.3-1.7 0 52.9-17.4 1.2-17.4 1.5-17.5 2.7-17.4 2.3-17.4-3.5-17.4-2.4-17.4 1.2-17.4 1.9-17.4 2-17.4 2.2-17.4 3.3-17.4 2.2z"/>
<path stroke="none" fill="#D93D30" fill-opacity="0.95" d="M1000.6 1914.7l2.3-1.3 3.3-2 3.9-2.2 4.1-2.4 4.2-2.3 3.8-2.1 3.5-1.9 3.4-1.7 3.4-1.7 3.4-1.7 3.4-1.6 3.4-1.7 3.5-1.8 3.4-1.8 3.4-1.8 3.5-1.8 3.4-1.6 3.4-1.5 3.5-1.3 3.4-1.1 3.4-1.1 3.5-.9 3.4-.9 3.4-.9 3.4-.8 3.5-.8 3.4-.8 3.4-.6 3.5-.6 3.4-.5 3.4-.4 3.5-.2 3.4-.2 3.4-.2 3.5 0 3.4 0 3.4-.1 3.4 0 3.5 0 3.4 .1 3.4 .4 3.5 .6 3.4 .9 3.4 1.2 3.5 1.4 3.4 1.6 3.4 1.6 3.4 1.5 3.5 1.6 3.3 1.6 3.4 1.6 3.4 1.7 3.5 1.8 3.5 2 3.9 2.4 4.4 2.7 4.3 2.8 4.1 2.6 3.5 2.3 2.5 1.6 0-52-17.4 1.2-17.4 1.5-17.5 2.7-17.4 2.3-17.4-3.5-17.4-2.4-17.4 1.2-17.4 1.9-17.4 2-17.4 2.2-17.4 3.3-17.4 2.2z"/>
<path stroke-width="1.0" stroke-opacity="0.80" d="M1000.6 1915.0l14.9-9.6 14.9-8 14.9-7.5 14.9-7.6 15-5.6 14.9-3.8 14.9-1.8 14.9-1.3 15-1 14.9-3.3 14.9-2.5 14.9-4 15-5.2 14.9-6.4"/>
<path stroke-width="1.0" stroke-opacity="0.59" d="M1000.6 1879.0l14.9-6.6 14.9-6.5 14.9-5.3 14.9-4.1 15-3.1 14.9-2.4 14.9-1.2 14.9 1.5 15 2.5 14.9-1.6 14.9-5.1 14.9-6.6 15-7.2 14.9-8.5"/>
<path stroke-width="1.0" stroke-opacity="0.48" d="M1000.6 1872.3l14.9-3.3 14.9-4 14.9-3.3 14.9-2.4 15-1.9 14.9-1.8 14.9-1 14.9 1.6 15 3.5 14.9-1.3 14.9-2.4 14.9-1.8 15-1 14.9-.7"/>
<path stroke-width="1.0" stroke-opacity="0.55" d="M1000.6 1901.9l14.9-7.9 14.9-6.7 14.9-6.4 14.9-6.7 15-5.4 14.9-3.9 14.9-2 14.9-.1 15 1.1 14.9-2.9 14.9-4.4 14.9-5 15-5.7 14.9-7.5"/>
<path stroke-width="1.0" stroke-opacity="0.58" d="M1000.6 1825.1l14.9 4.2 14.9 4.1 14.9 4.6 14.9 3 15 2.1 14.9 1.2 14.9 1 14.9 2.8 15 3 14.9-.6 14.9-3.9 14.9-4.7 15-4.2 14.9-4.6"/>
<path stroke-width="1.0" stroke-opacity="0.85" d="M1000.6 1827.8l14.9 4 14.9 3.7 14.9 4.1 14.9 2.5 15 1.7 14.9 1 14.9 .8 14.9 2.7 15 3.2 14.9-.4 14.9-3.4 14.9-3.8 15-2.9 14.9-2.9"/>
<path stroke-width="1.0" stroke-opacity="0.46" d="M1000.6 1841.9l14.9 1.7 14.9 1.7 14.9 2.2 14.9 1.2 15 .7 14.9 .3 14.9 .8 14.9 3.5 15 5.2 14.9 .6 14.9 .3 14.9 2.3 15 5.2 14.9 9"/>
<path stroke-width="1.0" stroke-opacity="0.54" d="M1000.6 1820.4l14.9 2.8 14.9 3.7 14.9 4.9 14.9 3.6 15 3.1 14.9 2.3 14.9 1.9 14.9 3.4 15 3.2 14.9-.1 14.9-3.8 14.9-4.1 15-2.4 14.9-1.1"/>
<path stroke-width="1.0" stroke-opacity="0.67" d="M1000.6 1893.4l14.9-6.9 14.9-5.8 14.9-5 14.9-4.5 15-3.7 14.9-2.9 14.9-1.3 14.9 .2 15 1.4 14.9-1.8 14.9-.8 14.9-.3 15 .4 14.9 .7"/>
<path stroke-width="1.0" stroke-opacity="0.70" d="M1000.6 1895.8l14.9-5.5 14.9-4.9 14.9-4.4 14.9-4.6 15-3.3 14.9-2 14.9 .3 14.9 1 15 .4 14.9-1.3 14.9 3.4 14.9 4 15 5.2 14.9 7"/>
<path stroke-width="1.0" stroke-opacity="0.43" d="M1000.6 1873.1l14.9-2.7 14.9-2.7 14.9-1.8 14.9-1.8 15-1.8 14.9-1.7 14.9-.1 14.9 2.3 15 3.4 14.9 .3 14.9 3.2 14.9 4.4 15 6.2 14.9 9.3"/>
<path stroke-width="1.0" stroke-opacity="0.45" d="M1000.6 1881.8l14.9-3.1 14.9-3.1 14.9-2.7 14.9-2.6 15-2 14.9-1.4 14.9 .4 14.9 1.4 15 1.3 14.9-1.4 14.9 1.9 14.9 2.8 15 4.2 14.9 6"/>
<path stroke-width="1.0" stroke-opacity="0.56" d="M1000.6 1901.1l14.9-9.5 14.9-8.1 14.9-7 14.9-6.3 15-4.8 14.9-4 14.9-2.9 14.9-.8 15 1.7 14.9-2.5 14.9-4.4 14.9-5.4 15-6.4 14.9-8.4"/>
<path stroke-width="1.0" stroke-opacity="0.80" d="M1000.6 1844.9l14.9 5.7 14.9 3.8 14.9 2.6 14.9 1.2 15 .2 14.9 0 14.9 1.2 14.9 3.3 15 3.6 14.9 .1 14.9 2.8 14.9 3.8 15 4.9 14.9 6.4"/>
<path stroke-width="1.0" stroke-opacity="0.73" d="M1000.6 1872.0l14.9-4.3 14.9-4.6 14.9-3.9 14.9-3.2 15-3.1 14.9-2.9 14.9-1.8 14.9 1 15 1.5 14.9-2.4 14.9-8 14.9-12.2 15-15.2 14.9-20.4"/>
<path stroke-width="1.0" stroke-opacity="0.62" d="M1000.6 1875.4l14.9-2.1 14.9-2.2 14.9-1.6 14.9-1.7 15-1.4 14.9-.7 14.9 1.5 14.9 2.9 15 2.5 14.9 .6 14.9 6.7 14.9 8.8 15 11.8 14.9 16.5"/>
<path stroke-width="1.0" stroke-opacity="0.53" d="M1000.6 1803.9l14.9 10.4 14.9 10 14.9 9.5 14.9 6.4 15 4.4 14.9 2.6 14.9 1.9 14.9 3.7 15 5.2 14.9 1.4 14.9 2.5 14.9 5.5 15 8.8 14.9 12.7"/>
<path stroke-width="1.0" stroke-opacity="0.50" d="M1000.6 1887.6l14.9-5.9 14.9-5.3 14.9-4.5 14.9-3.9 15-3.1 14.9-2.2 14.9-.7 14.9 1.3 15 2.2 14.9-1.1 14.9 .7 14.9 1.9 15 3.5 14.9 5.8"/>
<path stroke-width="1.0" stroke-opacity="0.52" d="M1000.6 1841.3l14.9-.3 14.9 .5 14.9 1.7 14.9 .8 15 .1 14.9-.1 14.9 .5 14.9 3 15 3.4 14.9-.3 14.9-4.9 14.9-6.6 15-5.9 14.9-5.8"/>
<path stroke-width="1.0" stroke-opacity="0.70" d="M1000.6 1832.0l14.9 2.5 14.9 2.2 14.9 2.8 14.9 1.7 15 1.2 14.9 .7 14.9 .6 14.9 2.5 15 2.4 14.9-1.1 14.9-5.7 14.9-7.9 15-8.6 14.9-11.1"/>
<path stroke-width="1.0" stroke-opacity="0.54" d="M1000.6 1906.0l14.9-10.5 14.9-8.7 14.9-7.8 14.9-7.1 15-5.6 14.9-4.5 14.9-3.2 14.9-1 15 1.5 14.9-2.6 14.9-4.8 14.9-6.1 15-7.1 14.9-9.2"/>
<path stroke-width="1.0" stroke-opacity="0.46" d="M1000.6 1909.9l14.9-9.5 14.9-8.3 14.9-7.9 14.9-7.8 15-6.2 14.9-4.9 14.9-3.3 14.9-1.7 15 .3 14.9-3.3 14.9-4.9 14.9-6.8 15-8.9 14.9-12.9"/>
<path stroke-width="1.0" stroke-opacity="0.71" d="M1000.6 1803.9l14.9 8.8 14.9 8.1 14.9 8 14.9 5.6 15 4.3 14.9 3.1 14.9 2.3 14.9 3.6 15 3.4 14.9-.4 14.9-4.5 14.9-5.8 15-5.5 14.9-6.2"/>
<path stroke-width="1.0" stroke-opacity="0.84" d="M1000.6 1917.5l14.9-13.6 14.9-10.9 14.9-9.7 14.9-8.6 15-6.6 14.9-5.1 14.9-3.7 14.9-1.5 15 1.4 14.9-2.8 14.9-5.5 14.9-7.3 15-8.7 14.9-11.2"/>
<path stroke-width="1.0" stroke-opacity="0.60" d="M1000.6 1846.2l14.9 3.6 14.9 1.8 14.9 1.3 14.9 .4 15-.2 14.9-.6 14.9 0 14.9 2.6 15 4.2 14.9-.6 14.9-2.4 14.9-2.7 15-2.7 14.9-3.3"/>
<path stroke-width="1.0" stroke-opacity="0.84" d="M1000.6 1909.7l14.9-8.9 14.9-7.5 14.9-7 14.9-6.7 15-4.5 14.9-2.6 14.9 .1 14.9 .7 15 .3 14.9-1.5 14.9 2.6 14.9 3 15 4.1 14.9 6.2"/>
<path stroke-width="1.0" stroke-opacity="0.71" d="M1000.6 1862.3l14.9-.2 14.9-1.5 14.9-1.4 14.9-1.3 15-1.3 14.9-1.1 14.9 0 14.9 2.7 15 4.1 14.9-.4 14.9-.7 14.9-.1 15 .9 14.9 2"/>
<path stroke-width="1.0" stroke-opacity="0.80" d="M1000.6 1839.4l14.9 4.6 14.9 3.2 14.9 2.7 14.9 1.6 15 .8 14.9 0 14.9 .3 14.9 2.8 15 4.7 14.9 0 14.9-.4 14.9 .3 15 1.5 14.9 2.5"/>
<path stroke-width="1.0" stroke-opacity="0.61" d="M1000.6 1902.2l14.9-7.4 14.9-6 14.9-5.2 14.9-5.2 15-3.8 14.9-2.2 14.9 .1 14.9 .7 15 .1 14.9-1.4 14.9 3.9 14.9 5 15 6.6 14.9 9.2"/>
<path stroke-width="1.0" stroke-opacity="0.66" d="M1000.6 1905.6l14.9-6.8 14.9-5.9 14.9-5.9 14.9-6.3 15-4.8 14.9-3.3 14.9-1.1 14.9-.7 15-.7 14.9-2.9 14.9-1.2 14.9-2.6 15-3.8 14.9-5.5"/>
<path stroke-width="1.0" stroke-opacity="0.45" d="M1000.6 1910.4l14.9-10.2 14.9-8.6 14.9-8.3 14.9-8 15-6.1 14.9-4.2 14.9-2 14.9-.3 15 1.3 14.9-2.8 14.9-4.4 14.9-4.9 15-5.3 14.9-6.4"/>
<path stroke-width="1.0" stroke-opacity="0.57" d="M1000.6 1840.9l14.9-1.1 14.9-.2 14.9 1.4 14.9 .4 15 0 14.9-.1 14.9 .3 14.9 2.8 15 2.6 14.9-.8 14.9-6.8 14.9-9.9 15-10.6 14.9-12.2"/>
<path stroke-width="1.0" stroke-opacity="0.74" d="M1000.6 1885.8l14.9-2.7 14.9-2.8 14.9-2.2 14.9-2.4 15-1.7 14.9-.7 14.9 1.6 14.9 1.6 15 .1 14.9-.7 14.9 6.8 14.9 8.6 15 10.6 14.9 13.9"/>
<path stroke-width="1.0" stroke-opacity="0.60" d="M1000.6 1875.5l14.9-3.8 14.9-4.1 14.9-3.5 14.9-3.2 15-3 14.9-2.6 14.9-1.5 14.9 1.9 15 3.8 14.9-1.2 14.9-3 14.9-3.4 15-3.1 14.9-3.1"/>
<path stroke-width="1.0" stroke-opacity="0.66" d="M1000.6 1879.5l14.9-3.9 14.9-4.2 14.9-3.9 14.9-3.4 15-2.6 14.9-1.8 14.9 .1 14.9 2.3 15 3.4 14.9-.4 14.9 1 14.9 1.6 15 3.1 14.9 5.3"/>
<path stroke-width="1.0" stroke-opacity="0.53" d="M1000.6 1889.8l14.9-6.9 14.9-6.3 14.9-5.5 14.9-4.8 15-3.5 14.9-2.5 14.9-.9 14.9 1.2 15 2.6 14.9-1.5 14.9-1.4 14.9-.5 15 .9 14.9 2.2"/>
<path stroke-width="1.0" stroke-opacity="0.43" d="M1000.6 1817.7l14.9 3.6 14.9 4 14.9 5.1 14.9 3.5 15 3 14.9 2.2 14.9 1.8 14.9 3.2 15 2.4 14.9-.7 14.9-6 14.9-7.9 15-7.8 14.9-8.9"/>
<path stroke-width="1.0" stroke-opacity="0.63" d="M1000.6 1906.1l14.9-7.1 14.9-6.1 14.9-6 14.9-6.2 15-4.8 14.9-3.2 14.9-1.1 14.9-.8 15-.7 14.9-2.9 14.9-.9 14.9-2.1 15-3.1 14.9-4.7"/>
<path stroke-width="1.0" stroke-opacity="0.70" d="M1000.6 1822.3l14.9 10.6 14.9 8.3 14.9 6.8 14.9 4.3 15 2.6 14.9 1.5 14.9 2.9 14.9 5 15 4.6 14.9 1 14.9 5.4 14.9 7.5 15 10 14.9 13.4"/>
<path stroke-width="1.0" stroke-opacity="0.85" d="M1000.6 1819.7l14.9 4.6 14.9 4.7 14.9 5.2 14.9 3.3 15 2.4 14.9 1.6 14.9 1.3 14.9 3.1 15 3.2 14.9-.3 14.9-4.5 14.9-6.1 15-6 14.9-6.7"/>
<path stroke-width="1.0" stroke-opacity="0.51" d="M1000.6 1819.1l14.9 5.9 14.9 5.4 14.9 5.4 14.9 3.3 15 2.2 14.9 1.3 14.9 1 14.9 2.7 15 2.9 14.9-.6 14.9-4.6 14.9-6.1 15-6.5 14.9-8.2"/>
<path stroke-width="1.0" stroke-opacity="0.58" d="M1000.6 1833.6l14.9-.4 14.9 .4 14.9 2 14.9 1.5 15 1.4 14.9 1 14.9 1 14.9 2.6 15 1.8 14.9-1 14.9-6.8 14.9-9.5 15-10 14.9-12"/>
<path stroke-width="1.0" stroke-opacity="0.65" d="M1000.6 1831.1l14.9 3.2 14.9 2.8 14.9 3.2 14.9 2.1 15 1.5 14.9 .8 14.9 .6 14.9 2.5 15 2.4 14.9-1.3 14.9-5.6 14.9-7.7 15-8.5 14.9-10.7"/>
<path stroke-width="1.0" stroke-opacity="0.46" d="M1000.6 1911.4l14.9-10.9 14.9-8.9 14.9-8.2 14.9-7.7 15-6.1 14.9-4.7 14.9-3 14.9-1.1 15 .8 14.9-2.8 14.9-3.7 14.9-4 15-4.5 14.9-6"/>
<path stroke-width="1.0" stroke-opacity="0.59" d="M1000.6 1876.3l14.9-2.4 14.9-3.2 14.9-3.2 14.9-2.9 15-2.3 14.9-1.4 14.9 .2 14.9 2.2 15 2.8 14.9-.9 14.9 0 14.9 .2 15 1.1 14.9 2.3"/>
<path stroke-width="1.0" stroke-opacity="0.74" d="M1000.6 1819.2l14.9 7.2 14.9 6.4 14.9 6.2 14.9 4.3 15 2.9 14.9 1.7 14.9 1.3 14.9 3.1 15 3.8 14.9-.6 14.9-2.8 14.9-2.8 15-1.6 14.9-1.1"/>
<path stroke-width="1.0" stroke-opacity="0.58" d="M1000.6 1827.9l14.9 5.5 14.9 4.7 14.9 4.6 14.9 3.2 15 2.1 14.9 1.1 14.9 1 14.9 2.9 15 4 14.9-.4 14.9-2.5 14.9-2.3 15-1.3 14.9-.6"/>
<path stroke-width="1.0" stroke-opacity="0.84" d="M1000.6 1856.7l14.9 .7 14.9-.4 14.9-.4 14.9-.7 15-1.2 14.9-1.5 14.9-.8 14.9 1.8 15 3.5 14.9-.9 14.9-2.7 14.9-2.9 15-2.8 14.9-3.7"/>
<path stroke-width="1.0" stroke-opacity="0.59" d="M1000.6 1871.8l14.9 .8 14.9-.4 14.9-.4 14.9-.9 15-.7 14.9 .1 14.9 2.3 14.9 2.8 15 1.2 14.9-.1 14.9 7.4 14.9 9.1 15 11.1 14.9 14.8"/>
<path stroke-width="1.0" stroke-opacity="0.45" d="M1000.6 1906.2l14.9-9.2 14.9-7.3 14.9-6.3 14.9-5.9 15-4.1 14.9-2.7 14.9-.6 14.9 .2 15 .3 14.9-1.8 14.9 1.8 14.9 2.7 15 4.2 14.9 6.2"/>
<path stroke-width="1.0" stroke-opacity="0.83" d="M1000.6 1891.0l14.9-5.2 14.9-4.5 14.9-3.2 14.9-3 15-2.4 14.9-1.8 14.9 .1 14.9 1 15 1 14.9 .1 14.9 6 14.9 7 15 8.3 14.9 11.8"/>
<path stroke-width="1.0" stroke-opacity="0.60" d="M1000.6 1872.1l14.9-3.8 14.9-4.2 14.9-3.2 14.9-2.5 15-2.3 14.9-2 14.9-1 14.9 1.7 15 3.5 14.9-1 14.9-2.5 14.9-2.1 15-1.2 14.9-.6"/>
<path stroke-width="1.0" stroke-opacity="0.41" d="M1000.6 1846.7l14.9-.6 14.9-.5 14.9 .8 14.9 .6 15 .6 14.9 .3 14.9 .5 14.9 2.7 15 3.6 14.9-.5 14.9-2.8 14.9-2.4 15-.8 14.9 .7"/>
<path stroke-width="1.0" stroke-opacity="0.59" d="M1000.6 1807.5l14.9 6.3 14.9 6.8 14.9 7.5 14.9 5.6 15 4.6 14.9 3.5 14.9 2.8 14.9 4.3 15 4.7 14.9 .9 14.9-1.2 14.9 0 15 3.7 14.9 7.9"/>
<path stroke-width="1.0" stroke-opacity="0.59" d="M1000.6 1905.1l14.9-10.5 14.9-8.8 14.9-7.8 14.9-7.2 15-5.6 14.9-4.6 14.9-3.4 14.9-1 15 2.1 14.9-2.8 14.9-5.4 14.9-7.4 15-8.8 14.9-11.7"/>
<path stroke-width="1.0" stroke-opacity="0.62" d="M1000.6 1853.7l14.9 4 14.9 2.1 14.9 1.2 14.9 .2 15-.4 14.9-.1 14.9 1.6 14.9 3.6 15 3.5 14.9 .6 14.9 4.5 14.9 5.6 15 7.3 14.9 10.2"/>
<path stroke-width="1.0" stroke-opacity="0.77" d="M1000.6 1878.8l14.9-2.2 14.9-2.5 14.9-2 14.9-2.1 15-1.5 14.9-.6 14.9 1.6 14.9 2.6 15 1.9 14.9 .1 14.9 6.5 14.9 8.7 15 11.3 14.9 15.6"/>
<path stroke-width="1.0" stroke-opacity="0.44" d="M1000.6 1909.2l14.9-9 14.9-7.4 14.9-6.9 14.9-7 15-5.7 14.9-4.4 14.9-2.9 14.9-1.6 15-.3 14.9-3.2 14.9-4.3 14.9-5.4 15-7.3 14.9-10.8"/>
<path stroke-width="1.0" stroke-opacity="0.45" d="M1000.6 1854.7l14.9 2 14.9 .6 14.9 .3 14.9-.1 15-.5 14.9-.4 14.9 .7 14.9 3.1 15 4 14.9-.1 14.9 1.3 14.9 2.3 15 3.8 14.9 5.6"/>
<path stroke-width="1.0" stroke-opacity="0.72" d="M1000.6 1842.7l14.9-1.3 14.9-1 14.9 .3 14.9 .4 15 .5 14.9 .4 14.9 .6 14.9 2.4 15 1.9 14.9-1.4 14.9-7.1 14.9-10.2 15-11.3 14.9-14.4"/>
<path stroke-width="1.0" stroke-opacity="0.64" d="M1000.6 1897.5l14.9-10.3 14.9-9 14.9-7.8 14.9-6.5 15-5.1 14.9-4.3 14.9-2.4 14.9 .4 15 1 14.9-3.3 14.9-8.3 14.9-11.9 15-14.4 14.9-19.2"/>
<path stroke-width="1.0" stroke-opacity="0.56" d="M1000.6 1852.0l14.9 .1 14.9-.6 14.9 .3 14.9 .3 15 .2 14.9-.4 14.9-.1 14.9 1.9 15 3.2 14.9-1.1 14.9-3 14.9-2.5 15-1.8 14.9-1.7"/>
<path stroke-width="1.0" stroke-opacity="0.71" d="M1000.6 1832.5l14.9 2.2 14.9 1.7 14.9 2.1 14.9 1.3 15 1.5 14.9 1.4 14.9 1.5 14.9 3.1 15 2.1 14.9-1.8 14.9-6.9 14.9-8.7 15-8.7 14.9-10.8"/>
<path stroke-width="1.0" stroke-opacity="0.56" d="M1000.6 1824.2l14.9 .5 14.9 1.6 14.9 3.4 14.9 2.7 15 2.6 14.9 2 14.9 1.6 14.9 2.9 15 1.5 14.9-1.1 14.9-7.4 14.9-10.2 15-10.4 14.9-12.3"/>
<path stroke-width="1.0" stroke-opacity="0.67" d="M1000.6 1915.5l14.9-7.9 14.9-6.8 14.9-6.8 14.9-7.3 15-5.1 14.9-3.1 14.9-.6 14.9-1.2 15-2.2 14.9-3.4 14.9-.1 14.9-1.3 15-2.5 14.9-4.2"/>
<path stroke-width="1.0" stroke-opacity="0.68" d="M1000.6 1862.2l14.9-3.5 14.9-3.4 14.9-2.1 14.9-1.3 15-1.1 14.9-.9 14.9-.2 14.9 2.3 15 3.6 14.9-.7 14.9-2.7 14.9-2.5 15-1.4 14.9-.2"/>
<path stroke-width="1.0" stroke-opacity="0.59" d="M1000.6 1877.1l14.9-3.7 14.9-3.6 14.9-3.1 14.9-3.2 15-3.1 14.9-2.6 14.9-1.2 14.9 1.8 15 3.7 14.9-.6 14.9-1.2 14.9-1.3 15-.6 14.9 .4"/>
<path stroke-width="1.0" stroke-opacity="0.78" d="M1000.6 1898.2l14.9-6.7 14.9-6 14.9-5.8 14.9-6 15-4.9 14.9-4 14.9-2.2 14.9-.6 15 1 14.9-2.3 14.9-3.1 14.9-4.1 15-5 14.9-7.3"/>
<path stroke-width="1.0" stroke-opacity="0.75" d="M1000.6 1826.9l14.9 1.1 14.9 2 14.9 3.7 14.9 3 15 2.7 14.9 1.9 14.9 1.4 14.9 2.8 15 2.2 14.9-1.1 14.9-5.6 14.9-6.8 15-6 14.9-6.1"/>
<path stroke-width="1.0" stroke-opacity="0.40" d="M1000.6 1910.9l14.9-12.8 14.9-10.7 14.9-9.5 14.9-8.5 15-6.8 14.9-6 14.9-4 14.9-.3 15 .8 14.9-3.6 14.9-8.2 14.9-12.2 15-15.1 14.9-20.6"/>
<path stroke-width="1.0" stroke-opacity="0.45" d="M1000.6 1858.8l14.9 2.6 14.9 .8 14.9 .3 14.9-.2 15-.8 14.9-1 14.9 .1 14.9 2 15 2.8 14.9-.6 14.9 1 14.9 1.2 15 1.3 14.9 1.5"/>
<path stroke-width="1.0" stroke-opacity="0.60" d="M1000.6 1803.9l14.9 7 14.9 7 14.9 7.6 14.9 5.9 15 4.9 14.9 3.7 14.9 2.7 14.9 3.6 15 2.9 14.9-.7 14.9-4.9 14.9-5.4 15-4 14.9-3.7"/>
<path stroke-width="1.0" stroke-opacity="0.64" d="M1000.6 1827.4l14.9 6.1 14.9 5 14.9 4.7 14.9 3.1 15 2 14.9 1.1 14.9 .9 14.9 2.9 15 4 14.9-.6 14.9-2.8 14.9-2.9 15-2.4 14.9-2.4"/>
<path stroke-width="1.0" stroke-opacity="0.40" d="M1000.6 1826.3l14.9 3.1 14.9 3.3 14.9 4.1 14.9 3.1 15 2.3 14.9 1.4 14.9 1.1 14.9 2.7 15 3 14.9-.5 14.9-4.2 14.9-5.1 15-4.7 14.9-5"/>
<path stroke-width="1.0" stroke-opacity="0.75" d="M1000.6 1896.3l14.9-6 14.9-5.5 14.9-5.1 14.9-5.2 15-4 14.9-2.9 14.9-1.1 14.9 0 15 .6 14.9-2.2 14.9-1.3 14.9-2 15-2.4 14.9-3.2"/>
<path stroke-width="1.0" stroke-opacity="0.58" d="M1000.6 1809.8l14.9 8.9 14.9 8.4 14.9 8.3 14.9 6 15 4.3 14.9 2.5 14.9 1.7 14.9 3.4 15 5.2 14.9 1.3 14.9 2.3 14.9 4.8 15 7.7 14.9 11.2"/>
<path stroke-width="1.0" stroke-opacity="0.84" d="M1000.6 1916.8l14.9-14 14.9-11.2 14.9-10 14.9-9.1 15-7.3 14.9-6.2 14.9-5.1 14.9-.4 15 1.2 14.9-3.1 14.9-6.8 14.9-9.8 15-12.1 14.9-16.4"/>
<path stroke-width="1.0" stroke-opacity="0.66" d="M1000.6 1899.9l14.9-5.9 14.9-5.3 14.9-5 14.9-5.5 15-4.1 14.9-2.8 14.9-.7 14.9-.1 15-.1 14.9-2.2 14.9 .3 14.9-.4 15-.8 14.9-1.5"/>
<path stroke-width="1.0" stroke-opacity="0.83" d="M1000.6 1815.9l14.9 5.9 14.9 6.1 14.9 6.6 14.9 4.4 15 3.2 14.9 1.8 14.9 1.2 14.9 3.1 15 3.7 14.9 .2 14.9-2.3 14.9-2.1 15-.8 14.9 .3"/>
<path stroke-width="1.0" stroke-opacity="0.45" d="M1000.6 1918.6l14.9-10.3 14.9-7.8 14.9-6.9 14.9-7.2 15-5.4 14.9-3.6 14.9-1.1 14.9-1 15-1.4 14.9-2 14.9 3.2 14.9 3.1 15 3.3 14.9 4"/>
<path stroke-width="1.0" stroke-opacity="0.69" d="M1000.6 1905.3l14.9-8.7 14.9-7.1 14.9-6.3 14.9-6.1 15-4.6 14.9-3.3 14.9-1.4 14.9-.5 15 .2 14.9-2.5 14.9-.9 14.9-1 15-.7 14.9-.8"/>
<path stroke-width="1.0" stroke-opacity="0.67" d="M1000.6 1858.3l14.9 2.4 14.9 .7 14.9 .1 14.9 .1 15 0 14.9 .5 14.9 2.4 14.9 3.9 15 3.3 14.9 .4 14.9 5.7 14.9 7.9 15 10.9 14.9 15.2"/>
<path stroke-width="1.0" stroke-opacity="0.56" d="M1000.6 1847.1l14.9 4.4 14.9 2.8 14.9 2.4 14.9 1.4 15 .6 14.9 .5 14.9 1.6 14.9 3.6 15 3.7 14.9 .5 14.9 4.4 14.9 6.4 15 8.6 14.9 11.8"/>
<path stroke-width="1.0" stroke-opacity="0.64" d="M1000.6 1847.5l14.9 3.5 14.9 1.9 14.9 1.4 14.9 .7 15-.2 14.9-.7 14.9-.2 14.9 2.2 15 4.1 14.9-.9 14.9-2.2 14.9-2.1 15-1.8 14.9-2.1"/>
<path stroke-width="1.0" stroke-opacity="0.72" d="M1000.6 1899.4l14.9-4 14.9-3.7 14.9-3.9 14.9-4.5 15-3.1 14.9-1.3 14.9 1.8 14.9 1 15-1.1 14.9-1.1 14.9 7 14.9 7.4 15 8.3 14.9 10.4"/>
<path stroke-width="1.0" stroke-opacity="0.85" d="M1000.6 1873.3l14.9-4.5 14.9-4.8 14.9-3.6 14.9-2.4 15-1.8 14.9-1.6 14.9-.9 14.9 1.7 15 3.4 14.9-1.2 14.9-2.2 14.9-1.4 15 .2 14.9 1.4"/>
<path stroke-width="1.0" stroke-opacity="0.57" d="M1000.6 1868.2l14.9-1.5 14.9-2.7 14.9-2.4 14.9-1.9 15-1.7 14.9-1.6 14.9-.5 14.9 1.9 15 3.4 14.9-1.3 14.9-2.9 14.9-3.1 15-3 14.9-3.4"/>
<path stroke-width="1.0" stroke-opacity="0.42" d="M1000.6 1828.7l14.9 6.1 14.9 5.1 14.9 5.1 14.9 3.5 15 2.5 14.9 1.3 14.9 1.3 14.9 4 15 5.7 14.9 1 14.9 3 14.9 5.7 15 8.9 14.9 12.9"/>
<path stroke-width="1.0" stroke-opacity="0.63" d="M1000.6 1803.8l14.9 12 14.9 10.6 14.9 9.4 14.9 6.6 15 4.7 14.9 3.1 14.9 2.4 14.9 4.4 15 6.6 14.9 1.5 14.9 3.9 14.9 6.9 15 10.2 14.9 14.6"/>
<path stroke-width="1.0" stroke-opacity="0.59" d="M1000.6 1913.4l14.9-11.5 14.9-9.3 14.9-8.2 14.9-7.7 15-5.9 14.9-4.5 14.9-2.8 14.9-1.3 15 .5 14.9-2.9 14.9-3.9 14.9-4.2 15-4.8 14.9-6.5"/>
<path stroke-width="1.0" stroke-opacity="0.64" d="M1000.6 1862.0l14.9-1.2 14.9-2 14.9-1.6 14.9-1.7 15-1.9 14.9-2.1 14.9-1.2 14.9 1.4 15 2.7 14.9-1.6 14.9-5.1 14.9-7.6 15-9.2 14.9-12.4"/>
<path stroke-width="1.0" stroke-opacity="0.72" d="M1000.6 1881.9l14.9-4 14.9-3.8 14.9-3.4 14.9-3 15-2.4 14.9-1.4 14.9 .5 14.9 2.2 15 2.4 14.9-.1 14.9 3.7 14.9 5.4 15 7.6 14.9 10.8"/>
<path stroke-width="1.0" stroke-opacity="0.79" d="M1000.6 1884.2l14.9-8.1 14.9-7.6 14.9-6.3 14.9-4.8 15-3.5 14.9-2.7 14.9-1.3 14.9 1.3 15 1.9 14.9-2.2 14.9-6.6 14.9-9.4 15-10.8 14.9-13.9"/>
<path stroke-width="1.0" stroke-opacity="0.57" d="M1000.6 1852.6l14.9 2.7 14.9 1.4 14.9 1.2 14.9 .7 15 .2 14.9 .4 14.9 2 14.9 4.2 15 4.2 14.9 1 14.9 6 14.9 8.5 15 11.7 14.9 16.7"/>
<path stroke-width="1.0" stroke-opacity="0.83" d="M1000.6 1847.4l14.9-1.2 14.9-1.2 14.9 0 14.9-.1 15-.1 14.9-.3 14.9-.2 14.9 1.7 15 1.3 14.9-2.2 14.9-7.7 14.9-11 15-12.7 14.9-16.5"/>
<path stroke-width="1.0" stroke-opacity="0.83" d="M1000.6 1899.1l14.9-5 14.9-4.3 14.9-4.4 14.9-4.9 15-3.4 14.9-1.5 14.9 1.7 14.9 1.6 15 0 14.9-.7 14.9 6.6 14.9 7.7 15 9.7 14.9 13.3"/>
<path stroke-width="1.0" stroke-opacity="0.50" d="M1000.6 1859.4l14.9 .8 14.9-1 14.9-1.2 14.9-1 15-1 14.9-1 14.9-.3 14.9 2.1 15 3.6 14.9-1.7 14.9-3.5 14.9-3.9 15-3.7 14.9-4.6"/>
<path stroke-width="1.0" stroke-opacity="0.43" d="M1000.6 1913.4l14.9-5.9 14.9-4.5 14.9-4.5 14.9-5.9 15-4.4 14.9-2.2 14.9 1.1 14.9-.2 15-2.8 14.9-1.4 14.9 8.5 14.9 8.7 15 8.9 14.9 10.8"/>
<path stroke-width="1.0" stroke-opacity="0.48" d="M1000.6 1876.0l14.9 .3 14.9-.8 14.9-.9 14.9-1.5 15-1.2 14.9-.3 14.9 2 14.9 2.1 15 .6 14.9-.8 14.9 5.8 14.9 6.8 15 8.1 14.9 10.3"/>
<path stroke-width="1.0" stroke-opacity="0.79" d="M1000.6 1863.5l14.9-3.8 14.9-3.8 14.9-2.2 14.9-1 15-.7 14.9-.7 14.9-.4 14.9 1.9 15 3 14.9-.9 14.9-2.8 14.9-2.2 15-1 14.9-.1"/>
<path stroke-width="1.0" stroke-opacity="0.74" d="M1000.6 1888.9l14.9-6.7 14.9-6 14.9-5.1 14.9-4.3 15-3.3 14.9-2.6 14.9-1.3 14.9 .8 15 2.3 14.9-1.8 14.9-2.6 14.9-2.5 15-1.9 14.9-1.5"/>
<path stroke-width="1.0" stroke-opacity="0.65" d="M1000.6 1885.2l14.9-9.6 14.9-8.5 14.9-7.1 14.9-5.5 15-4 14.9-2.9 14.9-1.4 14.9 1.2 15 1.1 14.9-2.5 14.9-8.4 14.9-11.7 15-13.1 14.9-16.5"/>
<path stroke-width="1.0" stroke-opacity="0.57" d="M1000.6 1849.4l14.9 1.7 14.9 .8 14.9 .8 14.9 .2 15-.4 14.9-.9 14.9-.4 14.9 2.2 15 3.9 14.9-.5 14.9-1.9 14.9-1.5 15-.8 14.9-.4"/>
<path stroke-width="1.0" stroke-opacity="0.73" d="M1000.6 1866.8l14.9 2.1 14.9 .6 14.9 .4 14.9-.1 15-.4 14.9 .2 14.9 2 14.9 2.4 15 1.1 14.9-.6 14.9 5.9 14.9 7.4 15 9.1 14.9 11.8"/>
<path stroke-width="1.0" stroke-opacity="0.63" d="M1000.6 1877.5l14.9-3.5 14.9-3.5 14.9-3 14.9-2.8 15-2.7 14.9-2.2 14.9-.7 14.9 1.6 15 3 14.9-.8 14.9-.4 14.9-.3 15 .5 14.9 1.6"/>
<path stroke-width="1.0" stroke-opacity="0.70" d="M1000.6 1835.9l14.9 1.9 14.9 1.5 14.9 2 14.9 1.3 15 1 14.9 .7 14.9 .7 14.9 2.3 15 2.1 14.9-1.6 14.9-6.6 14.9-9 15-9.9 14.9-12.8"/>
<path stroke-width="1.0" stroke-opacity="0.76" d="M1000.6 1891.1l14.9-5.1 14.9-4.4 14.9-3.9 14.9-4.4 15-4.1 14.9-3.5 14.9-1.7 14.9 .2 15 1.6 14.9-1.4 14.9-1.1 14.9-2.5 15-3.3 14.9-4"/>
<path stroke-width="1.0" stroke-opacity="0.47" d="M1000.6 1892.3l14.9-4.5 14.9-4.5 14.9-4.5 14.9-5 15-4.2 14.9-3.1 14.9-1.1 14.9 .3 15 1 14.9-1.7 14.9-.6 14.9-1.6 15-2.4 14.9-3.6"/>
<path stroke-width="1.0" stroke-opacity="0.47" d="M1000.6 1828.7l14.9 2.9 14.9 2.7 14.9 3.4 14.9 2.3 15 1.7 14.9 .9 14.9 .6 14.9 2.2 15 1.5 14.9-1.8 14.9-7.2 14.9-10.1 15-11.6 14.9-15.1"/>
<path stroke-width="1.0" stroke-opacity="0.64" d="M1000.6 1869.3l14.9 1.8 14.9 .3 14.9 .1 14.9-.6 15-.5 14.9 .2 14.9 2.4 14.9 2.6 15 1.1 14.9-.3 14.9 6.8 14.9 8.2 15 9.9 14.9 12.8"/>
<path stroke-width="1.0" stroke-opacity="0.64" d="M1000.6 1850.8l14.9 1.7 14.9 .7 14.9 .9 14.9 .5 15 .1 14.9-.5 14.9 .1 14.9 3 15 4.6 14.9-.2 14.9 .2 14.9 1.6 15 3.2 14.9 5.3"/>
<path stroke-width="1.0" stroke-opacity="0.62" d="M1000.6 1862.1l14.9 1.9 14.9-.2 14.9-.7 14.9-1.1 15-1.3 14.9-1 14.9 .5 14.9 2.4 15 2.9 14.9-1.2 14.9-.5 14.9-.3 15 .2 14.9 .4"/>
<path stroke-width="1.0" stroke-opacity="0.84" d="M1000.6 1866.5l14.9-3.2 14.9-3.9 14.9-3 14.9-2.3 15-2.1 14.9-1.8 14.9-1 14.9 1.4 15 2.1 14.9-2 14.9-6.1 14.9-8.6 15-10.2 14.9-13.7"/>
<path stroke-width="1.0" stroke-opacity="0.72" d="M1000.6 1867.8l14.9-2 14.9-2.8 14.9-2.3 14.9-2 15-2.2 14.9-2.3 14.9-1.5 14.9 1.1 15 2.6 14.9-1.8 14.9-4.2 14.9-4.8 15-5.4 14.9-7.2"/>
<path stroke-width="1.0" stroke-opacity="0.62" d="M1000.6 1881.4l14.9-3.6 14.9-3.9 14.9-3.6 14.9-3.5 15-2.9 14.9-2.3 14.9-.6 14.9 1.2 15 2.3 14.9-1.2 14.9-.5 14.9-.6 15-.3 14.9-.1"/>
<path stroke-width="1.0" stroke-opacity="0.44" d="M1000.6 1859.0l14.9 1.3 14.9 0 14.9-.1 14.9 0 15-.1 14.9 .1 14.9 1.6 14.9 3.4 15 3.5 14.9 .2 14.9 4.3 14.9 6.5 15 9.1 14.9 12.9"/>
<path stroke-width="1.0" stroke-opacity="0.69" d="M1000.6 1908.3l14.9-9.8 14.9-8.1 14.9-7.1 14.9-6.6 15-4.8 14.9-3.2 14.9-1 14.9 .2 15 .7 14.9-1.8 14.9 .5 14.9 .6 15 1.4 14.9 2.6"/>
<path stroke-width="1.0" stroke-opacity="0.60" d="M1000.6 1814.0l14.9 11.7 14.9 9.7 14.9 8.1 14.9 5.2 15 3.4 14.9 1.7 14.9 2.4 14.9 5.3 15 5.3 14.9 1.2 14.9 4.7 14.9 6.8 15 9.4 14.9 12.7"/>
<path stroke-width="1.0" stroke-opacity="0.53" d="M1000.6 1899.2l14.9-4.1 14.9-3.8 14.9-4 14.9-5 15-3.9 14.9-2.4 14.9 .3 14.9 .3 15-.8 14.9-1.6 14.9 3.8 14.9 3.3 15 3 14.9 3.2"/>
<path stroke-width="1.0" stroke-opacity="0.46" d="M1000.6 1883.5l14.9-5.7 14.9-5.2 14.9-4.5 14.9-4.2 15-4 14.9-3.6 14.9-2.5 14.9 1 15 3.4 14.9-1.1 14.9-3.1 14.9-4.2 15-4.6 14.9-5.6"/>
<path stroke-width="1.0" stroke-opacity="0.79" d="M1000.6 1843.4l14.9-1.2 14.9-.9 14.9 .7 14.9 .9 15 .9 14.9 .5 14.9 .6 14.9 2.2 15 2.1 14.9-1.4 14.9-5.7 14.9-7.3 15-7.1 14.9-8.5"/>
<path stroke-width="1.0" stroke-opacity="0.61" d="M1000.6 1868.4l14.9-1.4 14.9-2.2 14.9-1.5 14.9-.9 15-.6 14.9-.2 14.9 1.4 14.9 3.2 15 3.1 14.9 0 14.9 4.2 14.9 6.6 15 9.5 14.9 13.8"/>
<path stroke-width="1.0" stroke-opacity="0.50" d="M1000.6 1852.7l14.9-.9 14.9-1.1 14.9 0 14.9 .2 15 .1 14.9-.1 14.9 .2 14.9 2.6 15 3.7 14.9-.8 14.9-2.7 14.9-2.5 15-1.2 14.9-.1"/>
<path stroke-width="1.0" stroke-opacity="0.65" d="M1000.6 1821.1l14.9 5.2 14.9 4.9 14.9 5.1 14.9 3.1 15 2 14.9 1.1 14.9 1 14.9 2.8 15 2.9 14.9-.5 14.9-5 14.9-7.1 15-7.8 14.9-9.6"/>
<path stroke-width="1.0" stroke-opacity="0.50" d="M1000.6 1880.7l14.9-4.4 14.9-4.6 14.9-4.1 14.9-3.8 15-3.6 14.9-3.3 14.9-2.4 14.9 .6 15 2.8 14.9-1.8 14.9-4 14.9-5.3 15-6.4 14.9-8.7"/>
<path stroke-width="1.0" stroke-opacity="0.81" d="M1000.6 1888.5l14.9-7.6 14.9-7 14.9-6 14.9-5.1 15-4.5 14.9-3.8 14.9-2.3 14.9 .3 15 1.1 14.9-3.4 14.9-7.9 14.9-11.3 15-13.7 14.9-18.6"/>
<path stroke-width="1.0" stroke-opacity="0.42" d="M1000.6 1862.8l14.9-3 14.9-3.2 14.9-2.5 14.9-2.3 15-1.7 14.9-1 14.9 .3 14.9 2.7 15 3.4 14.9-1.4 14.9-4.8 14.9-5.4 15-4.4 14.9-4.4"/>
<path stroke-width="1.0" stroke-opacity="0.53" d="M1000.6 1873.0l14.9-1.6 14.9-2.3 14.9-1.7 14.9-1.6 15-1.1 14.9-.3 14.9 1.5 14.9 2.9 15 2.6 14.9 0 14.9 5.4 14.9 7.6 15 10.4 14.9 14.5"/>
<path stroke-width="1.0" stroke-opacity="0.60" d="M1000.6 1878.7l14.9-2.1 14.9-2.8 14.9-2.7 14.9-2.5 15-1.5 14.9-.4 14.9 1.8 14.9 2.7 15 1.7 14.9-.7 14.9 4.7 14.9 6.6 15 9.2 14.9 12.8"/>
<path stroke-width="1.0" stroke-opacity="0.83" d="M1000.6 1899.0l14.9-8.5 14.9-7.3 14.9-6.3 14.9-5.6 15-4.3 14.9-3.3 14.9-1.8 14.9-.1 15 1.5 14.9-2.5 14.9-3.4 14.9-3.6 15-3.4 14.9-3.9"/>
<path stroke-width="1.0" stroke-opacity="0.76" d="M1000.6 1906.8l14.9-9.9 14.9-7.9 14.9-6.9 14.9-6.3 15-4.9 14.9-3.6 14.9-1.8 14.9-.5 15 .6 14.9-2.3 14.9-1.2 14.9-.8 15-.3 14.9 .1"/>
<path stroke-width="1.0" stroke-opacity="0.71" d="M1000.6 1878.4l14.9-1 14.9-1.7 14.9-1.5 14.9-2 15-1.7 14.9-1.2 14.9 .4 14.9 1 15 .4 14.9-1.9 14.9 1.8 14.9 2.1 15 2.3 14.9 2.6"/>
<path stroke-width="1.0" stroke-opacity="0.75" d="M1000.6 1826.6l14.9 2.9 14.9 3.1 14.9 4.2 14.9 3.3 15 2.7 14.9 1.9 14.9 1.8 14.9 3.5 15 4.1 14.9 .1 14.9-2.2 14.9-1.5 15 .8 14.9 3.8"/>
<path stroke-width="1.0" stroke-opacity="0.46" d="M1000.6 1836.4l14.9-.7 14.9-.2 14.9 1.4 14.9 1 15 1.2 14.9 1.1 14.9 1.1 14.9 2.8 15 2.4 14.9-.7 14.9-6.1 14.9-8.3 15-8.6 14.9-9.9"/>
<path stroke-width="1.0" stroke-opacity="0.58" d="M1000.6 1891.6l14.9-6 14.9-5.5 14.9-5.1 14.9-4.9 15-3.6 14.9-2.3 14.9-.3 14.9 1.5 15 2.1 14.9-1.2 14.9 .5 14.9 .9 15 2.1 14.9 3.7"/>
<path stroke-width="1.0" stroke-opacity="0.80" d="M1000.6 1862.1l14.9-3.3 14.9-3.5 14.9-1.9 14.9-1.1 15-.9 14.9-1.2 14.9-1 14.9 1.1 15 1.8 14.9-1.9 14.9-5.3 14.9-7 15-8.2 14.9-10.8"/>
<path stroke-width="1.0" stroke-opacity="0.65" d="M1000.6 1847.7l14.9-.5 14.9-.8 14.9 .3 14.9 .4 15 .5 14.9 .2 14.9 .4 14.9 2.3 15 2.7 14.9-1.4 14.9-4.5 14.9-5.1 15-4.7 14.9-5.3"/>
<path stroke-width="1.0" stroke-opacity="0.68" d="M1000.6 1892.2l14.9-5.4 14.9-4.8 14.9-4.4 14.9-4.3 15-3.3 14.9-2.2 14.9 0 14.9 1 15 1.1 14.9-1.2 14.9 2.4 14.9 3.4 15 4.6 14.9 6.5"/>
<path stroke-width="1.0" stroke-opacity="0.74" d="M1000.6 1828.1l14.9 4.3 14.9 3.6 14.9 3.9 14.9 2.6 15 1.8 14.9 1 14.9 .8 14.9 2.6 15 2.8 14.9-1.1 14.9-5.2 14.9-7 15-7.5 14.9-9.4"/>
<path stroke-width="1.0" stroke-opacity="0.56" d="M1000.6 1838.5l14.9 1 14.9 .7 14.9 1.5 14.9 1.1 15 .9 14.9 .6 14.9 .7 14.9 2.6 15 2.5 14.9-1.3 14.9-6.1 14.9-8.6 15-9.3 14.9-11.7"/>
<path stroke-width="1.0" stroke-opacity="0.46" d="M1000.6 1873.1l14.9-3.9 14.9-4.2 14.9-3.5 14.9-2.7 15-2.3 14.9-1.8 14.9-.7 14.9 2.3 15 4.3 14.9-.6 14.9-1.3 14.9-.3 15 1.6 14.9 3.7"/>
<path stroke-width="1.0" stroke-opacity="0.67" d="M1000.6 1884.6l14.9-3.4 14.9-3.2 14.9-2.7 14.9-2.7 15-2 14.9-.7 14.9 1.6 14.9 2.4 15 1.3 14.9 0 14.9 7.1 14.9 9.3 15 12.2 14.9 16.7"/>
<path stroke-width="1.0" stroke-opacity="0.63" d="M1000.6 1901.9l14.9-4.7 14.9-4.2 14.9-4.3 14.9-5 15-3.7 14.9-2 14.9 .8 14.9 .2 15-1.4 14.9-1.9 14.9 4.2 14.9 4.2 15 4.3 14.9 4.9"/>
<path stroke-width="1.0" stroke-opacity="0.49" d="M1000.6 1869.1l14.9-1.1 14.9-1.9 14.9-1.9 14.9-2 15-1.7 14.9-1.1 14.9 .7 14.9 2.9 15 3.4 14.9-.6 14.9 1.2 14.9 2.4 15 4.3 14.9 6.8"/>
<path stroke-width="1.0" stroke-opacity="0.44" d="M1000.6 1826.4l14.9 3.6 14.9 3.8 14.9 4.7 14.9 3.4 15 2.6 14.9 1.7 14.9 1.4 14.9 3.1 15 3.6 14.9-.2 14.9-2.7 14.9-2 15 .1 14.9 2.2"/>
<path stroke-width="1.0" stroke-opacity="0.80" d="M1000.6 1858.7l14.9-2.6 14.9-2.8 14.9-1.7 14.9-1.1 15-.8 14.9-.7 14.9 0 14.9 2.4 15 3.5 14.9-.7 14.9-3.4 14.9-4.1 15-3.6 14.9-3.6"/>
<path stroke-width="1.0" stroke-opacity="0.51" d="M1000.6 1903.7l14.9-8.5 14.9-7.3 14.9-6.7 14.9-6.2 15-4.7 14.9-3.1 14.9-1.2 14.9 .2 15 1 14.9-1.9 14.9-.6 14.9-.8 15-.5 14.9-.2"/>
<path stroke-width="1.0" stroke-opacity="0.49" d="M1000.6 1887.7l14.9-2.9 14.9-3.2 14.9-3.2 14.9-3.5 15-2.7 14.9-1.6 14.9 .4 14.9 .8 15 .3 14.9-1.8 14.9 1.6 14.9 1.1 15 .9 14.9 .7"/>
<path stroke-width="1.0" stroke-opacity="0.60" d="M1000.6 1903.5l14.9-6.9 14.9-5.8 14.9-5.3 14.9-5.4 15-3.9 14.9-2.4 14.9-.1 14.9 0 15-.6 14.9-2.2 14.9 1.9 14.9 2 15 2.5 14.9 3.2"/>
<path stroke-width="1.0" stroke-opacity="0.67" d="M1000.6 1875.1l14.9-2.3 14.9-2.7 14.9-2.4 14.9-2.1 15-1.6 14.9-1.1 14.9 .6 14.9 2.3 15 2.6 14.9-.4 14.9 2.9 14.9 4.3 15 6 14.9 8.7"/>
<path stroke-width="1.0" stroke-opacity="0.55" d="M1000.6 1856.9l14.9-.5 14.9-1.4 14.9-.8 14.9-.9 15-.9 14.9-1.1 14.9-.5 14.9 1.9 15 3 14.9-1.5 14.9-4.3 14.9-5.4 15-5.9 14.9-7.4"/>
<path stroke-width="1.0" stroke-opacity="0.47" d="M1000.6 1874.0l14.9 .6 14.9-.9 14.9-.9 14.9-.9 15-.4 14.9 .5 14.9 2.2 14.9 1.9 15 0 14.9-1.2 14.9 6 14.9 7.6 15 9 14.9 11"/>
<path stroke-width="1.0" stroke-opacity="0.45" d="M1000.6 1878.5l14.9-1.6 14.9-3 14.9-3.2 14.9-3.1 15-2.2 14.9-1.2 14.9 .2 14.9 1.1 15 1.1 14.9-2.5 14.9-1.7 14.9-1.7 15-1.7 14.9-2.9"/>
<path stroke-width="1.0" stroke-opacity="0.50" d="M1000.6 1879.1l14.9-4.4 14.9-4.5 14.9-3.5 14.9-2.8 15-2.2 14.9-1.8 14.9-.6 14.9 1.5 15 2.9 14.9-1.4 14.9-1.3 14.9-.8 15 .4 14.9 1.5"/>
<path stroke-width="1.0" stroke-opacity="0.43" d="M1000.6 1889.1l14.9-4.1 14.9-4 14.9-3.6 14.9-4 15-3.6 14.9-3.1 14.9-1.4 14.9-.3 15 .7 14.9-2.1 14.9-1.2 14.9-1.9 15-3 14.9-4.5"/>
<path stroke-width="1.0" stroke-opacity="0.75" d="M1000.6 1841.5l14.9-.2 14.9 .2 14.9 1.5 14.9 1.1 15 1.1 14.9 .6 14.9 .7 14.9 2.8 15 3.2 14.9-.5 14.9-3.6 14.9-3.8 15-2.6 14.9-1.7"/>
<path stroke-width="1.0" stroke-opacity="0.42" d="M1000.6 1908.7l14.9-9.6 14.9-7.9 14.9-7.2 14.9-6.9 15-5.1 14.9-3.6 14.9-1.4 14.9-.2 15 .6 14.9-2.1 14.9-.6 14.9-1 15-.7 14.9-.6"/>
<path stroke-width="1.0" stroke-opacity="0.75" d="M1000.6 1879.8l14.9-1.4 14.9-2.1 14.9-2.2 14.9-2.7 15-2.2 14.9-1.3 14.9 .9 14.9 1.9 15 1.4 14.9-.4 14.9 4.9 14.9 6.1 15 7.3 14.9 9.5"/>
<path stroke-width="1.0" stroke-opacity="0.85" d="M1000.6 1907.8l14.9-11.6 14.9-9.6 14.9-8.6 14.9-7.7 15-6.2 14.9-5.2 14.9-4.3 14.9-.1 15 1.4 14.9-3.3 14.9-7.1 14.9-10 15-12.3 14.9-16.6"/>
<path stroke-width="1.0" stroke-opacity="0.73" d="M1000.6 1865.4l14.9-3.7 14.9-4.4 14.9-3.2 14.9-2.3 15-1.5 14.9-1.2 14.9-.5 14.9 1.4 15 1.6 14.9-2.5 14.9-6.8 14.9-9.1 15-10.4 14.9-13.8"/>
</g>
<path class="m" stroke="#fff" stroke-width="19.0" d="M1001.6 1867.0l3.4-.4 4.6-.7 3.5-.5 3.4-.5 3.4-.6 4.6-.7 3.5-.5 3.4-.6 3.4-.5 4.6-.8 3.5-.5 3.4-.5 3.5-.6 4.5-.7 3.5-.5 3.4-.4 3.5-.5 4.6-.6 3.4-.4 3.4-.4 3.5-.4 4.6-.4 3.4-.2 3.5-.2 3.4-.1 4.6 0 3.4 0 3.5 .1 3.4 .3 4.6 .4 3.4 .4 3.5 .5 3.4 .5 4.6 .7 3.5 .5 3.4 .4 3.4 .3 4.6 .2 3.5 0 3.4-.1 3.4-.2 4.6-.4 3.5-.4 3.4-.4 3.5-.5 4.5-.8 3.5-.5 3.4-.6 3.5-.6 4.6-.8 3.4-.5 3.4-.5 3.5-.4 4.6-.5 3.4-.2 3.5-.2 3.4 0 4.6 .2 3.4 .2"/>
<path class="m" stroke="#D93D30" stroke-width="8.8" d="M1000.8 1867.0l.8 0 1.1-.1 1.2-.2 1.1-.1 1.2-.2 1.1-.2 1.2-.1 1.1-.2 1-.1M1038.9 1861.3l1.7-.2 2.3-.4 3.4-.5 2.3-.4 2.3-.3 2.3-.4 2.3-.3 3.4-.5 2.3-.3 2.3-.4 2.3-.3 3.5-.4 2.3-.3 2.2-.3 2.3-.2 2.3-.3 3.5-.3 2.3-.2 1.5-.1M1114.0 1855.6l1.1 .1 1.2 .2 1.1 .1 1.2 .2 1.1 .2 1.2 .1 1.1 .2 1.2 .2 .6 .1M1152.1 1858.9l2-.1 2.3-.2 3.5-.3 2.3-.3 2.3-.3 2.3-.3 2.3-.3 3.4-.6 2.3-.4 2.3-.3 2.3-.4 3.4-.6 2.3-.4 2.3-.4 2.3-.4 2.3-.3 3.4-.5 2.3-.3 1.2-.1"/>
</g>
<text class="n" x="1035.2" y="1777.7">n=405</text>
<text x="3.6" y="2211.8" font-size="38">Cluster 5</text>
<text class="c" x="417.3" y="2061.3">Interval &amp;</text>
<text class="c" x="420.1" y="2083.7">LonGenity cohorts</text>
<rect class="x" x="303.80" y="2092.20" width="232.60" height="211.90"/>
<text class="a" transform="translate(285.3 2296.26) rotate(-90)">–2</text>
<text class="a" transform="translate(285.3 2247.18) rotate(-90)">–1</text>
<text class="a" transform="translate(285.3 2198.10) rotate(-90)">0</text>
<text class="a" transform="translate(285.3 2149.02) rotate(-90)">1</text>
<text class="a" transform="translate(285.3 2099.94) rotate(-90)">2</text>
<text class="a" x="317.15" y="2331.5">20</text>
<text class="a" x="365.49" y="2331.5">40</text>
<text class="a" x="413.83" y="2331.5">60</text>
<text class="a" x="462.17" y="2331.5">80</text>
<text class="a" x="510.51" y="2331.5">100</text>
<path class="k" d="M296.4 2296.26h7.4M296.4 2247.18h7.4M296.4 2198.10h7.4M296.4 2149.02h7.4M296.4 2099.94h7.4M317.15 2304.1v8M365.49 2304.1v8M413.83 2304.1v8M462.17 2304.1v8M510.51 2304.1v8"/>
<text class="b" x="420.1" y="2360.7">Age (years)</text>
<text class="b" style="font-size:25px" transform="translate(255.4 2199.7) rotate(-90)">Protein levels (Z–score)</text>
<g clip-path="url(#k60)">
<g class="l" stroke="#EF9426">
<path stroke="none" fill="#EF9426" fill-opacity="0.55" d="M312.3 2161.0l2 1.2 2.8 1.5 3.2 1.8 3.6 2 3.6 2 3.4 1.8 3.5 1.9 3.9 1.9 4 2 3.7 1.9 3.2 1.5 2.3 1.1 0 9.6-3.3-.4-3.3-.4-3.2-.5-3.3-.4-3.2-.5-3.3-.5-3.3-.6-3.2-.5-3.3-.5-3.2-.6-3.3-.5-3.3-.5z"/>
<path stroke="none" fill="#EF9426" fill-opacity="0.55" d="M470.8 2201.8l1.6-.5 2.2-.7 2.6-.8 2.8-1 2.8-.9 2.4-.8 2.5-.9 2.5-1 2.5-1 2.4-.9 1.9-.8 1.4-.6 0 23.1-2.3-.3-2.3-.4-2.3-.4-2.3-.4-2.3-.3-2.3-.4-2.3-.4-2.3-.4-2.3-.3-2.3-.4-2.3-.4-2.3-.4z"/>
<path stroke="none" fill="#EF9426" fill-opacity="0.55" d="M312.3 2202.2l1.4-.2 1.9-.3 2.2-.4 2.3-.4 2.4-.4 2.2-.4 2.2-.3 2.4-.4 2.3-.4 2.2-.4 1.9-.3 1.3-.2 0-8.8-2-.4-2.1-.3-2-.3-2.1-.3-2-.4-2.1-.3-2.1-.4-2-.3-2.1-.3-2-.4-2.1-.3-2.1-.3z"/>
<path stroke="none" fill="#EF9426" fill-opacity="0.55" d="M444.1 2218.7l2.3 .4 3.2 .5 3.7 .6 4 .8 3.9 .8 3.5 1 2.9 1.1 2.8 1.3 2.7 1.3 2.6 1.5 2.7 1.5 2.7 1.5 3.1 1.7 3.3 2 3.3 2 3.1 1.9 2.6 1.6 1.9 1.1 0-26.3-4.5-.7-4.5-.7-4.6-.8-4.5-.7-4.5-.8-4.5-.7-4.6-.8-4.5-.8-4.5-.9-4.6-.9-4.5-.9-4.5-1z"/>
<path stroke-width="1.0" stroke-opacity="0.59" d="M312.3 2173.1l13.3 3.6 13.3 4.3 13.3 4.5 13.3 3.7 13.3 2 13.3 2.4 13.3 1.9 13.3 1.9 13.3 2.3 13.3 1.8 13.2 1.8 13.3 1.4 13.3-3.3 13.3-4.2"/>
<path stroke-width="1.0" stroke-opacity="0.36" d="M312.3 2155.3l13.3 10.1 13.3 8.9 13.3 7.5 13.3 5.2 13.3 2.4 13.3 2.7 13.3 2 13.3 2 13.3 2.5 13.3 1.9 13.2 2 13.3 1.5 13.3-3.8 13.3-4.5"/>
<path stroke-width="1.0" stroke-opacity="0.33" d="M312.3 2165.0l13.3 11.9 13.3 7.8 13.3 5 13.3 2.9 13.3 2.1 13.3 2.1 13.3 2.1 13.3 2.6 13.3 3.7 13.3 3.5 13.2 4.2 13.3 4.8 13.3 5.6 13.3 5.9"/>
<path stroke-width="1.0" stroke-opacity="0.69" d="M312.3 2192.1l13.3 .2 13.3 .1 13.3 1.9 13.3 1.8 13.3 1.5 13.3 1.7 13.3 1.9 13.3 2.1 13.3 3.4 13.3 3.1 13.2 3.9 13.3 4.5 13.3 5.2 13.3 5.3"/>
<path stroke-width="1.0" stroke-opacity="0.63" d="M312.3 2145.5l13.3 15.3 13.3 11.9 13.3 9.2 13.3 5.8 13.3 2.6 13.3 2.8 13.3 2 13.3 2 13.3 2.7 13.3 2.5 13.2 2.6 13.3 2.6 13.3 1 13.3 1.7"/>
<path stroke-width="1.0" stroke-opacity="0.48" d="M312.3 2204.0l13.3-3.7 13.3-3.4 13.3 1.6 13.3 1.5 13.3 .8 13.3 1.2 13.3 1.3 13.3 1.5 13.3 3 13.3 2.6 13.2 3.3 13.3 3 13.3 2.2 13.3 .6"/>
<path stroke-width="1.0" stroke-opacity="0.54" d="M312.3 2186.6l13.3 2.6 13.3 1.8 13.3 2.4 13.3 2.4 13.3 2.2 13.3 2.7 13.3 2.8 13.3 2.9 13.3 4.9 13.3 4.4 13.2 7 13.3 10.2 13.3 14.6 13.3 17.4"/>
<path stroke-width="1.0" stroke-opacity="0.59" d="M312.3 2202.8l13.3-2.1 13.3-3.1 13.3 2.2 13.3 2.4 13.3 1.7 13.3 2.6 13.3 2.7 13.3 2.4 13.3 4.9 13.3 3.9 13.2 7 13.3 9.6 13.3 12.6 13.3 13"/>
<path stroke-width="1.0" stroke-opacity="0.47" d="M312.3 2188.3l13.3 .9 13.3 1.2 13.3 1.7 13.3 1.6 13.3 1.5 13.3 1.7 13.3 1.8 13.3 2.1 13.3 2.8 13.3 2.8 13.2 2.8 13.3 2.8 13.3 2.8 13.3 2.9"/>
<path stroke-width="1.0" stroke-opacity="0.59" d="M312.3 2186.2l13.3 2.4 13.3 1.9 13.3 2 13.3 1.8 13.3 1.7 13.3 1.9 13.3 1.9 13.3 2.3 13.3 3.4 13.3 3.2 13.2 3.8 13.3 4.3 13.3 4.9 13.3 4.8"/>
<path stroke-width="1.0" stroke-opacity="0.63" d="M312.3 2193.5l13.3-1 13.3-.4 13.3 1.8 13.3 1.6 13.3 1.3 13.3 1.3 13.3 1.4 13.3 2 13.3 3.2 13.3 3.3 13.2 3.9 13.3 4.1 13.3 5.1 13.3 6.1"/>
<path stroke-width="1.0" stroke-opacity="0.64" d="M312.3 2144.1l13.3 15.9 13.3 11.9 13.3 9.1 13.3 5.8 13.3 2.7 13.3 3 13.3 2.3 13.3 2.3 13.3 2.9 13.3 2.6 13.2 2.6 13.3 2.2 13.3-.4 13.3-.2"/>
<path stroke-width="1.0" stroke-opacity="0.45" d="M312.3 2186.2l13.3 1.6 13.3 1.7 13.3 1.5 13.3 1.5 13.3 1.2 13.3 1.4 13.3 1.3 13.3 1.6 13.3 2.2 13.3 1.9 13.2 1.8 13.3 1 13.3-4.9 13.3-8"/>
<path stroke-width="1.0" stroke-opacity="0.37" d="M312.3 2194.5l13.3-1.1 13.3-.6 13.3 1.7 13.3 1.7 13.3 1.4 13.3 1.8 13.3 1.8 13.3 2.3 13.3 3.6 13.3 3.4 13.2 4.7 13.3 5.8 13.3 7.9 13.3 9.4"/>
<path stroke-width="1.0" stroke-opacity="0.52" d="M312.3 2131.3l13.3 23.4 13.3 16 13.3 11 13.3 6.5 13.3 3.2 13.3 3.2 13.3 2.6 13.3 2.8 13.3 3.9 13.3 4.6 13.2 5.8 13.3 8.3 13.3 12.4 13.3 16.4"/>
<path stroke-width="1.0" stroke-opacity="0.67" d="M312.3 2163.3l13.3 11.1 13.3 7.9 13.3 5.5 13.3 3.4 13.3 2 13.3 2 13.3 1.7 13.3 2.2 13.3 2.7 13.3 2.8 13.2 2.8 13.3 2.4 13.3 1.4 13.3 1"/>
<path stroke-width="1.0" stroke-opacity="0.53" d="M312.3 2187.4l13.3 1.4 13.3 1.3 13.3 1.9 13.3 2 13.3 1.9 13.3 2.1 13.3 2.1 13.3 2.3 13.3 3.2 13.3 3 13.2 3.9 13.3 5 13.3 6.6 13.3 7.6"/>
<path stroke-width="1.0" stroke-opacity="0.34" d="M312.3 2192.1l13.3-.4 13.3-.2 13.3 1.4 13.3 1.5 13.3 1.5 13.3 1.8 13.3 1.8 13.3 2.2 13.3 2.8 13.3 2.5 13.2 2.6 13.3 2.5 13.3 2.4 13.3 2.5"/>
<path stroke-width="1.0" stroke-opacity="0.47" d="M312.3 2207.2l13.3-3.6 13.3-4.5 13.3 2 13.3 2.3 13.3 1.7 13.3 2.6 13.3 2.4 13.3 2.1 13.3 4.8 13.3 3.4 13.2 6.6 13.3 9.1 13.3 11.4 13.3 10.9"/>
<path stroke-width="1.0" stroke-opacity="0.40" d="M312.3 2203.2l13.3-4.8 13.3-3.5 13.3 1 13.3 1 13.3 .6 13.3 .8 13.3 .6 13.3 1 13.3 2.1 13.3 1.9 13.2 1.9 13.3 1.4 13.3-2.4 13.3-4.7"/>
<path stroke-width="1.0" stroke-opacity="0.52" d="M312.3 2201.3l13.3-2.1 13.3-2.7 13.3 1.8 13.3 2 13.3 1.4 13.3 2.2 13.3 2.3 13.3 2.3 13.3 4.3 13.3 3.5 13.2 5.4 13.3 6.7 13.3 8.2 13.3 7.8"/>
<path stroke-width="1.0" stroke-opacity="0.53" d="M312.3 2144.5l13.3 15.5 13.3 11.8 13.3 9.2 13.3 5.8 13.3 2.6 13.3 2.8 13.3 2.2 13.3 2.3 13.3 2.8 13.3 2.4 13.2 2.6 13.3 2.2 13.3-1.1 13.3-.8"/>
<path stroke-width="1.0" stroke-opacity="0.55" d="M312.3 2193.6l13.3-1.2 13.3-.4 13.3 1.4 13.3 1.4 13.3 1.1 13.3 1.4 13.3 1.4 13.3 1.9 13.3 2.7 13.3 2.7 13.2 2.7 13.3 2.5 13.3 2.5 13.3 2.9"/>
<path stroke-width="1.0" stroke-opacity="0.31" d="M312.3 2203.9l13.3-3.4 13.3-3.2 13.3 1.8 13.3 1.8 13.3 1.1 13.3 2.1 13.3 2.3 13.3 2.6 13.3 4.9 13.3 4.1 13.2 6.6 13.3 9.3 13.3 13.1 13.3 15.1"/>
<path stroke-width="1.0" stroke-opacity="0.59" d="M312.3 2178.7l13.3 5.2 13.3 3.8 13.3 2.7 13.3 1.9 13.3 1.5 13.3 1.6 13.3 1.7 13.3 2.2 13.3 2.9 13.3 2.7 13.2 2.6 13.3 2 13.3 .2 13.3-1"/>
<path stroke-width="1.0" stroke-opacity="0.40" d="M312.3 2194.4l13.3-.6 13.3-.7 13.3 1.3 13.3 1.4 13.3 1.3 13.3 1.8 13.3 1.9 13.3 1.8 13.3 2.4 13.3 1.9 13.2 2 13.3 1.6 13.3 1.5 13.3 .3"/>
<path stroke-width="1.0" stroke-opacity="0.43" d="M312.3 2169.9l13.3 6.7 13.3 5.7 13.3 4.6 13.3 3.3 13.3 1.8 13.3 2 13.3 1.8 13.3 2.1 13.3 2.6 13.3 2.1 13.2 2 13.3 1.4 13.3-2.7 13.3-4.1"/>
<path stroke-width="1.0" stroke-opacity="0.31" d="M312.3 2179.7l13.3 6.6 13.3 3.7 13.3 2.5 13.3 2.5 13.3 2.3 13.3 2.5 13.3 2.7 13.3 3 13.3 4.6 13.3 4.4 13.2 6.8 13.3 9.8 13.3 14.2 13.3 17.2"/>
<path stroke-width="1.0" stroke-opacity="0.54" d="M312.3 2205.6l13.3-4.4 13.3-4.1 13.3 1.4 13.3 1.5 13.3 1 13.3 1.4 13.3 1.4 13.3 1.4 13.3 2.8 13.3 2.1 13.2 2.6 13.3 2.2 13.3 1 13.3-.9"/>
<path stroke-width="1.0" stroke-opacity="0.46" d="M312.3 2192.1l13.3 .4 13.3 .2 13.3 2.1 13.3 2 13.3 1.5 13.3 1.6 13.3 1.8 13.3 2 13.3 3.4 13.3 3.1 13.2 3.8 13.3 4 13.3 4.1 13.3 3.5"/>
<path stroke-width="1.0" stroke-opacity="0.49" d="M312.3 2157.2l13.3 11.8 13.3 8.6 13.3 6.5 13.3 4.3 13.3 2.2 13.3 2.5 13.3 2.1 13.3 2.1 13.3 2.6 13.3 2 13.2 1.8 13.3 1.1 13.3-4.6 13.3-6.6"/>
<path stroke-width="1.0" stroke-opacity="0.39" d="M312.3 2206.3l13.3-4.8 13.3-4.3 13.3 1.6 13.3 1.5 13.3 .8 13.3 1.1 13.3 1 13.3 1.1 13.3 2.5 13.3 2 13.2 2.2 13.3 .9 13.3 0 13.3-1.5"/>
<path stroke-width="1.0" stroke-opacity="0.44" d="M312.3 2189.5l13.3 1.2 13.3 1 13.3 2 13.3 1.8 13.3 1.6 13.3 1.8 13.3 1.9 13.3 2.1 13.3 3.4 13.3 3 13.2 3.9 13.3 4.3 13.3 4.8 13.3 4.6"/>
<path stroke-width="1.0" stroke-opacity="0.54" d="M312.3 2128.0l13.3 23.6 13.3 16.5 13.3 11.5 13.3 6.7 13.3 3 13.3 3.2 13.3 2.6 13.3 2.6 13.3 3.2 13.3 2.7 13.2 2.6 13.3 2.3 13.3 .9 13.3 1.7"/>
<path stroke-width="1.0" stroke-opacity="0.33" d="M312.3 2148.6l13.3 17.4 13.3 11.9 13.3 8.1 13.3 4.7 13.3 2.9 13.3 2.6 13.3 2.7 13.3 3.5 13.3 4.8 13.3 4.9 13.2 7.2 13.3 10.7 13.3 16.1 13.3 20.7"/>
<path stroke-width="1.0" stroke-opacity="0.64" d="M312.3 2190.4l13.3 2 13.3 .7 13.3 2.4 13.3 2.6 13.3 2.1 13.3 2.6 13.3 2.7 13.3 2.7 13.3 4.7 13.3 4 13.2 6.4 13.3 8.6 13.3 11.3 13.3 11.8"/>
<path stroke-width="1.0" stroke-opacity="0.48" d="M312.3 2186.1l13.3 .1 13.3 .8 13.3 1.8 13.3 2 13.3 1.4 13.3 1.8 13.3 1.6 13.3 1.7 13.3 2.1 13.3 1.5 13.2 1.4 13.3 .7 13.3-6.3 13.3-9.1"/>
<path stroke-width="1.0" stroke-opacity="0.68" d="M312.3 2148.2l13.3 16.9 13.3 11.5 13.3 7.9 13.3 4.7 13.3 2.4 13.3 2.5 13.3 2.1 13.3 2.3 13.3 3 13.3 2.7 13.2 2.6 13.3 2.1 13.3 .2 13.3-.3"/>
<path stroke-width="1.0" stroke-opacity="0.38" d="M312.3 2204.0l13.3-3.6 13.3-3.4 13.3 1.5 13.3 1.6 13.3 1.1 13.3 1.7 13.3 1.9 13.3 2.1 13.3 4.1 13.3 3.4 13.2 5.3 13.3 6.5 13.3 8.5 13.3 9.2"/>
<path stroke-width="1.0" stroke-opacity="0.36" d="M312.3 2150.0l13.3 15.7 13.3 11 13.3 7.6 13.3 4.8 13.3 2.5 13.3 2.5 13.3 2.1 13.3 2.3 13.3 2.7 13.3 2.6 13.2 2.4 13.3 2 13.3-.2 13.3-.9"/>
<path stroke-width="1.0" stroke-opacity="0.64" d="M312.3 2136.3l13.3 18.8 13.3 14 13.3 10.7 13.3 6.7 13.3 2.8 13.3 3 13.3 2.1 13.3 2.2 13.3 2.8 13.3 2.6 13.2 2.7 13.3 2.3 13.3-.6 13.3-.1"/>
<path stroke-width="1.0" stroke-opacity="0.59" d="M312.3 2190.2l13.3-1.1 13.3 0 13.3 .2 13.3 1.3 13.3 1.1 13.3 1.7 13.3 1.5 13.3 1.7 13.3 2.2 13.3 1.5 13.2 1.4 13.3 .7 13.3-6.7 13.3-8.8"/>
<path stroke-width="1.0" stroke-opacity="0.61" d="M312.3 2189.6l13.3 .6 13.3 .7 13.3 1.7 13.3 1.9 13.3 1.8 13.3 2 13.3 1.9 13.3 2.2 13.3 3.5 13.3 3.4 13.2 4.7 13.3 6 13.3 7.9 13.3 9.6"/>
<path stroke-width="1.0" stroke-opacity="0.57" d="M312.3 2180.9l13.3 .9 13.3 2.5 13.3 3.2 13.3 2.9 13.3 1.8 13.3 2.1 13.3 1.8 13.3 1.9 13.3 2.3 13.3 2.1 13.2 2 13.3 1.9 13.3-1.5 13.3-1.8"/>
<path stroke-width="1.0" stroke-opacity="0.33" d="M312.3 2194.1l13.3-1.8 13.3-.5 13.3 1.3 13.3 1 13.3 .7 13.3 1.1 13.3 1.2 13.3 1.7 13.3 2.5 13.3 2.5 13.2 2.4 13.3 2 13.3-.6 13.3-1.3"/>
<path stroke-width="1.0" stroke-opacity="0.62" d="M312.3 2150.1l13.3 13.1 13.3 10.5 13.3 8.5 13.3 5.5 13.3 2.5 13.3 2.6 13.3 2 13.3 2.2 13.3 2.9 13.3 2.7 13.2 2.6 13.3 2.2 13.3-.1 13.3 .5"/>
<path stroke-width="1.0" stroke-opacity="0.48" d="M312.3 2183.7l13.3-1.1 13.3 1.5 13.3 2.8 13.3 2.8 13.3 1.7 13.3 2.1 13.3 1.7 13.3 1.6 13.3 2.1 13.3 1.7 13.2 1.7 13.3 1.3 13.3-4.8 13.3-6.4"/>
<path stroke-width="1.0" stroke-opacity="0.47" d="M312.3 2131.3l13.3 21.7 13.3 15.3 13.3 11.1 13.3 7 13.3 3.3 13.3 3.3 13.3 2.1 13.3 2 13.3 2.5 13.3 2.4 13.2 2.8 13.3 2.5 13.3-.4 13.3-.6"/>
<path stroke-width="1.0" stroke-opacity="0.64" d="M312.3 2190.6l13.3-.1 13.3 .3 13.3 1 13.3 1 13.3 1.1 13.3 1.5 13.3 1.7 13.3 1.8 13.3 2.3 13.3 1.7 13.2 1.5 13.3 .8 13.3-4.2 13.3-6.8"/>
<path stroke-width="1.0" stroke-opacity="0.50" d="M312.3 2137.1l13.3 21.1 13.3 14.2 13.3 9.7 13.3 5.6 13.3 2.9 13.3 3.1 13.3 2.5 13.3 2.7 13.3 2.9 13.3 2.4 13.2 2.4 13.3 2.3 13.3 1.5 13.3 1.6"/>
<path stroke-width="1.0" stroke-opacity="0.50" d="M312.3 2169.3l13.3 5.5 13.3 5.7 13.3 5.1 13.3 3.6 13.3 1.7 13.3 2.1 13.3 1.7 13.3 2.1 13.3 2.8 13.3 2.4 13.2 2.3 13.3 1.6 13.3-2.7 13.3-3.3"/>
<path stroke-width="1.0" stroke-opacity="0.41" d="M312.3 2134.7l13.3 22.5 13.3 15.5 13.3 10.5 13.3 6.1 13.3 3.1 13.3 2.9 13.3 2.4 13.3 2.7 13.3 4 13.3 4.3 13.2 5.6 13.3 7.9 13.3 11.7 13.3 15.1"/>
<path stroke-width="1.0" stroke-opacity="0.52" d="M312.3 2165.3l13.3 10.8 13.3 7.4 13.3 5.1 13.3 3.2 13.3 2 13.3 1.9 13.3 1.6 13.3 2 13.3 2.5 13.3 2.4 13.2 2.4 13.3 2.2 13.3 .4 13.3-.5"/>
<path stroke-width="1.0" stroke-opacity="0.70" d="M312.3 2200.0l13.3-3.2 13.3-2.4 13.3 1.1 13.3 .8 13.3 .4 13.3 .6 13.3 .6 13.3 1.5 13.3 2.3 13.3 2 13.2 1.7 13.3 .9 13.3-4.3 13.3-7.4"/>
<path stroke-width="1.0" stroke-opacity="0.31" d="M312.3 2157.0l13.3 11.7 13.3 8.8 13.3 6.8 13.3 4.5 13.3 2.2 13.3 2.4 13.3 1.9 13.3 2 13.3 2.5 13.3 2.1 13.2 2 13.3 1.5 13.3-3.3 13.3-4.7"/>
<path stroke-width="1.0" stroke-opacity="0.56" d="M312.3 2185.8l13.3 2.5 13.3 2 13.3 2.2 13.3 2.1 13.3 2.1 13.3 2.5 13.3 2.6 13.3 2.8 13.3 4.4 13.3 4 13.2 6 13.3 8.4 13.3 11.8 13.3 14.2"/>
<path stroke-width="1.0" stroke-opacity="0.50" d="M312.3 2172.9l13.3 3.5 13.3 4.4 13.3 4.6 13.3 3.6 13.3 1.9 13.3 2.3 13.3 1.7 13.3 1.9 13.3 2.4 13.3 1.9 13.2 1.9 13.3 1.5 13.3-3.7 13.3-4.6"/>
<path stroke-width="1.0" stroke-opacity="0.61" d="M312.3 2137.5l13.3 19.2 13.3 13.9 13.3 10.3 13.3 6.4 13.3 3 13.3 3.1 13.3 2.5 13.3 2.6 13.3 3.1 13.3 3.1 13.2 3.2 13.3 4.2 13.3 6.9 13.3 9.9"/>
<path stroke-width="1.0" stroke-opacity="0.44" d="M312.3 2193.6l13.3-1.5 13.3-.5 13.3 1.2 13.3 .9 13.3 .7 13.3 1.1 13.3 1.4 13.3 1.7 13.3 2.3 13.3 1.9 13.2 1.6 13.3 1 13.3-4.2 13.3-6.5"/>
<path stroke-width="1.0" stroke-opacity="0.47" d="M312.3 2192.3l13.3 .6 13.3 .3 13.3 2 13.3 1.8 13.3 1.4 13.3 1.9 13.3 2.2 13.3 2.5 13.3 4.1 13.3 3.5 13.2 4.6 13.3 5.6 13.3 7 13.3 7.4"/>
<path stroke-width="1.0" stroke-opacity="0.44" d="M312.3 2198.7l13.3-.9 13.3-1.8 13.3 2.2 13.3 2.6 13.3 1.9 13.3 2.7 13.3 2.7 13.3 2.6 13.3 4.9 13.3 4.1 13.2 7.2 13.3 10.1 13.3 13.7 13.3 14.9"/>
<path stroke-width="1.0" stroke-opacity="0.49" d="M312.3 2185.8l13.3 2.5 13.3 2 13.3 2.4 13.3 2.3 13.3 2.2 13.3 2.1 13.3 2.2 13.3 2.5 13.3 4.1 13.3 4 13.2 5.8 13.3 7.5 13.3 10 13.3 11.6"/>
<path stroke-width="1.0" stroke-opacity="0.55" d="M312.3 2177.7l13.3 2.5 13.3 3.4 13.3 3.7 13.3 3.1 13.3 1.7 13.3 1.8 13.3 1.5 13.3 1.7 13.3 2.3 13.3 2.1 13.2 2 13.3 1.4 13.3-4.2 13.3-5.9"/>
<path stroke-width="1.0" stroke-opacity="0.32" d="M312.3 2179.0l13.3 5.1 13.3 4 13.3 2.7 13.3 1.9 13.3 1.7 13.3 2.1 13.3 2.5 13.3 3.1 13.3 4.1 13.3 3.9 13.2 5 13.3 6.5 13.3 9.3 13.3 11.8"/>
<path stroke-width="1.0" stroke-opacity="0.36" d="M312.3 2188.4l13.3 .7 13.3 1.1 13.3 1.1 13.3 .9 13.3 1.3 13.3 1.9 13.3 1.9 13.3 2.1 13.3 2.3 13.3 1.8 13.2 1.8 13.3 1.8 13.3-1.3 13.3-2.5"/>
<path stroke-width="1.0" stroke-opacity="0.30" d="M312.3 2183.0l13.3 3.4 13.3 2.8 13.3 2.3 13.3 1.8 13.3 1.5 13.3 1.4 13.3 1.3 13.3 1.9 13.3 2.7 13.3 2.8 13.2 2.6 13.3 1.9 13.3-.3 13.3-1.6"/>
<path stroke-width="1.0" stroke-opacity="0.64" d="M312.3 2137.2l13.3 18.7 13.3 13.6 13.3 10.3 13.3 6.4 13.3 2.6 13.3 2.9 13.3 2.1 13.3 2 13.3 2.5 13.3 1.8 13.2 1.8 13.3 1.1 13.3-5.7 13.3-7.5"/>
<path stroke-width="1.0" stroke-opacity="0.56" d="M312.3 2197.4l13.3-1.1 13.3-1.7 13.3 1.8 13.3 2.2 13.3 1.8 13.3 2.3 13.3 2 13.3 1.7 13.3 3.3 13.3 2.8 13.2 4.3 13.3 5.3 13.3 5.8 13.3 4.6"/>
<path stroke-width="1.0" stroke-opacity="0.59" d="M312.3 2185.6l13.3 2.7 13.3 2 13.3 2.1 13.3 1.9 13.3 1.8 13.3 1.9 13.3 1.9 13.3 2.1 13.3 3.1 13.3 2.7 13.2 3 13.3 2.9 13.3 2.3 13.3 1.5"/>
<path stroke-width="1.0" stroke-opacity="0.45" d="M312.3 2187.7l13.3 2.1 13.3 1.4 13.3 2.3 13.3 2.4 13.3 2.3 13.3 2.5 13.3 2.5 13.3 2.6 13.3 4.1 13.3 3.8 13.2 5.9 13.3 8.2 13.3 11.3 13.3 12.8"/>
<path stroke-width="1.0" stroke-opacity="0.46" d="M312.3 2187.5l13.3 .2 13.3 .2 13.3 1.2 13.3 1.9 13.3 1.3 13.3 1.7 13.3 1.4 13.3 1.6 13.3 2.1 13.3 1.5 13.2 1.4 13.3 .9 13.3-6.1 13.3-8.6"/>
<path stroke-width="1.0" stroke-opacity="0.51" d="M312.3 2141.2l13.3 20.5 13.3 13.7 13.3 9.2 13.3 5.4 13.3 2.8 13.3 2.6 13.3 2 13.3 2.3 13.3 3.3 13.3 3.6 13.2 4.4 13.3 5.2 13.3 6.5 13.3 7.5"/>
<path stroke-width="1.0" stroke-opacity="0.47" d="M312.3 2193.9l13.3-1 13.3-.6 13.3 1.3 13.3 1.1 13.3 .9 13.3 1.1 13.3 1.3 13.3 1.8 13.3 2.7 13.3 2.6 13.2 2.4 13.3 1.8 13.3 0 13.3-.9"/>
<path stroke-width="1.0" stroke-opacity="0.62" d="M312.3 2123.7l13.3 22.5 13.3 16.9 13.3 12.9 13.3 7.9 13.3 3.1 13.3 3.6 13.3 2.6 13.3 2.3 13.3 2.8 13.3 2.1 13.2 2.2 13.3 1.9 13.3-2.3 13.3-1.9"/>
<path stroke-width="1.0" stroke-opacity="0.31" d="M312.3 2206.7l13.3-4.5 13.3-4.4 13.3 1.7 13.3 2 13.3 1.4 13.3 2 13.3 2 13.3 1.8 13.3 3.8 13.3 3.1 13.2 5.3 13.3 7 13.3 9 13.3 8.9"/>
<path stroke-width="1.0" stroke-opacity="0.46" d="M312.3 2143.9l13.3 15.9 13.3 12.1 13.3 9.4 13.3 6 13.3 2.5 13.3 2.8 13.3 1.9 13.3 2.1 13.3 2.7 13.3 2.3 13.2 2.5 13.3 2 13.3-1.8 13.3-2.2"/>
<path stroke-width="1.0" stroke-opacity="0.41" d="M312.3 2148.2l13.3 18.2 13.3 11.9 13.3 7.8 13.3 4.4 13.3 2.5 13.3 2.4 13.3 2.1 13.3 2.5 13.3 3.4 13.3 3.3 13.2 3.7 13.3 4 13.3 4.7 13.3 4.9"/>
<path stroke-width="1.0" stroke-opacity="0.31" d="M312.3 2179.0l13.3 4.9 13.3 3.7 13.3 2.8 13.3 2 13.3 1.7 13.3 1.8 13.3 1.9 13.3 2.3 13.3 2.8 13.3 2.7 13.2 2.6 13.3 2.3 13.3 2.1 13.3 1.9"/>
<path stroke-width="1.0" stroke-opacity="0.36" d="M312.3 2189.2l13.3 2.3 13.3 1.2 13.3 2.6 13.3 2.6 13.3 2.3 13.3 2.7 13.3 2.8 13.3 2.8 13.3 4.9 13.3 4.3 13.2 7.1 13.3 10 13.3 13.8 13.3 15.1"/>
<path stroke-width="1.0" stroke-opacity="0.65" d="M312.3 2194.9l13.3-.8 13.3-.8 13.3 1.9 13.3 2.1 13.3 1.8 13.3 2.1 13.3 2 13.3 2 13.3 3.5 13.3 3.2 13.2 4.7 13.3 6.2 13.3 8.1 13.3 8.7"/>
</g>
<path class="m" stroke="#fff" stroke-width="19.0" d="M312.8 2185.6l3.8 .5 2 .2 3.8 .5 3.9 .5 1.9 .3 3.9 .5 1.9 .2 3.8 .5 3.9 .5 1.9 .3 3.9 .5 3.9 .5 1.9 .3 3.8 .5 2 .3 3.8 .5 3.9 .6 1.9 .3 3.9 .5 3.8 .6 2 .3 3.8 .5 2 .3 3.8 .6 3.9 .6 1.9 .3 3.9 .6 3.8 .6 2 .3 3.8 .6 1.9 .3 3.9 .6 3.9 .6 1.9 .3 3.9 .7 3.8 .6 1.9 .3 3.9 .7 1.9 .3 3.9 .7 3.8 .6 2 .4 3.8 .7 3.9 .7 1.9 .3 3.9 .7 1.9 .4 3.9 .7 3.8 .7 2 .4 3.8 .7 3.9 .7 1.9 .4 3.9 .7 1.9 .4 3.9 .8 3.8 .8 2 .4 3.8 .7"/>
<path class="m" stroke="#EF9426" stroke-width="8.8" d="M312.8 2185.6l3.8 .5 2 .2 3.8 .5 3.9 .5 1.9 .3 3.9 .5 1.9 .2 3.8 .5 3.9 .5 1.9 .3 3.9 .5 3.9 .5 1.9 .3 3.8 .5 2 .3 3.8 .5 3.9 .6 1.9 .3 3.9 .5 3.8 .6 2 .3 3.8 .5 2 .3 3.8 .6 3.9 .6 1.9 .3 3.9 .6 3.8 .6 2 .3 3.8 .6 1.9 .3 3.9 .6 3.9 .6 1.9 .3 3.9 .7 3.8 .6 1.9 .3 3.9 .7 1.9 .3 3.9 .7 3.8 .6 2 .4 3.8 .7 3.9 .7 1.9 .3 3.9 .7 1.9 .4 3.9 .7 3.8 .7 2 .4 3.8 .7 3.9 .7 1.9 .4 3.9 .7 1.9 .4 3.9 .8 3.8 .8 2 .4 3.8 .7"/>
</g>
<text class="n" x="353.6" y="2118.5">n=204</text>
<text class="c" x="760.9" y="2061.3">Subset of proteins measured</text>
<text class="c" x="763.5" y="2083.7">in independent cohorts</text>
<rect class="x" x="644.60" y="2092.20" width="232.60" height="211.90"/>
<text class="a" transform="translate(626.1 2296.26) rotate(-90)">–2</text>
<text class="a" transform="translate(626.1 2247.18) rotate(-90)">–1</text>
<text class="a" transform="translate(626.1 2198.10) rotate(-90)">0</text>
<text class="a" transform="translate(626.1 2149.02) rotate(-90)">1</text>
<text class="a" transform="translate(626.1 2099.94) rotate(-90)">2</text>
<text class="a" x="657.95" y="2331.5">20</text>
<text class="a" x="706.29" y="2331.5">40</text>
<text class="a" x="754.63" y="2331.5">60</text>
<text class="a" x="802.97" y="2331.5">80</text>
<text class="a" x="851.31" y="2331.5">100</text>
<path class="k" d="M637.2 2296.26h7.4M637.2 2247.18h7.4M637.2 2198.10h7.4M637.2 2149.02h7.4M637.2 2099.94h7.4M657.95 2304.1v8M706.29 2304.1v8M754.63 2304.1v8M802.97 2304.1v8M851.31 2304.1v8"/>
<text class="b" x="760.9" y="2360.7">Age (years)</text>
<text class="b" style="font-size:25px" transform="translate(596.2 2199.7) rotate(-90)">Protein levels (Z–score)</text>
<g clip-path="url(#k61)">
<g class="l" stroke="#EF9426">
<path stroke="none" fill="#EF9426" fill-opacity="0.55" d="M653.3 2163.1l1.6 1.1 2.2 1.6 2.6 1.9 2.7 2 2.8 1.9 2.6 1.8 2.5 1.7 2.8 1.8 2.8 1.8 2.5 1.6 2.2 1.4 1.6 1 0 8.2-2.4-.4-2.4-.3-2.4-.4-2.4-.4-2.4-.4-2.4-.4-2.4-.5-2.4-.4-2.4-.4-2.4-.4-2.4-.4-2.5-.3z"/>
<path stroke="none" fill="#EF9426" fill-opacity="0.55" d="M807.7 2202.6l2.1-.6 2.9-.9 3.5-1 3.6-1.1 3.5-1 2.9-.9 2.7-.9 2.6-.8 2.5-.7 2.2-.7 1.9-.6 1.3-.5 0 25.8-2.6-.4-2.7-.5-2.6-.5-2.6-.5-2.7-.4-2.6-.5-2.7-.5-2.6-.5-2.7-.4-2.6-.5-2.6-.6-2.7-.5z"/>
<path stroke="none" fill="#EF9426" fill-opacity="0.55" d="M653.3 2201.2l1.4-.2 1.9-.2 2.2-.2 2.3-.3 2.4-.3 2.2-.3 2.2-.2 2.4-.4 2.3-.3 2.2-.3 1.9-.2 1.3-.2 0-7.8-2-.4-2.1-.3-2-.3-2.1-.4-2-.3-2.1-.4-2.1-.4-2-.3-2.1-.4-2-.3-2.1-.4-2.1-.2z"/>
<path stroke="none" fill="#EF9426" fill-opacity="0.55" d="M795.4 2220.7l2.2 .6 3 .7 3.6 .9 3.9 1.1 4 1.3 3.9 1.6 4 2.1 4.4 2.6 4.6 2.9 4.2 2.8 3.6 2.4 2.6 1.6 0-22.6-3.6-.6-3.7-.7-3.7-.6-3.7-.7-3.6-.7-3.7-.6-3.7-.7-3.6-.7-3.7-.8-3.7-.7-3.7-.8-3.6-.9z"/>
<path stroke-width="1.0" stroke-opacity="0.50" d="M653.3 2162.8l13.3 7.3 13.3 8.6 13.3 5.4 13.3 4.1 13.3 1.8 13.3 2.2 13.3 1.6 13.3 2.4 13.3 3.2 13.3 2.2 13.2 1.5 13.3-.7 13.3-5 13.3-4"/>
<path stroke-width="1.0" stroke-opacity="0.48" d="M653.3 2193.8l13.3-.8 13.3 .1 13.3 1.4 13.3 1.2 13.3 1 13.3 1 13.3 1.2 13.3 2.3 13.3 2.9 13.3 2.7 13.2 2.6 13.3 1.8 13.3 .5 13.3 .6"/>
<path stroke-width="1.0" stroke-opacity="0.57" d="M653.3 2186.7l13.3 2.7 13.3 2.4 13.3 2.2 13.3 2 13.3 1.8 13.3 2.1 13.3 2.4 13.3 4.3 13.3 5.8 13.3 5.1 13.2 5.3 13.3 5.5 13.3 12.6 13.3 18.3"/>
<path stroke-width="1.0" stroke-opacity="0.36" d="M653.3 2199.2l13.3-1.4 13.3-1 13.3 2 13.3 2.1 13.3 1.6 13.3 2.3 13.3 2 13.3 4.5 13.3 5.5 13.3 4 13.2 4.1 13.3 4.3 13.3 11.1 13.3 14.7"/>
<path stroke-width="1.0" stroke-opacity="0.38" d="M653.3 2194.9l13.3 .1 13.3 .1 13.3 2.1 13.3 2.2 13.3 1.8 13.3 2.5 13.3 2.3 13.3 4.7 13.3 5.9 13.3 4.3 13.2 4.4 13.3 4.7 13.3 12.3 13.3 17"/>
<path stroke-width="1.0" stroke-opacity="0.33" d="M653.3 2163.4l13.3 7.7 13.3 8.4 13.3 5.3 13.3 4.2 13.3 2.1 13.3 2.5 13.3 2 13.3 2.8 13.3 3.4 13.3 2.8 13.2 2.4 13.3 1.3 13.3-.6 13.3 .2"/>
<path stroke-width="1.0" stroke-opacity="0.63" d="M653.3 2156.4l13.3 13.1 13.3 11.3 13.3 6.4 13.3 4.4 13.3 2.5 13.3 2.4 13.3 2.2 13.3 3.5 13.3 4.6 13.3 4.6 13.2 4.6 13.3 4.6 13.3 8 13.3 11.5"/>
<path stroke-width="1.0" stroke-opacity="0.42" d="M653.3 2137.8l13.3 16.9 13.3 16.4 13.3 9.4 13.3 6.4 13.3 3 13.3 3.2 13.3 2.6 13.3 3.4 13.3 4 13.3 3.5 13.2 3.6 13.3 3.8 13.3 5.8 13.3 9.1"/>
<path stroke-width="1.0" stroke-opacity="0.36" d="M653.3 2185.5l13.3 1.2 13.3 2.1 13.3 1.9 13.3 2 13.3 1.7 13.3 1.8 13.3 1.9 13.3 2.7 13.3 3.2 13.3 3 13.2 2.9 13.3 2.4 13.3 2.1 13.3 2.4"/>
<path stroke-width="1.0" stroke-opacity="0.30" d="M653.3 2184.6l13.3 .8 13.3 2.1 13.3 2.1 13.3 2.2 13.3 1.8 13.3 1.8 13.3 1.6 13.3 2.3 13.3 2.9 13.3 2.4 13.2 2.3 13.3 1.2 13.3-1 13.3-.7"/>
<path stroke-width="1.0" stroke-opacity="0.53" d="M653.3 2138.9l13.3 14.6 13.3 15.8 13.3 9.5 13.3 7 13.3 2.9 13.3 3.2 13.3 2 13.3 2.6 13.3 3.4 13.3 2.7 13.2 2.7 13.3 1.8 13.3 .4 13.3 1.9"/>
<path stroke-width="1.0" stroke-opacity="0.42" d="M653.3 2164.6l13.3 6.3 13.3 8 13.3 5.3 13.3 4.2 13.3 1.9 13.3 2.4 13.3 1.7 13.3 2.5 13.3 3 13.3 2.3 13.2 1.7 13.3-.1 13.3-3.3 13.3-2.2"/>
<path stroke-width="1.0" stroke-opacity="0.62" d="M653.3 2198.1l13.3-.7 13.3-.6 13.3 2.5 13.3 2.5 13.3 1.8 13.3 2.4 13.3 1.8 13.3 4.5 13.3 5.8 13.3 4 13.2 4.1 13.3 4.2 13.3 10.8 13.3 13.5"/>
<path stroke-width="1.0" stroke-opacity="0.66" d="M653.3 2150.8l13.3 12.2 13.3 12.3 13.3 7.4 13.3 5.2 13.3 2.5 13.3 2.7 13.3 2 13.3 2.7 13.3 3.3 13.3 2.8 13.2 2.3 13.3 1.2 13.3-.8 13.3 0"/>
<path stroke-width="1.0" stroke-opacity="0.41" d="M653.3 2201.1l13.3-2.7 13.3-1.6 13.3 1.6 13.3 1.6 13.3 1.1 13.3 1.5 13.3 1.2 13.3 2.9 13.3 3.6 13.3 2.7 13.2 2.7 13.3 2.3 13.3 3.2 13.3 2.5"/>
<path stroke-width="1.0" stroke-opacity="0.48" d="M653.3 2185.0l13.3 .3 13.3 2.1 13.3 2.2 13.3 2.2 13.3 1.5 13.3 1.8 13.3 1.6 13.3 2.5 13.3 3.1 13.3 2.6 13.2 2.3 13.3 1.2 13.3-.6 13.3 .1"/>
<path stroke-width="1.0" stroke-opacity="0.32" d="M653.3 2190.4l13.3 1.4 13.3 1.2 13.3 2.1 13.3 2 13.3 1.9 13.3 2.3 13.3 2.4 13.3 4.4 13.3 5.6 13.3 4.6 13.2 4.6 13.3 4.8 13.3 11.4 13.3 16.3"/>
<path stroke-width="1.0" stroke-opacity="0.53" d="M653.3 2191.2l13.3 .9 13.3 .9 13.3 2 13.3 1.9 13.3 1.6 13.3 1.9 13.3 1.7 13.3 3.2 13.3 3.8 13.3 3.2 13.2 3.1 13.3 2.9 13.3 4.1 13.3 4.1"/>
<path stroke-width="1.0" stroke-opacity="0.63" d="M653.3 2186.2l13.3 2.2 13.3 2.2 13.3 1.9 13.3 1.7 13.3 1.7 13.3 1.7 13.3 2 13.3 3.1 13.3 4 13.3 3.8 13.2 3.9 13.3 3.8 13.3 5.9 13.3 8.2"/>
<path stroke-width="1.0" stroke-opacity="0.40" d="M653.3 2161.3l13.3 6.8 13.3 8.7 13.3 5.6 13.3 4.6 13.3 2.1 13.3 2.8 13.3 1.9 13.3 2.5 13.3 2.9 13.3 1.9 13.2 1.3 13.3-.4 13.3-4.1 13.3-2.8"/>
<path stroke-width="1.0" stroke-opacity="0.58" d="M653.3 2200.7l13.3-3.5 13.3-2 13.3 .7 13.3 .8 13.3 .5 13.3 .6 13.3 .7 13.3 2 13.3 2.7 13.3 2.1 13.2 1.7 13.3 0 13.3-3.2 13.3-3"/>
<path stroke-width="1.0" stroke-opacity="0.60" d="M653.3 2196.9l13.3-.7 13.3-.6 13.3 1.7 13.3 1.9 13.3 1.4 13.3 2.1 13.3 1.8 13.3 3.7 13.3 4.3 13.3 2.9 13.2 2.7 13.3 2.2 13.3 4.1 13.3 3.6"/>
<path stroke-width="1.0" stroke-opacity="0.51" d="M653.3 2172.2l13.3 4.8 13.3 5.9 13.3 4.1 13.3 3.3 13.3 1.7 13.3 1.9 13.3 1.5 13.3 2.2 13.3 2.9 13.3 2.2 13.2 1.6 13.3 0 13.3-3.3 13.3-2.6"/>
<path stroke-width="1.0" stroke-opacity="0.32" d="M653.3 2195.3l13.3-.1 13.3-.1 13.3 1.9 13.3 2.1 13.3 1.6 13.3 2.3 13.3 2 13.3 4 13.3 4.9 13.3 3.6 13.2 3.6 13.3 3.6 13.3 8.1 13.3 10.1"/>
<path stroke-width="1.0" stroke-opacity="0.68" d="M653.3 2153.1l13.3 9.3 13.3 11.2 13.3 7 13.3 5.3 13.3 2.2 13.3 2.8 13.3 1.9 13.3 2.8 13.3 3.4 13.3 2.4 13.2 1.6 13.3-.3 13.3-3.7 13.3-2"/>
<path stroke-width="1.0" stroke-opacity="0.44" d="M653.3 2193.7l13.3-.4 13.3 0 13.3 1.4 13.3 1.3 13.3 1.3 13.3 1.6 13.3 1.6 13.3 3.1 13.3 3.8 13.3 3.4 13.2 3.4 13.3 3.1 13.3 4.3 13.3 5.2"/>
<path stroke-width="1.0" stroke-opacity="0.65" d="M653.3 2145.6l13.3 13.4 13.3 13.9 13.3 8.4 13.3 6 13.3 2.7 13.3 2.7 13.3 1.8 13.3 2.7 13.3 3.5 13.3 3.1 13.2 2.7 13.3 1.4 13.3-.4 13.3 .6"/>
<path stroke-width="1.0" stroke-opacity="0.34" d="M653.3 2195.5l13.3-.8 13.3-.3 13.3 1.6 13.3 2 13.3 1.7 13.3 2.2 13.3 2.1 13.3 3.9 13.3 4.8 13.3 3.7 13.2 3.7 13.3 3.8 13.3 8.6 13.3 11.8"/>
<path stroke-width="1.0" stroke-opacity="0.63" d="M653.3 2187.7l13.3 1.8 13.3 1.8 13.3 1.7 13.3 1.5 13.3 1.4 13.3 1.7 13.3 1.9 13.3 3.2 13.3 3.9 13.3 3.4 13.2 3.4 13.3 3.2 13.3 4.7 13.3 6.2"/>
<path stroke-width="1.0" stroke-opacity="0.63" d="M653.3 2191.4l13.3 .1 13.3 .8 13.3 1.7 13.3 1.7 13.3 1.4 13.3 1.5 13.3 1.4 13.3 2.6 13.3 3.3 13.3 3.2 13.2 3.3 13.3 3.2 13.3 3.8 13.3 4.7"/>
<path stroke-width="1.0" stroke-opacity="0.31" d="M653.3 2155.9l13.3 13.2 13.3 11.8 13.3 6.7 13.3 4.1 13.3 2.4 13.3 2.3 13.3 2.7 13.3 4.6 13.3 5.9 13.3 5.6 13.2 5.5 13.3 5.7 13.3 12.9 13.3 20"/>
<path stroke-width="1.0" stroke-opacity="0.42" d="M653.3 2185.0l13.3 .3 13.3 2.1 13.3 2.3 13.3 2.4 13.3 1.7 13.3 1.7 13.3 1.5 13.3 2.2 13.3 2.8 13.3 2.4 13.2 2.2 13.3 1.2 13.3-.7 13.3-.2"/>
<path stroke-width="1.0" stroke-opacity="0.53" d="M653.3 2189.0l13.3 1.4 13.3 1.6 13.3 1.8 13.3 1.6 13.3 1.5 13.3 1.6 13.3 1.8 13.3 3 13.3 3.8 13.3 3.3 13.2 3.2 13.3 2.9 13.3 3.6 13.3 3.9"/>
<path stroke-width="1.0" stroke-opacity="0.63" d="M653.3 2199.7l13.3-1.8 13.3-1.3 13.3 1.5 13.3 1.4 13.3 1 13.3 1.8 13.3 1.8 13.3 3.6 13.3 4.1 13.3 2.7 13.2 2.5 13.3 2.3 13.3 4.5 13.3 4.5"/>
<path stroke-width="1.0" stroke-opacity="0.65" d="M653.3 2187.4l13.3 2.3 13.3 2.1 13.3 2.2 13.3 2.3 13.3 2.1 13.3 2.5 13.3 2.4 13.3 4.2 13.3 5.4 13.3 4.4 13.2 4.6 13.3 4.9 13.3 11.3 13.3 16.2"/>
<path stroke-width="1.0" stroke-opacity="0.41" d="M653.3 2191.3l13.3 1 13.3 1.1 13.3 2 13.3 2 13.3 1.5 13.3 1.7 13.3 1.5 13.3 2.9 13.3 3.5 13.3 2.7 13.2 2.7 13.3 2.3 13.3 2.6 13.3 1.4"/>
<path stroke-width="1.0" stroke-opacity="0.39" d="M653.3 2149.9l13.3 10.5 13.3 12.2 13.3 7.6 13.3 5.8 13.3 2.4 13.3 2.8 13.3 2 13.3 2.7 13.3 3.4 13.3 2.4 13.2 1.9 13.3 .3 13.3-2.5 13.3-.8"/>
<path stroke-width="1.0" stroke-opacity="0.33" d="M653.3 2178.3l13.3 6.2 13.3 4.9 13.3 2.9 13.3 1.9 13.3 1.7 13.3 1.7 13.3 2 13.3 3.2 13.3 4.1 13.3 3.7 13.2 3.6 13.3 3.1 13.3 4 13.3 4.3"/>
<path stroke-width="1.0" stroke-opacity="0.47" d="M653.3 2185.4l13.3 1.3 13.3 2.1 13.3 1.9 13.3 1.9 13.3 1.6 13.3 1.8 13.3 1.7 13.3 2.6 13.3 3.2 13.3 2.7 13.2 2.4 13.3 1.6 13.3 .2 13.3 .6"/>
<path stroke-width="1.0" stroke-opacity="0.54" d="M653.3 2191.9l13.3 .5 13.3 .8 13.3 1.9 13.3 1.6 13.3 1.3 13.3 1.4 13.3 1.4 13.3 2.9 13.3 3.6 13.3 3.1 13.2 2.9 13.3 2.4 13.3 2.2 13.3 1.5"/>
<path stroke-width="1.0" stroke-opacity="0.34" d="M653.3 2174.7l13.3 8.2 13.3 6.2 13.3 3.6 13.3 2.5 13.3 2.3 13.3 2.4 13.3 2.5 13.3 4.1 13.3 5.3 13.3 4.6 13.2 4.7 13.3 5 13.3 11.4 13.3 16"/>
<path stroke-width="1.0" stroke-opacity="0.54" d="M653.3 2192.4l13.3 .8 13.3 .7 13.3 2.1 13.3 2.1 13.3 1.7 13.3 2.3 13.3 2.1 13.3 4.1 13.3 5.1 13.3 4 13.2 4 13.3 4.1 13.3 9.4 13.3 12.6"/>
<path stroke-width="1.0" stroke-opacity="0.67" d="M653.3 2144.5l13.3 14 13.3 14.2 13.3 8.4 13.3 5.9 13.3 2.6 13.3 2.8 13.3 1.9 13.3 2.6 13.3 3.2 13.3 2.3 13.2 1.8 13.3 .2 13.3-2.7 13.3-1.8"/>
<path stroke-width="1.0" stroke-opacity="0.67" d="M653.3 2187.8l13.3 2.1 13.3 1.8 13.3 1.9 13.3 1.8 13.3 1.7 13.3 2 13.3 1.9 13.3 3.4 13.3 4.1 13.3 3.5 13.2 3.4 13.3 3 13.3 4.5 13.3 4.9"/>
<path stroke-width="1.0" stroke-opacity="0.67" d="M653.3 2165.7l13.3 10.4 13.3 8.7 13.3 5 13.3 3.3 13.3 2.3 13.3 2.2 13.3 2.3 13.3 3.8 13.3 4.8 13.3 4.4 13.2 4.6 13.3 4.5 13.3 8.7 13.3 12.1"/>
<path stroke-width="1.0" stroke-opacity="0.30" d="M653.3 2150.8l13.3 12.2 13.3 12.4 13.3 7.2 13.3 5 13.3 2 13.3 2.4 13.3 1.9 13.3 2.8 13.3 3.5 13.3 2.5 13.2 1.6 13.3-.5 13.3-4.3 13.3-3.4"/>
<path stroke-width="1.0" stroke-opacity="0.45" d="M653.3 2162.2l13.3 10.1 13.3 9.2 13.3 5.3 13.3 3.8 13.3 2.3 13.3 2.4 13.3 2.2 13.3 3.1 13.3 3.7 13.3 3.2 13.2 3.1 13.3 2.6 13.3 2.2 13.3 2.5"/>
<path stroke-width="1.0" stroke-opacity="0.45" d="M653.3 2173.2l13.3 4.1 13.3 5.6 13.3 3.8 13.3 3 13.3 1.7 13.3 2.2 13.3 2 13.3 3 13.3 3.5 13.3 2.8 13.2 2.1 13.3 1 13.3-.4 13.3 .8"/>
<path stroke-width="1.0" stroke-opacity="0.66" d="M653.3 2199.7l13.3-2 13.3-1.3 13.3 1.6 13.3 1.9 13.3 1.4 13.3 2.1 13.3 1.9 13.3 4 13.3 5 13.3 3.7 13.2 3.8 13.3 4 13.3 9.5 13.3 12.9"/>
<path stroke-width="1.0" stroke-opacity="0.57" d="M653.3 2190.2l13.3 1 13.3 1.1 13.3 1.6 13.3 1.5 13.3 1.6 13.3 1.8 13.3 1.9 13.3 3 13.3 3.5 13.3 3.1 13.2 3.1 13.3 3 13.3 4 13.3 4.5"/>
</g>
<path class="m" stroke="#fff" stroke-width="19.0" d="M653.8 2186.6l3.8 .4 2 .2 3.8 .5 3.9 .5 1.9 .2 3.9 .5 1.9 .2 3.8 .5 3.9 .5 1.9 .3 3.9 .5 3.9 .5 1.9 .3 3.8 .5 2 .3 3.8 .6 3.9 .5 1.9 .3 3.9 .6 3.8 .6 2 .3 3.8 .6 2 .3 3.8 .6 3.9 .6 1.9 .3 3.9 .7 3.8 .7 2 .3 3.8 .7 1.9 .3 3.9 .7 3.9 .8 1.9 .3 3.9 .8 3.8 .7 1.9 .4 3.9 .8 1.9 .3 3.9 .8 3.8 .8 2 .4 3.8 .8 3.9 .8 1.9 .4 3.9 .8 1.9 .5 3.9 .8 3.8 .8 2 .4 3.8 .9 3.9 .8 1.9 .4 3.9 .9 1.9 .4 3.9 .9 3.8 .8 2 .5 3.8 .8"/>
<path class="m" stroke="#EF9426" stroke-width="8.8" d="M653.8 2186.6l3.8 .4 2 .2 3.8 .5 3.9 .5 1.9 .2 3.9 .5 1.9 .2 3.8 .5 3.9 .5 1.9 .3 3.9 .5 3.9 .5 1.9 .3 3.8 .5 2 .3 3.8 .6 3.9 .5 1.9 .3 3.9 .6 3.8 .6 2 .3 3.8 .6 2 .3 3.8 .6 3.9 .6 1.9 .3 3.9 .7 3.8 .7 2 .3 3.8 .7 1.9 .3 3.9 .7 3.9 .8 1.9 .3 3.9 .8 3.8 .7 1.9 .4 3.9 .8 1.9 .3 3.9 .8 3.8 .8 2 .4 3.8 .8 3.9 .8 1.9 .4 3.9 .8 1.9 .5 3.9 .8 3.8 .8 2 .4 3.8 .9 3.9 .8 1.9 .4 3.9 .9 1.9 .4 3.9 .9 3.8 .8 2 .5 3.8 .8"/>
</g>
<text class="n" x="694.4" y="2118.5">n=79</text>
<text class="c" x="1101.7" y="2061.3">Corresponding trajectories</text>
<text class="c" x="1101.7" y="2083.7">in independent cohorts</text>
<rect class="x" x="985.40" y="2092.20" width="232.60" height="211.90"/>
<text class="a" transform="translate(966.9 2296.26) rotate(-90)">–2</text>
<text class="a" transform="translate(966.9 2247.18) rotate(-90)">–1</text>
<text class="a" transform="translate(966.9 2198.10) rotate(-90)">0</text>
<text class="a" transform="translate(966.9 2149.02) rotate(-90)">1</text>
<text class="a" transform="translate(966.9 2099.94) rotate(-90)">2</text>
<text class="a" x="998.75" y="2331.5">20</text>
<text class="a" x="1047.09" y="2331.5">40</text>
<text class="a" x="1095.43" y="2331.5">60</text>
<text class="a" x="1143.77" y="2331.5">80</text>
<text class="a" x="1192.11" y="2331.5">100</text>
<path class="k" d="M978.0 2296.26h7.4M978.0 2247.18h7.4M978.0 2198.10h7.4M978.0 2149.02h7.4M978.0 2099.94h7.4M998.75 2304.1v8M1047.09 2304.1v8M1095.43 2304.1v8M1143.77 2304.1v8M1192.11 2304.1v8"/>
<text class="b" x="1101.7" y="2360.7">Age (years)</text>
<text class="b" style="font-size:25px" transform="translate(937.0 2199.7) rotate(-90)">Protein levels (Z–score)</text>
<g clip-path="url(#k62)">
<g class="l" stroke="#EF9426">
<path stroke-width="1.0" stroke-opacity="0.43" d="M1000.6 2189.7l14.9-3.1 14.9-3.8 14.9-1.8 14.9 .3 15 1.3 14.9 .3 14.9 .6 14.9 3.5 15 4 14.9 3.3 14.9-2.1 14.9-4.1 15-11.1 14.9-7.8"/>
<path stroke-width="1.0" stroke-opacity="0.43" d="M1000.6 2179.0l14.9 3.1 14.9 1.4 14.9 1.7 14.9 2.1 15 1.5 14.9 1.4 14.9 2.6 14.9 4.7 15 5.9 14.9 6.9 14.9 10.2 14.9 12.7 15 14.9 14.9 19.1"/>
<path stroke-width="1.0" stroke-opacity="0.48" d="M1000.6 2156.5l14.9 2.7 14.9 2.6 14.9 2.4 14.9 5.3 15 5.5 14.9 3.1 14.9 3 14.9 5.5 15 5.6 14.9 4.6 14.9 1.1 14.9 1.7 15 1.4 14.9 5.1"/>
<path stroke-width="1.0" stroke-opacity="0.69" d="M1000.6 2187.3l14.9 2.4 14.9 .6 14.9 1.5 14.9 1.2 15 .2 14.9 .5 14.9 2.1 14.9 4.2 15 5.6 14.9 6.9 14.9 11.2 14.9 13.9 15 16.1 14.9 20.5"/>
<path stroke-width="1.0" stroke-opacity="0.57" d="M1000.6 2243.7l14.9-9 14.9-8.9 14.9-9 14.9-8 15-7.5 14.9-3.4 14.9-.8 14.9 1.6 15 2.9 14.9 3.5 14.9 2.7 14.9 1 15-1.4 14.9-3.3"/>
<path stroke-width="1.0" stroke-opacity="0.64" d="M1000.6 2178.7l14.9 3.3 14.9 1.7 14.9 1.9 14.9 1.9 15 1 14.9 .9 14.9 2.3 14.9 4.6 15 5.9 14.9 6.5 14.9 8 14.9 9.1 15 10.3 14.9 13"/>
<path stroke-width="1.0" stroke-opacity="0.45" d="M1000.6 2215.6l14.9-7.7 14.9-7.7 14.9-5.7 14.9-4 15-2.5 14.9-1.7 14.9-.5 14.9 2.6 15 3.6 14.9 3 14.9-2.8 14.9-5.8 15-14.4 14.9-11.7"/>
<path stroke-width="1.0" stroke-opacity="0.59" d="M1000.6 2203.0l14.9-1.3 14.9-2.8 14.9-1.6 14.9-.8 15-1.1 14.9-.3 14.9 .8 14.9 2.6 15 4.1 14.9 5.4 14.9 7.7 14.9 8.5 15 8.6 14.9 9.9"/>
<path stroke-width="1.0" stroke-opacity="0.44" d="M1000.6 2238.2l14.9-7.8 14.9-7.9 14.9-7.9 14.9-7.1 15-6.6 14.9-3 14.9-.4 14.9 1.7 15 3.1 14.9 3.7 14.9 3.4 14.9 2.1 15 .9 14.9-1.1"/>
<path stroke-width="1.0" stroke-opacity="0.69" d="M1000.6 2200.3l14.9-1.4 14.9-3 14.9-1.9 14.9-1.4 15-1.3 14.9-.7 14.9 .6 14.9 2.7 15 3.7 14.9 3.8 14.9 1.6 14.9 .1 15-3.1 14.9-3.6"/>
<path stroke-width="1.0" stroke-opacity="0.41" d="M1000.6 2193.8l14.9-2.4 14.9-3.2 14.9-1.4 14.9-.1 15 .5 14.9 .3 14.9 1.3 14.9 3.5 15 4.3 14.9 4.5 14.9 3.8 14.9 4.5 15 5.4 14.9 6.5"/>
<path stroke-width="1.0" stroke-opacity="0.59" d="M1000.6 2248.3l14.9-12.4 14.9-11.6 14.9-10.7 14.9-9 15-7.4 14.9-3.8 14.9-1.4 14.9 1.3 15 3.1 14.9 3.3 14.9-.4 14.9-3.2 15-9.4 14.9-8.7"/>
<path stroke-width="1.0" stroke-opacity="0.58" d="M1000.6 2244.4l14.9-5.1 14.9-5.1 14.9-5.9 14.9-6.8 15-8.7 14.9-4 14.9-.8 14.9 1.2 15 3.5 14.9 5.7 14.9 10.4 14.9 10.4 15 9.8 14.9 11"/>
<path stroke-width="1.0" stroke-opacity="0.70" d="M1000.6 2180.5l14.9-2.1 14.9-2.1 14.9-1 14.9 1.3 15 2.2 14.9 1 14.9 1.7 14.9 4.9 15 5.3 14.9 4.1 14.9-.9 14.9-1.7 15-5 14.9-.5"/>
<path stroke-width="1.0" stroke-opacity="0.76" d="M1000.6 2230.7l14.9-5 14.9-5.5 14.9-5.6 14.9-5.5 15-5.8 14.9-2.5 14.9-.2 14.9 1.7 15 3 14.9 3.8 14.9 4.8 14.9 4.1 15 2.9 14.9 1.9"/>
<path stroke-width="1.0" stroke-opacity="0.78" d="M1000.6 2196.5l14.9-1 14.9-2.8 14.9-1.7 14.9-1.2 15-1 14.9-.6 14.9 .6 14.9 3.1 15 4.2 14.9 4.1 14.9 2.3 14.9 1 15-1.5 14.9-1.7"/>
<path stroke-width="1.0" stroke-opacity="0.40" d="M1000.6 2157.1l14.9 2 14.9 1.9 14.9 1.9 14.9 5 15 5.5 14.9 3 14.9 2.8 14.9 5.7 15 5.4 14.9 3.9 14.9-1.4 14.9-1.9 15-5.1 14.9-.5"/>
<path stroke-width="1.0" stroke-opacity="0.73" d="M1000.6 2155.3l14.9 3.7 14.9 3.1 14.9 2.8 14.9 5.6 15 5.8 14.9 3.3 14.9 2.9 14.9 5.1 15 4.8 14.9 3.6 14.9-.8 14.9-.9 15-3.8 14.9-1"/>
<path stroke-width="1.0" stroke-opacity="0.58" d="M1000.6 2205.4l14.9-3.9 14.9-4.6 14.9-3.3 14.9-2.2 15-1.6 14.9-.7 14.9 .8 14.9 3.4 15 4.5 14.9 4.8 14.9 4.2 14.9 4.1 15 4.4 14.9 5.2"/>
<path stroke-width="1.0" stroke-opacity="0.63" d="M1000.6 2157.3l14.9 2.2 14.9 2.2 14.9 2.2 14.9 5 15 5.3 14.9 2.7 14.9 2.5 14.9 5.4 15 5.4 14.9 4.2 14.9-.7 14.9-.9 15-3.7 14.9 .6"/>
<path stroke-width="1.0" stroke-opacity="0.75" d="M1000.6 2217.9l14.9-6.3 14.9-7 14.9-5.8 14.9-4.5 15-3.4 14.9-2 14.9-.2 14.9 2.5 15 3.6 14.9 2.9 14.9-1.7 14.9-4.5 15-11.7 14.9-10.6"/>
<path stroke-width="1.0" stroke-opacity="0.78" d="M1000.6 2197.3l14.9-3.2 14.9-4.4 14.9-2.8 14.9-1.4 15-.3 14.9-.2 14.9 .9 14.9 3.6 15 4.2 14.9 3.4 14.9-1.6 14.9-3.6 15-9.4 14.9-7.2"/>
<path stroke-width="1.0" stroke-opacity="0.46" d="M1000.6 2205.9l14.9 .7 14.9-1.3 14.9-1.4 14.9-1.7 15-2.6 14.9-.2 14.9 1.8 14.9 3.6 15 4.5 14.9 5.6 14.9 9.1 14.9 10.7 15 11.7 14.9 14.3"/>
<path stroke-width="1.0" stroke-opacity="0.61" d="M1000.6 2222.7l14.9-4.1 14.9-4.8 14.9-4.6 14.9-4.3 15-4.6 14.9-2 14.9 .1 14.9 2.1 15 3.4 14.9 4.5 14.9 5.9 14.9 6 15 5.7 14.9 5.8"/>
<path stroke-width="1.0" stroke-opacity="0.66" d="M1000.6 2224.3l14.9-4 14.9-4.8 14.9-4.9 14.9-4.6 15-5 14.9-2.1 14.9 .2 14.9 2.2 15 3.4 14.9 4.3 14.9 5.4 14.9 5.2 15 4.4 14.9 3.9"/>
<path stroke-width="1.0" stroke-opacity="0.69" d="M1000.6 2165.0l14.9 3.7 14.9 3.1 14.9 3 14.9 4.4 15 3.8 14.9 2.2 14.9 2.8 14.9 5.3 15 6.5 14.9 7.2 14.9 9.5 14.9 12.3 15 15.2 14.9 20.2"/>
<path stroke-width="1.0" stroke-opacity="0.62" d="M1000.6 2148.1l14.9 4.5 14.9 4.4 14.9 3.7 14.9 6.4 15 6.3 14.9 3.4 14.9 3.1 14.9 5.9 15 5.8 14.9 5 14.9 1.7 14.9 2.4 15 2.4 14.9 5.8"/>
<path stroke-width="1.0" stroke-opacity="0.73" d="M1000.6 2249.4l14.9-10.4 14.9-10.1 14.9-10.1 14.9-9 15-7.8 14.9-3.2 14.9-.2 14.9 2.1 15 3.3 14.9 3.8 14.9 4 14.9 3.4 15 3.2 14.9 3.3"/>
<path stroke-width="1.0" stroke-opacity="0.51" d="M1000.6 2148.6l14.9 1.6 14.9 2.3 14.9 1.9 14.9 6.2 15 7.2 14.9 3.8 14.9 3.1 14.9 6.3 15 5.5 14.9 2.9 14.9-6.1 14.9-7.3 15-14.9 14.9-7.5"/>
<path stroke-width="1.0" stroke-opacity="0.46" d="M1000.6 2211.3l14.9-5.3 14.9-5.8 14.9-4.5 14.9-3.4 15-2.4 14.9-.7 14.9 1 14.9 3.5 15 4.5 14.9 4.4 14.9 3.4 14.9 3.8 15 4.7 14.9 5.8"/>
<path stroke-width="1.0" stroke-opacity="0.49" d="M1000.6 2176.9l14.9-1.7 14.9-2.3 14.9-1.3 14.9 1.7 15 3.3 14.9 2.2 14.9 2.4 14.9 5 15 4.7 14.9 3 14.9-2.7 14.9-3.1 15-7.3 14.9-2.6"/>
<path stroke-width="1.0" stroke-opacity="0.46" d="M1000.6 2158.3l14.9 4.5 14.9 3.5 14.9 3.2 14.9 5.2 15 4.7 14.9 2.5 14.9 2.4 14.9 4.7 15 5 14.9 4.6 14.9 2 14.9 1.8 15 .3 14.9 1.6"/>
<path stroke-width="1.0" stroke-opacity="0.44" d="M1000.6 2215.7l14.9-3.7 14.9-4.9 14.9-4.4 14.9-3.5 15-2.9 14.9-.8 14.9 .9 14.9 2.5 15 3.4 14.9 3.9 14.9 5 14.9 5.5 15 5.5 14.9 5.4"/>
<path stroke-width="1.0" stroke-opacity="0.56" d="M1000.6 2193.6l14.9-2.9 14.9-3.9 14.9-2.2 14.9-.7 15 .2 14.9 0 14.9 .8 14.9 3.7 15 4.3 14.9 3.5 14.9-.8 14.9-1.9 15-6.2 14.9-3.5"/>
<path stroke-width="1.0" stroke-opacity="0.54" d="M1000.6 2167.8l14.9 1.2 14.9 .6 14.9 .9 14.9 3.3 15 3.8 14.9 2.1 14.9 2.3 14.9 5 15 5 14.9 3.8 14.9-1.4 14.9-2.4 15-6.7 14.9-3.2"/>
<path stroke-width="1.0" stroke-opacity="0.51" d="M1000.6 2202.3l14.9-5.3 14.9-5.9 14.9-3.4 14.9-1.7 15-.5 14.9-.4 14.9 .4 14.9 3.2 15 4 14.9 3.3 14.9-1.4 14.9-2.8 15-8.3 14.9-5.7"/>
<path stroke-width="1.0" stroke-opacity="0.52" d="M1000.6 2222.6l14.9-9.2 14.9-9.2 14.9-7.2 14.9-5 15-3.1 14.9-1.5 14.9-.2 14.9 2.5 15 3.3 14.9 2.3 14.9-3.1 14.9-5.6 15-13.2 14.9-10.5"/>
<path stroke-width="1.0" stroke-opacity="0.70" d="M1000.6 2235.7l14.9-5.3 14.9-6 14.9-6.4 14.9-6.1 15-6.5 14.9-2.4 14.9 .3 14.9 2.1 15 3.4 14.9 4.5 14.9 7.1 14.9 7.4 15 7.2 14.9 7.9"/>
<path stroke-width="1.0" stroke-opacity="0.71" d="M1000.6 2155.5l14.9 .5 14.9 1.3 14.9 1.4 14.9 5.3 15 6.3 14.9 3.4 14.9 3 14.9 6 15 5.6 14.9 3.6 14.9-3 14.9-3 15-6.8 14.9-.3"/>
<path stroke-width="1.0" stroke-opacity="0.73" d="M1000.6 2151.5l14.9 1.2 14.9 1.8 14.9 1.5 14.9 5.5 15 6.7 14.9 3.7 14.9 3.4 14.9 6.7 15 6 14.9 3.9 14.9-3.4 14.9-3.9 15-8 14.9-.8"/>
<path stroke-width="1.0" stroke-opacity="0.52" d="M1000.6 2237.5l14.9-6.3 14.9-6.5 14.9-6.7 14.9-6.5 15-6.8 14.9-2.8 14.9-.2 14.9 1.8 15 3.3 14.9 4.4 14.9 6.6 14.9 6.7 15 6.2 14.9 6.5"/>
<path stroke-width="1.0" stroke-opacity="0.51" d="M1000.6 2240.8l14.9-6.5 14.9-6.3 14.9-6.2 14.9-5.7 15-6.6 14.9-2.4 14.9 .2 14.9 1.6 15 3.1 14.9 5.1 14.9 10.9 14.9 13.4 15 14.6 14.9 17.8"/>
<path stroke-width="1.0" stroke-opacity="0.49" d="M1000.6 2151.8l14.9 3.8 14.9 3.5 14.9 3.1 14.9 6.1 15 6.3 14.9 3.8 14.9 3.6 14.9 6 15 5.8 14.9 4.7 14.9 2 14.9 2.9 15 4.1 14.9 7.5"/>
<path stroke-width="1.0" stroke-opacity="0.76" d="M1000.6 2173.5l14.9-1.7 14.9-1.6 14.9-.6 14.9 2.5 15 3.5 14.9 1.7 14.9 1.9 14.9 4.9 15 4.8 14.9 3.3 14.9-2.9 14.9-3.4 15-7.8 14.9-2.2"/>
<path stroke-width="1.0" stroke-opacity="0.43" d="M1000.6 2186.8l14.9-3 14.9-3.4 14.9-1.9 14.9 .6 15 1.6 14.9 1 14.9 1.6 14.9 4.4 15 4.9 14.9 3.8 14.9-.3 14.9-.8 15-3.3 14.9 .4"/>
<path stroke-width="1.0" stroke-opacity="0.62" d="M1000.6 2148.9l14.9 1.6 14.9 2.4 14.9 2.4 14.9 6.6 15 7.5 14.9 4.2 14.9 3.6 14.9 6.4 15 5.8 14.9 3.7 14.9-2.4 14.9-2.1 15-4.6 14.9 2"/>
<path stroke-width="1.0" stroke-opacity="0.55" d="M1000.6 2180.1l14.9-1.2 14.9-1.8 14.9-.7 14.9 1.5 15 2.3 14.9 1.4 14.9 2.1 14.9 4.8 15 5.3 14.9 4.6 14.9 1.8 14.9 1.9 15 1.5 14.9 4.5"/>
<path stroke-width="1.0" stroke-opacity="0.74" d="M1000.6 2203.4l14.9-1 14.9-2.2 14.9-1.2 14.9-1.1 15-1.6 14.9-.4 14.9 1.4 14.9 3.3 15 4.5 14.9 5.6 14.9 8.7 14.9 10.8 15 12.4 14.9 15.9"/>
<path stroke-width="1.0" stroke-opacity="0.65" d="M1000.6 2247.4l14.9-3.8 14.9-5.9 14.9-7.1 14.9-7.8 15-9.1 14.9-3.6 14.9 0 14.9 1.8 15 3.7 14.9 5.6 14.9 11.6 14.9 13 15 13.7 14.9 16.1"/>
<path stroke-width="1.0" stroke-opacity="0.46" d="M1000.6 2206.1l14.9-3.3 14.9-4 14.9-2.6 14.9-1.6 15-1.4 14.9-.3 14.9 1.2 14.9 3.2 15 4.4 14.9 5.4 14.9 7.1 14.9 8.5 15 9.8 14.9 12.2"/>
<path stroke-width="1.0" stroke-opacity="0.55" d="M1000.6 2160.3l14.9 .8 14.9 1 14.9 1 14.9 4.1 15 5 14.9 2.9 14.9 3.1 14.9 6.3 15 5.9 14.9 4.2 14.9-1.9 14.9-1.9 15-4.5 14.9 1.3"/>
<path stroke-width="1.0" stroke-opacity="0.40" d="M1000.6 2211.4l14.9-1.8 14.9-3.1 14.9-3 14.9-3.2 15-3.6 14.9-1.8 14.9 .2 14.9 2.4 15 3.9 14.9 4.6 14.9 5.3 14.9 4.7 15 3.7 14.9 2.7"/>
<path stroke-width="1.0" stroke-opacity="0.67" d="M1000.6 2227.6l14.9-5.2 14.9-5.5 14.9-5.3 14.9-5.3 15-5.5 14.9-2.4 14.9 .2 14.9 2.5 15 4 14.9 4.8 14.9 6.2 14.9 6.4 15 6.4 14.9 7.3"/>
<path stroke-width="1.0" stroke-opacity="0.77" d="M1000.6 2189.0l14.9-3.8 14.9-4.2 14.9-2.5 14.9-.1 15 1.4 14.9 .7 14.9 1.5 14.9 4.5 15 4.9 14.9 3.5 14.9-2.1 14.9-3.3 15-7.9 14.9-3.3"/>
<path stroke-width="1.0" stroke-opacity="0.55" d="M1000.6 2190.9l14.9 3.2 14.9 1.2 14.9 1.5 14.9 1 15-.3 14.9 .7 14.9 2.1 14.9 3.5 15 4.7 14.9 6.3 14.9 10.9 14.9 13.1 15 14.3 14.9 17.6"/>
<path stroke-width="1.0" stroke-opacity="0.50" d="M1000.6 2223.3l14.9-5 14.9-5.7 14.9-5.1 14.9-4.4 15-4.5 14.9-2 14.9-.2 14.9 1.8 15 3.2 14.9 3.9 14.9 4.3 14.9 3.5 15 2.3 14.9 1"/>
<path stroke-width="1.0" stroke-opacity="0.68" d="M1000.6 2171.1l14.9 1.6 14.9 .3 14.9 .7 14.9 3 15 3.6 14.9 2 14.9 1.9 14.9 4.1 15 4.2 14.9 3.4 14.9-.8 14.9-1.8 15-6.6 14.9-4.6"/>
<path stroke-width="1.0" stroke-opacity="0.53" d="M1000.6 2235.1l14.9-9.6 14.9-9.3 14.9-8.4 14.9-6.9 15-5.6 14.9-2.8 14.9-.6 14.9 1.9 15 3.4 14.9 3.8 14.9 1.5 14.9-.4 15-3.9 14.9-3.5"/>
<path stroke-width="1.0" stroke-opacity="0.51" d="M1000.6 2196.4l14.9-1.2 14.9-2.4 14.9-1.1 14.9-.6 15-.6 14.9-.1 14.9 1.2 14.9 3.5 15 4.7 14.9 5.4 14.9 6.8 14.9 8.4 15 9.9 14.9 12.4"/>
<path stroke-width="1.0" stroke-opacity="0.56" d="M1000.6 2177.2l14.9 2.5 14.9 .8 14.9 1 14.9 1.7 15 1.6 14.9 1.1 14.9 2 14.9 4.4 15 5.2 14.9 5.2 14.9 4.4 14.9 3.9 15 4 14.9 4.2"/>
<path stroke-width="1.0" stroke-opacity="0.44" d="M1000.6 2199.2l14.9-2.8 14.9-3.9 14.9-1.8 14.9-.5 15 .1 14.9 .5 14.9 1.4 14.9 3.2 15 4.2 14.9 4.8 14.9 5.9 14.9 7.5 15 8.9 14.9 10.9"/>
<path stroke-width="1.0" stroke-opacity="0.69" d="M1000.6 2201.0l14.9-2.5 14.9-3.7 14.9-2.3 14.9-1.3 15-.8 14.9 0 14.9 1.6 14.9 3.8 15 4.8 14.9 5.2 14.9 5.6 14.9 6 15 7 14.9 8.6"/>
<path stroke-width="1.0" stroke-opacity="0.48" d="M1000.6 2147.2l14.9 8.1 14.9 7 14.9 5.7 14.9 7.1 15 5.8 14.9 3.5 14.9 3.5 14.9 5.6 15 6.6 14.9 6.9 14.9 8.5 14.9 10.7 15 12.8 14.9 16.6"/>
<path stroke-width="1.0" stroke-opacity="0.69" d="M1000.6 2155.4l14.9 3.5 14.9 3.2 14.9 3 14.9 5.7 15 5.7 14.9 3.2 14.9 2.8 14.9 5.1 15 5.2 14.9 4.4 14.9 1.5 14.9 2.1 15 1.5 14.9 4.1"/>
<path stroke-width="1.0" stroke-opacity="0.46" d="M1000.6 2248.3l14.9-11.5 14.9-10.9 14.9-10.3 14.9-8.7 15-7.5 14.9-3.5 14.9-1 14.9 1.6 15 3 14.9 3.4 14.9 2.2 14.9 .2 15-2.9 14.9-3.5"/>
<path stroke-width="1.0" stroke-opacity="0.69" d="M1000.6 2213.2l14.9-2.2 14.9-3.5 14.9-3.4 14.9-3.5 15-3.6 14.9-1.2 14.9 1 14.9 3.3 15 4.5 14.9 5.1 14.9 6.3 14.9 6.6 15 6.9 14.9 8.2"/>
<path stroke-width="1.0" stroke-opacity="0.54" d="M1000.6 2235.4l14.9-4.7 14.9-5.3 14.9-5.9 14.9-5.7 15-6.6 14.9-2.3 14.9 .3 14.9 2 15 3.2 14.9 4.7 14.9 8 14.9 8.6 15 8.5 14.9 9.4"/>
<path stroke-width="1.0" stroke-opacity="0.60" d="M1000.6 2169.3l14.9 3.9 14.9 2.7 14.9 2.2 14.9 2.9 15 2.5 14.9 1.7 14.9 2.6 14.9 4.8 15 5.5 14.9 5.4 14.9 4.7 14.9 5.1 15 6.1 14.9 7.5"/>
<path stroke-width="1.0" stroke-opacity="0.58" d="M1000.6 2222.4l14.9-5.5 14.9-5.7 14.9-4.9 14.9-4.2 15-4.1 14.9-1.7 14.9 .2 14.9 2.2 15 3.5 14.9 4.1 14.9 4.7 14.9 4.7 15 4.6 14.9 4.9"/>
<path stroke-width="1.0" stroke-opacity="0.70" d="M1000.6 2245.9l14.9-7.7 14.9-7.6 14.9-7.7 14.9-6.8 15-7.1 14.9-2.3 14.9 .4 14.9 1.8 15 3.1 14.9 5 14.9 10.5 14.9 13 15 14.5 14.9 17.8"/>
<path stroke-width="1.0" stroke-opacity="0.72" d="M1000.6 2156.7l14.9 6.7 14.9 5.5 14.9 4.8 14.9 5.7 15 4.4 14.9 2.4 14.9 2.7 14.9 5 15 5.9 14.9 6.4 14.9 7.5 14.9 9 15 10.3 14.9 12.7"/>
<path stroke-width="1.0" stroke-opacity="0.62" d="M1000.6 2191.9l14.9-.1 14.9-1.8 14.9-.5 14.9 0 15 0 14.9 .3 14.9 1.6 14.9 3.9 15 4.9 14.9 5.3 14.9 5.9 14.9 6.4 15 6.9 14.9 8"/>
<path stroke-width="1.0" stroke-opacity="0.61" d="M1000.6 2246.1l14.9-5.4 14.9-5.7 14.9-6.7 14.9-7.3 15-8.4 14.9-3.4 14.9-.1 14.9 1.5 15 3.1 14.9 4.9 14.9 10.1 14.9 11 15 11 14.9 12.6"/>
<path stroke-width="1.0" stroke-opacity="0.59" d="M1000.6 2184.1l14.9-2 14.9-2.7 14.9-1.6 14.9 .7 15 1.7 14.9 .9 14.9 1.5 14.9 4.3 15 4.7 14.9 3.3 14.9-2.3 14.9-3.9 15-9.7 14.9-6"/>
<path stroke-width="1.0" stroke-opacity="0.57" d="M1000.6 2230.9l14.9-3.5 14.9-4.7 14.9-5.6 14.9-6 15-6.6 14.9-2.3 14.9 .7 14.9 2.6 15 3.7 14.9 4.6 14.9 6.9 14.9 7.1 15 7 14.9 7.6"/>
<path stroke-width="1.0" stroke-opacity="0.44" d="M1000.6 2238.9l14.9-9.3 14.9-9 14.9-7.8 14.9-6.1 15-5.5 14.9-2.4 14.9-.6 14.9 1.3 15 2.9 14.9 4.3 14.9 6.1 14.9 6.6 15 6.3 14.9 6.9"/>
<path stroke-width="1.0" stroke-opacity="0.78" d="M1000.6 2203.9l14.9-3.1 14.9-3.9 14.9-2.5 14.9-1.7 15-1.4 14.9-.5 14.9 .8 14.9 3.2 15 4.4 14.9 5.1 14.9 5.5 14.9 6.4 15 7.1 14.9 8.7"/>
<path stroke-width="1.0" stroke-opacity="0.51" d="M1000.6 2148.8l14.9 5.3 14.9 4.9 14.9 4.2 14.9 6.7 15 6.4 14.9 3.6 14.9 3.6 14.9 5.9 15 6.1 14.9 5.9 14.9 6 14.9 8 15 10.2 14.9 13.5"/>
<path stroke-width="1.0" stroke-opacity="0.48" d="M1000.6 2232.8l14.9-2.4 14.9-3.4 14.9-4.5 14.9-5.3 15-6.8 14.9-2.4 14.9 .7 14.9 2.2 15 3.8 14.9 5.7 14.9 11.5 14.9 13.2 15 13.9 14.9 16.6"/>
<path stroke-width="1.0" stroke-opacity="0.64" d="M1000.6 2150.4l14.9 6.4 14.9 5.6 14.9 4.8 14.9 6.6 15 5.7 14.9 3.1 14.9 3 14.9 5.1 15 5.4 14.9 5.4 14.9 5.5 14.9 6.6 15 7.8 14.9 9.4"/>
<path stroke-width="1.0" stroke-opacity="0.64" d="M1000.6 2215.3l14.9-4.1 14.9-4.8 14.9-4 14.9-3.4 15-3.2 14.9-1.3 14.9 .6 14.9 2.9 15 4.1 14.9 4.8 14.9 5.6 14.9 6 15 6.3 14.9 7.3"/>
<path stroke-width="1.0" stroke-opacity="0.44" d="M1000.6 2166.1l14.9 1.2 14.9 .8 14.9 1 14.9 3.5 15 4 14.9 2.2 14.9 2.4 14.9 5.1 15 5.1 14.9 3.8 14.9-1.6 14.9-2.4 15-6.5 14.9-2.7"/>
<path stroke-width="1.0" stroke-opacity="0.72" d="M1000.6 2164.7l14.9 4 14.9 3.3 14.9 3.7 14.9 5.1 15 4.4 14.9 2.6 14.9 3 14.9 5.1 15 6.1 14.9 7 14.9 10.6 14.9 14.1 15 17.3 14.9 22.8"/>
<path stroke-width="1.0" stroke-opacity="0.50" d="M1000.6 2218.2l14.9-8.8 14.9-8.6 14.9-6.5 14.9-4.4 15-2.5 14.9-1.3 14.9 .1 14.9 3 15 3.9 14.9 3.1 14.9-1.9 14.9-3.6 15-9.3 14.9-6.2"/>
<path stroke-width="1.0" stroke-opacity="0.66" d="M1000.6 2237.8l14.9-8.9 14.9-8.7 14.9-8.3 14.9-7.3 15-6.5 14.9-3.2 14.9-1.1 14.9 1.4 15 2.9 14.9 3.3 14.9 1.1 14.9-1.3 15-6.2 14.9-6.9"/>
<path stroke-width="1.0" stroke-opacity="0.78" d="M1000.6 2211.1l14.9-3.4 14.9-4.5 14.9-3.7 14.9-3.2 15-2.9 14.9-1.4 14.9 .2 14.9 2.5 15 3.9 14.9 4.4 14.9 4.3 14.9 4.1 15 4 14.9 3.7"/>
<path stroke-width="1.0" stroke-opacity="0.67" d="M1000.6 2247.6l14.9-10.6 14.9-10 14.9-9.7 14.9-8.7 15-7.8 14.9-4.2 14.9-2 14.9 .4 15 1.9 14.9 2.8 14.9-.4 14.9-3.8 15-11.4 14.9-12.3"/>
<path stroke-width="1.0" stroke-opacity="0.73" d="M1000.6 2178.9l14.9-2.7 14.9-2.5 14.9-1.3 14.9 1.6 15 2.8 14.9 1.2 14.9 1.5 14.9 4.6 15 4.7 14.9 3.3 14.9-3.7 14.9-4.9 15-11.3 14.9-6"/>
<path stroke-width="1.0" stroke-opacity="0.79" d="M1000.6 2187.3l14.9-2.7 14.9-3.6 14.9-2.3 14.9 0 15 1.4 14.9 .7 14.9 1.4 14.9 4.2 15 4.3 14.9 2.8 14.9-4.1 14.9-6.3 15-13.9 14.9-9.8"/>
<path stroke-width="1.0" stroke-opacity="0.62" d="M1000.6 2209.7l14.9-1.7 14.9-2.8 14.9-2.4 14.9-2.1 15-2.7 14.9-.7 14.9 1.2 14.9 3.2 15 4.3 14.9 5.6 14.9 8.5 14.9 10.1 15 11 14.9 13.6"/>
</g>
<path class="m" stroke="#fff" stroke-width="19.0" d="M1001.6 2194.8l3.4-.6 4.6-.8 3.5-.6 3.4-.5 3.4-.5 4.6-.7 3.5-.4 3.4-.4 3.4-.4 4.6-.5 3.5-.3 3.4-.3 3.5-.3 4.5-.2 3.5-.2 3.4-.1 3.5-.1 4.6-.1 3.4 .1 3.4 0 3.5 .1 4.6 .2 3.4 .2 3.5 .3 3.4 .3 4.6 .5 3.4 .4 3.5 .5 3.4 .6 4.6 .8 3.4 .7 3.5 .7 3.4 .8 4.6 1.1 3.5 .9 3.4 .9 3.4 .9 4.6 1.3 3.5 1 3.4 1 3.4 1.1 4.6 1.3 3.5 1.1 3.4 1 3.5 1.1 4.5 1.3 3.5 1.1 3.4 1 3.5 .9 4.6 1.3 3.4 .9 3.4 .9 3.5 .8 4.6 1.1 3.4 .7 3.5 .7 3.4 .6 4.6 .8 3.4 .4"/>
<path class="m" stroke="#EF9426" stroke-width="8.8" d="M1000.8 2194.8l.8 0 1.1-.2 1.2-.2 1.1-.2 1.2-.2 1.1-.2 1.2-.2 1.1-.2 1-.2M1038.9 2189.4l1.7-.1 2.3-.2 3.4-.3 2.3-.2 2.3-.1 2.3-.2 2.3-.1 3.4-.1 2.3-.1 2.3-.1 2.3 0 3.5-.1 2.3 0 2.2 .1 2.3 0 2.3 .1 3.5 .1 2.3 .1 1.5 .1M1114.0 2191.8l0 0 1.1 .2 1.2 .2 1.1 .3 1.2 .2 1.1 .3 1.2 .2 1.1 .3 1.2 .2 .7 .2M1151.9 2201.5l2.2 .7 2.3 .6 2.3 .7 2.3 .7 2.3 .7 2.3 .7 2.3 .7 2.3 .7 2.3 .7 3.4 1 2.3 .7 2.3 .7 2.3 .6 2.3 .7 2.3 .6 2.3 .6 2.3 .6 2.3 .6 1.6 .4"/>
</g>
<text class="n" x="1035.2" y="2118.5">n=79</text>
<text x="3.6" y="2552.5" font-size="38">Cluster 8</text>
<text class="c" x="417.3" y="2402.1">Interval &amp;</text>
<text class="c" x="420.1" y="2424.5">LonGenity cohorts</text>
<rect class="x" x="303.80" y="2433.00" width="232.60" height="211.90"/>
<text class="a" transform="translate(285.3 2637.06) rotate(-90)">–2</text>
<text class="a" transform="translate(285.3 2587.98) rotate(-90)">–1</text>
<text class="a" transform="translate(285.3 2538.90) rotate(-90)">0</text>
<text class="a" transform="translate(285.3 2489.82) rotate(-90)">1</text>
<text class="a" transform="translate(285.3 2440.74) rotate(-90)">2</text>
<text class="a" x="317.15" y="2672.3">20</text>
<text class="a" x="365.49" y="2672.3">40</text>
<text class="a" x="413.83" y="2672.3">60</text>
<text class="a" x="462.17" y="2672.3">80</text>
<text class="a" x="510.51" y="2672.3">100</text>
<path class="k" d="M296.4 2637.06h7.4M296.4 2587.98h7.4M296.4 2538.90h7.4M296.4 2489.82h7.4M296.4 2440.74h7.4M317.15 2644.9v8M365.49 2644.9v8M413.83 2644.9v8M462.17 2644.9v8M510.51 2644.9v8"/>
<text class="b" x="420.1" y="2701.5">Age (years)</text>
<text class="b" style="font-size:25px" transform="translate(255.4 2540.4) rotate(-90)">Protein levels (Z–score)</text>
<g clip-path="url(#k70)">
<g class="l" stroke="#A5A6AF">
<path stroke-width="1.1" stroke-opacity="0.40" d="M312.3 2480.4l1.6 1.5 2.2 2 2.6 2.4 2.7 2.6 2.8 2.6 2.6 2.3 2.5 2.3 2.8 2.4 2.8 2.3 2.5 2.2 2.2 1.8 1.6 1.4"/>
<path stroke-width="1.5" stroke-opacity="0.40" d="M312.3 2522.6l1.2-.1 1.6-.1 1.9-.2 2-.1 1.9-.2 1.7-.1 1.6-.1 1.6 0 1.6-.1 1.4 0 1.2 0 .9 0"/>
<path stroke-width="1.2" stroke-opacity="0.30" d="M491.4 2589.5l7.2 3.1"/>
<path stroke-width="1.1" stroke-opacity="0.35" d="M489.4 2611.1l9.2 10.3"/>
</g>
<path class="m" stroke="#fff" stroke-width="19.0" d="M312.3 2511.5l3 .1 3.8 .4 2.9 .5 2.9 .5 3 .6 3.8 .9 2.9 .8 2.9 .9 3 .9 3.8 1.2 2.9 1 2.9 1 3 1 3.8 1.4 2.9 1 2.9 .9 3 1 3.8 1.2 2.9 .9 2.9 .9 3 1 3.8 1.2 2.9 .9 2.9 1 2.9 1 3.9 1.5 2.9 1.1 2.9 1.2 2.9 1.2 3.9 1.8 2.9 1.4 2.9 1.5 2.9 1.6 3.9 2.3 2.9 1.8 2.9 1.8 2.9 1.9 3.9 2.6 2.9 2 2.9 2 2.9 2.1 3.9 2.8 2.9 2.1 2.9 2.1 2.9 2.1 3.9 2.9 2.9 2.2 2.9 2.2 2.9 2.2 3.9 3 2.9 2.3 2.9 2.3 2.9 2.4 3.9 3.2 2.9 2.4 2.9 2.4 2.9 2.5 3.9 3.4 2.9 2.6"/>
<path class="m" stroke="#A5A6AF" stroke-width="8.8" d="M312.3 2511.5l3 .1 3.8 .4 2.9 .5 2.9 .5 3 .6 3.8 .9 2.9 .8 2.9 .9 3 .9 3.8 1.2 2.9 1 2.9 1 3 1 3.8 1.4 2.9 1 2.9 .9 3 1 3.8 1.2 2.9 .9 2.9 .9 3 1 3.8 1.2 2.9 .9 2.9 1 2.9 1 3.9 1.5 2.9 1.1 2.9 1.2 2.9 1.2 3.9 1.8 2.9 1.4 2.9 1.5 2.9 1.6 3.9 2.3 2.9 1.8 2.9 1.8 2.9 1.9 3.9 2.6 2.9 2 2.9 2 2.9 2.1 3.9 2.8 2.9 2.1 2.9 2.1 2.9 2.1 3.9 2.9 2.9 2.2 2.9 2.2 2.9 2.2 3.9 3 2.9 2.3 2.9 2.3 2.9 2.4 3.9 3.2 2.9 2.4 2.9 2.4 2.9 2.5 3.9 3.4 2.9 2.6"/>
</g>
<text class="n" x="353.6" y="2459.3">n=8</text>
<text class="c" x="760.9" y="2402.1">Subset of proteins measured</text>
<text class="c" x="763.5" y="2424.5">in independent cohorts</text>
<rect class="x" x="644.60" y="2433.00" width="232.60" height="211.90"/>
<text class="a" transform="translate(626.1 2637.06) rotate(-90)">–2</text>
<text class="a" transform="translate(626.1 2587.98) rotate(-90)">–1</text>
<text class="a" transform="translate(626.1 2538.90) rotate(-90)">0</text>
<text class="a" transform="translate(626.1 2489.82) rotate(-90)">1</text>
<text class="a" transform="translate(626.1 2440.74) rotate(-90)">2</text>
<text class="a" x="657.95" y="2672.3">20</text>
<text class="a" x="706.29" y="2672.3">40</text>
<text class="a" x="754.63" y="2672.3">60</text>
<text class="a" x="802.97" y="2672.3">80</text>
<text class="a" x="851.31" y="2672.3">100</text>
<path class="k" d="M637.2 2637.06h7.4M637.2 2587.98h7.4M637.2 2538.90h7.4M637.2 2489.82h7.4M637.2 2440.74h7.4M657.95 2644.9v8M706.29 2644.9v8M754.63 2644.9v8M802.97 2644.9v8M851.31 2644.9v8"/>
<text class="b" x="760.9" y="2701.5">Age (years)</text>
<text class="b" style="font-size:25px" transform="translate(596.2 2540.4) rotate(-90)">Protein levels (Z–score)</text>
<g clip-path="url(#k71)">
<g class="l" stroke="#A5A6AF">
<path stroke-width="1.1" stroke-opacity="0.40" d="M653.3 2480.4l1.6 1.5 2.2 2 2.6 2.4 2.8 2.6 2.7 2.6 2.6 2.3 2.4 2.3 2.6 2.4 2.5 2.3 2.4 2.2 2 1.8 1.4 1.4"/>
<path stroke-width="1.5" stroke-opacity="0.40" d="M653.3 2522.6l10.3-1"/>
<path stroke-width="1.2" stroke-opacity="0.30" d="M832.4 2588.5l7.2 4.1"/>
<path stroke-width="1.1" stroke-opacity="0.35" d="M832.4 2613.2l7.2 9.3"/>
</g>
<path class="m" stroke="#fff" stroke-width="19.0" d="M653.3 2511.5l3 .1 3.8 .4 2.9 .5 2.9 .5 3 .6 3.8 .9 2.9 .8 2.9 .9 3 .9 3.8 1.2 2.9 1 2.9 1 3 1 3.8 1.4 2.9 1 2.9 .9 3 1 3.8 1.2 2.9 .9 2.9 .9 3 1 3.8 1.2 2.9 .9 2.9 1 2.9 1 3.9 1.5 2.9 1.1 2.9 1.2 2.9 1.2 3.9 1.8 2.9 1.4 2.9 1.5 2.9 1.6 3.9 2.3 2.9 1.8 2.9 1.8 2.9 1.9 3.9 2.6 2.9 2 2.9 2 2.9 2.1 3.9 2.8 2.9 2.1 2.9 2.1 2.9 2.1 3.9 2.9 2.9 2.2 2.9 2.2 2.9 2.2 3.9 3 2.9 2.3 2.9 2.3 2.9 2.4 3.9 3.2 2.9 2.4 2.9 2.4 2.9 2.5 3.9 3.4 2.9 2.6"/>
<path class="m" stroke="#A5A6AF" stroke-width="8.8" d="M653.3 2511.5l3 .1 3.8 .4 2.9 .5 2.9 .5 3 .6 3.8 .9 2.9 .8 2.9 .9 3 .9 3.8 1.2 2.9 1 2.9 1 3 1 3.8 1.4 2.9 1 2.9 .9 3 1 3.8 1.2 2.9 .9 2.9 .9 3 1 3.8 1.2 2.9 .9 2.9 1 2.9 1 3.9 1.5 2.9 1.1 2.9 1.2 2.9 1.2 3.9 1.8 2.9 1.4 2.9 1.5 2.9 1.6 3.9 2.3 2.9 1.8 2.9 1.8 2.9 1.9 3.9 2.6 2.9 2 2.9 2 2.9 2.1 3.9 2.8 2.9 2.1 2.9 2.1 2.9 2.1 3.9 2.9 2.9 2.2 2.9 2.2 2.9 2.2 3.9 3 2.9 2.3 2.9 2.3 2.9 2.4 3.9 3.2 2.9 2.4 2.9 2.4 2.9 2.5 3.9 3.4 2.9 2.6"/>
</g>
<text class="n" x="694.4" y="2459.3">n=7</text>
<text class="c" x="1101.7" y="2402.1">Corresponding trajectories</text>
<text class="c" x="1101.7" y="2424.5">in independent cohorts</text>
<rect class="x" x="985.40" y="2433.00" width="232.60" height="211.90"/>
<text class="a" transform="translate(966.9 2637.06) rotate(-90)">–2</text>
<text class="a" transform="translate(966.9 2587.98) rotate(-90)">–1</text>
<text class="a" transform="translate(966.9 2538.90) rotate(-90)">0</text>
<text class="a" transform="translate(966.9 2489.82) rotate(-90)">1</text>
<text class="a" transform="translate(966.9 2440.74) rotate(-90)">2</text>
<text class="a" x="998.75" y="2672.3">20</text>
<text class="a" x="1047.09" y="2672.3">40</text>
<text class="a" x="1095.43" y="2672.3">60</text>
<text class="a" x="1143.77" y="2672.3">80</text>
<text class="a" x="1192.11" y="2672.3">100</text>
<path class="k" d="M978.0 2637.06h7.4M978.0 2587.98h7.4M978.0 2538.90h7.4M978.0 2489.82h7.4M978.0 2440.74h7.4M998.75 2644.9v8M1047.09 2644.9v8M1095.43 2644.9v8M1143.77 2644.9v8M1192.11 2644.9v8"/>
<text class="b" x="1101.7" y="2701.5">Age (years)</text>
<text class="b" style="font-size:25px" transform="translate(937.0 2540.4) rotate(-90)">Protein levels (Z–score)</text>
<g clip-path="url(#k72)">
<g class="l" stroke="#A5A6AF">
<path stroke-width="1.1" stroke-opacity="0.45" d="M1000.6 2470.1l3.2 1.2 4.5 1.7 5.4 1.9 5.7 2.1 5.7 2.3 5.3 2.2 5.2 2.3 5.5 2.8 5.6 2.8 5.1 2.6 4.3 2.3 3.1 1.6"/>
<path stroke-width="1.1" stroke-opacity="0.45" d="M1000.6 2490.7l3.4-.3 4.9-.6 5.7-.6 6.1-.5 6.1-.2 5.7 .2 5.5 .7 6 1.2 5.9 1.5 5.5 1.6 4.6 1.3 3.3 .9"/>
<path stroke-width="1.1" stroke-opacity="0.45" d="M1000.6 2518.5l11.3-6.2"/>
<path stroke-width="1.1" stroke-opacity="0.45" d="M1000.6 2538.1l3.9-1.4 5.4-2 6.5-2.2 6.9-2.4 6.9-2.4 6.4-2 6.3-1.8 6.7-1.8 6.7-1.8 6.2-1.6 5.3-1.3 3.8-1"/>
<path stroke-width="1.1" stroke-opacity="0.45" d="M1108.6 2510.3l1.8 .3 2.6 .4 2.9 .4 3.2 .7 3.2 1 2.8 1.3 2.7 2 2.8 2.6 2.7 2.9 2.5 2.8 2.1 2.4 1.6 1.7"/>
<path stroke-width="1.1" stroke-opacity="0.45" d="M1090.1 2523.7l1.4 1.2 1.9 1.7 2.4 2.1 2.6 2.2 2.9 2.1 3.2 2 3.8 1.9 4.6 2 4.8 1.9 4.7 1.8 4 1.6 2.8 1.1"/>
<path stroke-width="1.1" stroke-opacity="0.45" d="M1199.2 2584.4l10.3-5.2"/>
<path stroke-width="1.1" stroke-opacity="0.45" d="M1193.0 2600.8l.9 .7 1.2 .8 1.5 1 1.6 1.1 1.6 1.3 1.4 1.3 1.5 1.6 1.6 1.9 1.6 2 1.4 2 1.3 1.6 .9 1.2"/>
</g>
<path class="m" stroke="#fff" stroke-width="19.0" d="M1002.6 2504.1l3.7-.5 3.6-.5 3.7-.3 3.6-.3 3.7-.3 3.6-.1 3.7-.1 4.6 0 3.6 .1 3.7 .1 3.6 .3 3.7 .3 3.6 .4 3.7 .4 3.6 .6 3.7 .6 3.6 .7 3.7 .8 3.6 .8 3.7 .9 3.6 1.1 3.7 1 4.6 1.5 3.6 1.3 3.7 1.4 3.6 1.4 3.7 1.6 3.6 1.8 3.7 1.8 3.6 2 3.7 2.2 3.7 2.3 3.6 2.5 3.7 2.7 3.6 2.9 3.7 3.1 4.5 4.1 3.7 3.5 3.6 3.5 3.7 3.7 3.6 3.6 3.7 3.8 3.7 3.7 3.6 3.7 3.7 3.6 3.6 3.5 3.7 3.5 3.6 3.3 3.7 3.1 3.6 3 3.7 2.7 4.5 3 3.7 2.2 3.7 1.8 3.6 1.5 3.7 1.1 3.6 .8 3.7 .3 3.6-.1"/>
<path class="m" stroke="#A5A6AF" stroke-width="8.8" d="M1002.9 2504.0l.6 0 .9-.2 1-.1 .9-.1 .9-.1 .9-.2 .9-.1 .9-.1 .7 0M1039.9 2502.2l2 .1 1.8 .2 2.8 .2 2.7 .3 1.8 .2 2.8 .3 2.7 .4 1.8 .3 2.8 .4 2.7 .5 2.7 .6 1.9 .4 2.7 .6 2.8 .6 1.8 .5 2.7 .7 2.8 .8 1.8 .6 1.9 .5M1112.5 2522.1l.6 .3 .9 .5 1 .6 .9 .5 .9 .5 .9 .6 .9 .6 .9 .5 .9 .6M1142.7 2544.8l1.5 1.4 1.8 1.7 1.8 1.8 1.9 1.8 1.8 1.9 1.8 1.8 1.8 1.8 1.9 1.9 1.8 1.9 .9 .9 1.8 1.8 1.9 1.9 1.8 1.8 1.8 1.9 1.8 1.8 1.9 1.8 1.8 1.8 1.8 1.7 1.1 1M1198.8 2595.5l.2 .1 .9 .5 .9 .5 .9 .4 .9 .5 1 .4 .9 .4 .9 .4 .9 .4 0 0"/>
</g>
<text class="n" x="1035.2" y="2459.3">n=7</text>
</svg></body></html>
